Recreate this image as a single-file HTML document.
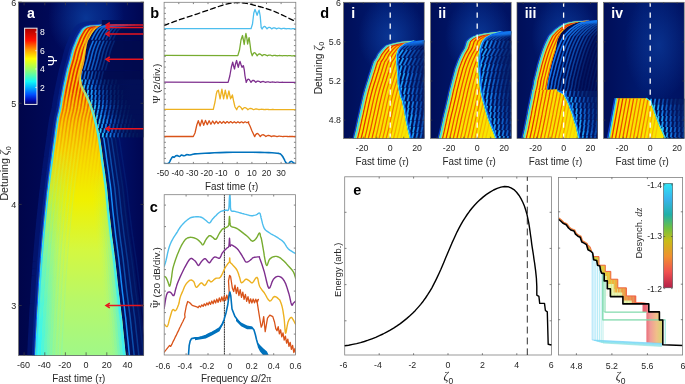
<!DOCTYPE html>
<html><head><meta charset="utf-8"><style>
html,body{margin:0;padding:0;background:#fff;}
svg{display:block;will-change:transform;}
text{font-family:"Liberation Sans", sans-serif;}
</style></head><body>
<svg xmlns="http://www.w3.org/2000/svg" width="685" height="384" viewBox="0 0 685 384">
<defs>
<clipPath id="clipA"><rect x="18.5" y="2.1" width="125.2" height="353.4"/></clipPath>
<linearGradient id="aBg" x1="0" y1="0" x2="1" y2="0">
<stop offset="0" stop-color="#00054a"/><stop offset="0.35" stop-color="#000a5c"/>
<stop offset="0.7" stop-color="#001470"/><stop offset="1" stop-color="#000652"/></linearGradient>
<radialGradient id="aGlow" cx="0.5" cy="0.5" r="0.5">
<stop offset="0" stop-color="#0a3a9a" stop-opacity="0.9"/><stop offset="1" stop-color="#0a3a9a" stop-opacity="0"/></radialGradient>
<clipPath id="aUp0"><path d="M101.9,20 L101.9,24.7 L100.2,25.7 L98.5,26.7 L97.2,27.7 L96,28.7 L94.8,29.7 L94.1,30.7 L93.3,31.7 L92.6,32.7 L91.9,33.7 L91.3,34.7 L90.8,35.7 L90.2,36.7 L89.7,37.7 L89.1,38.7 L88.5,39.7 L88.2,40.3 L140,40.3 L140,20Z"/></clipPath>
<clipPath id="aUp1"><path d="M88.2,40.3 L88,40.7 L87.6,41.7 L87.4,42.7 L87.2,43.7 L86.9,44.7 L86.8,45 L86.2,48.5 L85.6,52 L85.2,55.5 L84.7,59 L84.1,62.5 L83.3,66 L82.2,69.5 L81.9,70.8 L140,70.8 L140,40.3Z"/></clipPath>
<clipPath id="aUp2"><path d="M81.9,70.8 L81.5,73 L81,76.5 L81,80 L81,80 L140,80 L140,70.8Z"/></clipPath>
<linearGradient id="ckBgA" gradientUnits="userSpaceOnUse" x1="80" y1="0" x2="130" y2="0"><stop offset="0" stop-color="#000a4c"/><stop offset="1" stop-color="#020f56"/></linearGradient>
<clipPath id="aBody"><path d="M101.9,24.7 L89.4,25.7 L85.9,26.7 L84.1,27.7 L82.8,28.7 L81.9,29.7 L81.2,30.7 L80.6,31.7 L80,32.7 L79.4,33.7 L78.8,34.7 L78.3,35.7 L77.8,36.7 L77.3,37.7 L76.8,38.7 L76.4,39.7 L76,40.7 L75.6,41.7 L75.2,42.7 L74.8,43.7 L74.4,44.7 L74.2,45 L72.9,48.5 L71.8,52 L70.9,55.5 L70.1,59 L69.1,62.5 L68.1,66 L67.1,69.5 L66.3,73 L65.5,76.5 L64.8,80 L64,83.5 L63.3,87 L62.6,90.5 L62,94 L61.3,97.5 L60.7,101 L60.2,104.5 L59.6,108 L58.9,111.5 L58,115 L57.2,118.5 L56.6,122 L56.1,125.5 L55.6,129 L55.1,132.5 L54.7,136 L54.2,139.5 L53.7,143 L53.2,146.5 L52.7,150 L52.2,153.5 L51.8,157 L51.3,160.5 L50.8,164 L50.4,167.5 L49.9,171 L49.5,174.5 L49,178 L48.6,181.5 L48.2,185 L47.8,188.5 L47.3,192 L46.9,195.5 L46.6,199 L46.2,202.5 L45.8,206 L45.5,209.5 L45.1,213 L44.7,216.5 L44.4,220 L44,223.5 L43.7,227 L43.4,230.5 L43,234 L42.7,237.5 L42.4,241 L42.1,244.5 L41.8,248 L41.5,251.5 L41.2,255 L40.9,258.5 L40.7,262 L40.4,265.5 L40.2,269 L39.9,272.5 L39.7,276 L39.4,279.5 L39.1,283 L38.9,286.5 L38.7,290 L38.5,293.5 L38.3,297 L38.1,300.5 L37.9,304 L37.6,307.5 L37.4,311 L37.2,314.5 L37,318 L36.8,321.5 L36.7,325 L36.5,328.5 L36.3,332 L36.1,335.5 L35.9,339 L35.7,342.5 L35.6,346 L35.4,349.5 L35.3,353 L35.2,356.5 L35.2,357 L126,357 L126,356.5 L125.6,353 L125.2,349.5 L124.9,346 L124.5,342.5 L124.2,339 L123.8,335.5 L123.5,332 L123.1,328.5 L122.8,325 L122.5,321.5 L122.1,318 L121.6,314.5 L121.2,311 L120.8,307.5 L120.3,304 L119.9,300.5 L119.5,297 L119,293.5 L118.6,290 L118.2,286.5 L117.8,283 L117.4,279.5 L117.1,276 L116.7,272.5 L116.3,269 L115.9,265.5 L115.5,262 L115.1,258.5 L114.6,255 L114.2,251.5 L113.7,248 L113.3,244.5 L112.8,241 L112.3,237.5 L111.9,234 L111.5,230.5 L111.1,227 L110.7,223.5 L110.3,220 L109.9,216.5 L109.5,213 L109.1,209.5 L108.8,206 L108.5,202.5 L108.1,199 L107.8,195.5 L107.5,192 L107.1,188.5 L106.7,185 L106.2,181.5 L105.7,178 L105.3,174.5 L104.8,171 L104.3,167.5 L103.8,164 L103.3,160.5 L102.8,157 L102.4,153.5 L101.9,150 L101.4,146.5 L100.9,143 L100.4,139.5 L99.7,136 L99,132.5 L98.3,129 L97.5,125.5 L96.6,122 L95.7,118.5 L94.8,115 L93.8,111.5 L92.6,108 L91.4,104.5 L90,101 L88.4,97.5 L86.7,94 L84.8,90.5 L82.9,87 L81.7,83.5 L81,80 L81,76.5 L81.5,73 L82.2,69.5 L83.3,66 L84.1,62.5 L84.7,59 L85.2,55.5 L85.6,52 L86.2,48.5 L86.8,45 L86.9,44.7 L87.2,43.7 L87.4,42.7 L87.6,41.7 L88,40.7 L88.5,39.7 L89.1,38.7 L89.7,37.7 L90.2,36.7 L90.8,35.7 L91.3,34.7 L91.9,33.7 L92.6,32.7 L93.3,31.7 L94.1,30.7 L94.8,29.7 L96,28.7 L97.2,27.7 L98.5,26.7 L100.2,25.7 L101.9,24.7Z"/></clipPath>
<linearGradient id="aBodyG" gradientUnits="userSpaceOnUse" x1="0" y1="24" x2="0" y2="356">
<stop offset="0" stop-color="#f8c400"/><stop offset="0.2" stop-color="#f8c000"/><stop offset="0.38" stop-color="#f8d800"/>
<stop offset="0.53" stop-color="#f0f000"/><stop offset="0.68" stop-color="#d4f840"/><stop offset="0.83" stop-color="#b8f868"/><stop offset="1" stop-color="#a0f888"/></linearGradient>
<linearGradient id="aStripe" gradientUnits="userSpaceOnUse" x1="0" y1="24" x2="0" y2="356">
<stop offset="0" stop-color="#e42800" stop-opacity="1"/><stop offset="0.2" stop-color="#e83400" stop-opacity="1"/>
<stop offset="0.3" stop-color="#f07000" stop-opacity="0.6"/><stop offset="0.4" stop-color="#f0a000" stop-opacity="0.25"/><stop offset="0.5" stop-color="#f0c000" stop-opacity="0.0"/><stop offset="1" stop-color="#f0c000" stop-opacity="0"/></linearGradient>
<linearGradient id="aStripeL" gradientUnits="userSpaceOnUse" x1="0" y1="24" x2="0" y2="356">
<stop offset="0" stop-color="#f8f020" stop-opacity="0.0"/><stop offset="0.3" stop-color="#d0f860" stop-opacity="0.0"/>
<stop offset="0.5" stop-color="#b0f070" stop-opacity="0.3"/><stop offset="1" stop-color="#60f8e0" stop-opacity="0.25"/></linearGradient>
<linearGradient id="aLW0" gradientUnits="userSpaceOnUse" x1="0" y1="150" x2="0" y2="356"><stop offset="0" stop-color="#30f4fc" stop-opacity="0.0"/><stop offset="1" stop-color="#30f4fc" stop-opacity="1.0"/></linearGradient>
<linearGradient id="aLW1" gradientUnits="userSpaceOnUse" x1="0" y1="150" x2="0" y2="356"><stop offset="0" stop-color="#34f6f4" stop-opacity="0.0"/><stop offset="1" stop-color="#34f6f4" stop-opacity="1.0"/></linearGradient>
<linearGradient id="aLW2" gradientUnits="userSpaceOnUse" x1="0" y1="150" x2="0" y2="356"><stop offset="0" stop-color="#44f6e4" stop-opacity="0.0"/><stop offset="1" stop-color="#44f6e4" stop-opacity="0.92"/></linearGradient>
<linearGradient id="aLW3" gradientUnits="userSpaceOnUse" x1="0" y1="150" x2="0" y2="356"><stop offset="0" stop-color="#54f6d4" stop-opacity="0.0"/><stop offset="1" stop-color="#54f6d4" stop-opacity="0.82"/></linearGradient>
<linearGradient id="aLW4" gradientUnits="userSpaceOnUse" x1="0" y1="150" x2="0" y2="356"><stop offset="0" stop-color="#64f6c4" stop-opacity="0.0"/><stop offset="1" stop-color="#64f6c4" stop-opacity="0.7"/></linearGradient>
<linearGradient id="aLW5" gradientUnits="userSpaceOnUse" x1="0" y1="150" x2="0" y2="356"><stop offset="0" stop-color="#74f6b4" stop-opacity="0.0"/><stop offset="1" stop-color="#74f6b4" stop-opacity="0.56"/></linearGradient>
<linearGradient id="aLW6" gradientUnits="userSpaceOnUse" x1="0" y1="150" x2="0" y2="356"><stop offset="0" stop-color="#84f6a4" stop-opacity="0.0"/><stop offset="1" stop-color="#84f6a4" stop-opacity="0.42"/></linearGradient>
<linearGradient id="aLW7" gradientUnits="userSpaceOnUse" x1="0" y1="150" x2="0" y2="356"><stop offset="0" stop-color="#94f694" stop-opacity="0.0"/><stop offset="1" stop-color="#94f694" stop-opacity="0.28"/></linearGradient>
<linearGradient id="aLW8" gradientUnits="userSpaceOnUse" x1="0" y1="150" x2="0" y2="356"><stop offset="0" stop-color="#a0f688" stop-opacity="0.0"/><stop offset="1" stop-color="#a0f688" stop-opacity="0.14"/></linearGradient>
<linearGradient id="aRW0" gradientUnits="userSpaceOnUse" x1="0" y1="170" x2="0" y2="356"><stop offset="0" stop-color="#40f0f4" stop-opacity="0.0"/><stop offset="1" stop-color="#40f0f4" stop-opacity="0.9"/></linearGradient>
<linearGradient id="aRW1" gradientUnits="userSpaceOnUse" x1="0" y1="170" x2="0" y2="356"><stop offset="0" stop-color="#50f2e0" stop-opacity="0.0"/><stop offset="1" stop-color="#50f2e0" stop-opacity="0.8"/></linearGradient>
<linearGradient id="aRW2" gradientUnits="userSpaceOnUse" x1="0" y1="170" x2="0" y2="356"><stop offset="0" stop-color="#60f4cc" stop-opacity="0.0"/><stop offset="1" stop-color="#60f4cc" stop-opacity="0.62"/></linearGradient>
<linearGradient id="aRW3" gradientUnits="userSpaceOnUse" x1="0" y1="170" x2="0" y2="356"><stop offset="0" stop-color="#74f6b8" stop-opacity="0.0"/><stop offset="1" stop-color="#74f6b8" stop-opacity="0.45"/></linearGradient>
<linearGradient id="aRW4" gradientUnits="userSpaceOnUse" x1="0" y1="170" x2="0" y2="356"><stop offset="0" stop-color="#88f6a4" stop-opacity="0.0"/><stop offset="1" stop-color="#88f6a4" stop-opacity="0.28"/></linearGradient>
<linearGradient id="aRW5" gradientUnits="userSpaceOnUse" x1="0" y1="170" x2="0" y2="356"><stop offset="0" stop-color="#98f694" stop-opacity="0.0"/><stop offset="1" stop-color="#98f694" stop-opacity="0.12"/></linearGradient>
<linearGradient id="aRightG" gradientUnits="userSpaceOnUse" x1="0" y1="24" x2="0" y2="356">
<stop offset="0" stop-color="#f8d820" stop-opacity="0.5"/><stop offset="0.15" stop-color="#e8f040" stop-opacity="0.6"/><stop offset="0.22" stop-color="#80f0b0" stop-opacity="0.9"/><stop offset="0.3" stop-color="#40e8f0" stop-opacity="1"/>
<stop offset="1" stop-color="#40f0f0" stop-opacity="1"/></linearGradient>
<linearGradient id="jetCB" x1="0" y1="1" x2="0" y2="0">
<stop offset="0" stop-color="#00005a"/><stop offset="0.06" stop-color="#0010c0"/><stop offset="0.13" stop-color="#0050ff"/>
<stop offset="0.22" stop-color="#00b0ff"/><stop offset="0.3" stop-color="#10f8f8"/><stop offset="0.45" stop-color="#90ff70"/>
<stop offset="0.6" stop-color="#ffff00"/><stop offset="0.72" stop-color="#ff9800"/><stop offset="0.84" stop-color="#ff1000"/><stop offset="1" stop-color="#a80000"/></linearGradient>
<clipPath id="clipB"><rect x="164.1" y="1.2999999999999998" width="131.7" height="162.4"/></clipPath>
<clipPath id="clipC"><rect x="164.2" y="194.7" width="131.4" height="160.3"/></clipPath>
<linearGradient id="dBg" x1="0" y1="0" x2="1" y2="0">
<stop offset="0" stop-color="#000e58"/><stop offset="0.5" stop-color="#001a70"/><stop offset="1" stop-color="#001262"/></linearGradient>
<radialGradient id="dGlow" cx="0.5" cy="0.5" r="0.5">
<stop offset="0" stop-color="#0c3c9c" stop-opacity="0.85"/><stop offset="1" stop-color="#0c3c9c" stop-opacity="0"/></radialGradient>
<linearGradient id="dBodyG" gradientUnits="userSpaceOnUse" x1="0" y1="20" x2="0" y2="139">
<stop offset="0" stop-color="#f8d400"/><stop offset="0.5" stop-color="#f8e000"/><stop offset="1" stop-color="#f8e800"/></linearGradient>
<linearGradient id="ckBg" x1="0" y1="0" x2="1" y2="0"><stop offset="0" stop-color="#000a4c"/><stop offset="1" stop-color="#041c6a"/></linearGradient>
<clipPath id="clipD0"><rect x="343.6" y="2.3" width="80.6" height="136.2"/></clipPath>
<clipPath id="dR0"><path d="M414,41 L413.5,41.1 L403.9,44.1 L399.7,47.1 L397.5,50.1 L396.7,53.1 L396,56.1 L396.1,59.1 L396.2,62.1 L396.5,65.1 L396.7,68.1 L396.9,71.1 L397.2,74.1 L397.3,77.1 L397.5,80.1 L397.6,83.1 L398,86.1 L398.5,89.1 L399.1,92.1 L399.8,95.1 L400.7,98.1 L401.9,101.1 L402.5,104.1 L403.2,107.1 L403.9,110.1 L404.4,113.1 L404.9,116.1 L405.4,119.1 L406,122.1 L406.7,125.1 L407.3,128.1 L408,131.1 L408.7,134.1 L409.5,137.1 L409.9,140.1 L410,141 L426.2,141 L426.2,40.3Z"/></clipPath>
<clipPath id="dB0"><path d="M414,40.8 L401.6,41.8 L396.4,42.8 L392.1,43.8 L388.7,44.8 L386,45.8 L385,46.8 L383.9,47.8 L382.9,48.8 L381.9,49.8 L381.1,50.8 L380.3,51.8 L379.5,52.8 L378.7,53.8 L378.1,54.8 L377.6,55.8 L377.1,56.8 L376.6,57.8 L376,58.8 L375.3,59.8 L374.6,60.8 L373.9,61.8 L373.6,62.8 L372.6,65.8 L371.7,68.8 L370.8,71.8 L369.8,74.8 L368.9,77.8 L368,80.8 L367,83.8 L366.1,86.8 L365.2,89.8 L364.4,92.8 L363.6,95.8 L362.9,98.8 L362.2,101.8 L361.5,104.8 L360.9,107.8 L360.2,110.8 L359.6,113.8 L358.9,116.8 L358.2,119.8 L357.6,122.8 L356.9,125.8 L356.3,128.8 L355.6,131.8 L354.8,134.8 L354.1,137.8 L353.6,140.8 L353.6,141 L410,141 L409.9,140.1 L409.5,137.1 L408.7,134.1 L408,131.1 L407.3,128.1 L406.7,125.1 L406,122.1 L405.4,119.1 L404.9,116.1 L404.4,113.1 L403.9,110.1 L403.2,107.1 L402.5,104.1 L401.9,101.1 L400.7,98.1 L399.8,95.1 L399.1,92.1 L398.5,89.1 L398,86.1 L397.6,83.1 L397.5,80.1 L397.3,77.1 L397.2,74.1 L396.9,71.1 L396.7,68.1 L396.5,65.1 L396.2,62.1 L396.1,59.1 L396,56.1 L396.7,53.1 L397.5,50.1 L399.7,47.1 L403.9,44.1 L413.5,41.1 L414,41Z"/></clipPath>
<clipPath id="clipD1"><rect x="430.6" y="2.3" width="80.6" height="136.2"/></clipPath>
<clipPath id="dR1"><path d="M501,31.7 L500.4,31.8 L490,34.8 L485.1,37.8 L482.4,40.8 L480.9,43.8 L479.9,46.8 L479.3,49.8 L479,52.8 L478.6,55.8 L478.5,58.8 L478.3,61.8 L478.2,64.8 L478.4,67.8 L478.5,70.8 L478.7,73.8 L478.9,76.8 L479.1,79.8 L479.3,82.8 L479.6,85.8 L480,88.8 L480.5,91.8 L481.1,94.8 L481.8,97.8 L482.5,100.8 L483.4,103.8 L484.2,106.8 L485,109.8 L486,112.8 L486.9,115.8 L487.9,118.8 L489,121.8 L490.1,124.8 L491.3,127.8 L492.5,130.8 L493.7,133.8 L494.8,136.8 L495.4,139.8 L495.5,141 L513.2,141 L513.2,31.1Z"/></clipPath>
<clipPath id="dB1"><path d="M501,31.6 L491.8,32.6 L484.5,33.6 L479.6,34.6 L476.1,35.6 L473.3,36.6 L471.7,37.6 L470,38.6 L469,39.6 L467.9,40.6 L467,41.6 L466.7,42.6 L466.4,43.6 L466.1,44.6 L465.8,45.6 L465.5,46.6 L465.2,47.6 L464.8,48.6 L464.2,49.6 L463.6,50.6 L463,51.6 L462.4,52.6 L461.8,53.6 L460.4,56.6 L459,59.6 L457.8,62.6 L456.7,65.6 L455.6,68.6 L454.8,71.6 L454,74.6 L453.2,77.6 L452.4,80.6 L451.6,83.6 L450.9,86.6 L450.1,89.6 L449.4,92.6 L448.8,95.6 L448.1,98.6 L447.4,101.6 L446.7,104.6 L446,107.6 L445.3,110.6 L444.5,113.6 L443.8,116.6 L443.1,119.6 L442.5,122.6 L441.8,125.6 L441.2,128.6 L440.5,131.6 L439.8,134.6 L439.1,137.6 L438.8,140.6 L438.8,141 L495.5,141 L495.4,139.8 L494.8,136.8 L493.7,133.8 L492.5,130.8 L491.3,127.8 L490.1,124.8 L489,121.8 L487.9,118.8 L486.9,115.8 L486,112.8 L485,109.8 L484.2,106.8 L483.4,103.8 L482.5,100.8 L481.8,97.8 L481.1,94.8 L480.5,91.8 L480,88.8 L479.6,85.8 L479.3,82.8 L479.1,79.8 L478.9,76.8 L478.7,73.8 L478.5,70.8 L478.4,67.8 L478.2,64.8 L478.3,61.8 L478.5,58.8 L478.6,55.8 L479,52.8 L479.3,49.8 L479.9,46.8 L480.9,43.8 L482.4,40.8 L485.1,37.8 L490,34.8 L500.4,31.8 L501,31.7Z"/></clipPath>
<clipPath id="clipD2"><rect x="517" y="2.3" width="80.6" height="136.2"/></clipPath>
<clipPath id="dR2"><path d="M590,20.6 L578.9,22.1 L574.1,23.6 L570.8,25.1 L567.9,26.6 L565.9,28.1 L564.4,29.6 L563.3,30.6 L560.7,33.6 L559.2,36.6 L557.7,39.6 L557,42.6 L556.4,45.6 L555.9,48.6 L555.1,51.6 L554.2,54.6 L553.2,57.6 L552.4,60.6 L551.6,63.6 L550.9,66.6 L550.1,69.6 L549.5,72.6 L548.9,75.6 L548.3,78.6 L547.8,81.6 L547.3,84.6 L546.9,87.6 L546.5,90.5 L546.5,92.5 L557,90.8 L557.3,90.9 L563.2,93.9 L564.8,96.9 L566.2,99.9 L567.8,102.9 L568.9,105.9 L569.9,108.9 L571,111.9 L572.1,114.9 L573,117.9 L573.9,120.9 L574.9,123.9 L575.8,126.9 L576.5,129.9 L577.1,132.9 L577.8,135.9 L578.3,138.9 L578.5,141 L599.6,141 L599.6,19.9Z"/></clipPath>
<clipPath id="dB2u"><path d="M590,20.4 L574.3,21.4 L568.6,22.4 L565,23.4 L563.2,24.4 L561.4,25.4 L559.7,26.4 L558.4,27.4 L557,28.4 L555.6,29.4 L554.6,30.4 L553.6,31.4 L552.6,32.4 L551.7,33.4 L550.7,34.4 L549.7,35.4 L549,36.4 L548.5,37.4 L548,38.4 L547.5,39.4 L547,40.4 L546.5,41.4 L546,42.4 L544.7,45.4 L543.5,48.4 L542.4,51.4 L541.4,54.4 L540.5,57.4 L539.6,60.4 L538.7,63.4 L537.9,66.4 L537.2,69.4 L536.4,72.4 L535.7,75.4 L534.9,78.4 L534.2,81.4 L533.8,84.4 L533.2,87.4 L532.4,90.4 L532.3,91.5 L546.5,91.5 L546.5,90.5 L546.9,87.6 L547.3,84.6 L547.8,81.6 L548.3,78.6 L548.9,75.6 L549.5,72.6 L550.1,69.6 L550.9,66.6 L551.6,63.6 L552.4,60.6 L553.2,57.6 L554.2,54.6 L555.1,51.6 L555.9,48.6 L556.4,45.6 L557,42.6 L557.7,39.6 L559.2,36.6 L560.7,33.6 L563.3,30.6 L564.4,29.6 L565.9,28.1 L567.9,26.6 L570.8,25.1 L574.1,23.6 L578.9,22.1 L590,20.6Z"/></clipPath>
<clipPath id="dB2l"><path d="M532.3,90.5 L531.7,93.4 L531.2,96.4 L530.6,99.4 L530,102.4 L529.4,105.4 L528.8,108.4 L528.2,111.4 L527.7,114.4 L527.1,117.4 L526.5,120.4 L525.9,123.4 L525.3,126.4 L524.7,129.4 L524,132.4 L523.3,135.4 L522.7,138.4 L522.5,141 L578.5,141 L578.3,138.9 L577.8,135.9 L577.1,132.9 L576.5,129.9 L575.8,126.9 L574.9,123.9 L573.9,120.9 L573,117.9 L572.1,114.9 L571,111.9 L569.9,108.9 L568.9,105.9 L567.8,102.9 L566.2,99.9 L564.8,96.9 L563.2,93.9 L557.3,90.9 L557,90.8 L557,89.3Z"/></clipPath>
<clipPath id="clipD3"><rect x="603.6" y="2.3" width="80.6" height="136.2"/></clipPath>
<clipPath id="dR3"><path d="M645.5,98.2 L645.7,98.3 L650.3,101.3 L651.3,104.3 L652.4,107.3 L653.5,110.3 L654.6,113.3 L655.6,116.3 L656.7,119.3 L657.9,122.3 L659.2,125.3 L660.5,128.3 L661.8,131.3 L663.1,134.3 L664.5,137.3 L665,140.3 L665,141 L686.2,141 L686.2,98.6Z"/></clipPath>
<clipPath id="dB3"><path d="M615.4,98.2 L645.5,98.2 L645.7,98.3 L650.3,101.3 L651.3,104.3 L652.4,107.3 L653.5,110.3 L654.6,113.3 L655.6,116.3 L656.7,119.3 L657.9,122.3 L659.2,125.3 L660.5,128.3 L661.8,131.3 L663.1,134.3 L664.5,137.3 L665,140.3 L665,141 L607.8,141Z"/></clipPath>
<clipPath id="clipF"><rect x="558.4" y="177.4" width="124.2" height="177.6"/></clipPath>
<linearGradient id="fBand" gradientUnits="userSpaceOnUse" x1="590" y1="0" x2="640" y2="0">
<stop offset="0" stop-color="#c8d040"/><stop offset="0.35" stop-color="#f0c030"/><stop offset="0.7" stop-color="#f49040"/><stop offset="1" stop-color="#f06050"/></linearGradient>
<clipPath id="fBandClip"><path d="M586,244 L590,246.5 L593.6,256.6 L599,256.6 L599,265.2 L605.3,265.2 L605.3,271.4 L610.8,271.4 L610.8,279.2 L617.8,279.2 L617.8,287.8 L626.4,287.8 L626.4,295.9 L635.8,295.9 L635.8,302.7 L642.5,302.7 L648.8,303.9 L648.8,311.9 L648.8,303.9 L622.9,303.9 L622.9,296.6 L610.4,296.6 L610.4,288.8 L607.3,288.8 L607.3,280.9 L604.2,280.9 L604.2,273.6 L601.6,273.1 L600.6,270.6 L599.8,265.9 L597.5,265.2 L596.7,260.5 L593.6,259.7 L592.7,253 L590.4,251 L588,249.8 L586.5,244.7Z"/></clipPath>
<linearGradient id="fBlock" gradientUnits="userSpaceOnUse" x1="645" y1="0" x2="663" y2="0">
<stop offset="0" stop-color="#e86070"/><stop offset="0.3" stop-color="#f09c98"/><stop offset="0.65" stop-color="#f0c088"/><stop offset="1" stop-color="#d0d870"/></linearGradient>
<linearGradient id="fCB" x1="0" y1="0" x2="0" y2="1">
<stop offset="0" stop-color="#30e4f4"/><stop offset="0.15" stop-color="#38b4ec"/><stop offset="0.3" stop-color="#20b0a8"/>
<stop offset="0.43" stop-color="#70c040"/><stop offset="0.55" stop-color="#c8bc18"/><stop offset="0.7" stop-color="#f09030"/>
<stop offset="0.85" stop-color="#f05050"/><stop offset="1" stop-color="#b42048"/></linearGradient>
</defs>
<rect width="685" height="384" fill="#fff"/>
<g clip-path="url(#clipA)">
<rect x="18.5" y="2.1" width="125.2" height="353.4" fill="url(#aBg)"/>
<ellipse cx="86" cy="18" rx="38" ry="42" fill="url(#aGlow)"/>
<path d="M101.9,24.7 L89.4,25.7 L85.9,26.7 L84.1,27.7 L82.8,28.7 L81.9,29.7 L81.2,30.7 L80.6,31.7 L80,32.7 L79.4,33.7 L78.8,34.7 L78.3,35.7 L77.8,36.7 L77.3,37.7 L76.8,38.7 L76.4,39.7 L76,40.7 L75.6,41.7 L75.2,42.7 L74.8,43.7 L74.4,44.7 L74.2,45 L72.9,48.5 L71.8,52 L70.9,55.5 L70.1,59 L69.1,62.5 L68.1,66 L67.1,69.5 L66.3,73 L65.5,76.5 L64.8,80 L64,83.5 L63.3,87 L62.6,90.5 L62,94 L61.3,97.5 L60.7,101 L60.2,104.5 L59.6,108 L58.9,111.5 L58,115 L57.2,118.5 L56.6,122 L56.1,125.5 L55.6,129 L55.1,132.5 L54.7,136 L54.2,139.5 L53.7,143 L53.2,146.5 L52.7,150 L52.2,153.5 L51.8,157 L51.3,160.5 L50.8,164 L50.4,167.5 L49.9,171 L49.5,174.5 L49,178 L48.6,181.5 L48.2,185 L47.8,188.5 L47.3,192 L46.9,195.5 L46.6,199 L46.2,202.5 L45.8,206 L45.5,209.5 L45.1,213 L44.7,216.5 L44.4,220 L44,223.5 L43.7,227 L43.4,230.5 L43,234 L42.7,237.5 L42.4,241 L42.1,244.5 L41.8,248 L41.5,251.5 L41.2,255 L40.9,258.5 L40.7,262 L40.4,265.5 L40.2,269 L39.9,272.5 L39.7,276 L39.4,279.5 L39.1,283 L38.9,286.5 L38.7,290 L38.5,293.5 L38.3,297 L38.1,300.5 L37.9,304 L37.6,307.5 L37.4,311 L37.2,314.5 L37,318 L36.8,321.5 L36.7,325 L36.5,328.5 L36.3,332 L36.1,335.5 L35.9,339 L35.7,342.5 L35.6,346 L35.4,349.5 L35.3,353 L35.2,356.5 L35.2,357" fill="none" stroke="#041e84" stroke-width="8" opacity="0.55" transform="translate(-4,0)"/>
<path d="M101.9,24.7 L89.4,25.7 L85.9,26.7 L84.1,27.7 L82.8,28.7 L81.9,29.7 L81.2,30.7 L80.6,31.7 L80,32.7 L79.4,33.7 L78.8,34.7 L78.3,35.7 L77.8,36.7 L77.3,37.7 L76.8,38.7 L76.4,39.7 L76,40.7 L75.6,41.7 L75.2,42.7 L74.8,43.7 L74.4,44.7 L74.2,45 L72.9,48.5 L71.8,52 L70.9,55.5 L70.1,59 L69.1,62.5 L68.1,66 L67.1,69.5 L66.3,73 L65.5,76.5 L64.8,80 L64,83.5 L63.3,87 L62.6,90.5 L62,94 L61.3,97.5 L60.7,101 L60.2,104.5 L59.6,108 L58.9,111.5 L58,115 L57.2,118.5 L56.6,122 L56.1,125.5 L55.6,129 L55.1,132.5 L54.7,136 L54.2,139.5 L53.7,143 L53.2,146.5 L52.7,150 L52.2,153.5 L51.8,157 L51.3,160.5 L50.8,164 L50.4,167.5 L49.9,171 L49.5,174.5 L49,178 L48.6,181.5 L48.2,185 L47.8,188.5 L47.3,192 L46.9,195.5 L46.6,199 L46.2,202.5 L45.8,206 L45.5,209.5 L45.1,213 L44.7,216.5 L44.4,220 L44,223.5 L43.7,227 L43.4,230.5 L43,234 L42.7,237.5 L42.4,241 L42.1,244.5 L41.8,248 L41.5,251.5 L41.2,255 L40.9,258.5 L40.7,262 L40.4,265.5 L40.2,269 L39.9,272.5 L39.7,276 L39.4,279.5 L39.1,283 L38.9,286.5 L38.7,290 L38.5,293.5 L38.3,297 L38.1,300.5 L37.9,304 L37.6,307.5 L37.4,311 L37.2,314.5 L37,318 L36.8,321.5 L36.7,325 L36.5,328.5 L36.3,332 L36.1,335.5 L35.9,339 L35.7,342.5 L35.6,346 L35.4,349.5 L35.3,353 L35.2,356.5 L35.2,357" fill="none" stroke="#062a98" stroke-width="3.0" opacity="0.6" transform="translate(-1.8,0)"/>
<path d="M101.9,24.7 L89.4,25.7 L85.9,26.7 L84.1,27.7 L82.8,28.7 L81.9,29.7 L81.2,30.7 L80.6,31.7 L80,32.7 L79.4,33.7 L78.8,34.7 L78.3,35.7 L77.8,36.7 L77.3,37.7 L76.8,38.7 L76.4,39.7 L76,40.7 L75.6,41.7 L75.2,42.7 L74.8,43.7 L74.4,44.7 L74.2,45 L72.9,48.5 L71.8,52 L70.9,55.5 L70.1,59 L69.1,62.5 L68.1,66 L67.1,69.5 L66.3,73 L65.5,76.5 L64.8,80 L64,83.5 L63.3,87 L62.6,90.5 L62,94 L61.3,97.5 L60.7,101 L60.2,104.5 L59.6,108 L58.9,111.5 L58,115 L57.2,118.5 L56.6,122 L56.1,125.5 L55.6,129 L55.1,132.5 L54.7,136 L54.2,139.5 L53.7,143 L53.2,146.5 L52.7,150 L52.2,153.5 L51.8,157 L51.3,160.5 L50.8,164 L50.4,167.5 L49.9,171 L49.5,174.5 L49,178 L48.6,181.5 L48.2,185 L47.8,188.5 L47.3,192 L46.9,195.5 L46.6,199 L46.2,202.5 L45.8,206 L45.5,209.5 L45.1,213 L44.7,216.5 L44.4,220 L44,223.5 L43.7,227 L43.4,230.5 L43,234 L42.7,237.5 L42.4,241 L42.1,244.5 L41.8,248 L41.5,251.5 L41.2,255 L40.9,258.5 L40.7,262 L40.4,265.5 L40.2,269 L39.9,272.5 L39.7,276 L39.4,279.5 L39.1,283 L38.9,286.5 L38.7,290 L38.5,293.5 L38.3,297 L38.1,300.5 L37.9,304 L37.6,307.5 L37.4,311 L37.2,314.5 L37,318 L36.8,321.5 L36.7,325 L36.5,328.5 L36.3,332 L36.1,335.5 L35.9,339 L35.7,342.5 L35.6,346 L35.4,349.5 L35.3,353 L35.2,356.5 L35.2,357" fill="none" stroke="#0c58e8" stroke-width="1.2" transform="translate(-0.5,0)"/>
<path d="M99,132.5 L99.7,136 L100.4,139.5 L100.9,143 L101.4,146.5 L101.9,150 L102.4,153.5 L102.8,157 L103.3,160.5 L103.8,164 L104.3,167.5 L104.8,171 L105.3,174.5 L105.7,178 L106.2,181.5 L106.7,185 L107.1,188.5 L107.5,192 L107.8,195.5 L108.1,199 L108.5,202.5 L108.8,206 L109.1,209.5 L109.5,213 L109.9,216.5 L110.3,220 L110.7,223.5 L111.1,227 L111.5,230.5 L111.9,234 L112.3,237.5 L112.8,241 L113.3,244.5 L113.7,248 L114.2,251.5 L114.6,255 L115.1,258.5 L115.5,262 L115.9,265.5 L116.3,269 L116.7,272.5 L117.1,276 L117.4,279.5 L117.8,283 L118.2,286.5 L118.6,290 L119,293.5 L119.5,297 L119.9,300.5 L120.3,304 L120.8,307.5 L121.2,311 L121.6,314.5 L122.1,318 L122.5,321.5 L122.8,325 L123.1,328.5 L123.5,332 L123.8,335.5 L124.2,339 L124.5,342.5 L124.9,346 L125.2,349.5 L125.6,353 L126,356.5 L126,357 L146.5,357 L146.5,356.5 L146.1,353 L145.6,349.5 L145.2,346 L144.8,342.5 L144.4,339 L144,335.5 L143.5,332 L143.1,328.5 L142.7,325 L142.3,321.5 L141.8,318 L141.3,314.5 L140.8,311 L140.3,307.5 L139.8,304 L139.3,300.5 L138.8,297 L138.3,293.5 L137.8,290 L137.3,286.5 L136.9,283 L136.4,279.5 L136,276 L135.5,272.5 L135.1,269 L134.6,265.5 L134.2,262 L133.7,258.5 L133.1,255 L132.6,251.5 L132.1,248 L131.5,244.5 L131,241 L130.5,237.5 L130,234 L129.5,230.5 L129,227 L128.6,223.5 L128.1,220 L127.6,216.5 L127.1,213 L126.7,209.5 L126.3,206 L125.9,202.5 L125.5,199 L125.1,195.5 L124.7,192 L124.3,188.5 L123.8,185 L123.3,181.5 L122.7,178 L122.2,174.5 L121.6,171 L121,167.5 L120.5,164 L119.9,160.5 L119.4,157 L118.8,153.5 L118.3,150 L117.7,146.5 L117.2,143 L116.6,139.5 L115.9,136 L115.1,132.5Z" fill="#021460" opacity="0.9"/>
<path d="M102.6,132.5 L103.3,136 L104,139.5 L104.5,143 L105,146.5 L105.5,150 L106,153.5 L106.4,157 L106.9,160.5 L107.4,164 L107.9,167.5 L108.4,171 L108.9,174.5 L109.3,178 L109.8,181.5 L110.3,185 L110.7,188.5 L111.1,192 L111.4,195.5 L111.7,199 L112.1,202.5 L112.4,206 L112.7,209.5 L113.1,213 L113.5,216.5 L113.9,220 L114.3,223.5 L114.7,227 L115.1,230.5 L115.5,234 L115.9,237.5 L116.4,241 L116.9,244.5 L117.3,248 L117.8,251.5 L118.2,255 L118.7,258.5 L119.1,262 L119.5,265.5 L119.9,269 L120.3,272.5 L120.7,276 L121,279.5 L121.4,283 L121.8,286.5 L122.2,290 L122.6,293.5 L123.1,297 L123.5,300.5 L123.9,304 L124.4,307.5 L124.8,311 L125.2,314.5 L125.7,318 L126,321.5 L126.4,325 L126.7,328.5 L127.1,332 L127.4,335.5 L127.8,339 L128.2,342.5 L128.5,346 L128.8,349.5 L129.2,353 L129.6,356.5 L129.6,357" fill="none" stroke="#168cf8" stroke-width="1.5" opacity="1"/>
<path d="M106.4,132.5 L107.2,136 L107.9,139.5 L108.4,143 L108.9,146.5 L109.4,150 L109.9,153.5 L110.4,157 L110.9,160.5 L111.3,164 L111.8,167.5 L112.3,171 L112.8,174.5 L113.3,178 L113.8,181.5 L114.3,185 L114.8,188.5 L115.1,192 L115.5,195.5 L115.8,199 L116.2,202.5 L116.5,206 L116.9,209.5 L117.2,213 L117.6,216.5 L118,220 L118.5,223.5 L118.9,227 L119.3,230.5 L119.7,234 L120.2,237.5 L120.6,241 L121.1,244.5 L121.6,248 L122.1,251.5 L122.5,255 L123,258.5 L123.4,262 L123.8,265.5 L124.2,269 L124.6,272.5 L125,276 L125.4,279.5 L125.8,283 L126.2,286.5 L126.6,290 L127.1,293.5 L127.5,297 L128,300.5 L128.4,304 L128.9,307.5 L129.3,311 L129.8,314.5 L130.2,318 L130.6,321.5 L131,325 L131.3,328.5 L131.7,332 L132.1,335.5 L132.4,339 L132.8,342.5 L133.2,346 L133.5,349.5 L133.9,353 L134.3,356.5 L134.3,357" fill="none" stroke="#168cf8" stroke-width="1.5" opacity="0.5"/>
<path d="M110.2,132.5 L111,136 L111.7,139.5 L112.2,143 L112.7,146.5 L113.2,150 L113.8,153.5 L114.3,157 L114.8,160.5 L115.3,164 L115.8,167.5 L116.3,171 L116.8,174.5 L117.3,178 L117.8,181.5 L118.4,185 L118.8,188.5 L119.2,192 L119.5,195.5 L119.9,199 L120.3,202.5 L120.6,206 L121,209.5 L121.3,213 L121.8,216.5 L122.2,220 L122.6,223.5 L123.1,227 L123.5,230.5 L123.9,234 L124.4,237.5 L124.9,241 L125.4,244.5 L125.9,248 L126.3,251.5 L126.8,255 L127.3,258.5 L127.8,262 L128.2,265.5 L128.6,269 L129,272.5 L129.4,276 L129.8,279.5 L130.3,283 L130.7,286.5 L131.1,290 L131.5,293.5 L132,297 L132.5,300.5 L132.9,304 L133.4,307.5 L133.8,311 L134.3,314.5 L134.8,318 L135.2,321.5 L135.6,325 L135.9,328.5 L136.3,332 L136.7,335.5 L137.1,339 L137.4,342.5 L137.8,346 L138.2,349.5 L138.6,353 L139,356.5 L139,357" fill="none" stroke="#168cf8" stroke-width="1.5" opacity="0.3"/>
<path d="M114.1,132.5 L114.8,136 L115.6,139.5 L116.1,143 L116.6,146.5 L117.1,150 L117.6,153.5 L118.2,157 L118.7,160.5 L119.2,164 L119.7,167.5 L120.3,171 L120.8,174.5 L121.3,178 L121.8,181.5 L122.4,185 L122.8,188.5 L123.2,192 L123.6,195.5 L124,199 L124.3,202.5 L124.7,206 L125.1,209.5 L125.5,213 L125.9,216.5 L126.4,220 L126.8,223.5 L127.2,227 L127.7,230.5 L128.1,234 L128.6,237.5 L129.1,241 L129.6,244.5 L130.1,248 L130.6,251.5 L131.1,255 L131.6,258.5 L132.1,262 L132.5,265.5 L133,269 L133.4,272.5 L133.8,276 L134.2,279.5 L134.7,283 L135.1,286.5 L135.5,290 L136,293.5 L136.5,297 L136.9,300.5 L137.4,304 L137.9,307.5 L138.4,311 L138.8,314.5 L139.3,318 L139.7,321.5 L140.1,325 L140.5,328.5 L140.9,332 L141.3,335.5 L141.7,339 L142.1,342.5 L142.5,346 L142.9,349.5 L143.3,353 L143.7,356.5 L143.7,357" fill="none" stroke="#168cf8" stroke-width="1.5" opacity="0.1"/>
<path d="M117.9,132.5 L118.6,136 L119.4,139.5 L119.9,143 L120.5,146.5 L121,150 L121.5,153.5 L122.1,157 L122.6,160.5 L123.2,164 L123.7,167.5 L124.2,171 L124.8,174.5 L125.3,178 L125.9,181.5 L126.4,185 L126.9,188.5 L127.3,192 L127.7,195.5 L128,199 L128.4,202.5 L128.8,206 L129.2,209.5 L129.6,213 L130.1,216.5 L130.5,220 L131,223.5 L131.4,227 L131.9,230.5 L132.3,234 L132.8,237.5 L133.4,241 L133.9,244.5 L134.4,248 L134.9,251.5 L135.4,255 L136,258.5 L136.4,262 L136.9,265.5 L137.3,269 L137.8,272.5 L138.2,276 L138.6,279.5 L139.1,283 L139.5,286.5 L140,290 L140.4,293.5 L140.9,297 L141.4,300.5 L141.9,304 L142.4,307.5 L142.9,311 L143.4,314.5 L143.9,318 L144.3,321.5 L144.7,325 L145.1,328.5 L145.5,332 L145.9,335.5 L146.3,339 L146.8,342.5 L147.2,346 L147.6,349.5 L148,353 L148.4,356.5 L148.4,357" fill="none" stroke="#168cf8" stroke-width="1.5" opacity="0.1"/>
<g clip-path="url(#aUp0)">
<rect x="60" y="20" width="85" height="20.3" fill="#010a4c" opacity="0.85"/>
<path d="M117.4,24.7 L104.9,25.7 L101.4,26.7 L99.6,27.7 L98.3,28.7 L97.4,29.7 L96.7,30.7 L96.1,31.7 L95.5,32.7 L94.9,33.7 L94.3,34.7 L93.8,35.7 L93.3,36.7 L92.8,37.7 L92.3,38.7 L91.9,39.7 L91.5,40.7 L91.1,41.7 L90.7,42.7 L90.3,43.7 L89.9,44.7 L89.7,45 L88.4,48.5 L87.3,52 L86.4,55.5 L85.6,59 L84.6,62.5 L83.6,66 L82.6,69.5 L81.8,73 L81,76.5 L80.3,80 L79.5,83.5 L78.8,87 L78.1,90.5 L77.5,94 L76.8,97.5 L76.2,101 L75.7,104.5 L75.1,108 L74.4,111.5" fill="none" stroke="#1480f4" stroke-width="1.6" opacity="0.9"/>
<path d="M120.9,24.7 L108.4,25.7 L104.9,26.7 L103.1,27.7 L101.8,28.7 L100.9,29.7 L100.2,30.7 L99.6,31.7 L99,32.7 L98.4,33.7 L97.8,34.7 L97.3,35.7 L96.8,36.7 L96.3,37.7 L95.8,38.7 L95.4,39.7 L95,40.7 L94.6,41.7 L94.2,42.7 L93.8,43.7 L93.4,44.7 L93.2,45 L91.9,48.5 L90.8,52 L89.9,55.5 L89.1,59 L88.1,62.5 L87.1,66 L86.1,69.5 L85.3,73 L84.5,76.5 L83.8,80 L83,83.5 L82.3,87 L81.6,90.5 L81,94 L80.3,97.5 L79.7,101 L79.2,104.5 L78.6,108 L77.9,111.5" fill="none" stroke="#1480f4" stroke-width="1.6" opacity="0.8"/>
<path d="M124.4,24.7 L111.9,25.7 L108.4,26.7 L106.6,27.7 L105.3,28.7 L104.4,29.7 L103.7,30.7 L103.1,31.7 L102.5,32.7 L101.9,33.7 L101.3,34.7 L100.8,35.7 L100.3,36.7 L99.8,37.7 L99.3,38.7 L98.9,39.7 L98.5,40.7 L98.1,41.7 L97.7,42.7 L97.3,43.7 L96.9,44.7 L96.7,45 L95.4,48.5 L94.3,52 L93.4,55.5 L92.6,59 L91.6,62.5 L90.6,66 L89.6,69.5 L88.8,73 L88,76.5 L87.3,80 L86.5,83.5 L85.8,87 L85.1,90.5 L84.5,94 L83.8,97.5 L83.2,101 L82.7,104.5 L82.1,108 L81.4,111.5" fill="none" stroke="#1480f4" stroke-width="1.6" opacity="0.7"/>
<path d="M127.9,24.7 L115.4,25.7 L111.9,26.7 L110.1,27.7 L108.8,28.7 L107.9,29.7 L107.2,30.7 L106.6,31.7 L106,32.7 L105.4,33.7 L104.8,34.7 L104.3,35.7 L103.8,36.7 L103.3,37.7 L102.8,38.7 L102.4,39.7 L102,40.7 L101.6,41.7 L101.2,42.7 L100.8,43.7 L100.4,44.7 L100.2,45 L98.9,48.5 L97.8,52 L96.9,55.5 L96.1,59 L95.1,62.5 L94.1,66 L93.1,69.5 L92.3,73 L91.5,76.5 L90.8,80 L90,83.5 L89.3,87 L88.6,90.5 L88,94 L87.3,97.5 L86.7,101 L86.2,104.5 L85.6,108 L84.9,111.5" fill="none" stroke="#1480f4" stroke-width="1.6" opacity="0.6"/>
<path d="M131.4,24.7 L118.9,25.7 L115.4,26.7 L113.6,27.7 L112.3,28.7 L111.4,29.7 L110.7,30.7 L110.1,31.7 L109.5,32.7 L108.9,33.7 L108.3,34.7 L107.8,35.7 L107.3,36.7 L106.8,37.7 L106.3,38.7 L105.9,39.7 L105.5,40.7 L105.1,41.7 L104.7,42.7 L104.3,43.7 L103.9,44.7 L103.7,45 L102.4,48.5 L101.3,52 L100.4,55.5 L99.6,59 L98.6,62.5 L97.6,66 L96.6,69.5 L95.8,73 L95,76.5 L94.3,80 L93.5,83.5 L92.8,87 L92.1,90.5 L91.5,94 L90.8,97.5 L90.2,101 L89.7,104.5 L89.1,108 L88.4,111.5" fill="none" stroke="#1480f4" stroke-width="1.6" opacity="0.4"/>
<path d="M134.9,24.7 L122.4,25.7 L118.9,26.7 L117.1,27.7 L115.8,28.7 L114.9,29.7 L114.2,30.7 L113.6,31.7 L113,32.7 L112.4,33.7 L111.8,34.7 L111.3,35.7 L110.8,36.7 L110.3,37.7 L109.8,38.7 L109.4,39.7 L109,40.7 L108.6,41.7 L108.2,42.7 L107.8,43.7 L107.4,44.7 L107.2,45 L105.9,48.5 L104.8,52 L103.9,55.5 L103.1,59 L102.1,62.5 L101.1,66 L100.1,69.5 L99.3,73 L98.5,76.5 L97.8,80 L97,83.5 L96.3,87 L95.6,90.5 L95,94 L94.3,97.5 L93.7,101 L93.2,104.5 L92.6,108 L91.9,111.5" fill="none" stroke="#1480f4" stroke-width="1.6" opacity="0.3"/>
<path d="M138.4,24.7 L125.9,25.7 L122.4,26.7 L120.6,27.7 L119.3,28.7 L118.4,29.7 L117.7,30.7 L117.1,31.7 L116.5,32.7 L115.9,33.7 L115.3,34.7 L114.8,35.7 L114.3,36.7 L113.8,37.7 L113.3,38.7 L112.9,39.7 L112.5,40.7 L112.1,41.7 L111.7,42.7 L111.3,43.7 L110.9,44.7 L110.7,45 L109.4,48.5 L108.3,52 L107.4,55.5 L106.6,59 L105.6,62.5 L104.6,66 L103.6,69.5 L102.8,73 L102,76.5 L101.3,80 L100.5,83.5 L99.8,87 L99.1,90.5 L98.5,94 L97.8,97.5 L97.2,101 L96.7,104.5 L96.1,108 L95.4,111.5" fill="none" stroke="#1480f4" stroke-width="1.6" opacity="0.2"/>
<path d="M141.9,24.7 L129.4,25.7 L125.9,26.7 L124.1,27.7 L122.8,28.7 L121.9,29.7 L121.2,30.7 L120.6,31.7 L120,32.7 L119.4,33.7 L118.8,34.7 L118.3,35.7 L117.8,36.7 L117.3,37.7 L116.8,38.7 L116.4,39.7 L116,40.7 L115.6,41.7 L115.2,42.7 L114.8,43.7 L114.4,44.7 L114.2,45 L112.9,48.5 L111.8,52 L110.9,55.5 L110.1,59 L109.1,62.5 L108.1,66 L107.1,69.5 L106.3,73 L105.5,76.5 L104.8,80 L104,83.5 L103.3,87 L102.6,90.5 L102,94 L101.3,97.5 L100.7,101 L100.2,104.5 L99.6,108 L98.9,111.5" fill="none" stroke="#1480f4" stroke-width="1.6" opacity="0"/>
<path d="M145.4,24.7 L132.9,25.7 L129.4,26.7 L127.6,27.7 L126.3,28.7 L125.4,29.7 L124.7,30.7 L124.1,31.7 L123.5,32.7 L122.9,33.7 L122.3,34.7 L121.8,35.7 L121.3,36.7 L120.8,37.7 L120.3,38.7 L119.9,39.7 L119.5,40.7 L119.1,41.7 L118.7,42.7 L118.3,43.7 L117.9,44.7 L117.7,45 L116.4,48.5 L115.3,52 L114.4,55.5 L113.6,59 L112.6,62.5 L111.6,66 L110.6,69.5 L109.8,73 L109,76.5 L108.3,80 L107.5,83.5 L106.8,87 L106.1,90.5 L105.5,94 L104.8,97.5 L104.2,101 L103.7,104.5 L103.1,108 L102.4,111.5" fill="none" stroke="#1480f4" stroke-width="1.6" opacity="0"/>
</g>
<g clip-path="url(#aUp1)">
<rect x="60" y="40.3" width="85" height="30.5" fill="#010a4c" opacity="0.85"/>
<path d="M119.2,24.7 L106.7,25.7 L103.2,26.7 L101.4,27.7 L100.1,28.7 L99.2,29.7 L98.5,30.7 L97.9,31.7 L97.3,32.7 L96.7,33.7 L96.1,34.7 L95.6,35.7 L95.1,36.7 L94.6,37.7 L94.1,38.7 L93.7,39.7 L93.3,40.7 L92.9,41.7 L92.5,42.7 L92.1,43.7 L91.7,44.7 L91.5,45 L90.2,48.5 L89.1,52 L88.2,55.5 L87.4,59 L86.4,62.5 L85.4,66 L84.4,69.5 L83.6,73 L82.8,76.5 L82.1,80 L81.3,83.5 L80.6,87 L79.9,90.5 L79.3,94 L78.6,97.5 L78,101 L77.5,104.5 L76.9,108 L76.2,111.5" fill="none" stroke="#1480f4" stroke-width="1.6" opacity="0.9"/>
<path d="M122.7,24.7 L110.2,25.7 L106.7,26.7 L104.9,27.7 L103.6,28.7 L102.7,29.7 L102,30.7 L101.4,31.7 L100.8,32.7 L100.2,33.7 L99.6,34.7 L99.1,35.7 L98.6,36.7 L98.1,37.7 L97.6,38.7 L97.2,39.7 L96.8,40.7 L96.4,41.7 L96,42.7 L95.6,43.7 L95.2,44.7 L95,45 L93.7,48.5 L92.6,52 L91.7,55.5 L90.9,59 L89.9,62.5 L88.9,66 L87.9,69.5 L87.1,73 L86.3,76.5 L85.6,80 L84.8,83.5 L84.1,87 L83.4,90.5 L82.8,94 L82.1,97.5 L81.5,101 L81,104.5 L80.4,108 L79.7,111.5" fill="none" stroke="#1480f4" stroke-width="1.6" opacity="0.8"/>
<path d="M126.2,24.7 L113.7,25.7 L110.2,26.7 L108.4,27.7 L107.1,28.7 L106.2,29.7 L105.5,30.7 L104.9,31.7 L104.3,32.7 L103.7,33.7 L103.1,34.7 L102.6,35.7 L102.1,36.7 L101.6,37.7 L101.1,38.7 L100.7,39.7 L100.3,40.7 L99.9,41.7 L99.5,42.7 L99.1,43.7 L98.7,44.7 L98.5,45 L97.2,48.5 L96.1,52 L95.2,55.5 L94.4,59 L93.4,62.5 L92.4,66 L91.4,69.5 L90.6,73 L89.8,76.5 L89.1,80 L88.3,83.5 L87.6,87 L86.9,90.5 L86.3,94 L85.6,97.5 L85,101 L84.5,104.5 L83.9,108 L83.2,111.5" fill="none" stroke="#1480f4" stroke-width="1.6" opacity="0.7"/>
<path d="M129.7,24.7 L117.2,25.7 L113.7,26.7 L111.9,27.7 L110.6,28.7 L109.7,29.7 L109,30.7 L108.4,31.7 L107.8,32.7 L107.2,33.7 L106.6,34.7 L106.1,35.7 L105.6,36.7 L105.1,37.7 L104.6,38.7 L104.2,39.7 L103.8,40.7 L103.4,41.7 L103,42.7 L102.6,43.7 L102.2,44.7 L102,45 L100.7,48.5 L99.6,52 L98.7,55.5 L97.9,59 L96.9,62.5 L95.9,66 L94.9,69.5 L94.1,73 L93.3,76.5 L92.6,80 L91.8,83.5 L91.1,87 L90.4,90.5 L89.8,94 L89.1,97.5 L88.5,101 L88,104.5 L87.4,108 L86.7,111.5" fill="none" stroke="#1480f4" stroke-width="1.6" opacity="0.6"/>
<path d="M133.2,24.7 L120.7,25.7 L117.2,26.7 L115.4,27.7 L114.1,28.7 L113.2,29.7 L112.5,30.7 L111.9,31.7 L111.3,32.7 L110.7,33.7 L110.1,34.7 L109.6,35.7 L109.1,36.7 L108.6,37.7 L108.1,38.7 L107.7,39.7 L107.3,40.7 L106.9,41.7 L106.5,42.7 L106.1,43.7 L105.7,44.7 L105.5,45 L104.2,48.5 L103.1,52 L102.2,55.5 L101.4,59 L100.4,62.5 L99.4,66 L98.4,69.5 L97.6,73 L96.8,76.5 L96.1,80 L95.3,83.5 L94.6,87 L93.9,90.5 L93.3,94 L92.6,97.5 L92,101 L91.5,104.5 L90.9,108 L90.2,111.5" fill="none" stroke="#1480f4" stroke-width="1.6" opacity="0.4"/>
<path d="M136.7,24.7 L124.2,25.7 L120.7,26.7 L118.9,27.7 L117.6,28.7 L116.7,29.7 L116,30.7 L115.4,31.7 L114.8,32.7 L114.2,33.7 L113.6,34.7 L113.1,35.7 L112.6,36.7 L112.1,37.7 L111.6,38.7 L111.2,39.7 L110.8,40.7 L110.4,41.7 L110,42.7 L109.6,43.7 L109.2,44.7 L109,45 L107.7,48.5 L106.6,52 L105.7,55.5 L104.9,59 L103.9,62.5 L102.9,66 L101.9,69.5 L101.1,73 L100.3,76.5 L99.6,80 L98.8,83.5 L98.1,87 L97.4,90.5 L96.8,94 L96.1,97.5 L95.5,101 L95,104.5 L94.4,108 L93.7,111.5" fill="none" stroke="#1480f4" stroke-width="1.6" opacity="0.3"/>
<path d="M140.2,24.7 L127.7,25.7 L124.2,26.7 L122.4,27.7 L121.1,28.7 L120.2,29.7 L119.5,30.7 L118.9,31.7 L118.3,32.7 L117.7,33.7 L117.1,34.7 L116.6,35.7 L116.1,36.7 L115.6,37.7 L115.1,38.7 L114.7,39.7 L114.3,40.7 L113.9,41.7 L113.5,42.7 L113.1,43.7 L112.7,44.7 L112.5,45 L111.2,48.5 L110.1,52 L109.2,55.5 L108.4,59 L107.4,62.5 L106.4,66 L105.4,69.5 L104.6,73 L103.8,76.5 L103.1,80 L102.3,83.5 L101.6,87 L100.9,90.5 L100.3,94 L99.6,97.5 L99,101 L98.5,104.5 L97.9,108 L97.2,111.5" fill="none" stroke="#1480f4" stroke-width="1.6" opacity="0.2"/>
<path d="M143.7,24.7 L131.2,25.7 L127.7,26.7 L125.9,27.7 L124.6,28.7 L123.7,29.7 L123,30.7 L122.4,31.7 L121.8,32.7 L121.2,33.7 L120.6,34.7 L120.1,35.7 L119.6,36.7 L119.1,37.7 L118.6,38.7 L118.2,39.7 L117.8,40.7 L117.4,41.7 L117,42.7 L116.6,43.7 L116.2,44.7 L116,45 L114.7,48.5 L113.6,52 L112.7,55.5 L111.9,59 L110.9,62.5 L109.9,66 L108.9,69.5 L108.1,73 L107.3,76.5 L106.6,80 L105.8,83.5 L105.1,87 L104.4,90.5 L103.8,94 L103.1,97.5 L102.5,101 L102,104.5 L101.4,108 L100.7,111.5" fill="none" stroke="#1480f4" stroke-width="1.6" opacity="0"/>
<path d="M147.2,24.7 L134.7,25.7 L131.2,26.7 L129.4,27.7 L128.1,28.7 L127.2,29.7 L126.5,30.7 L125.9,31.7 L125.3,32.7 L124.7,33.7 L124.1,34.7 L123.6,35.7 L123.1,36.7 L122.6,37.7 L122.1,38.7 L121.7,39.7 L121.3,40.7 L120.9,41.7 L120.5,42.7 L120.1,43.7 L119.7,44.7 L119.5,45 L118.2,48.5 L117.1,52 L116.2,55.5 L115.4,59 L114.4,62.5 L113.4,66 L112.4,69.5 L111.6,73 L110.8,76.5 L110.1,80 L109.3,83.5 L108.6,87 L107.9,90.5 L107.3,94 L106.6,97.5 L106,101 L105.5,104.5 L104.9,108 L104.2,111.5" fill="none" stroke="#1480f4" stroke-width="1.6" opacity="0"/>
</g>
<line x1="88.2" y1="40.3" x2="125" y2="40.3" stroke="#000a50" stroke-width="0.8" opacity="0.8"/>
<g clip-path="url(#aUp2)">
<rect x="60" y="70.8" width="85" height="9.2" fill="#010a4c" opacity="0.85"/>
<path d="M117.4,24.7 L104.9,25.7 L101.4,26.7 L99.6,27.7 L98.3,28.7 L97.4,29.7 L96.7,30.7 L96.1,31.7 L95.5,32.7 L94.9,33.7 L94.3,34.7 L93.8,35.7 L93.3,36.7 L92.8,37.7 L92.3,38.7 L91.9,39.7 L91.5,40.7 L91.1,41.7 L90.7,42.7 L90.3,43.7 L89.9,44.7 L89.7,45 L88.4,48.5 L87.3,52 L86.4,55.5 L85.6,59 L84.6,62.5 L83.6,66 L82.6,69.5 L81.8,73 L81,76.5 L80.3,80 L79.5,83.5 L78.8,87 L78.1,90.5 L77.5,94 L76.8,97.5 L76.2,101 L75.7,104.5 L75.1,108 L74.4,111.5" fill="none" stroke="#1480f4" stroke-width="1.6" opacity="0.9"/>
<path d="M120.9,24.7 L108.4,25.7 L104.9,26.7 L103.1,27.7 L101.8,28.7 L100.9,29.7 L100.2,30.7 L99.6,31.7 L99,32.7 L98.4,33.7 L97.8,34.7 L97.3,35.7 L96.8,36.7 L96.3,37.7 L95.8,38.7 L95.4,39.7 L95,40.7 L94.6,41.7 L94.2,42.7 L93.8,43.7 L93.4,44.7 L93.2,45 L91.9,48.5 L90.8,52 L89.9,55.5 L89.1,59 L88.1,62.5 L87.1,66 L86.1,69.5 L85.3,73 L84.5,76.5 L83.8,80 L83,83.5 L82.3,87 L81.6,90.5 L81,94 L80.3,97.5 L79.7,101 L79.2,104.5 L78.6,108 L77.9,111.5" fill="none" stroke="#1480f4" stroke-width="1.6" opacity="0.8"/>
<path d="M124.4,24.7 L111.9,25.7 L108.4,26.7 L106.6,27.7 L105.3,28.7 L104.4,29.7 L103.7,30.7 L103.1,31.7 L102.5,32.7 L101.9,33.7 L101.3,34.7 L100.8,35.7 L100.3,36.7 L99.8,37.7 L99.3,38.7 L98.9,39.7 L98.5,40.7 L98.1,41.7 L97.7,42.7 L97.3,43.7 L96.9,44.7 L96.7,45 L95.4,48.5 L94.3,52 L93.4,55.5 L92.6,59 L91.6,62.5 L90.6,66 L89.6,69.5 L88.8,73 L88,76.5 L87.3,80 L86.5,83.5 L85.8,87 L85.1,90.5 L84.5,94 L83.8,97.5 L83.2,101 L82.7,104.5 L82.1,108 L81.4,111.5" fill="none" stroke="#1480f4" stroke-width="1.6" opacity="0.7"/>
<path d="M127.9,24.7 L115.4,25.7 L111.9,26.7 L110.1,27.7 L108.8,28.7 L107.9,29.7 L107.2,30.7 L106.6,31.7 L106,32.7 L105.4,33.7 L104.8,34.7 L104.3,35.7 L103.8,36.7 L103.3,37.7 L102.8,38.7 L102.4,39.7 L102,40.7 L101.6,41.7 L101.2,42.7 L100.8,43.7 L100.4,44.7 L100.2,45 L98.9,48.5 L97.8,52 L96.9,55.5 L96.1,59 L95.1,62.5 L94.1,66 L93.1,69.5 L92.3,73 L91.5,76.5 L90.8,80 L90,83.5 L89.3,87 L88.6,90.5 L88,94 L87.3,97.5 L86.7,101 L86.2,104.5 L85.6,108 L84.9,111.5" fill="none" stroke="#1480f4" stroke-width="1.6" opacity="0.6"/>
<path d="M131.4,24.7 L118.9,25.7 L115.4,26.7 L113.6,27.7 L112.3,28.7 L111.4,29.7 L110.7,30.7 L110.1,31.7 L109.5,32.7 L108.9,33.7 L108.3,34.7 L107.8,35.7 L107.3,36.7 L106.8,37.7 L106.3,38.7 L105.9,39.7 L105.5,40.7 L105.1,41.7 L104.7,42.7 L104.3,43.7 L103.9,44.7 L103.7,45 L102.4,48.5 L101.3,52 L100.4,55.5 L99.6,59 L98.6,62.5 L97.6,66 L96.6,69.5 L95.8,73 L95,76.5 L94.3,80 L93.5,83.5 L92.8,87 L92.1,90.5 L91.5,94 L90.8,97.5 L90.2,101 L89.7,104.5 L89.1,108 L88.4,111.5" fill="none" stroke="#1480f4" stroke-width="1.6" opacity="0.4"/>
<path d="M134.9,24.7 L122.4,25.7 L118.9,26.7 L117.1,27.7 L115.8,28.7 L114.9,29.7 L114.2,30.7 L113.6,31.7 L113,32.7 L112.4,33.7 L111.8,34.7 L111.3,35.7 L110.8,36.7 L110.3,37.7 L109.8,38.7 L109.4,39.7 L109,40.7 L108.6,41.7 L108.2,42.7 L107.8,43.7 L107.4,44.7 L107.2,45 L105.9,48.5 L104.8,52 L103.9,55.5 L103.1,59 L102.1,62.5 L101.1,66 L100.1,69.5 L99.3,73 L98.5,76.5 L97.8,80 L97,83.5 L96.3,87 L95.6,90.5 L95,94 L94.3,97.5 L93.7,101 L93.2,104.5 L92.6,108 L91.9,111.5" fill="none" stroke="#1480f4" stroke-width="1.6" opacity="0.3"/>
<path d="M138.4,24.7 L125.9,25.7 L122.4,26.7 L120.6,27.7 L119.3,28.7 L118.4,29.7 L117.7,30.7 L117.1,31.7 L116.5,32.7 L115.9,33.7 L115.3,34.7 L114.8,35.7 L114.3,36.7 L113.8,37.7 L113.3,38.7 L112.9,39.7 L112.5,40.7 L112.1,41.7 L111.7,42.7 L111.3,43.7 L110.9,44.7 L110.7,45 L109.4,48.5 L108.3,52 L107.4,55.5 L106.6,59 L105.6,62.5 L104.6,66 L103.6,69.5 L102.8,73 L102,76.5 L101.3,80 L100.5,83.5 L99.8,87 L99.1,90.5 L98.5,94 L97.8,97.5 L97.2,101 L96.7,104.5 L96.1,108 L95.4,111.5" fill="none" stroke="#1480f4" stroke-width="1.6" opacity="0.2"/>
<path d="M141.9,24.7 L129.4,25.7 L125.9,26.7 L124.1,27.7 L122.8,28.7 L121.9,29.7 L121.2,30.7 L120.6,31.7 L120,32.7 L119.4,33.7 L118.8,34.7 L118.3,35.7 L117.8,36.7 L117.3,37.7 L116.8,38.7 L116.4,39.7 L116,40.7 L115.6,41.7 L115.2,42.7 L114.8,43.7 L114.4,44.7 L114.2,45 L112.9,48.5 L111.8,52 L110.9,55.5 L110.1,59 L109.1,62.5 L108.1,66 L107.1,69.5 L106.3,73 L105.5,76.5 L104.8,80 L104,83.5 L103.3,87 L102.6,90.5 L102,94 L101.3,97.5 L100.7,101 L100.2,104.5 L99.6,108 L98.9,111.5" fill="none" stroke="#1480f4" stroke-width="1.6" opacity="0"/>
<path d="M145.4,24.7 L132.9,25.7 L129.4,26.7 L127.6,27.7 L126.3,28.7 L125.4,29.7 L124.7,30.7 L124.1,31.7 L123.5,32.7 L122.9,33.7 L122.3,34.7 L121.8,35.7 L121.3,36.7 L120.8,37.7 L120.3,38.7 L119.9,39.7 L119.5,40.7 L119.1,41.7 L118.7,42.7 L118.3,43.7 L117.9,44.7 L117.7,45 L116.4,48.5 L115.3,52 L114.4,55.5 L113.6,59 L112.6,62.5 L111.6,66 L110.6,69.5 L109.8,73 L109,76.5 L108.3,80 L107.5,83.5 L106.8,87 L106.1,90.5 L105.5,94 L104.8,97.5 L104.2,101 L103.7,104.5 L103.1,108 L102.4,111.5" fill="none" stroke="#1480f4" stroke-width="1.6" opacity="0"/>
</g>
<line x1="81.9" y1="70.8" x2="125" y2="70.8" stroke="#000a50" stroke-width="0.8" opacity="0.8"/>
<rect x="80" y="79.5" width="65.8" height="5.2" fill="url(#ckBgA)"/>
<line x1="78.4" y1="79.5" x2="77.3" y2="84.7" stroke="#28c0ff" stroke-width="1.8"/>
<line x1="82.2" y1="79.5" x2="81.1" y2="84.7" stroke="#28c0ff" stroke-width="1.8"/>
<line x1="86" y1="79.5" x2="84.9" y2="84.7" stroke="#1a98f8" stroke-width="1.8"/>
<line x1="89.8" y1="79.5" x2="88.7" y2="84.7" stroke="#127ae6" stroke-width="1.8"/>
<line x1="93.6" y1="79.5" x2="92.5" y2="84.7" stroke="#0c5ac4" stroke-width="1.8"/>
<line x1="97.4" y1="79.5" x2="96.3" y2="84.7" stroke="#0944a4" stroke-width="1.8"/>
<line x1="101.2" y1="79.5" x2="100.1" y2="84.7" stroke="#073488" stroke-width="1.8"/>
<line x1="105" y1="79.5" x2="103.9" y2="84.7" stroke="#052874" stroke-width="1.8"/>
<line x1="108.8" y1="79.5" x2="107.7" y2="84.7" stroke="#042068" stroke-width="1.8"/>
<line x1="112.6" y1="79.5" x2="111.5" y2="84.7" stroke="#031a60" stroke-width="1.8"/>
<line x1="116.4" y1="79.5" x2="115.3" y2="84.7" stroke="#03165a" stroke-width="1.8"/>
<rect x="81.1" y="84.7" width="64.7" height="5.2" fill="url(#ckBgA)"/>
<line x1="80.8" y1="84.7" x2="79.7" y2="89.8" stroke="#28c0ff" stroke-width="1.8"/>
<line x1="84.6" y1="84.7" x2="83.5" y2="89.8" stroke="#28c0ff" stroke-width="1.8"/>
<line x1="88.4" y1="84.7" x2="87.3" y2="89.8" stroke="#1a98f8" stroke-width="1.8"/>
<line x1="92.2" y1="84.7" x2="91.1" y2="89.8" stroke="#127ae6" stroke-width="1.8"/>
<line x1="96" y1="84.7" x2="94.9" y2="89.8" stroke="#0c5ac4" stroke-width="1.8"/>
<line x1="99.8" y1="84.7" x2="98.7" y2="89.8" stroke="#0944a4" stroke-width="1.8"/>
<line x1="103.6" y1="84.7" x2="102.5" y2="89.8" stroke="#073488" stroke-width="1.8"/>
<line x1="107.4" y1="84.7" x2="106.3" y2="89.8" stroke="#052874" stroke-width="1.8"/>
<line x1="111.2" y1="84.7" x2="110.1" y2="89.8" stroke="#042068" stroke-width="1.8"/>
<line x1="115" y1="84.7" x2="113.9" y2="89.8" stroke="#031a60" stroke-width="1.8"/>
<line x1="118.8" y1="84.7" x2="117.7" y2="89.8" stroke="#03165a" stroke-width="1.8"/>
<rect x="83.5" y="89.8" width="62.3" height="5.1" fill="url(#ckBgA)"/>
<line x1="84.5" y1="89.8" x2="83.6" y2="94.9" stroke="#28c0ff" stroke-width="1.8"/>
<line x1="88.3" y1="89.8" x2="87.4" y2="94.9" stroke="#28c0ff" stroke-width="1.8"/>
<line x1="92.1" y1="89.8" x2="91.2" y2="94.9" stroke="#1a98f8" stroke-width="1.8"/>
<line x1="95.9" y1="89.8" x2="95" y2="94.9" stroke="#127ae6" stroke-width="1.8"/>
<line x1="99.7" y1="89.8" x2="98.8" y2="94.9" stroke="#0c5ac4" stroke-width="1.8"/>
<line x1="103.5" y1="89.8" x2="102.6" y2="94.9" stroke="#0944a4" stroke-width="1.8"/>
<line x1="107.3" y1="89.8" x2="106.4" y2="94.9" stroke="#073488" stroke-width="1.8"/>
<line x1="111.1" y1="89.8" x2="110.2" y2="94.9" stroke="#052874" stroke-width="1.8"/>
<line x1="114.9" y1="89.8" x2="114" y2="94.9" stroke="#042068" stroke-width="1.8"/>
<line x1="118.7" y1="89.8" x2="117.8" y2="94.9" stroke="#031a60" stroke-width="1.8"/>
<line x1="122.5" y1="89.8" x2="121.6" y2="94.9" stroke="#03165a" stroke-width="1.8"/>
<rect x="86.1" y="94.9" width="59.6" height="5" fill="url(#ckBgA)"/>
<line x1="84.6" y1="94.9" x2="83.7" y2="99.9" stroke="#28c0ff" stroke-width="1.8"/>
<line x1="88.4" y1="94.9" x2="87.5" y2="99.9" stroke="#28c0ff" stroke-width="1.8"/>
<line x1="92.2" y1="94.9" x2="91.3" y2="99.9" stroke="#1a98f8" stroke-width="1.8"/>
<line x1="96" y1="94.9" x2="95.1" y2="99.9" stroke="#127ae6" stroke-width="1.8"/>
<line x1="99.8" y1="94.9" x2="98.9" y2="99.9" stroke="#0c5ac4" stroke-width="1.8"/>
<line x1="103.6" y1="94.9" x2="102.7" y2="99.9" stroke="#0944a4" stroke-width="1.8"/>
<line x1="107.4" y1="94.9" x2="106.5" y2="99.9" stroke="#073488" stroke-width="1.8"/>
<line x1="111.2" y1="94.9" x2="110.3" y2="99.9" stroke="#052874" stroke-width="1.8"/>
<line x1="115" y1="94.9" x2="114.1" y2="99.9" stroke="#042068" stroke-width="1.8"/>
<line x1="118.8" y1="94.9" x2="117.9" y2="99.9" stroke="#031a60" stroke-width="1.8"/>
<line x1="122.6" y1="94.9" x2="121.7" y2="99.9" stroke="#03165a" stroke-width="1.8"/>
<rect x="88.4" y="99.9" width="57.3" height="5" fill="url(#ckBgA)"/>
<line x1="88.2" y1="99.9" x2="87.4" y2="104.8" stroke="#28c0ff" stroke-width="1.8"/>
<line x1="92" y1="99.9" x2="91.2" y2="104.8" stroke="#28c0ff" stroke-width="1.8"/>
<line x1="95.8" y1="99.9" x2="95" y2="104.8" stroke="#1a98f8" stroke-width="1.8"/>
<line x1="99.6" y1="99.9" x2="98.8" y2="104.8" stroke="#127ae6" stroke-width="1.8"/>
<line x1="103.4" y1="99.9" x2="102.6" y2="104.8" stroke="#0c5ac4" stroke-width="1.8"/>
<line x1="107.2" y1="99.9" x2="106.4" y2="104.8" stroke="#0944a4" stroke-width="1.8"/>
<line x1="111" y1="99.9" x2="110.2" y2="104.8" stroke="#073488" stroke-width="1.8"/>
<line x1="114.8" y1="99.9" x2="114" y2="104.8" stroke="#052874" stroke-width="1.8"/>
<line x1="118.6" y1="99.9" x2="117.8" y2="104.8" stroke="#042068" stroke-width="1.8"/>
<line x1="122.4" y1="99.9" x2="121.6" y2="104.8" stroke="#031a60" stroke-width="1.8"/>
<line x1="126.2" y1="99.9" x2="125.4" y2="104.8" stroke="#03165a" stroke-width="1.8"/>
<rect x="90.5" y="104.8" width="55.3" height="4.9" fill="url(#ckBgA)"/>
<line x1="91.6" y1="104.8" x2="90.7" y2="109.6" stroke="#28c0ff" stroke-width="1.8"/>
<line x1="95.4" y1="104.8" x2="94.5" y2="109.6" stroke="#28c0ff" stroke-width="1.8"/>
<line x1="99.2" y1="104.8" x2="98.3" y2="109.6" stroke="#1a98f8" stroke-width="1.8"/>
<line x1="103" y1="104.8" x2="102.1" y2="109.6" stroke="#127ae6" stroke-width="1.8"/>
<line x1="106.8" y1="104.8" x2="105.9" y2="109.6" stroke="#0c5ac4" stroke-width="1.8"/>
<line x1="110.6" y1="104.8" x2="109.7" y2="109.6" stroke="#0944a4" stroke-width="1.8"/>
<line x1="114.4" y1="104.8" x2="113.5" y2="109.6" stroke="#073488" stroke-width="1.8"/>
<line x1="118.2" y1="104.8" x2="117.3" y2="109.6" stroke="#052874" stroke-width="1.8"/>
<line x1="122" y1="104.8" x2="121.1" y2="109.6" stroke="#042068" stroke-width="1.8"/>
<line x1="125.8" y1="104.8" x2="124.9" y2="109.6" stroke="#031a60" stroke-width="1.8"/>
<line x1="129.6" y1="104.8" x2="128.7" y2="109.6" stroke="#03165a" stroke-width="1.8"/>
<rect x="92.1" y="109.6" width="53.6" height="4.8" fill="url(#ckBgA)"/>
<line x1="90.7" y1="109.6" x2="89.6" y2="114.4" stroke="#28c0ff" stroke-width="1.8"/>
<line x1="94.5" y1="109.6" x2="93.4" y2="114.4" stroke="#28c0ff" stroke-width="1.8"/>
<line x1="98.3" y1="109.6" x2="97.2" y2="114.4" stroke="#1a98f8" stroke-width="1.8"/>
<line x1="102.1" y1="109.6" x2="101" y2="114.4" stroke="#127ae6" stroke-width="1.8"/>
<line x1="105.9" y1="109.6" x2="104.8" y2="114.4" stroke="#0c5ac4" stroke-width="1.8"/>
<line x1="109.7" y1="109.6" x2="108.6" y2="114.4" stroke="#0944a4" stroke-width="1.8"/>
<line x1="113.5" y1="109.6" x2="112.4" y2="114.4" stroke="#073488" stroke-width="1.8"/>
<line x1="117.3" y1="109.6" x2="116.2" y2="114.4" stroke="#052874" stroke-width="1.8"/>
<line x1="121.1" y1="109.6" x2="120" y2="114.4" stroke="#042068" stroke-width="1.8"/>
<line x1="124.9" y1="109.6" x2="123.8" y2="114.4" stroke="#031a60" stroke-width="1.8"/>
<line x1="128.7" y1="109.6" x2="127.6" y2="114.4" stroke="#03165a" stroke-width="1.8"/>
<rect x="93.7" y="114.4" width="52.1" height="4.8" fill="url(#ckBgA)"/>
<line x1="93.6" y1="114.4" x2="92.5" y2="119.1" stroke="#28c0ff" stroke-width="1.8"/>
<line x1="97.4" y1="114.4" x2="96.3" y2="119.1" stroke="#28c0ff" stroke-width="1.8"/>
<line x1="101.2" y1="114.4" x2="100.1" y2="119.1" stroke="#1a98f8" stroke-width="1.8"/>
<line x1="105" y1="114.4" x2="103.9" y2="119.1" stroke="#127ae6" stroke-width="1.8"/>
<line x1="108.8" y1="114.4" x2="107.7" y2="119.1" stroke="#0c5ac4" stroke-width="1.8"/>
<line x1="112.6" y1="114.4" x2="111.5" y2="119.1" stroke="#0944a4" stroke-width="1.8"/>
<line x1="116.4" y1="114.4" x2="115.3" y2="119.1" stroke="#073488" stroke-width="1.8"/>
<line x1="120.2" y1="114.4" x2="119.1" y2="119.1" stroke="#052874" stroke-width="1.8"/>
<line x1="124" y1="114.4" x2="122.9" y2="119.1" stroke="#042068" stroke-width="1.8"/>
<line x1="127.8" y1="114.4" x2="126.7" y2="119.1" stroke="#031a60" stroke-width="1.8"/>
<line x1="131.6" y1="114.4" x2="130.5" y2="119.1" stroke="#03165a" stroke-width="1.8"/>
<rect x="94.9" y="119.1" width="50.9" height="4.7" fill="url(#ckBgA)"/>
<line x1="96.1" y1="119.1" x2="95.4" y2="123.8" stroke="#28c0ff" stroke-width="1.8"/>
<line x1="99.9" y1="119.1" x2="99.2" y2="123.8" stroke="#28c0ff" stroke-width="1.8"/>
<line x1="103.7" y1="119.1" x2="103" y2="123.8" stroke="#1a98f8" stroke-width="1.8"/>
<line x1="107.5" y1="119.1" x2="106.8" y2="123.8" stroke="#127ae6" stroke-width="1.8"/>
<line x1="111.3" y1="119.1" x2="110.6" y2="123.8" stroke="#0c5ac4" stroke-width="1.8"/>
<line x1="115.1" y1="119.1" x2="114.4" y2="123.8" stroke="#0944a4" stroke-width="1.8"/>
<line x1="118.9" y1="119.1" x2="118.2" y2="123.8" stroke="#073488" stroke-width="1.8"/>
<line x1="122.7" y1="119.1" x2="122" y2="123.8" stroke="#052874" stroke-width="1.8"/>
<line x1="126.5" y1="119.1" x2="125.8" y2="123.8" stroke="#042068" stroke-width="1.8"/>
<line x1="130.3" y1="119.1" x2="129.6" y2="123.8" stroke="#031a60" stroke-width="1.8"/>
<line x1="134.1" y1="119.1" x2="133.4" y2="123.8" stroke="#03165a" stroke-width="1.8"/>
<rect x="96.1" y="123.8" width="49.7" height="4.6" fill="url(#ckBgA)"/>
<line x1="94.8" y1="123.8" x2="94.2" y2="128.3" stroke="#28c0ff" stroke-width="1.8"/>
<line x1="98.6" y1="123.8" x2="98" y2="128.3" stroke="#28c0ff" stroke-width="1.8"/>
<line x1="102.4" y1="123.8" x2="101.8" y2="128.3" stroke="#1a98f8" stroke-width="1.8"/>
<line x1="106.2" y1="123.8" x2="105.6" y2="128.3" stroke="#127ae6" stroke-width="1.8"/>
<line x1="110" y1="123.8" x2="109.4" y2="128.3" stroke="#0c5ac4" stroke-width="1.8"/>
<line x1="113.8" y1="123.8" x2="113.2" y2="128.3" stroke="#0944a4" stroke-width="1.8"/>
<line x1="117.6" y1="123.8" x2="117" y2="128.3" stroke="#073488" stroke-width="1.8"/>
<line x1="121.4" y1="123.8" x2="120.8" y2="128.3" stroke="#052874" stroke-width="1.8"/>
<line x1="125.2" y1="123.8" x2="124.6" y2="128.3" stroke="#042068" stroke-width="1.8"/>
<line x1="129" y1="123.8" x2="128.4" y2="128.3" stroke="#031a60" stroke-width="1.8"/>
<line x1="132.8" y1="123.8" x2="132.2" y2="128.3" stroke="#03165a" stroke-width="1.8"/>
<rect x="97.2" y="128.3" width="48.6" height="4.6" fill="url(#ckBgA)"/>
<line x1="97.2" y1="128.3" x2="96.5" y2="132.9" stroke="#28c0ff" stroke-width="1.8"/>
<line x1="101" y1="128.3" x2="100.3" y2="132.9" stroke="#28c0ff" stroke-width="1.8"/>
<line x1="104.8" y1="128.3" x2="104.1" y2="132.9" stroke="#1a98f8" stroke-width="1.8"/>
<line x1="108.6" y1="128.3" x2="107.9" y2="132.9" stroke="#127ae6" stroke-width="1.8"/>
<line x1="112.4" y1="128.3" x2="111.7" y2="132.9" stroke="#0c5ac4" stroke-width="1.8"/>
<line x1="116.2" y1="128.3" x2="115.5" y2="132.9" stroke="#0944a4" stroke-width="1.8"/>
<line x1="120" y1="128.3" x2="119.3" y2="132.9" stroke="#073488" stroke-width="1.8"/>
<line x1="123.8" y1="128.3" x2="123.1" y2="132.9" stroke="#052874" stroke-width="1.8"/>
<line x1="127.6" y1="128.3" x2="126.9" y2="132.9" stroke="#042068" stroke-width="1.8"/>
<line x1="131.4" y1="128.3" x2="130.7" y2="132.9" stroke="#031a60" stroke-width="1.8"/>
<line x1="135.2" y1="128.3" x2="134.5" y2="132.9" stroke="#03165a" stroke-width="1.8"/>
<rect x="98.1" y="132.9" width="47.6" height="4.5" fill="url(#ckBgA)"/>
<line x1="99.4" y1="132.9" x2="98.8" y2="137.3" stroke="#28c0ff" stroke-width="1.8"/>
<line x1="103.2" y1="132.9" x2="102.6" y2="137.3" stroke="#28c0ff" stroke-width="1.8"/>
<line x1="107" y1="132.9" x2="106.4" y2="137.3" stroke="#1a98f8" stroke-width="1.8"/>
<line x1="110.8" y1="132.9" x2="110.2" y2="137.3" stroke="#127ae6" stroke-width="1.8"/>
<line x1="114.6" y1="132.9" x2="114" y2="137.3" stroke="#0c5ac4" stroke-width="1.8"/>
<line x1="118.4" y1="132.9" x2="117.8" y2="137.3" stroke="#0944a4" stroke-width="1.8"/>
<line x1="122.2" y1="132.9" x2="121.6" y2="137.3" stroke="#073488" stroke-width="1.8"/>
<line x1="126" y1="132.9" x2="125.4" y2="137.3" stroke="#052874" stroke-width="1.8"/>
<line x1="129.8" y1="132.9" x2="129.2" y2="137.3" stroke="#042068" stroke-width="1.8"/>
<line x1="133.6" y1="132.9" x2="133" y2="137.3" stroke="#031a60" stroke-width="1.8"/>
<line x1="137.4" y1="132.9" x2="136.8" y2="137.3" stroke="#03165a" stroke-width="1.8"/>
<path d="M101.9,24.7 L89.4,25.7 L85.9,26.7 L84.1,27.7 L82.8,28.7 L81.9,29.7 L81.2,30.7 L80.6,31.7 L80,32.7 L79.4,33.7 L78.8,34.7 L78.3,35.7 L77.8,36.7 L77.3,37.7 L76.8,38.7 L76.4,39.7 L76,40.7 L75.6,41.7 L75.2,42.7 L74.8,43.7 L74.4,44.7 L74.2,45 L72.9,48.5 L71.8,52 L70.9,55.5 L70.1,59 L69.1,62.5 L68.1,66 L67.1,69.5 L66.3,73 L65.5,76.5 L64.8,80 L64,83.5 L63.3,87 L62.6,90.5 L62,94 L61.3,97.5 L60.7,101 L60.2,104.5 L59.6,108 L58.9,111.5 L58,115 L57.2,118.5 L56.6,122 L56.1,125.5 L55.6,129 L55.1,132.5 L54.7,136 L54.2,139.5 L53.7,143 L53.2,146.5 L52.7,150 L52.2,153.5 L51.8,157 L51.3,160.5 L50.8,164 L50.4,167.5 L49.9,171 L49.5,174.5 L49,178 L48.6,181.5 L48.2,185 L47.8,188.5 L47.3,192 L46.9,195.5 L46.6,199 L46.2,202.5 L45.8,206 L45.5,209.5 L45.1,213 L44.7,216.5 L44.4,220 L44,223.5 L43.7,227 L43.4,230.5 L43,234 L42.7,237.5 L42.4,241 L42.1,244.5 L41.8,248 L41.5,251.5 L41.2,255 L40.9,258.5 L40.7,262 L40.4,265.5 L40.2,269 L39.9,272.5 L39.7,276 L39.4,279.5 L39.1,283 L38.9,286.5 L38.7,290 L38.5,293.5 L38.3,297 L38.1,300.5 L37.9,304 L37.6,307.5 L37.4,311 L37.2,314.5 L37,318 L36.8,321.5 L36.7,325 L36.5,328.5 L36.3,332 L36.1,335.5 L35.9,339 L35.7,342.5 L35.6,346 L35.4,349.5 L35.3,353 L35.2,356.5 L35.2,357 L126,357 L126,356.5 L125.6,353 L125.2,349.5 L124.9,346 L124.5,342.5 L124.2,339 L123.8,335.5 L123.5,332 L123.1,328.5 L122.8,325 L122.5,321.5 L122.1,318 L121.6,314.5 L121.2,311 L120.8,307.5 L120.3,304 L119.9,300.5 L119.5,297 L119,293.5 L118.6,290 L118.2,286.5 L117.8,283 L117.4,279.5 L117.1,276 L116.7,272.5 L116.3,269 L115.9,265.5 L115.5,262 L115.1,258.5 L114.6,255 L114.2,251.5 L113.7,248 L113.3,244.5 L112.8,241 L112.3,237.5 L111.9,234 L111.5,230.5 L111.1,227 L110.7,223.5 L110.3,220 L109.9,216.5 L109.5,213 L109.1,209.5 L108.8,206 L108.5,202.5 L108.1,199 L107.8,195.5 L107.5,192 L107.1,188.5 L106.7,185 L106.2,181.5 L105.7,178 L105.3,174.5 L104.8,171 L104.3,167.5 L103.8,164 L103.3,160.5 L102.8,157 L102.4,153.5 L101.9,150 L101.4,146.5 L100.9,143 L100.4,139.5 L99.7,136 L99,132.5 L98.3,129 L97.5,125.5 L96.6,122 L95.7,118.5 L94.8,115 L93.8,111.5 L92.6,108 L91.4,104.5 L90,101 L88.4,97.5 L86.7,94 L84.8,90.5 L82.9,87 L81.7,83.5 L81,80 L81,76.5 L81.5,73 L82.2,69.5 L83.3,66 L84.1,62.5 L84.7,59 L85.2,55.5 L85.6,52 L86.2,48.5 L86.8,45 L86.9,44.7 L87.2,43.7 L87.4,42.7 L87.6,41.7 L88,40.7 L88.5,39.7 L89.1,38.7 L89.7,37.7 L90.2,36.7 L90.8,35.7 L91.3,34.7 L91.9,33.7 L92.6,32.7 L93.3,31.7 L94.1,30.7 L94.8,29.7 L96,28.7 L97.2,27.7 L98.5,26.7 L100.2,25.7 L101.9,24.7Z" fill="url(#aBodyG)"/>
<g clip-path="url(#aBody)">
<path d="M105.5,24.7 L93,25.7 L89.5,26.7 L87.7,27.7 L86.4,28.7 L85.5,29.7 L84.8,30.7 L84.2,31.7 L83.6,32.7 L83,33.7 L82.4,34.7 L81.9,35.7 L81.4,36.7 L80.9,37.7 L80.4,38.7 L80,39.7 L79.6,40.7 L79.2,41.7 L78.8,42.7 L78.4,43.7 L78,44.7 L77.8,45 L76.5,48.5 L75.4,52 L74.5,55.5 L73.7,59 L72.7,62.5 L71.7,66 L70.7,69.5 L69.9,73 L69.1,76.5 L68.4,80 L67.6,83.5 L66.9,87 L66.2,90.5 L65.6,94 L64.9,97.5 L64.3,101 L63.8,104.5 L63.2,108 L62.5,111.5 L61.6,115 L60.8,118.5 L60.2,122 L59.7,125.5 L59.2,129 L58.7,132.5 L58.3,136 L57.8,139.5 L57.3,143 L56.8,146.5 L56.3,150 L55.8,153.5 L55.4,157 L54.9,160.5 L54.4,164 L54,167.5 L53.5,171 L53.1,174.5 L52.6,178 L52.2,181.5 L51.8,185 L51.4,188.5 L50.9,192 L50.5,195.5 L50.2,199 L49.8,202.5 L49.4,206 L49.1,209.5 L48.7,213 L48.3,216.5 L48,220 L47.6,223.5 L47.3,227 L47,230.5 L46.6,234 L46.3,237.5 L46,241 L45.7,244.5 L45.4,248 L45.1,251.5 L44.8,255 L44.5,258.5 L44.3,262 L44,265.5 L43.8,269 L43.5,272.5 L43.3,276 L43,279.5 L42.7,283 L42.5,286.5 L42.3,290 L42.1,293.5 L41.9,297 L41.7,300.5 L41.5,304 L41.2,307.5 L41,311 L40.8,314.5 L40.6,318 L40.4,321.5 L40.3,325 L40.1,328.5 L39.9,332 L39.7,335.5 L39.5,339 L39.3,342.5 L39.2,346 L39,349.5 L38.9,353 L38.8,356.5 L38.8,357" fill="none" stroke="url(#aStripe)" stroke-width="1.6"/>
<path d="M109,24.7 L96.5,25.7 L93,26.7 L91.2,27.7 L89.9,28.7 L89,29.7 L88.3,30.7 L87.7,31.7 L87.1,32.7 L86.5,33.7 L85.9,34.7 L85.4,35.7 L84.9,36.7 L84.4,37.7 L83.9,38.7 L83.5,39.7 L83.1,40.7 L82.7,41.7 L82.3,42.7 L81.9,43.7 L81.5,44.7 L81.3,45 L80,48.5 L78.9,52 L78,55.5 L77.2,59 L76.2,62.5 L75.2,66 L74.2,69.5 L73.4,73 L72.6,76.5 L71.9,80 L71.1,83.5 L70.4,87 L69.7,90.5 L69.1,94 L68.4,97.5 L67.8,101 L67.3,104.5 L66.7,108 L66,111.5 L65.1,115 L64.3,118.5 L63.7,122 L63.2,125.5 L62.7,129 L62.2,132.5 L61.8,136 L61.3,139.5 L60.8,143 L60.3,146.5 L59.8,150 L59.3,153.5 L58.9,157 L58.4,160.5 L57.9,164 L57.5,167.5 L57,171 L56.6,174.5 L56.1,178 L55.7,181.5 L55.3,185 L54.9,188.5 L54.4,192 L54,195.5 L53.7,199 L53.3,202.5 L52.9,206 L52.6,209.5 L52.2,213 L51.8,216.5 L51.5,220 L51.1,223.5 L50.8,227 L50.5,230.5 L50.1,234 L49.8,237.5 L49.5,241 L49.2,244.5 L48.9,248 L48.6,251.5 L48.3,255 L48,258.5 L47.8,262 L47.5,265.5 L47.3,269 L47,272.5 L46.8,276 L46.5,279.5 L46.2,283 L46,286.5 L45.8,290 L45.6,293.5 L45.4,297 L45.2,300.5 L45,304 L44.7,307.5 L44.5,311 L44.3,314.5 L44.1,318 L43.9,321.5 L43.8,325 L43.6,328.5 L43.4,332 L43.2,335.5 L43,339 L42.8,342.5 L42.7,346 L42.5,349.5 L42.4,353 L42.3,356.5 L42.3,357" fill="none" stroke="url(#aStripe)" stroke-width="1.6"/>
<path d="M112.5,24.7 L100,25.7 L96.5,26.7 L94.7,27.7 L93.4,28.7 L92.5,29.7 L91.8,30.7 L91.2,31.7 L90.6,32.7 L90,33.7 L89.4,34.7 L88.9,35.7 L88.4,36.7 L87.9,37.7 L87.4,38.7 L87,39.7 L86.6,40.7 L86.2,41.7 L85.8,42.7 L85.4,43.7 L85,44.7 L84.8,45 L83.5,48.5 L82.4,52 L81.5,55.5 L80.7,59 L79.7,62.5 L78.7,66 L77.7,69.5 L76.9,73 L76.1,76.5 L75.4,80 L74.6,83.5 L73.9,87 L73.2,90.5 L72.6,94 L71.9,97.5 L71.3,101 L70.8,104.5 L70.2,108 L69.5,111.5 L68.6,115 L67.8,118.5 L67.2,122 L66.7,125.5 L66.2,129 L65.7,132.5 L65.3,136 L64.8,139.5 L64.3,143 L63.8,146.5 L63.3,150 L62.8,153.5 L62.4,157 L61.9,160.5 L61.4,164 L61,167.5 L60.5,171 L60.1,174.5 L59.6,178 L59.2,181.5 L58.8,185 L58.4,188.5 L57.9,192 L57.5,195.5 L57.2,199 L56.8,202.5 L56.4,206 L56.1,209.5 L55.7,213 L55.3,216.5 L55,220 L54.6,223.5 L54.3,227 L54,230.5 L53.6,234 L53.3,237.5 L53,241 L52.7,244.5 L52.4,248 L52.1,251.5 L51.8,255 L51.5,258.5 L51.3,262 L51,265.5 L50.8,269 L50.5,272.5 L50.3,276 L50,279.5 L49.7,283 L49.5,286.5 L49.3,290 L49.1,293.5 L48.9,297 L48.7,300.5 L48.5,304 L48.2,307.5 L48,311 L47.8,314.5 L47.6,318 L47.4,321.5 L47.3,325 L47.1,328.5 L46.9,332 L46.7,335.5 L46.5,339 L46.3,342.5 L46.2,346 L46,349.5 L45.9,353 L45.8,356.5 L45.8,357" fill="none" stroke="url(#aStripe)" stroke-width="1.6"/>
<path d="M116,24.7 L103.5,25.7 L100,26.7 L98.2,27.7 L96.9,28.7 L96,29.7 L95.3,30.7 L94.7,31.7 L94.1,32.7 L93.5,33.7 L92.9,34.7 L92.4,35.7 L91.9,36.7 L91.4,37.7 L90.9,38.7 L90.5,39.7 L90.1,40.7 L89.7,41.7 L89.3,42.7 L88.9,43.7 L88.5,44.7 L88.3,45 L87,48.5 L85.9,52 L85,55.5 L84.2,59 L83.2,62.5 L82.2,66 L81.2,69.5 L80.4,73 L79.6,76.5 L78.9,80 L78.1,83.5 L77.4,87 L76.7,90.5 L76.1,94 L75.4,97.5 L74.8,101 L74.3,104.5 L73.7,108 L73,111.5 L72.1,115 L71.3,118.5 L70.7,122 L70.2,125.5 L69.7,129 L69.2,132.5 L68.8,136 L68.3,139.5 L67.8,143 L67.3,146.5 L66.8,150 L66.3,153.5 L65.9,157 L65.4,160.5 L64.9,164 L64.5,167.5 L64,171 L63.6,174.5 L63.1,178 L62.7,181.5 L62.3,185 L61.9,188.5 L61.4,192 L61,195.5 L60.7,199 L60.3,202.5 L59.9,206 L59.6,209.5 L59.2,213 L58.8,216.5 L58.5,220 L58.1,223.5 L57.8,227 L57.5,230.5 L57.1,234 L56.8,237.5 L56.5,241 L56.2,244.5 L55.9,248 L55.6,251.5 L55.3,255 L55,258.5 L54.8,262 L54.5,265.5 L54.3,269 L54,272.5 L53.8,276 L53.5,279.5 L53.2,283 L53,286.5 L52.8,290 L52.6,293.5 L52.4,297 L52.2,300.5 L52,304 L51.7,307.5 L51.5,311 L51.3,314.5 L51.1,318 L50.9,321.5 L50.8,325 L50.6,328.5 L50.4,332 L50.2,335.5 L50,339 L49.8,342.5 L49.7,346 L49.5,349.5 L49.4,353 L49.3,356.5 L49.3,357" fill="none" stroke="url(#aStripe)" stroke-width="1.6"/>
<path d="M119.5,24.7 L107,25.7 L103.5,26.7 L101.7,27.7 L100.4,28.7 L99.5,29.7 L98.8,30.7 L98.2,31.7 L97.6,32.7 L97,33.7 L96.4,34.7 L95.9,35.7 L95.4,36.7 L94.9,37.7 L94.4,38.7 L94,39.7 L93.6,40.7 L93.2,41.7 L92.8,42.7 L92.4,43.7 L92,44.7 L91.8,45 L90.5,48.5 L89.4,52 L88.5,55.5 L87.7,59 L86.7,62.5 L85.7,66 L84.7,69.5 L83.9,73 L83.1,76.5 L82.4,80 L81.6,83.5 L80.9,87 L80.2,90.5 L79.6,94 L78.9,97.5 L78.3,101 L77.8,104.5 L77.2,108 L76.5,111.5 L75.6,115 L74.8,118.5 L74.2,122 L73.7,125.5 L73.2,129 L72.7,132.5 L72.3,136 L71.8,139.5 L71.3,143 L70.8,146.5 L70.3,150 L69.8,153.5 L69.4,157 L68.9,160.5 L68.4,164 L68,167.5 L67.5,171 L67.1,174.5 L66.6,178 L66.2,181.5 L65.8,185 L65.4,188.5 L64.9,192 L64.5,195.5 L64.2,199 L63.8,202.5 L63.4,206 L63.1,209.5 L62.7,213 L62.3,216.5 L62,220 L61.6,223.5 L61.3,227 L61,230.5 L60.6,234 L60.3,237.5 L60,241 L59.7,244.5 L59.4,248 L59.1,251.5 L58.8,255 L58.5,258.5 L58.3,262 L58,265.5 L57.8,269 L57.5,272.5 L57.3,276 L57,279.5 L56.7,283 L56.5,286.5 L56.3,290 L56.1,293.5 L55.9,297 L55.7,300.5 L55.5,304 L55.2,307.5 L55,311 L54.8,314.5 L54.6,318 L54.4,321.5 L54.3,325 L54.1,328.5 L53.9,332 L53.7,335.5 L53.5,339 L53.3,342.5 L53.2,346 L53,349.5 L52.9,353 L52.8,356.5 L52.8,357" fill="none" stroke="url(#aStripe)" stroke-width="1.6"/>
<path d="M123,24.7 L110.5,25.7 L107,26.7 L105.2,27.7 L103.9,28.7 L103,29.7 L102.3,30.7 L101.7,31.7 L101.1,32.7 L100.5,33.7 L99.9,34.7 L99.4,35.7 L98.9,36.7 L98.4,37.7 L97.9,38.7 L97.5,39.7 L97.1,40.7 L96.7,41.7 L96.3,42.7 L95.9,43.7 L95.5,44.7 L95.3,45 L94,48.5 L92.9,52 L92,55.5 L91.2,59 L90.2,62.5 L89.2,66 L88.2,69.5 L87.4,73 L86.6,76.5 L85.9,80 L85.1,83.5 L84.4,87 L83.7,90.5 L83.1,94 L82.4,97.5 L81.8,101 L81.3,104.5 L80.7,108 L80,111.5 L79.1,115 L78.3,118.5 L77.7,122 L77.2,125.5 L76.7,129 L76.2,132.5 L75.8,136 L75.3,139.5 L74.8,143 L74.3,146.5 L73.8,150 L73.3,153.5 L72.9,157 L72.4,160.5 L71.9,164 L71.5,167.5 L71,171 L70.6,174.5 L70.1,178 L69.7,181.5 L69.3,185 L68.9,188.5 L68.4,192 L68,195.5 L67.7,199 L67.3,202.5 L66.9,206 L66.6,209.5 L66.2,213 L65.8,216.5 L65.5,220 L65.1,223.5 L64.8,227 L64.5,230.5 L64.1,234 L63.8,237.5 L63.5,241 L63.2,244.5 L62.9,248 L62.6,251.5 L62.3,255 L62,258.5 L61.8,262 L61.5,265.5 L61.3,269 L61,272.5 L60.8,276 L60.5,279.5 L60.2,283 L60,286.5 L59.8,290 L59.6,293.5 L59.4,297 L59.2,300.5 L59,304 L58.7,307.5 L58.5,311 L58.3,314.5 L58.1,318 L57.9,321.5 L57.8,325 L57.6,328.5 L57.4,332 L57.2,335.5 L57,339 L56.8,342.5 L56.7,346 L56.5,349.5 L56.4,353 L56.3,356.5 L56.3,357" fill="none" stroke="url(#aStripe)" stroke-width="1.6"/>
<path d="M126.5,24.7 L114,25.7 L110.5,26.7 L108.7,27.7 L107.4,28.7 L106.5,29.7 L105.8,30.7 L105.2,31.7 L104.6,32.7 L104,33.7 L103.4,34.7 L102.9,35.7 L102.4,36.7 L101.9,37.7 L101.4,38.7 L101,39.7 L100.6,40.7 L100.2,41.7 L99.8,42.7 L99.4,43.7 L99,44.7 L98.8,45 L97.5,48.5 L96.4,52 L95.5,55.5 L94.7,59 L93.7,62.5 L92.7,66 L91.7,69.5 L90.9,73 L90.1,76.5 L89.4,80 L88.6,83.5 L87.9,87 L87.2,90.5 L86.6,94 L85.9,97.5 L85.3,101 L84.8,104.5 L84.2,108 L83.5,111.5 L82.6,115 L81.8,118.5 L81.2,122 L80.7,125.5 L80.2,129 L79.7,132.5 L79.3,136 L78.8,139.5 L78.3,143 L77.8,146.5 L77.3,150 L76.8,153.5 L76.4,157 L75.9,160.5 L75.4,164 L75,167.5 L74.5,171 L74.1,174.5 L73.6,178 L73.2,181.5 L72.8,185 L72.4,188.5 L71.9,192 L71.5,195.5 L71.2,199 L70.8,202.5 L70.4,206 L70.1,209.5 L69.7,213 L69.3,216.5 L69,220 L68.6,223.5 L68.3,227 L68,230.5 L67.6,234 L67.3,237.5 L67,241 L66.7,244.5 L66.4,248 L66.1,251.5 L65.8,255 L65.5,258.5 L65.3,262 L65,265.5 L64.8,269 L64.5,272.5 L64.3,276 L64,279.5 L63.7,283 L63.5,286.5 L63.3,290 L63.1,293.5 L62.9,297 L62.7,300.5 L62.5,304 L62.2,307.5 L62,311 L61.8,314.5 L61.6,318 L61.4,321.5 L61.3,325 L61.1,328.5 L60.9,332 L60.7,335.5 L60.5,339 L60.3,342.5 L60.2,346 L60,349.5 L59.9,353 L59.8,356.5 L59.8,357" fill="none" stroke="url(#aStripe)" stroke-width="1.6"/>
<path d="M130,24.7 L117.5,25.7 L114,26.7 L112.2,27.7 L110.9,28.7 L110,29.7 L109.3,30.7 L108.7,31.7 L108.1,32.7 L107.5,33.7 L106.9,34.7 L106.4,35.7 L105.9,36.7 L105.4,37.7 L104.9,38.7 L104.5,39.7 L104.1,40.7 L103.7,41.7 L103.3,42.7 L102.9,43.7 L102.5,44.7 L102.3,45 L101,48.5 L99.9,52 L99,55.5 L98.2,59 L97.2,62.5 L96.2,66 L95.2,69.5 L94.4,73 L93.6,76.5 L92.9,80 L92.1,83.5 L91.4,87 L90.7,90.5 L90.1,94 L89.4,97.5 L88.8,101 L88.3,104.5 L87.7,108 L87,111.5 L86.1,115 L85.3,118.5 L84.7,122 L84.2,125.5 L83.7,129 L83.2,132.5 L82.8,136 L82.3,139.5 L81.8,143 L81.3,146.5 L80.8,150 L80.3,153.5 L79.9,157 L79.4,160.5 L78.9,164 L78.5,167.5 L78,171 L77.6,174.5 L77.1,178 L76.7,181.5 L76.3,185 L75.9,188.5 L75.4,192 L75,195.5 L74.7,199 L74.3,202.5 L73.9,206 L73.6,209.5 L73.2,213 L72.8,216.5 L72.5,220 L72.1,223.5 L71.8,227 L71.5,230.5 L71.1,234 L70.8,237.5 L70.5,241 L70.2,244.5 L69.9,248 L69.6,251.5 L69.3,255 L69,258.5 L68.8,262 L68.5,265.5 L68.3,269 L68,272.5 L67.8,276 L67.5,279.5 L67.2,283 L67,286.5 L66.8,290 L66.6,293.5 L66.4,297 L66.2,300.5 L66,304 L65.7,307.5 L65.5,311 L65.3,314.5 L65.1,318 L64.9,321.5 L64.8,325 L64.6,328.5 L64.4,332 L64.2,335.5 L64,339 L63.8,342.5 L63.7,346 L63.5,349.5 L63.4,353 L63.3,356.5 L63.3,357" fill="none" stroke="url(#aStripe)" stroke-width="1.6"/>
<path d="M133.5,24.7 L121,25.7 L117.5,26.7 L115.7,27.7 L114.4,28.7 L113.5,29.7 L112.8,30.7 L112.2,31.7 L111.6,32.7 L111,33.7 L110.4,34.7 L109.9,35.7 L109.4,36.7 L108.9,37.7 L108.4,38.7 L108,39.7 L107.6,40.7 L107.2,41.7 L106.8,42.7 L106.4,43.7 L106,44.7 L105.8,45 L104.5,48.5 L103.4,52 L102.5,55.5 L101.7,59 L100.7,62.5 L99.7,66 L98.7,69.5 L97.9,73 L97.1,76.5 L96.4,80 L95.6,83.5 L94.9,87 L94.2,90.5 L93.6,94 L92.9,97.5 L92.3,101 L91.8,104.5 L91.2,108 L90.5,111.5 L89.6,115 L88.8,118.5 L88.2,122 L87.7,125.5 L87.2,129 L86.7,132.5 L86.3,136 L85.8,139.5 L85.3,143 L84.8,146.5 L84.3,150 L83.8,153.5 L83.4,157 L82.9,160.5 L82.4,164 L82,167.5 L81.5,171 L81.1,174.5 L80.6,178 L80.2,181.5 L79.8,185 L79.4,188.5 L78.9,192 L78.5,195.5 L78.2,199 L77.8,202.5 L77.4,206 L77.1,209.5 L76.7,213 L76.3,216.5 L76,220 L75.6,223.5 L75.3,227 L75,230.5 L74.6,234 L74.3,237.5 L74,241 L73.7,244.5 L73.4,248 L73.1,251.5 L72.8,255 L72.5,258.5 L72.3,262 L72,265.5 L71.8,269 L71.5,272.5 L71.3,276 L71,279.5 L70.7,283 L70.5,286.5 L70.3,290 L70.1,293.5 L69.9,297 L69.7,300.5 L69.5,304 L69.2,307.5 L69,311 L68.8,314.5 L68.6,318 L68.4,321.5 L68.3,325 L68.1,328.5 L67.9,332 L67.7,335.5 L67.5,339 L67.3,342.5 L67.2,346 L67,349.5 L66.9,353 L66.8,356.5 L66.8,357" fill="none" stroke="url(#aStripe)" stroke-width="1.6"/>
<path d="M137,24.7 L124.5,25.7 L121,26.7 L119.2,27.7 L117.9,28.7 L117,29.7 L116.3,30.7 L115.7,31.7 L115.1,32.7 L114.5,33.7 L113.9,34.7 L113.4,35.7 L112.9,36.7 L112.4,37.7 L111.9,38.7 L111.5,39.7 L111.1,40.7 L110.7,41.7 L110.3,42.7 L109.9,43.7 L109.5,44.7 L109.3,45 L108,48.5 L106.9,52 L106,55.5 L105.2,59 L104.2,62.5 L103.2,66 L102.2,69.5 L101.4,73 L100.6,76.5 L99.9,80 L99.1,83.5 L98.4,87 L97.7,90.5 L97.1,94 L96.4,97.5 L95.8,101 L95.3,104.5 L94.7,108 L94,111.5 L93.1,115 L92.3,118.5 L91.7,122 L91.2,125.5 L90.7,129 L90.2,132.5 L89.8,136 L89.3,139.5 L88.8,143 L88.3,146.5 L87.8,150 L87.3,153.5 L86.9,157 L86.4,160.5 L85.9,164 L85.5,167.5 L85,171 L84.6,174.5 L84.1,178 L83.7,181.5 L83.3,185 L82.9,188.5 L82.4,192 L82,195.5 L81.7,199 L81.3,202.5 L80.9,206 L80.6,209.5 L80.2,213 L79.8,216.5 L79.5,220 L79.1,223.5 L78.8,227 L78.5,230.5 L78.1,234 L77.8,237.5 L77.5,241 L77.2,244.5 L76.9,248 L76.6,251.5 L76.3,255 L76,258.5 L75.8,262 L75.5,265.5 L75.3,269 L75,272.5 L74.8,276 L74.5,279.5 L74.2,283 L74,286.5 L73.8,290 L73.6,293.5 L73.4,297 L73.2,300.5 L73,304 L72.7,307.5 L72.5,311 L72.3,314.5 L72.1,318 L71.9,321.5 L71.8,325 L71.6,328.5 L71.4,332 L71.2,335.5 L71,339 L70.8,342.5 L70.7,346 L70.5,349.5 L70.4,353 L70.3,356.5 L70.3,357" fill="none" stroke="url(#aStripe)" stroke-width="1.6"/>
<path d="M140.5,24.7 L128,25.7 L124.5,26.7 L122.7,27.7 L121.4,28.7 L120.5,29.7 L119.8,30.7 L119.2,31.7 L118.6,32.7 L118,33.7 L117.4,34.7 L116.9,35.7 L116.4,36.7 L115.9,37.7 L115.4,38.7 L115,39.7 L114.6,40.7 L114.2,41.7 L113.8,42.7 L113.4,43.7 L113,44.7 L112.8,45 L111.5,48.5 L110.4,52 L109.5,55.5 L108.7,59 L107.7,62.5 L106.7,66 L105.7,69.5 L104.9,73 L104.1,76.5 L103.4,80 L102.6,83.5 L101.9,87 L101.2,90.5 L100.6,94 L99.9,97.5 L99.3,101 L98.8,104.5 L98.2,108 L97.5,111.5 L96.6,115 L95.8,118.5 L95.2,122 L94.7,125.5 L94.2,129 L93.7,132.5 L93.3,136 L92.8,139.5 L92.3,143 L91.8,146.5 L91.3,150 L90.8,153.5 L90.4,157 L89.9,160.5 L89.4,164 L89,167.5 L88.5,171 L88.1,174.5 L87.6,178 L87.2,181.5 L86.8,185 L86.4,188.5 L85.9,192 L85.5,195.5 L85.2,199 L84.8,202.5 L84.4,206 L84.1,209.5 L83.7,213 L83.3,216.5 L83,220 L82.6,223.5 L82.3,227 L82,230.5 L81.6,234 L81.3,237.5 L81,241 L80.7,244.5 L80.4,248 L80.1,251.5 L79.8,255 L79.5,258.5 L79.3,262 L79,265.5 L78.8,269 L78.5,272.5 L78.3,276 L78,279.5 L77.7,283 L77.5,286.5 L77.3,290 L77.1,293.5 L76.9,297 L76.7,300.5 L76.5,304 L76.2,307.5 L76,311 L75.8,314.5 L75.6,318 L75.4,321.5 L75.3,325 L75.1,328.5 L74.9,332 L74.7,335.5 L74.5,339 L74.3,342.5 L74.2,346 L74,349.5 L73.9,353 L73.8,356.5 L73.8,357" fill="none" stroke="url(#aStripe)" stroke-width="1.6"/>
<path d="M144,24.7 L131.5,25.7 L128,26.7 L126.2,27.7 L124.9,28.7 L124,29.7 L123.3,30.7 L122.7,31.7 L122.1,32.7 L121.5,33.7 L120.9,34.7 L120.4,35.7 L119.9,36.7 L119.4,37.7 L118.9,38.7 L118.5,39.7 L118.1,40.7 L117.7,41.7 L117.3,42.7 L116.9,43.7 L116.5,44.7 L116.3,45 L115,48.5 L113.9,52 L113,55.5 L112.2,59 L111.2,62.5 L110.2,66 L109.2,69.5 L108.4,73 L107.6,76.5 L106.9,80 L106.1,83.5 L105.4,87 L104.7,90.5 L104.1,94 L103.4,97.5 L102.8,101 L102.3,104.5 L101.7,108 L101,111.5 L100.1,115 L99.3,118.5 L98.7,122 L98.2,125.5 L97.7,129 L97.2,132.5 L96.8,136 L96.3,139.5 L95.8,143 L95.3,146.5 L94.8,150 L94.3,153.5 L93.9,157 L93.4,160.5 L92.9,164 L92.5,167.5 L92,171 L91.6,174.5 L91.1,178 L90.7,181.5 L90.3,185 L89.9,188.5 L89.4,192 L89,195.5 L88.7,199 L88.3,202.5 L87.9,206 L87.6,209.5 L87.2,213 L86.8,216.5 L86.5,220 L86.1,223.5 L85.8,227 L85.5,230.5 L85.1,234 L84.8,237.5 L84.5,241 L84.2,244.5 L83.9,248 L83.6,251.5 L83.3,255 L83,258.5 L82.8,262 L82.5,265.5 L82.3,269 L82,272.5 L81.8,276 L81.5,279.5 L81.2,283 L81,286.5 L80.8,290 L80.6,293.5 L80.4,297 L80.2,300.5 L80,304 L79.7,307.5 L79.5,311 L79.3,314.5 L79.1,318 L78.9,321.5 L78.8,325 L78.6,328.5 L78.4,332 L78.2,335.5 L78,339 L77.8,342.5 L77.7,346 L77.5,349.5 L77.4,353 L77.3,356.5 L77.3,357" fill="none" stroke="url(#aStripe)" stroke-width="1.6"/>
<path d="M147.5,24.7 L135,25.7 L131.5,26.7 L129.7,27.7 L128.4,28.7 L127.5,29.7 L126.8,30.7 L126.2,31.7 L125.6,32.7 L125,33.7 L124.4,34.7 L123.9,35.7 L123.4,36.7 L122.9,37.7 L122.4,38.7 L122,39.7 L121.6,40.7 L121.2,41.7 L120.8,42.7 L120.4,43.7 L120,44.7 L119.8,45 L118.5,48.5 L117.4,52 L116.5,55.5 L115.7,59 L114.7,62.5 L113.7,66 L112.7,69.5 L111.9,73 L111.1,76.5 L110.4,80 L109.6,83.5 L108.9,87 L108.2,90.5 L107.6,94 L106.9,97.5 L106.3,101 L105.8,104.5 L105.2,108 L104.5,111.5 L103.6,115 L102.8,118.5 L102.2,122 L101.7,125.5 L101.2,129 L100.7,132.5 L100.3,136 L99.8,139.5 L99.3,143 L98.8,146.5 L98.3,150 L97.8,153.5 L97.4,157 L96.9,160.5 L96.4,164 L96,167.5 L95.5,171 L95.1,174.5 L94.6,178 L94.2,181.5 L93.8,185 L93.4,188.5 L92.9,192 L92.5,195.5 L92.2,199 L91.8,202.5 L91.4,206 L91.1,209.5 L90.7,213 L90.3,216.5 L90,220 L89.6,223.5 L89.3,227 L89,230.5 L88.6,234 L88.3,237.5 L88,241 L87.7,244.5 L87.4,248 L87.1,251.5 L86.8,255 L86.5,258.5 L86.3,262 L86,265.5 L85.8,269 L85.5,272.5 L85.3,276 L85,279.5 L84.7,283 L84.5,286.5 L84.3,290 L84.1,293.5 L83.9,297 L83.7,300.5 L83.5,304 L83.2,307.5 L83,311 L82.8,314.5 L82.6,318 L82.4,321.5 L82.3,325 L82.1,328.5 L81.9,332 L81.7,335.5 L81.5,339 L81.3,342.5 L81.2,346 L81,349.5 L80.9,353 L80.8,356.5 L80.8,357" fill="none" stroke="url(#aStripe)" stroke-width="1.6"/>
<path d="M151,24.7 L138.5,25.7 L135,26.7 L133.2,27.7 L131.9,28.7 L131,29.7 L130.3,30.7 L129.7,31.7 L129.1,32.7 L128.5,33.7 L127.9,34.7 L127.4,35.7 L126.9,36.7 L126.4,37.7 L125.9,38.7 L125.5,39.7 L125.1,40.7 L124.7,41.7 L124.3,42.7 L123.9,43.7 L123.5,44.7 L123.3,45 L122,48.5 L120.9,52 L120,55.5 L119.2,59 L118.2,62.5 L117.2,66 L116.2,69.5 L115.4,73 L114.6,76.5 L113.9,80 L113.1,83.5 L112.4,87 L111.7,90.5 L111.1,94 L110.4,97.5 L109.8,101 L109.3,104.5 L108.7,108 L108,111.5 L107.1,115 L106.3,118.5 L105.7,122 L105.2,125.5 L104.7,129 L104.2,132.5 L103.8,136 L103.3,139.5 L102.8,143 L102.3,146.5 L101.8,150 L101.3,153.5 L100.9,157 L100.4,160.5 L99.9,164 L99.5,167.5 L99,171 L98.6,174.5 L98.1,178 L97.7,181.5 L97.3,185 L96.9,188.5 L96.4,192 L96,195.5 L95.7,199 L95.3,202.5 L94.9,206 L94.6,209.5 L94.2,213 L93.8,216.5 L93.5,220 L93.1,223.5 L92.8,227 L92.5,230.5 L92.1,234 L91.8,237.5 L91.5,241 L91.2,244.5 L90.9,248 L90.6,251.5 L90.3,255 L90,258.5 L89.8,262 L89.5,265.5 L89.3,269 L89,272.5 L88.8,276 L88.5,279.5 L88.2,283 L88,286.5 L87.8,290 L87.6,293.5 L87.4,297 L87.2,300.5 L87,304 L86.7,307.5 L86.5,311 L86.3,314.5 L86.1,318 L85.9,321.5 L85.8,325 L85.6,328.5 L85.4,332 L85.2,335.5 L85,339 L84.8,342.5 L84.7,346 L84.5,349.5 L84.4,353 L84.3,356.5 L84.3,357" fill="none" stroke="url(#aStripe)" stroke-width="1.6"/>
<path d="M154.5,24.7 L142,25.7 L138.5,26.7 L136.7,27.7 L135.4,28.7 L134.5,29.7 L133.8,30.7 L133.2,31.7 L132.6,32.7 L132,33.7 L131.4,34.7 L130.9,35.7 L130.4,36.7 L129.9,37.7 L129.4,38.7 L129,39.7 L128.6,40.7 L128.2,41.7 L127.8,42.7 L127.4,43.7 L127,44.7 L126.8,45 L125.5,48.5 L124.4,52 L123.5,55.5 L122.7,59 L121.7,62.5 L120.7,66 L119.7,69.5 L118.9,73 L118.1,76.5 L117.4,80 L116.6,83.5 L115.9,87 L115.2,90.5 L114.6,94 L113.9,97.5 L113.3,101 L112.8,104.5 L112.2,108 L111.5,111.5 L110.6,115 L109.8,118.5 L109.2,122 L108.7,125.5 L108.2,129 L107.7,132.5 L107.3,136 L106.8,139.5 L106.3,143 L105.8,146.5 L105.3,150 L104.8,153.5 L104.4,157 L103.9,160.5 L103.4,164 L103,167.5 L102.5,171 L102.1,174.5 L101.6,178 L101.2,181.5 L100.8,185 L100.4,188.5 L99.9,192 L99.5,195.5 L99.2,199 L98.8,202.5 L98.4,206 L98.1,209.5 L97.7,213 L97.3,216.5 L97,220 L96.6,223.5 L96.3,227 L96,230.5 L95.6,234 L95.3,237.5 L95,241 L94.7,244.5 L94.4,248 L94.1,251.5 L93.8,255 L93.5,258.5 L93.3,262 L93,265.5 L92.8,269 L92.5,272.5 L92.3,276 L92,279.5 L91.7,283 L91.5,286.5 L91.3,290 L91.1,293.5 L90.9,297 L90.7,300.5 L90.5,304 L90.2,307.5 L90,311 L89.8,314.5 L89.6,318 L89.4,321.5 L89.3,325 L89.1,328.5 L88.9,332 L88.7,335.5 L88.5,339 L88.3,342.5 L88.2,346 L88,349.5 L87.9,353 L87.8,356.5 L87.8,357" fill="none" stroke="url(#aStripe)" stroke-width="1.6"/>
<path d="M158,24.7 L145.5,25.7 L142,26.7 L140.2,27.7 L138.9,28.7 L138,29.7 L137.3,30.7 L136.7,31.7 L136.1,32.7 L135.5,33.7 L134.9,34.7 L134.4,35.7 L133.9,36.7 L133.4,37.7 L132.9,38.7 L132.5,39.7 L132.1,40.7 L131.7,41.7 L131.3,42.7 L130.9,43.7 L130.5,44.7 L130.3,45 L129,48.5 L127.9,52 L127,55.5 L126.2,59 L125.2,62.5 L124.2,66 L123.2,69.5 L122.4,73 L121.6,76.5 L120.9,80 L120.1,83.5 L119.4,87 L118.7,90.5 L118.1,94 L117.4,97.5 L116.8,101 L116.3,104.5 L115.7,108 L115,111.5 L114.1,115 L113.3,118.5 L112.7,122 L112.2,125.5 L111.7,129 L111.2,132.5 L110.8,136 L110.3,139.5 L109.8,143 L109.3,146.5 L108.8,150 L108.3,153.5 L107.9,157 L107.4,160.5 L106.9,164 L106.5,167.5 L106,171 L105.6,174.5 L105.1,178 L104.7,181.5 L104.3,185 L103.9,188.5 L103.4,192 L103,195.5 L102.7,199 L102.3,202.5 L101.9,206 L101.6,209.5 L101.2,213 L100.8,216.5 L100.5,220 L100.1,223.5 L99.8,227 L99.5,230.5 L99.1,234 L98.8,237.5 L98.5,241 L98.2,244.5 L97.9,248 L97.6,251.5 L97.3,255 L97,258.5 L96.8,262 L96.5,265.5 L96.3,269 L96,272.5 L95.8,276 L95.5,279.5 L95.2,283 L95,286.5 L94.8,290 L94.6,293.5 L94.4,297 L94.2,300.5 L94,304 L93.7,307.5 L93.5,311 L93.3,314.5 L93.1,318 L92.9,321.5 L92.8,325 L92.6,328.5 L92.4,332 L92.2,335.5 L92,339 L91.8,342.5 L91.7,346 L91.5,349.5 L91.4,353 L91.3,356.5 L91.3,357" fill="none" stroke="url(#aStripe)" stroke-width="1.6"/>
<path d="M107.3,24.7 L94.8,25.7 L91.3,26.7 L89.5,27.7 L88.2,28.7 L87.3,29.7 L86.6,30.7 L86,31.7 L85.4,32.7 L84.8,33.7 L84.2,34.7 L83.7,35.7 L83.2,36.7 L82.7,37.7 L82.2,38.7 L81.8,39.7 L81.4,40.7 L81,41.7 L80.6,42.7 L80.2,43.7 L79.8,44.7 L79.6,45 L78.3,48.5 L77.2,52 L76.3,55.5 L75.5,59 L74.5,62.5 L73.5,66 L72.5,69.5 L71.7,73 L70.9,76.5 L70.2,80 L69.4,83.5 L68.7,87 L68,90.5 L67.4,94 L66.7,97.5 L66.1,101 L65.6,104.5 L65,108 L64.3,111.5 L63.4,115 L62.6,118.5 L62,122 L61.5,125.5 L61,129 L60.5,132.5 L60.1,136 L59.6,139.5 L59.1,143 L58.6,146.5 L58.1,150 L57.6,153.5 L57.2,157 L56.7,160.5 L56.2,164 L55.8,167.5 L55.3,171 L54.9,174.5 L54.4,178 L54,181.5 L53.6,185 L53.2,188.5 L52.7,192 L52.3,195.5 L52,199 L51.6,202.5 L51.2,206 L50.9,209.5 L50.5,213 L50.1,216.5 L49.8,220 L49.4,223.5 L49.1,227 L48.8,230.5 L48.4,234 L48.1,237.5 L47.8,241 L47.5,244.5 L47.2,248 L46.9,251.5 L46.6,255 L46.3,258.5 L46.1,262 L45.8,265.5 L45.6,269 L45.3,272.5 L45.1,276 L44.8,279.5 L44.5,283 L44.3,286.5 L44.1,290 L43.9,293.5 L43.7,297 L43.5,300.5 L43.3,304 L43,307.5 L42.8,311 L42.6,314.5 L42.4,318 L42.2,321.5 L42.1,325 L41.9,328.5 L41.7,332 L41.5,335.5 L41.3,339 L41.1,342.5 L41,346 L40.8,349.5 L40.7,353 L40.6,356.5 L40.6,357" fill="none" stroke="url(#aStripeL)" stroke-width="1.3"/>
<path d="M110.8,24.7 L98.3,25.7 L94.8,26.7 L93,27.7 L91.7,28.7 L90.8,29.7 L90.1,30.7 L89.5,31.7 L88.9,32.7 L88.3,33.7 L87.7,34.7 L87.2,35.7 L86.7,36.7 L86.2,37.7 L85.7,38.7 L85.3,39.7 L84.9,40.7 L84.5,41.7 L84.1,42.7 L83.7,43.7 L83.3,44.7 L83.1,45 L81.8,48.5 L80.7,52 L79.8,55.5 L79,59 L78,62.5 L77,66 L76,69.5 L75.2,73 L74.4,76.5 L73.7,80 L72.9,83.5 L72.2,87 L71.5,90.5 L70.9,94 L70.2,97.5 L69.6,101 L69.1,104.5 L68.5,108 L67.8,111.5 L66.9,115 L66.1,118.5 L65.5,122 L65,125.5 L64.5,129 L64,132.5 L63.6,136 L63.1,139.5 L62.6,143 L62.1,146.5 L61.6,150 L61.1,153.5 L60.7,157 L60.2,160.5 L59.7,164 L59.3,167.5 L58.8,171 L58.4,174.5 L57.9,178 L57.5,181.5 L57.1,185 L56.7,188.5 L56.2,192 L55.8,195.5 L55.5,199 L55.1,202.5 L54.7,206 L54.4,209.5 L54,213 L53.6,216.5 L53.3,220 L52.9,223.5 L52.6,227 L52.3,230.5 L51.9,234 L51.6,237.5 L51.3,241 L51,244.5 L50.7,248 L50.4,251.5 L50.1,255 L49.8,258.5 L49.6,262 L49.3,265.5 L49.1,269 L48.8,272.5 L48.6,276 L48.3,279.5 L48,283 L47.8,286.5 L47.6,290 L47.4,293.5 L47.2,297 L47,300.5 L46.8,304 L46.5,307.5 L46.3,311 L46.1,314.5 L45.9,318 L45.7,321.5 L45.6,325 L45.4,328.5 L45.2,332 L45,335.5 L44.8,339 L44.6,342.5 L44.5,346 L44.3,349.5 L44.2,353 L44.1,356.5 L44.1,357" fill="none" stroke="url(#aStripeL)" stroke-width="1.3"/>
<path d="M114.3,24.7 L101.8,25.7 L98.3,26.7 L96.5,27.7 L95.2,28.7 L94.3,29.7 L93.6,30.7 L93,31.7 L92.4,32.7 L91.8,33.7 L91.2,34.7 L90.7,35.7 L90.2,36.7 L89.7,37.7 L89.2,38.7 L88.8,39.7 L88.4,40.7 L88,41.7 L87.6,42.7 L87.2,43.7 L86.8,44.7 L86.6,45 L85.3,48.5 L84.2,52 L83.3,55.5 L82.5,59 L81.5,62.5 L80.5,66 L79.5,69.5 L78.7,73 L77.9,76.5 L77.2,80 L76.4,83.5 L75.7,87 L75,90.5 L74.4,94 L73.7,97.5 L73.1,101 L72.6,104.5 L72,108 L71.3,111.5 L70.4,115 L69.6,118.5 L69,122 L68.5,125.5 L68,129 L67.5,132.5 L67.1,136 L66.6,139.5 L66.1,143 L65.6,146.5 L65.1,150 L64.6,153.5 L64.2,157 L63.7,160.5 L63.2,164 L62.8,167.5 L62.3,171 L61.9,174.5 L61.4,178 L61,181.5 L60.6,185 L60.2,188.5 L59.7,192 L59.3,195.5 L59,199 L58.6,202.5 L58.2,206 L57.9,209.5 L57.5,213 L57.1,216.5 L56.8,220 L56.4,223.5 L56.1,227 L55.8,230.5 L55.4,234 L55.1,237.5 L54.8,241 L54.5,244.5 L54.2,248 L53.9,251.5 L53.6,255 L53.3,258.5 L53.1,262 L52.8,265.5 L52.6,269 L52.3,272.5 L52.1,276 L51.8,279.5 L51.5,283 L51.3,286.5 L51.1,290 L50.9,293.5 L50.7,297 L50.5,300.5 L50.3,304 L50,307.5 L49.8,311 L49.6,314.5 L49.4,318 L49.2,321.5 L49.1,325 L48.9,328.5 L48.7,332 L48.5,335.5 L48.3,339 L48.1,342.5 L48,346 L47.8,349.5 L47.7,353 L47.6,356.5 L47.6,357" fill="none" stroke="url(#aStripeL)" stroke-width="1.3"/>
<path d="M117.8,24.7 L105.3,25.7 L101.8,26.7 L100,27.7 L98.7,28.7 L97.8,29.7 L97.1,30.7 L96.5,31.7 L95.9,32.7 L95.3,33.7 L94.7,34.7 L94.2,35.7 L93.7,36.7 L93.2,37.7 L92.7,38.7 L92.3,39.7 L91.9,40.7 L91.5,41.7 L91.1,42.7 L90.7,43.7 L90.3,44.7 L90.1,45 L88.8,48.5 L87.7,52 L86.8,55.5 L86,59 L85,62.5 L84,66 L83,69.5 L82.2,73 L81.4,76.5 L80.7,80 L79.9,83.5 L79.2,87 L78.5,90.5 L77.9,94 L77.2,97.5 L76.6,101 L76.1,104.5 L75.5,108 L74.8,111.5 L73.9,115 L73.1,118.5 L72.5,122 L72,125.5 L71.5,129 L71,132.5 L70.6,136 L70.1,139.5 L69.6,143 L69.1,146.5 L68.6,150 L68.1,153.5 L67.7,157 L67.2,160.5 L66.7,164 L66.3,167.5 L65.8,171 L65.4,174.5 L64.9,178 L64.5,181.5 L64.1,185 L63.7,188.5 L63.2,192 L62.8,195.5 L62.5,199 L62.1,202.5 L61.7,206 L61.4,209.5 L61,213 L60.6,216.5 L60.3,220 L59.9,223.5 L59.6,227 L59.3,230.5 L58.9,234 L58.6,237.5 L58.3,241 L58,244.5 L57.7,248 L57.4,251.5 L57.1,255 L56.8,258.5 L56.6,262 L56.3,265.5 L56.1,269 L55.8,272.5 L55.6,276 L55.3,279.5 L55,283 L54.8,286.5 L54.6,290 L54.4,293.5 L54.2,297 L54,300.5 L53.8,304 L53.5,307.5 L53.3,311 L53.1,314.5 L52.9,318 L52.7,321.5 L52.6,325 L52.4,328.5 L52.2,332 L52,335.5 L51.8,339 L51.6,342.5 L51.5,346 L51.3,349.5 L51.2,353 L51.1,356.5 L51.1,357" fill="none" stroke="url(#aStripeL)" stroke-width="1.3"/>
<path d="M121.3,24.7 L108.8,25.7 L105.3,26.7 L103.5,27.7 L102.2,28.7 L101.3,29.7 L100.6,30.7 L100,31.7 L99.4,32.7 L98.8,33.7 L98.2,34.7 L97.7,35.7 L97.2,36.7 L96.7,37.7 L96.2,38.7 L95.8,39.7 L95.4,40.7 L95,41.7 L94.6,42.7 L94.2,43.7 L93.8,44.7 L93.6,45 L92.3,48.5 L91.2,52 L90.3,55.5 L89.5,59 L88.5,62.5 L87.5,66 L86.5,69.5 L85.7,73 L84.9,76.5 L84.2,80 L83.4,83.5 L82.7,87 L82,90.5 L81.4,94 L80.7,97.5 L80.1,101 L79.6,104.5 L79,108 L78.3,111.5 L77.4,115 L76.6,118.5 L76,122 L75.5,125.5 L75,129 L74.5,132.5 L74.1,136 L73.6,139.5 L73.1,143 L72.6,146.5 L72.1,150 L71.6,153.5 L71.2,157 L70.7,160.5 L70.2,164 L69.8,167.5 L69.3,171 L68.9,174.5 L68.4,178 L68,181.5 L67.6,185 L67.2,188.5 L66.7,192 L66.3,195.5 L66,199 L65.6,202.5 L65.2,206 L64.9,209.5 L64.5,213 L64.1,216.5 L63.8,220 L63.4,223.5 L63.1,227 L62.8,230.5 L62.4,234 L62.1,237.5 L61.8,241 L61.5,244.5 L61.2,248 L60.9,251.5 L60.6,255 L60.3,258.5 L60.1,262 L59.8,265.5 L59.6,269 L59.3,272.5 L59.1,276 L58.8,279.5 L58.5,283 L58.3,286.5 L58.1,290 L57.9,293.5 L57.7,297 L57.5,300.5 L57.3,304 L57,307.5 L56.8,311 L56.6,314.5 L56.4,318 L56.2,321.5 L56.1,325 L55.9,328.5 L55.7,332 L55.5,335.5 L55.3,339 L55.1,342.5 L55,346 L54.8,349.5 L54.7,353 L54.6,356.5 L54.6,357" fill="none" stroke="url(#aStripeL)" stroke-width="1.3"/>
<path d="M124.8,24.7 L112.3,25.7 L108.8,26.7 L107,27.7 L105.7,28.7 L104.8,29.7 L104.1,30.7 L103.5,31.7 L102.9,32.7 L102.3,33.7 L101.7,34.7 L101.2,35.7 L100.7,36.7 L100.2,37.7 L99.7,38.7 L99.3,39.7 L98.9,40.7 L98.5,41.7 L98.1,42.7 L97.7,43.7 L97.3,44.7 L97.1,45 L95.8,48.5 L94.7,52 L93.8,55.5 L93,59 L92,62.5 L91,66 L90,69.5 L89.2,73 L88.4,76.5 L87.7,80 L86.9,83.5 L86.2,87 L85.5,90.5 L84.9,94 L84.2,97.5 L83.6,101 L83.1,104.5 L82.5,108 L81.8,111.5 L80.9,115 L80.1,118.5 L79.5,122 L79,125.5 L78.5,129 L78,132.5 L77.6,136 L77.1,139.5 L76.6,143 L76.1,146.5 L75.6,150 L75.1,153.5 L74.7,157 L74.2,160.5 L73.7,164 L73.3,167.5 L72.8,171 L72.4,174.5 L71.9,178 L71.5,181.5 L71.1,185 L70.7,188.5 L70.2,192 L69.8,195.5 L69.5,199 L69.1,202.5 L68.7,206 L68.4,209.5 L68,213 L67.6,216.5 L67.3,220 L66.9,223.5 L66.6,227 L66.3,230.5 L65.9,234 L65.6,237.5 L65.3,241 L65,244.5 L64.7,248 L64.4,251.5 L64.1,255 L63.8,258.5 L63.6,262 L63.3,265.5 L63.1,269 L62.8,272.5 L62.6,276 L62.3,279.5 L62,283 L61.8,286.5 L61.6,290 L61.4,293.5 L61.2,297 L61,300.5 L60.8,304 L60.5,307.5 L60.3,311 L60.1,314.5 L59.9,318 L59.7,321.5 L59.6,325 L59.4,328.5 L59.2,332 L59,335.5 L58.8,339 L58.6,342.5 L58.5,346 L58.3,349.5 L58.2,353 L58.1,356.5 L58.1,357" fill="none" stroke="url(#aStripeL)" stroke-width="1.3"/>
<path d="M128.3,24.7 L115.8,25.7 L112.3,26.7 L110.5,27.7 L109.2,28.7 L108.3,29.7 L107.6,30.7 L107,31.7 L106.4,32.7 L105.8,33.7 L105.2,34.7 L104.7,35.7 L104.2,36.7 L103.7,37.7 L103.2,38.7 L102.8,39.7 L102.4,40.7 L102,41.7 L101.6,42.7 L101.2,43.7 L100.8,44.7 L100.6,45 L99.3,48.5 L98.2,52 L97.3,55.5 L96.5,59 L95.5,62.5 L94.5,66 L93.5,69.5 L92.7,73 L91.9,76.5 L91.2,80 L90.4,83.5 L89.7,87 L89,90.5 L88.4,94 L87.7,97.5 L87.1,101 L86.6,104.5 L86,108 L85.3,111.5 L84.4,115 L83.6,118.5 L83,122 L82.5,125.5 L82,129 L81.5,132.5 L81.1,136 L80.6,139.5 L80.1,143 L79.6,146.5 L79.1,150 L78.6,153.5 L78.2,157 L77.7,160.5 L77.2,164 L76.8,167.5 L76.3,171 L75.9,174.5 L75.4,178 L75,181.5 L74.6,185 L74.2,188.5 L73.7,192 L73.3,195.5 L73,199 L72.6,202.5 L72.2,206 L71.9,209.5 L71.5,213 L71.1,216.5 L70.8,220 L70.4,223.5 L70.1,227 L69.8,230.5 L69.4,234 L69.1,237.5 L68.8,241 L68.5,244.5 L68.2,248 L67.9,251.5 L67.6,255 L67.3,258.5 L67.1,262 L66.8,265.5 L66.6,269 L66.3,272.5 L66.1,276 L65.8,279.5 L65.5,283 L65.3,286.5 L65.1,290 L64.9,293.5 L64.7,297 L64.5,300.5 L64.3,304 L64,307.5 L63.8,311 L63.6,314.5 L63.4,318 L63.2,321.5 L63.1,325 L62.9,328.5 L62.7,332 L62.5,335.5 L62.3,339 L62.1,342.5 L62,346 L61.8,349.5 L61.7,353 L61.6,356.5 L61.6,357" fill="none" stroke="url(#aStripeL)" stroke-width="1.3"/>
<path d="M55.5,143 L55,146.5 L54.5,150 L54,153.5 L53.6,157 L53.1,160.5 L52.6,164 L52.2,167.5 L51.7,171 L51.3,174.5 L50.8,178 L50.4,181.5 L50,185 L49.6,188.5 L49.1,192 L48.7,195.5 L48.4,199 L48,202.5 L47.6,206 L47.3,209.5 L46.9,213 L46.5,216.5 L46.2,220 L45.8,223.5 L45.5,227 L45.2,230.5 L44.8,234 L44.5,237.5 L44.2,241 L43.9,244.5 L43.6,248 L43.3,251.5 L43,255 L42.7,258.5 L42.5,262 L42.2,265.5 L42,269 L41.7,272.5 L41.5,276 L41.2,279.5 L40.9,283 L40.7,286.5 L40.5,290 L40.3,293.5 L40.1,297 L39.9,300.5 L39.7,304 L39.4,307.5 L39.2,311 L39,314.5 L38.8,318 L38.6,321.5 L38.5,325 L38.3,328.5 L38.1,332 L37.9,335.5 L37.7,339 L37.5,342.5 L37.4,346 L37.2,349.5 L37.1,353 L37,356.5 L37,357" fill="none" stroke="url(#aLW0)" stroke-width="3.0"/>
<path d="M58.3,143 L57.8,146.5 L57.3,150 L56.8,153.5 L56.4,157 L55.9,160.5 L55.4,164 L55,167.5 L54.5,171 L54.1,174.5 L53.6,178 L53.2,181.5 L52.8,185 L52.4,188.5 L51.9,192 L51.5,195.5 L51.2,199 L50.8,202.5 L50.4,206 L50.1,209.5 L49.7,213 L49.3,216.5 L49,220 L48.6,223.5 L48.3,227 L48,230.5 L47.6,234 L47.3,237.5 L47,241 L46.7,244.5 L46.4,248 L46.1,251.5 L45.8,255 L45.5,258.5 L45.3,262 L45,265.5 L44.8,269 L44.5,272.5 L44.3,276 L44,279.5 L43.7,283 L43.5,286.5 L43.3,290 L43.1,293.5 L42.9,297 L42.7,300.5 L42.5,304 L42.2,307.5 L42,311 L41.8,314.5 L41.6,318 L41.4,321.5 L41.3,325 L41.1,328.5 L40.9,332 L40.7,335.5 L40.5,339 L40.3,342.5 L40.2,346 L40,349.5 L39.9,353 L39.8,356.5 L39.8,357" fill="none" stroke="url(#aLW1)" stroke-width="3.0"/>
<path d="M61.1,143 L60.6,146.5 L60.1,150 L59.6,153.5 L59.2,157 L58.7,160.5 L58.2,164 L57.8,167.5 L57.3,171 L56.9,174.5 L56.4,178 L56,181.5 L55.6,185 L55.2,188.5 L54.7,192 L54.3,195.5 L54,199 L53.6,202.5 L53.2,206 L52.9,209.5 L52.5,213 L52.1,216.5 L51.8,220 L51.4,223.5 L51.1,227 L50.8,230.5 L50.4,234 L50.1,237.5 L49.8,241 L49.5,244.5 L49.2,248 L48.9,251.5 L48.6,255 L48.3,258.5 L48.1,262 L47.8,265.5 L47.6,269 L47.3,272.5 L47.1,276 L46.8,279.5 L46.5,283 L46.3,286.5 L46.1,290 L45.9,293.5 L45.7,297 L45.5,300.5 L45.3,304 L45,307.5 L44.8,311 L44.6,314.5 L44.4,318 L44.2,321.5 L44.1,325 L43.9,328.5 L43.7,332 L43.5,335.5 L43.3,339 L43.1,342.5 L43,346 L42.8,349.5 L42.7,353 L42.6,356.5 L42.6,357" fill="none" stroke="url(#aLW2)" stroke-width="3.0"/>
<path d="M63.9,143 L63.4,146.5 L62.9,150 L62.4,153.5 L62,157 L61.5,160.5 L61,164 L60.6,167.5 L60.1,171 L59.7,174.5 L59.2,178 L58.8,181.5 L58.4,185 L58,188.5 L57.5,192 L57.1,195.5 L56.8,199 L56.4,202.5 L56,206 L55.7,209.5 L55.3,213 L54.9,216.5 L54.6,220 L54.2,223.5 L53.9,227 L53.6,230.5 L53.2,234 L52.9,237.5 L52.6,241 L52.3,244.5 L52,248 L51.7,251.5 L51.4,255 L51.1,258.5 L50.9,262 L50.6,265.5 L50.4,269 L50.1,272.5 L49.9,276 L49.6,279.5 L49.3,283 L49.1,286.5 L48.9,290 L48.7,293.5 L48.5,297 L48.3,300.5 L48.1,304 L47.8,307.5 L47.6,311 L47.4,314.5 L47.2,318 L47,321.5 L46.9,325 L46.7,328.5 L46.5,332 L46.3,335.5 L46.1,339 L45.9,342.5 L45.8,346 L45.6,349.5 L45.5,353 L45.4,356.5 L45.4,357" fill="none" stroke="url(#aLW3)" stroke-width="3.0"/>
<path d="M66.7,143 L66.2,146.5 L65.7,150 L65.2,153.5 L64.8,157 L64.3,160.5 L63.8,164 L63.4,167.5 L62.9,171 L62.5,174.5 L62,178 L61.6,181.5 L61.2,185 L60.8,188.5 L60.3,192 L59.9,195.5 L59.6,199 L59.2,202.5 L58.8,206 L58.5,209.5 L58.1,213 L57.7,216.5 L57.4,220 L57,223.5 L56.7,227 L56.4,230.5 L56,234 L55.7,237.5 L55.4,241 L55.1,244.5 L54.8,248 L54.5,251.5 L54.2,255 L53.9,258.5 L53.7,262 L53.4,265.5 L53.2,269 L52.9,272.5 L52.7,276 L52.4,279.5 L52.1,283 L51.9,286.5 L51.7,290 L51.5,293.5 L51.3,297 L51.1,300.5 L50.9,304 L50.6,307.5 L50.4,311 L50.2,314.5 L50,318 L49.8,321.5 L49.7,325 L49.5,328.5 L49.3,332 L49.1,335.5 L48.9,339 L48.7,342.5 L48.6,346 L48.4,349.5 L48.3,353 L48.2,356.5 L48.2,357" fill="none" stroke="url(#aLW4)" stroke-width="3.0"/>
<path d="M69.5,143 L69,146.5 L68.5,150 L68,153.5 L67.6,157 L67.1,160.5 L66.6,164 L66.2,167.5 L65.7,171 L65.3,174.5 L64.8,178 L64.4,181.5 L64,185 L63.6,188.5 L63.1,192 L62.7,195.5 L62.4,199 L62,202.5 L61.6,206 L61.3,209.5 L60.9,213 L60.5,216.5 L60.2,220 L59.8,223.5 L59.5,227 L59.2,230.5 L58.8,234 L58.5,237.5 L58.2,241 L57.9,244.5 L57.6,248 L57.3,251.5 L57,255 L56.7,258.5 L56.5,262 L56.2,265.5 L56,269 L55.7,272.5 L55.5,276 L55.2,279.5 L54.9,283 L54.7,286.5 L54.5,290 L54.3,293.5 L54.1,297 L53.9,300.5 L53.7,304 L53.4,307.5 L53.2,311 L53,314.5 L52.8,318 L52.6,321.5 L52.5,325 L52.3,328.5 L52.1,332 L51.9,335.5 L51.7,339 L51.5,342.5 L51.4,346 L51.2,349.5 L51.1,353 L51,356.5 L51,357" fill="none" stroke="url(#aLW5)" stroke-width="3.0"/>
<path d="M72.3,143 L71.8,146.5 L71.3,150 L70.8,153.5 L70.4,157 L69.9,160.5 L69.4,164 L69,167.5 L68.5,171 L68.1,174.5 L67.6,178 L67.2,181.5 L66.8,185 L66.4,188.5 L65.9,192 L65.5,195.5 L65.2,199 L64.8,202.5 L64.4,206 L64.1,209.5 L63.7,213 L63.3,216.5 L63,220 L62.6,223.5 L62.3,227 L62,230.5 L61.6,234 L61.3,237.5 L61,241 L60.7,244.5 L60.4,248 L60.1,251.5 L59.8,255 L59.5,258.5 L59.3,262 L59,265.5 L58.8,269 L58.5,272.5 L58.3,276 L58,279.5 L57.7,283 L57.5,286.5 L57.3,290 L57.1,293.5 L56.9,297 L56.7,300.5 L56.5,304 L56.2,307.5 L56,311 L55.8,314.5 L55.6,318 L55.4,321.5 L55.3,325 L55.1,328.5 L54.9,332 L54.7,335.5 L54.5,339 L54.3,342.5 L54.2,346 L54,349.5 L53.9,353 L53.8,356.5 L53.8,357" fill="none" stroke="url(#aLW6)" stroke-width="3.0"/>
<path d="M75.1,143 L74.6,146.5 L74.1,150 L73.6,153.5 L73.2,157 L72.7,160.5 L72.2,164 L71.8,167.5 L71.3,171 L70.9,174.5 L70.4,178 L70,181.5 L69.6,185 L69.2,188.5 L68.7,192 L68.3,195.5 L68,199 L67.6,202.5 L67.2,206 L66.9,209.5 L66.5,213 L66.1,216.5 L65.8,220 L65.4,223.5 L65.1,227 L64.8,230.5 L64.4,234 L64.1,237.5 L63.8,241 L63.5,244.5 L63.2,248 L62.9,251.5 L62.6,255 L62.3,258.5 L62.1,262 L61.8,265.5 L61.6,269 L61.3,272.5 L61.1,276 L60.8,279.5 L60.5,283 L60.3,286.5 L60.1,290 L59.9,293.5 L59.7,297 L59.5,300.5 L59.3,304 L59,307.5 L58.8,311 L58.6,314.5 L58.4,318 L58.2,321.5 L58.1,325 L57.9,328.5 L57.7,332 L57.5,335.5 L57.3,339 L57.1,342.5 L57,346 L56.8,349.5 L56.7,353 L56.6,356.5 L56.6,357" fill="none" stroke="url(#aLW7)" stroke-width="3.0"/>
<path d="M77.9,143 L77.4,146.5 L76.9,150 L76.4,153.5 L76,157 L75.5,160.5 L75,164 L74.6,167.5 L74.1,171 L73.7,174.5 L73.2,178 L72.8,181.5 L72.4,185 L72,188.5 L71.5,192 L71.1,195.5 L70.8,199 L70.4,202.5 L70,206 L69.7,209.5 L69.3,213 L68.9,216.5 L68.6,220 L68.2,223.5 L67.9,227 L67.6,230.5 L67.2,234 L66.9,237.5 L66.6,241 L66.3,244.5 L66,248 L65.7,251.5 L65.4,255 L65.1,258.5 L64.9,262 L64.6,265.5 L64.4,269 L64.1,272.5 L63.9,276 L63.6,279.5 L63.3,283 L63.1,286.5 L62.9,290 L62.7,293.5 L62.5,297 L62.3,300.5 L62.1,304 L61.8,307.5 L61.6,311 L61.4,314.5 L61.2,318 L61,321.5 L60.9,325 L60.7,328.5 L60.5,332 L60.3,335.5 L60.1,339 L59.9,342.5 L59.8,346 L59.6,349.5 L59.5,353 L59.4,356.5 L59.4,357" fill="none" stroke="url(#aLW8)" stroke-width="3.0"/>
<path d="M101.3,160.5 L101.8,164 L102.3,167.5 L102.8,171 L103.3,174.5 L103.7,178 L104.2,181.5 L104.7,185 L105.1,188.5 L105.5,192 L105.8,195.5 L106.1,199 L106.5,202.5 L106.8,206 L107.1,209.5 L107.5,213 L107.9,216.5 L108.3,220 L108.7,223.5 L109.1,227 L109.5,230.5 L109.9,234 L110.3,237.5 L110.8,241 L111.3,244.5 L111.7,248 L112.2,251.5 L112.6,255 L113.1,258.5 L113.5,262 L113.9,265.5 L114.3,269 L114.7,272.5 L115.1,276 L115.4,279.5 L115.8,283 L116.2,286.5 L116.6,290 L117,293.5 L117.5,297 L117.9,300.5 L118.3,304 L118.8,307.5 L119.2,311 L119.6,314.5 L120.1,318 L120.5,321.5 L120.8,325 L121.1,328.5 L121.5,332 L121.8,335.5 L122.2,339 L122.5,342.5 L122.9,346 L123.2,349.5 L123.6,353 L124,356.5 L124,357" fill="none" stroke="url(#aRW0)" stroke-width="2.6"/>
<path d="M98.9,160.5 L99.4,164 L99.9,167.5 L100.4,171 L100.9,174.5 L101.3,178 L101.8,181.5 L102.3,185 L102.7,188.5 L103.1,192 L103.4,195.5 L103.7,199 L104.1,202.5 L104.4,206 L104.7,209.5 L105.1,213 L105.5,216.5 L105.9,220 L106.3,223.5 L106.7,227 L107.1,230.5 L107.5,234 L107.9,237.5 L108.4,241 L108.9,244.5 L109.3,248 L109.8,251.5 L110.2,255 L110.7,258.5 L111.1,262 L111.5,265.5 L111.9,269 L112.3,272.5 L112.7,276 L113,279.5 L113.4,283 L113.8,286.5 L114.2,290 L114.6,293.5 L115.1,297 L115.5,300.5 L115.9,304 L116.4,307.5 L116.8,311 L117.2,314.5 L117.7,318 L118,321.5 L118.4,325 L118.7,328.5 L119.1,332 L119.4,335.5 L119.8,339 L120.1,342.5 L120.5,346 L120.8,349.5 L121.2,353 L121.5,356.5 L121.6,357" fill="none" stroke="url(#aRW1)" stroke-width="2.6"/>
<path d="M96.5,160.5 L97,164 L97.5,167.5 L98,171 L98.5,174.5 L98.9,178 L99.4,181.5 L99.9,185 L100.3,188.5 L100.7,192 L101,195.5 L101.3,199 L101.7,202.5 L102,206 L102.3,209.5 L102.7,213 L103.1,216.5 L103.5,220 L103.9,223.5 L104.3,227 L104.7,230.5 L105.1,234 L105.5,237.5 L106,241 L106.5,244.5 L106.9,248 L107.4,251.5 L107.8,255 L108.3,258.5 L108.7,262 L109.1,265.5 L109.5,269 L109.9,272.5 L110.3,276 L110.6,279.5 L111,283 L111.4,286.5 L111.8,290 L112.2,293.5 L112.7,297 L113.1,300.5 L113.5,304 L114,307.5 L114.4,311 L114.8,314.5 L115.3,318 L115.7,321.5 L116,325 L116.3,328.5 L116.7,332 L117,335.5 L117.4,339 L117.8,342.5 L118.1,346 L118.5,349.5 L118.8,353 L119.2,356.5 L119.2,357" fill="none" stroke="url(#aRW2)" stroke-width="2.6"/>
<path d="M94.1,160.5 L94.6,164 L95.1,167.5 L95.6,171 L96.1,174.5 L96.5,178 L97,181.5 L97.5,185 L97.9,188.5 L98.3,192 L98.6,195.5 L98.9,199 L99.3,202.5 L99.6,206 L99.9,209.5 L100.3,213 L100.7,216.5 L101.1,220 L101.5,223.5 L101.9,227 L102.3,230.5 L102.7,234 L103.1,237.5 L103.6,241 L104.1,244.5 L104.5,248 L105,251.5 L105.4,255 L105.9,258.5 L106.3,262 L106.7,265.5 L107.1,269 L107.5,272.5 L107.9,276 L108.2,279.5 L108.6,283 L109,286.5 L109.4,290 L109.8,293.5 L110.3,297 L110.7,300.5 L111.1,304 L111.6,307.5 L112,311 L112.4,314.5 L112.9,318 L113.2,321.5 L113.6,325 L113.9,328.5 L114.3,332 L114.6,335.5 L115,339 L115.3,342.5 L115.7,346 L116,349.5 L116.4,353 L116.8,356.5 L116.8,357" fill="none" stroke="url(#aRW3)" stroke-width="2.6"/>
<path d="M91.7,160.5 L92.2,164 L92.7,167.5 L93.2,171 L93.7,174.5 L94.1,178 L94.6,181.5 L95.1,185 L95.5,188.5 L95.9,192 L96.2,195.5 L96.5,199 L96.9,202.5 L97.2,206 L97.5,209.5 L97.9,213 L98.3,216.5 L98.7,220 L99.1,223.5 L99.5,227 L99.9,230.5 L100.3,234 L100.7,237.5 L101.2,241 L101.7,244.5 L102.1,248 L102.6,251.5 L103,255 L103.5,258.5 L103.9,262 L104.3,265.5 L104.7,269 L105.1,272.5 L105.5,276 L105.8,279.5 L106.2,283 L106.6,286.5 L107,290 L107.4,293.5 L107.9,297 L108.3,300.5 L108.7,304 L109.2,307.5 L109.6,311 L110,314.5 L110.5,318 L110.9,321.5 L111.2,325 L111.5,328.5 L111.9,332 L112.2,335.5 L112.6,339 L113,342.5 L113.3,346 L113.7,349.5 L114,353 L114.4,356.5 L114.4,357" fill="none" stroke="url(#aRW4)" stroke-width="2.6"/>
<path d="M89.3,160.5 L89.8,164 L90.3,167.5 L90.8,171 L91.3,174.5 L91.7,178 L92.2,181.5 L92.7,185 L93.1,188.5 L93.5,192 L93.8,195.5 L94.1,199 L94.5,202.5 L94.8,206 L95.1,209.5 L95.5,213 L95.9,216.5 L96.3,220 L96.7,223.5 L97.1,227 L97.5,230.5 L97.9,234 L98.3,237.5 L98.8,241 L99.3,244.5 L99.7,248 L100.2,251.5 L100.6,255 L101.1,258.5 L101.5,262 L101.9,265.5 L102.3,269 L102.7,272.5 L103.1,276 L103.4,279.5 L103.8,283 L104.2,286.5 L104.6,290 L105,293.5 L105.5,297 L105.9,300.5 L106.3,304 L106.8,307.5 L107.2,311 L107.6,314.5 L108.1,318 L108.5,321.5 L108.8,325 L109.1,328.5 L109.5,332 L109.8,335.5 L110.2,339 L110.5,342.5 L110.9,346 L111.2,349.5 L111.6,353 L112,356.5 L112,357" fill="none" stroke="url(#aRW5)" stroke-width="2.6"/>
<path d="M100.7,24.7 L99,25.7 L97.3,26.7 L96,27.7 L94.8,28.7 L93.6,29.7 L92.9,30.7 L92.1,31.7 L91.4,32.7 L90.7,33.7 L90.1,34.7 L89.6,35.7 L89,36.7 L88.5,37.7 L87.9,38.7 L87.3,39.7 L86.8,40.7 L86.4,41.7 L86.2,42.7 L86,43.7 L85.7,44.7 L85.6,45 L85,48.5 L84.4,52 L84,55.5 L83.5,59 L82.9,62.5 L82.1,66 L81,69.5 L80.3,73 L79.8,76.5 L79.8,80 L80.5,83.5 L81.7,87 L83.6,90.5 L85.5,94 L87.2,97.5 L88.8,101 L90.2,104.5 L91.4,108 L92.6,111.5 L93.6,115 L94.5,118.5 L95.4,122 L96.3,125.5 L97.1,129 L97.8,132.5 L98.5,136 L99.2,139.5 L99.7,143 L100.2,146.5 L100.7,150 L101.2,153.5 L101.6,157 L102.1,160.5 L102.6,164 L103.1,167.5 L103.6,171 L104.1,174.5 L104.5,178 L105,181.5 L105.5,185 L105.9,188.5 L106.3,192 L106.6,195.5 L106.9,199 L107.3,202.5 L107.6,206 L107.9,209.5 L108.3,213 L108.7,216.5 L109.1,220 L109.5,223.5 L109.9,227 L110.3,230.5 L110.7,234 L111.1,237.5 L111.6,241 L112.1,244.5 L112.5,248 L113,251.5 L113.4,255 L113.9,258.5 L114.3,262 L114.7,265.5 L115.1,269 L115.5,272.5 L115.9,276 L116.2,279.5 L116.6,283 L117,286.5 L117.4,290 L117.8,293.5 L118.3,297 L118.7,300.5 L119.1,304 L119.6,307.5 L120,311 L120.4,314.5 L120.9,318 L121.2,321.5 L121.6,325 L121.9,328.5 L122.3,332 L122.6,335.5 L123,339 L123.3,342.5 L123.7,346 L124,349.5 L124.4,353 L124.8,356.5 L124.8,357" fill="none" stroke="url(#aRightG)" stroke-width="2.4"/>
<path d="M102.8,24.7 L90.3,25.7 L86.8,26.7 L85,27.7 L83.7,28.7 L82.8,29.7 L82.1,30.7 L81.5,31.7 L80.9,32.7 L80.3,33.7 L79.7,34.7 L79.2,35.7 L78.7,36.7 L78.2,37.7 L77.7,38.7 L77.3,39.7 L76.9,40.7 L76.5,41.7 L76.1,42.7 L75.7,43.7 L75.3,44.7 L75.1,45 L73.8,48.5 L72.7,52 L71.8,55.5 L71,59 L70,62.5 L69,66 L68,69.5 L67.2,73 L66.4,76.5 L65.7,80 L64.9,83.5 L64.2,87 L63.5,90.5 L62.9,94 L62.2,97.5 L61.6,101 L61.1,104.5 L60.5,108 L59.8,111.5 L58.9,115 L58.1,118.5 L57.5,122 L57,125.5 L56.5,129 L56,132.5 L55.6,136 L55.1,139.5 L54.6,143 L54.1,146.5 L53.6,150 L53.1,153.5 L52.7,157 L52.2,160.5 L51.7,164 L51.3,167.5 L50.8,171 L50.4,174.5 L49.9,178 L49.5,181.5 L49.1,185 L48.7,188.5 L48.2,192 L47.8,195.5 L47.5,199 L47.1,202.5 L46.7,206 L46.4,209.5 L46,213 L45.6,216.5 L45.3,220 L44.9,223.5 L44.6,227 L44.3,230.5 L43.9,234 L43.6,237.5 L43.3,241 L43,244.5 L42.7,248 L42.4,251.5 L42.1,255 L41.8,258.5 L41.6,262 L41.3,265.5 L41.1,269 L40.8,272.5 L40.6,276 L40.3,279.5 L40,283 L39.8,286.5 L39.6,290 L39.4,293.5 L39.2,297 L39,300.5 L38.8,304 L38.5,307.5 L38.3,311 L38.1,314.5 L37.9,318 L37.7,321.5 L37.6,325 L37.4,328.5 L37.2,332 L37,335.5 L36.8,339 L36.6,342.5 L36.5,346 L36.3,349.5 L36.2,353 L36.1,356.5 L36.1,357" fill="none" stroke="#30dcf8" stroke-width="1.8"/>
</g>
<line x1="107.5" y1="25.0" x2="143.75" y2="25.0" stroke="#e8141e" stroke-width="1.5"/>
<path d="M109.8,22.6 L106,25 L109.8,27.4" fill="none" stroke="#e8141e" stroke-width="1.5"/>
<line x1="107.5" y1="27.6" x2="143.75" y2="27.6" stroke="#e8141e" stroke-width="1.5"/>
<path d="M109.8,25.2 L106,27.6 L109.8,30" fill="none" stroke="#e8141e" stroke-width="1.5"/>
<line x1="107.5" y1="33.9" x2="143.75" y2="33.9" stroke="#e8141e" stroke-width="1.5"/>
<path d="M109.8,31.5 L106,33.9 L109.8,36.3" fill="none" stroke="#e8141e" stroke-width="1.5"/>
<line x1="107.5" y1="59.3" x2="143.75" y2="59.3" stroke="#e8141e" stroke-width="1.5"/>
<path d="M109.8,56.9 L106,59.3 L109.8,61.7" fill="none" stroke="#e8141e" stroke-width="1.5"/>
<line x1="107.5" y1="128.7" x2="143.75" y2="128.7" stroke="#e8141e" stroke-width="1.5"/>
<path d="M109.8,126.3 L106,128.7 L109.8,131.1" fill="none" stroke="#e8141e" stroke-width="1.5"/>
<line x1="107.5" y1="305.5" x2="143.75" y2="305.5" stroke="#e8141e" stroke-width="1.5"/>
<path d="M109.8,303.1 L106,305.5 L109.8,307.9" fill="none" stroke="#e8141e" stroke-width="1.5"/>
</g>
<rect x="24.6" y="28.2" width="12.4" height="76.2" fill="url(#jetCB)" stroke="#f0f0f0" stroke-width="1"/>
<line x1="35.3" y1="32.1" x2="37" y2="32.1" stroke="#f0f0f0" stroke-width="0.8"/>
<text x="42.4" y="35.2" font-size="8.6" text-anchor="middle" fill="#ffffff" font-weight="normal" >8</text>
<line x1="35.3" y1="50.7" x2="37" y2="50.7" stroke="#f0f0f0" stroke-width="0.8"/>
<text x="42.4" y="53.8" font-size="8.6" text-anchor="middle" fill="#ffffff" font-weight="normal" >6</text>
<line x1="35.3" y1="69.0" x2="37" y2="69.0" stroke="#f0f0f0" stroke-width="0.8"/>
<text x="42.4" y="72.1" font-size="8.6" text-anchor="middle" fill="#ffffff" font-weight="normal" >4</text>
<line x1="35.3" y1="87.4" x2="37" y2="87.4" stroke="#f0f0f0" stroke-width="0.8"/>
<text x="42.4" y="90.5" font-size="8.6" text-anchor="middle" fill="#ffffff" font-weight="normal" >2</text>
<text transform="translate(56.6,60.6) rotate(-90)" font-size="13.5" text-anchor="middle" fill="#ffffff" font-family="Liberation Serif">&#936;</text>
<text x="31" y="17.9" font-size="14.2" text-anchor="middle" fill="#ffffff" font-weight="bold" >a</text>
<rect x="18.5" y="2.1" width="125.2" height="353.4" fill="none" stroke="#5a5a5a" stroke-width="0.7"/>
<line x1="24.1" y1="355.5" x2="24.1" y2="352.3" stroke="#404040" stroke-width="0.7"/>
<line x1="24.1" y1="2.1" x2="24.1" y2="5.3" stroke="#404040" stroke-width="0.7"/>
<text x="23.5" y="368.2" font-size="9" text-anchor="middle" fill="#262626" font-weight="normal" >-60</text>
<line x1="44.8" y1="355.5" x2="44.8" y2="352.3" stroke="#404040" stroke-width="0.7"/>
<line x1="44.8" y1="2.1" x2="44.8" y2="5.3" stroke="#404040" stroke-width="0.7"/>
<text x="44.2" y="368.2" font-size="9" text-anchor="middle" fill="#262626" font-weight="normal" >-40</text>
<line x1="65.4" y1="355.5" x2="65.4" y2="352.3" stroke="#404040" stroke-width="0.7"/>
<line x1="65.4" y1="2.1" x2="65.4" y2="5.3" stroke="#404040" stroke-width="0.7"/>
<text x="64.8" y="368.2" font-size="9" text-anchor="middle" fill="#262626" font-weight="normal" >-20</text>
<line x1="86.1" y1="355.5" x2="86.1" y2="352.3" stroke="#404040" stroke-width="0.7"/>
<line x1="86.1" y1="2.1" x2="86.1" y2="5.3" stroke="#404040" stroke-width="0.7"/>
<text x="86.1" y="368.2" font-size="9" text-anchor="middle" fill="#262626" font-weight="normal" >0</text>
<line x1="106.8" y1="355.5" x2="106.8" y2="352.3" stroke="#404040" stroke-width="0.7"/>
<line x1="106.8" y1="2.1" x2="106.8" y2="5.3" stroke="#404040" stroke-width="0.7"/>
<text x="106.8" y="368.2" font-size="9" text-anchor="middle" fill="#262626" font-weight="normal" >20</text>
<line x1="127.4" y1="355.5" x2="127.4" y2="352.3" stroke="#404040" stroke-width="0.7"/>
<line x1="127.4" y1="2.1" x2="127.4" y2="5.3" stroke="#404040" stroke-width="0.7"/>
<text x="127.4" y="368.2" font-size="9" text-anchor="middle" fill="#262626" font-weight="normal" >40</text>
<line x1="18.5" y1="2.2" x2="21.7" y2="2.2" stroke="#404040" stroke-width="0.7"/>
<line x1="143.75" y1="2.2" x2="140.6" y2="2.2" stroke="#404040" stroke-width="0.7"/>
<text x="16.3" y="5.5" font-size="9" text-anchor="end" fill="#262626" font-weight="normal" >6</text>
<line x1="18.5" y1="103.3" x2="21.7" y2="103.3" stroke="#404040" stroke-width="0.7"/>
<line x1="143.75" y1="103.3" x2="140.6" y2="103.3" stroke="#404040" stroke-width="0.7"/>
<text x="16.3" y="106.6" font-size="9" text-anchor="end" fill="#262626" font-weight="normal" >5</text>
<line x1="18.5" y1="204.4" x2="21.7" y2="204.4" stroke="#404040" stroke-width="0.7"/>
<line x1="143.75" y1="204.4" x2="140.6" y2="204.4" stroke="#404040" stroke-width="0.7"/>
<text x="16.3" y="207.7" font-size="9" text-anchor="end" fill="#262626" font-weight="normal" >4</text>
<line x1="18.5" y1="305.5" x2="21.7" y2="305.5" stroke="#404040" stroke-width="0.7"/>
<line x1="143.75" y1="305.5" x2="140.6" y2="305.5" stroke="#404040" stroke-width="0.7"/>
<text x="16.3" y="308.8" font-size="9" text-anchor="end" fill="#262626" font-weight="normal" >3</text>
<text x="78.8" y="381.8" font-size="10" text-anchor="middle" fill="#262626" font-weight="normal" textLength="53.2" lengthAdjust="spacingAndGlyphs">Fast time (<tspan font-family="Liberation Serif" font-style="italic">&#964;</tspan>)</text>
<text transform="translate(8.3,173.3) rotate(-90)" font-size="10.2" text-anchor="middle" fill="#262626" textLength="54.5" lengthAdjust="spacingAndGlyphs">Detuning  <tspan font-family="Liberation Serif" font-style="italic" font-size="12">&#950;</tspan><tspan font-size="7" dy="2.2">0</tspan></text>
<rect x="164.1" y="2.3" width="131.7" height="161.4" fill="#fff"/>
<text x="162.9" y="175.6" font-size="8.6" text-anchor="middle" fill="#262626" font-weight="normal" >-50</text>
<line x1="178.8" y1="163.75" x2="178.8" y2="161.9" stroke="#4d4d4d" stroke-width="0.7"/>
<line x1="178.8" y1="2.3" x2="178.8" y2="4.1" stroke="#4d4d4d" stroke-width="0.7"/>
<text x="177.6" y="175.6" font-size="8.6" text-anchor="middle" fill="#262626" font-weight="normal" >-40</text>
<line x1="193.4" y1="163.75" x2="193.4" y2="161.9" stroke="#4d4d4d" stroke-width="0.7"/>
<line x1="193.4" y1="2.3" x2="193.4" y2="4.1" stroke="#4d4d4d" stroke-width="0.7"/>
<text x="192.2" y="175.6" font-size="8.6" text-anchor="middle" fill="#262626" font-weight="normal" >-30</text>
<line x1="208" y1="163.75" x2="208" y2="161.9" stroke="#4d4d4d" stroke-width="0.7"/>
<line x1="208" y1="2.3" x2="208" y2="4.1" stroke="#4d4d4d" stroke-width="0.7"/>
<text x="206.8" y="175.6" font-size="8.6" text-anchor="middle" fill="#262626" font-weight="normal" >-20</text>
<line x1="222.6" y1="163.75" x2="222.6" y2="161.9" stroke="#4d4d4d" stroke-width="0.7"/>
<line x1="222.6" y1="2.3" x2="222.6" y2="4.1" stroke="#4d4d4d" stroke-width="0.7"/>
<text x="221.4" y="175.6" font-size="8.6" text-anchor="middle" fill="#262626" font-weight="normal" >-10</text>
<line x1="237.2" y1="163.75" x2="237.2" y2="161.9" stroke="#4d4d4d" stroke-width="0.7"/>
<line x1="237.2" y1="2.3" x2="237.2" y2="4.1" stroke="#4d4d4d" stroke-width="0.7"/>
<text x="237.2" y="175.6" font-size="8.6" text-anchor="middle" fill="#262626" font-weight="normal" >0</text>
<line x1="251.9" y1="163.75" x2="251.9" y2="161.9" stroke="#4d4d4d" stroke-width="0.7"/>
<line x1="251.9" y1="2.3" x2="251.9" y2="4.1" stroke="#4d4d4d" stroke-width="0.7"/>
<text x="251.9" y="175.6" font-size="8.6" text-anchor="middle" fill="#262626" font-weight="normal" >10</text>
<line x1="266.5" y1="163.75" x2="266.5" y2="161.9" stroke="#4d4d4d" stroke-width="0.7"/>
<line x1="266.5" y1="2.3" x2="266.5" y2="4.1" stroke="#4d4d4d" stroke-width="0.7"/>
<text x="266.5" y="175.6" font-size="8.6" text-anchor="middle" fill="#262626" font-weight="normal" >20</text>
<line x1="281.1" y1="163.75" x2="281.1" y2="161.9" stroke="#4d4d4d" stroke-width="0.7"/>
<line x1="281.1" y1="2.3" x2="281.1" y2="4.1" stroke="#4d4d4d" stroke-width="0.7"/>
<text x="281.1" y="175.6" font-size="8.6" text-anchor="middle" fill="#262626" font-weight="normal" >30</text>
<line x1="164.1" y1="158.4" x2="165.9" y2="158.4" stroke="#4d4d4d" stroke-width="0.7"/>
<line x1="295.75" y1="158.4" x2="293.9" y2="158.4" stroke="#4d4d4d" stroke-width="0.7"/>
<line x1="164.1" y1="153" x2="165.9" y2="153" stroke="#4d4d4d" stroke-width="0.7"/>
<line x1="295.75" y1="153" x2="293.9" y2="153" stroke="#4d4d4d" stroke-width="0.7"/>
<line x1="164.1" y1="147.6" x2="165.9" y2="147.6" stroke="#4d4d4d" stroke-width="0.7"/>
<line x1="295.75" y1="147.6" x2="293.9" y2="147.6" stroke="#4d4d4d" stroke-width="0.7"/>
<line x1="164.1" y1="142.3" x2="165.9" y2="142.3" stroke="#4d4d4d" stroke-width="0.7"/>
<line x1="295.75" y1="142.3" x2="293.9" y2="142.3" stroke="#4d4d4d" stroke-width="0.7"/>
<line x1="164.1" y1="136.9" x2="165.9" y2="136.9" stroke="#4d4d4d" stroke-width="0.7"/>
<line x1="295.75" y1="136.9" x2="293.9" y2="136.9" stroke="#4d4d4d" stroke-width="0.7"/>
<line x1="164.1" y1="131.5" x2="165.9" y2="131.5" stroke="#4d4d4d" stroke-width="0.7"/>
<line x1="295.75" y1="131.5" x2="293.9" y2="131.5" stroke="#4d4d4d" stroke-width="0.7"/>
<line x1="164.1" y1="126.2" x2="165.9" y2="126.2" stroke="#4d4d4d" stroke-width="0.7"/>
<line x1="295.75" y1="126.2" x2="293.9" y2="126.2" stroke="#4d4d4d" stroke-width="0.7"/>
<line x1="164.1" y1="120.8" x2="165.9" y2="120.8" stroke="#4d4d4d" stroke-width="0.7"/>
<line x1="295.75" y1="120.8" x2="293.9" y2="120.8" stroke="#4d4d4d" stroke-width="0.7"/>
<line x1="164.1" y1="115.4" x2="165.9" y2="115.4" stroke="#4d4d4d" stroke-width="0.7"/>
<line x1="295.75" y1="115.4" x2="293.9" y2="115.4" stroke="#4d4d4d" stroke-width="0.7"/>
<line x1="164.1" y1="110" x2="165.9" y2="110" stroke="#4d4d4d" stroke-width="0.7"/>
<line x1="295.75" y1="110" x2="293.9" y2="110" stroke="#4d4d4d" stroke-width="0.7"/>
<line x1="164.1" y1="104.7" x2="165.9" y2="104.7" stroke="#4d4d4d" stroke-width="0.7"/>
<line x1="295.75" y1="104.7" x2="293.9" y2="104.7" stroke="#4d4d4d" stroke-width="0.7"/>
<line x1="164.1" y1="99.3" x2="165.9" y2="99.3" stroke="#4d4d4d" stroke-width="0.7"/>
<line x1="295.75" y1="99.3" x2="293.9" y2="99.3" stroke="#4d4d4d" stroke-width="0.7"/>
<line x1="164.1" y1="93.9" x2="165.9" y2="93.9" stroke="#4d4d4d" stroke-width="0.7"/>
<line x1="295.75" y1="93.9" x2="293.9" y2="93.9" stroke="#4d4d4d" stroke-width="0.7"/>
<line x1="164.1" y1="88.6" x2="165.9" y2="88.6" stroke="#4d4d4d" stroke-width="0.7"/>
<line x1="295.75" y1="88.6" x2="293.9" y2="88.6" stroke="#4d4d4d" stroke-width="0.7"/>
<line x1="164.1" y1="83.2" x2="165.9" y2="83.2" stroke="#4d4d4d" stroke-width="0.7"/>
<line x1="295.75" y1="83.2" x2="293.9" y2="83.2" stroke="#4d4d4d" stroke-width="0.7"/>
<line x1="164.1" y1="77.8" x2="165.9" y2="77.8" stroke="#4d4d4d" stroke-width="0.7"/>
<line x1="295.75" y1="77.8" x2="293.9" y2="77.8" stroke="#4d4d4d" stroke-width="0.7"/>
<line x1="164.1" y1="72.5" x2="165.9" y2="72.5" stroke="#4d4d4d" stroke-width="0.7"/>
<line x1="295.75" y1="72.5" x2="293.9" y2="72.5" stroke="#4d4d4d" stroke-width="0.7"/>
<line x1="164.1" y1="67.1" x2="165.9" y2="67.1" stroke="#4d4d4d" stroke-width="0.7"/>
<line x1="295.75" y1="67.1" x2="293.9" y2="67.1" stroke="#4d4d4d" stroke-width="0.7"/>
<line x1="164.1" y1="61.7" x2="165.9" y2="61.7" stroke="#4d4d4d" stroke-width="0.7"/>
<line x1="295.75" y1="61.7" x2="293.9" y2="61.7" stroke="#4d4d4d" stroke-width="0.7"/>
<line x1="164.1" y1="56.3" x2="165.9" y2="56.3" stroke="#4d4d4d" stroke-width="0.7"/>
<line x1="295.75" y1="56.3" x2="293.9" y2="56.3" stroke="#4d4d4d" stroke-width="0.7"/>
<line x1="164.1" y1="51" x2="165.9" y2="51" stroke="#4d4d4d" stroke-width="0.7"/>
<line x1="295.75" y1="51" x2="293.9" y2="51" stroke="#4d4d4d" stroke-width="0.7"/>
<line x1="164.1" y1="45.6" x2="165.9" y2="45.6" stroke="#4d4d4d" stroke-width="0.7"/>
<line x1="295.75" y1="45.6" x2="293.9" y2="45.6" stroke="#4d4d4d" stroke-width="0.7"/>
<line x1="164.1" y1="40.2" x2="165.9" y2="40.2" stroke="#4d4d4d" stroke-width="0.7"/>
<line x1="295.75" y1="40.2" x2="293.9" y2="40.2" stroke="#4d4d4d" stroke-width="0.7"/>
<line x1="164.1" y1="34.9" x2="165.9" y2="34.9" stroke="#4d4d4d" stroke-width="0.7"/>
<line x1="295.75" y1="34.9" x2="293.9" y2="34.9" stroke="#4d4d4d" stroke-width="0.7"/>
<line x1="164.1" y1="29.5" x2="165.9" y2="29.5" stroke="#4d4d4d" stroke-width="0.7"/>
<line x1="295.75" y1="29.5" x2="293.9" y2="29.5" stroke="#4d4d4d" stroke-width="0.7"/>
<line x1="164.1" y1="24.1" x2="165.9" y2="24.1" stroke="#4d4d4d" stroke-width="0.7"/>
<line x1="295.75" y1="24.1" x2="293.9" y2="24.1" stroke="#4d4d4d" stroke-width="0.7"/>
<line x1="164.1" y1="18.8" x2="165.9" y2="18.8" stroke="#4d4d4d" stroke-width="0.7"/>
<line x1="295.75" y1="18.8" x2="293.9" y2="18.8" stroke="#4d4d4d" stroke-width="0.7"/>
<line x1="164.1" y1="13.4" x2="165.9" y2="13.4" stroke="#4d4d4d" stroke-width="0.7"/>
<line x1="295.75" y1="13.4" x2="293.9" y2="13.4" stroke="#4d4d4d" stroke-width="0.7"/>
<line x1="164.1" y1="8" x2="165.9" y2="8" stroke="#4d4d4d" stroke-width="0.7"/>
<line x1="295.75" y1="8" x2="293.9" y2="8" stroke="#4d4d4d" stroke-width="0.7"/>
<g clip-path="url(#clipB)" fill="none" stroke-linejoin="round" stroke-linecap="round">
<path d="M164.1,25.5 L165.8,24.8 L168.2,23.9 L171,22.9 L174.1,21.7 L177.3,20.5 L180.4,19.4 L183.6,18.3 L186.9,17.2 L190.4,16.1 L193.9,14.9 L197.4,13.8 L200.9,12.6 L204.4,11.4 L208.1,10.1 L211.8,8.8 L215.4,7.6 L218.6,6.5 L221.3,5.6 L223.4,4.9 L225.1,4.4 L226.4,4.1 L227.6,3.8 L228.7,3.5 L230,3.3 L231.3,3.1 L232.7,2.9 L233.9,2.8 L235.2,2.7 L236.5,2.6 L237.7,2.6 L238.9,2.6 L240.2,2.7 L241.4,2.8 L242.6,2.9 L243.8,3 L245,3.2 L246,3.3 L246.9,3.4 L247.7,3.6 L248.7,3.8 L250.1,4.1 L252,4.6 L254.6,5.3 L257.7,6.1 L261.2,7 L264.9,8.1 L268.7,9.3 L272.4,10.6 L276.4,12.3 L280.8,14.3 L285.4,16.5 L289.6,18.6 L293.2,20.3 L295.8,21.6" stroke="#000" stroke-width="1.3" stroke-dasharray="5,3.2"/>
<path d="M164.1,28.7 L251,28.7 L252.5,24 L253.8,13 L255,9.4 L256,12 L257.1,15.3 L258.2,12 L259.1,10.2 L260.2,16 L261.2,27.6 L262.2,29 L262.2,28.9 L263,27.5 L263.8,26.6 L264.6,26.4 L265.4,26.9 L266.2,27.8 L267,28.9 L267.8,28 L268.6,27.4 L269.4,27.3 L270.2,27.6 L271,28.2 L271.8,28.9 L272.6,28.3 L273.4,27.9 L274.2,27.8 L275,28 L275.8,28.4 L276.6,28.9 L277.4,28.5 L278.2,28.2 L279,28.2 L279.8,28.3 L280.6,28.6 L281.4,28.9 L282.2,28.6 L283,28.4 L283.8,28.4 L284.6,28.5 L285.4,28.7 L286.2,28.9 L287,28.7 L287.8,28.6 L288.6,28.6 L289.4,28.6 L290.2,28.8 L291,28.9 L291.8,28.8 L292.6,28.7 L293.4,28.7 L294.2,28.7 L295,28.8 L295.8,28.9" stroke="#4dbeee" stroke-width="1.3"/>
<path d="M164.1,55.4 L237.8,55.6 L239.5,50 L241,40 L242.5,35.5 L243.4,40 L244.2,44.5 L245.1,38 L245.9,33.5 L246.8,38 L247.6,44 L248.4,40 L249.1,37.7 L250,44 L251,52 L252.2,55.6 L252.2,55.8 L253,54 L253.9,52.9 L254.7,52.7 L255.5,53.3 L256.4,54.5 L257.2,55.8 L258,54.7 L258.9,54 L259.7,53.9 L260.5,54.3 L261.4,55 L262.2,55.8 L263,55.1 L263.9,54.7 L264.7,54.7 L265.5,54.9 L266.4,55.3 L267.2,55.8 L268,55.4 L268.9,55.1 L269.7,55.1 L270.5,55.2 L271.4,55.5 L272.2,55.8 L273,55.6 L273.9,55.4 L274.7,55.4 L275.5,55.5 L276.4,55.6 L277.2,55.8 L278,55.6 L278.9,55.6 L279.7,55.5 L280.5,55.6 L281.4,55.7 L282.2,55.8 L283,55.7 L283.9,55.7 L284.7,55.6 L285.5,55.7 L286.4,55.7 L287.2,55.8 L288,55.7 L288.9,55.7 L289.7,55.7 L290.5,55.7 L291.4,55.8 L292.2,55.8 L293,55.8 L293.9,55.7 L294.7,55.7 L295.5,55.8" stroke="#77ac30" stroke-width="1.3"/>
<path d="M164.1,82.2 L228.1,82.3 L229.8,76 L231.4,67 L232.7,62.2 L233.6,66 L234.5,69 L235.5,64 L236.6,60.5 L237.4,64 L238.3,67.3 L239.2,63.5 L240,61.4 L241,64.5 L242,67.3 L242.8,66.2 L243.4,65.6 L244.3,70 L245,76 L246.2,82.2 L246.2,82.4 L247,80.5 L247.8,79.4 L248.6,79.2 L249.4,79.8 L250.2,81 L251,82.4 L251.8,81.2 L252.6,80.5 L253.4,80.3 L254.2,80.7 L255,81.5 L255.8,82.4 L256.6,81.6 L257.4,81.1 L258.2,81.1 L259,81.3 L259.8,81.8 L260.6,82.4 L261.4,81.9 L262.2,81.6 L263,81.5 L263.8,81.7 L264.6,82 L265.4,82.4 L266.2,82.1 L267,81.9 L267.8,81.8 L268.6,81.9 L269.4,82.2 L270.2,82.4 L271,82.2 L271.8,82.1 L272.6,82 L273.4,82.1 L274.2,82.2 L275,82.4 L275.8,82.3 L276.6,82.2 L277.4,82.2 L278.2,82.2 L279,82.3 L279.8,82.4 L280.6,82.3 L281.4,82.3 L282.2,82.2 L283,82.3 L283.8,82.3 L284.6,82.4 L285.4,82.3 L286.2,82.3 L287,82.3 L287.8,82.3 L288.6,82.4 L289.4,82.4 L290.2,82.4 L291,82.3 L291.8,82.3 L292.6,82.3 L293.4,82.4 L294.2,82.4 L295,82.4 L295.8,82.4" stroke="#7e2f8e" stroke-width="1.3"/>
<path d="M164.1,109.3 L213.3,109.3 L215,102 L216.3,94 L217.2,91 L218.4,90.2 L220.1,98.8 L221.9,89.1 L223.6,98.8 L225.3,90.2 L227.1,98.8 L228.9,91 L230.6,98.8 L232.4,94.9 L233.6,101 L235,107 L236.7,109.7 L236.7,109.7 L237.6,107.6 L238.6,106.4 L239.5,106.2 L240.4,106.9 L241.4,108.2 L242.3,109.7 L243.2,108.5 L244.2,107.7 L245.1,107.6 L246,108 L247,108.8 L247.9,109.7 L248.8,109 L249.8,108.5 L250.7,108.4 L251.6,108.7 L252.6,109.2 L253.5,109.7 L254.4,109.3 L255.4,109 L256.3,108.9 L257.2,109.1 L258.2,109.4 L259.1,109.7 L260,109.4 L261,109.3 L261.9,109.2 L262.8,109.3 L263.8,109.5 L264.7,109.7 L265.6,109.5 L266.6,109.4 L267.5,109.4 L268.4,109.5 L269.4,109.6 L270.3,109.7 L271.2,109.6 L272.2,109.5 L273.1,109.5 L274,109.6 L275,109.6 L275.9,109.7 L276.8,109.6 L277.8,109.6 L278.7,109.6 L279.6,109.6 L280.6,109.7 L281.5,109.7 L282.4,109.7 L283.4,109.6 L284.3,109.6 L285.2,109.7 L286.2,109.7 L287.1,109.7 L288,109.7 L289,109.7 L289.9,109.7 L290.8,109.7 L291.8,109.7 L292.7,109.7 L293.6,109.7 L294.6,109.7 L295.5,109.7" stroke="#edb120" stroke-width="1.3"/>
<path d="M164.1,136.5 L193.3,136.5 L195,133 L196.8,125 L198.3,120.7 L200.1,126 L201.9,119.9 L203.7,125.3 L205.5,120.4 L207.3,124.7 L209.1,120.7 L210.9,124.2 L212.7,121 L214.5,123.9 L216.3,121.2 L218.1,123.6 L219.9,121.4 L221.7,123.4 L223.5,121.5 L225.3,123.2 L227.1,121.6 L228.9,123.1 L230.7,121.6 L232.5,123 L234.3,121.7 L236.1,123 L237.9,121.7 L239.7,122.9 L241.5,121.8 L243.3,122.9 L245.1,121.8 L246.9,122.8 L248.7,121.8 L248.5,123 L250,126 L252,131 L254.7,136.6 L254.7,136.6 L255.6,134.8 L256.6,133.7 L257.5,133.5 L258.4,134.1 L259.4,135.3 L260.3,136.6 L261.2,135.5 L262.2,134.8 L263.1,134.7 L264,135.1 L265,135.8 L265.9,136.6 L266.8,135.9 L267.8,135.5 L268.7,135.5 L269.6,135.7 L270.6,136.1 L271.5,136.6 L272.4,136.2 L273.4,136 L274.3,135.9 L275.2,136.1 L276.2,136.3 L277.1,136.6 L278,136.4 L279,136.2 L279.9,136.2 L280.8,136.3 L281.8,136.4 L282.7,136.6 L283.6,136.5 L284.6,136.4 L285.5,136.4 L286.4,136.4 L287.4,136.5 L288.3,136.6 L289.2,136.5 L290.2,136.5 L291.1,136.5 L292,136.5 L293,136.5 L293.9,136.6 L294.8,136.5 L295.8,136.5" stroke="#d95319" stroke-width="1.3"/>
<path d="M164.1,163.4 L165.3,163.5 L167,163.7 L168.5,163.4 L169.3,162.5 L169.9,161.3 L170.5,160 L171.3,158.7 L172,157.5 L172.7,156.7 L173.2,156.7 L173.6,157.2 L174,157.4 L174.5,157.1 L175,156.5 L175.5,156 L176.1,155.7 L176.7,155.6 L177.4,155.6 L178.1,155.9 L178.8,156.3 L179.5,156.5 L180.2,156.1 L180.8,155.4 L181.5,155 L182.3,155.2 L183.1,155.6 L184,155.8 L185,155.5 L186,155 L187,154.6 L187.9,154.7 L188.9,154.9 L190,155 L191.3,154.7 L192.9,154.3 L195,153.9 L197.8,153.7 L201.1,153.5 L205,153.3 L209.4,153.1 L214.4,152.8 L220,152.6 L226.3,152.4 L233.1,152.3 L240,152.2 L247,152.2 L253.9,152.3 L260,152.4 L264.8,152.5 L268.7,152.6 L272,152.8 L274.8,153 L277.1,153.2 L278.8,153.4 L279.9,153.7 L280.5,154 L281,154.5 L281.7,155.2 L282.3,156 L283,157 L283.7,158.3 L284.4,159.7 L285,161 L285.5,162 L286,162.8 L286.5,163.3 L287.1,163.6 L287.9,163.6 L288.5,163.4 L289,163 L289.5,162.5 L290,162 L290.4,161.7 L290.9,161.5 L291.3,161.4 L291.8,161.6 L292.3,161.9 L292.8,162.2 L293.2,162.6 L293.6,163 L294,163.3 L294.7,163.4 L295.5,163.4 L296,163.4" stroke="#0072bd" stroke-width="1.6"/>
</g>
<rect x="164.1" y="2.3" width="131.7" height="161.4" fill="none" stroke="#808080" stroke-width="0.8"/>
<text x="154.8" y="18" font-size="14.5" text-anchor="middle" fill="#000" font-weight="bold" >b</text>
<text x="231.6" y="189.9" font-size="10" text-anchor="middle" fill="#262626" font-weight="normal" textLength="53.4" lengthAdjust="spacingAndGlyphs">Fast time (<tspan font-family="Liberation Serif" font-style="italic">&#964;</tspan>)</text>
<text transform="translate(160.4,83.6) rotate(-90)" font-size="9.8" text-anchor="middle" fill="#262626" textLength="40" lengthAdjust="spacingAndGlyphs"><tspan font-family="Liberation Serif" font-size="10.5">&#936;</tspan> (2/div.)</text>
<rect x="164.2" y="194.7" width="131.4" height="160.3" fill="#fff"/>
<text x="163" y="368.6" font-size="8.6" text-anchor="middle" fill="#262626" font-weight="normal" >-0.6</text>
<line x1="186.1" y1="355.0" x2="186.1" y2="353.2" stroke="#4d4d4d" stroke-width="0.7"/>
<line x1="186.1" y1="194.7" x2="186.1" y2="196.5" stroke="#4d4d4d" stroke-width="0.7"/>
<text x="184.9" y="368.6" font-size="8.6" text-anchor="middle" fill="#262626" font-weight="normal" >-0.4</text>
<line x1="208" y1="355.0" x2="208" y2="353.2" stroke="#4d4d4d" stroke-width="0.7"/>
<line x1="208" y1="194.7" x2="208" y2="196.5" stroke="#4d4d4d" stroke-width="0.7"/>
<text x="206.8" y="368.6" font-size="8.6" text-anchor="middle" fill="#262626" font-weight="normal" >-0.2</text>
<line x1="229.9" y1="355.0" x2="229.9" y2="353.2" stroke="#4d4d4d" stroke-width="0.7"/>
<line x1="229.9" y1="194.7" x2="229.9" y2="196.5" stroke="#4d4d4d" stroke-width="0.7"/>
<text x="229.9" y="368.6" font-size="8.6" text-anchor="middle" fill="#262626" font-weight="normal" >0</text>
<line x1="251.8" y1="355.0" x2="251.8" y2="353.2" stroke="#4d4d4d" stroke-width="0.7"/>
<line x1="251.8" y1="194.7" x2="251.8" y2="196.5" stroke="#4d4d4d" stroke-width="0.7"/>
<text x="251.8" y="368.6" font-size="8.6" text-anchor="middle" fill="#262626" font-weight="normal" >0.2</text>
<line x1="273.7" y1="355.0" x2="273.7" y2="353.2" stroke="#4d4d4d" stroke-width="0.7"/>
<line x1="273.7" y1="194.7" x2="273.7" y2="196.5" stroke="#4d4d4d" stroke-width="0.7"/>
<text x="273.7" y="368.6" font-size="8.6" text-anchor="middle" fill="#262626" font-weight="normal" >0.4</text>
<text x="295.6" y="368.6" font-size="8.6" text-anchor="middle" fill="#262626" font-weight="normal" >0.6</text>
<line x1="164.2" y1="205.1" x2="166" y2="205.1" stroke="#4d4d4d" stroke-width="0.7"/>
<line x1="295.6" y1="205.1" x2="293.8" y2="205.1" stroke="#4d4d4d" stroke-width="0.7"/>
<line x1="164.2" y1="226.6" x2="166" y2="226.6" stroke="#4d4d4d" stroke-width="0.7"/>
<line x1="295.6" y1="226.6" x2="293.8" y2="226.6" stroke="#4d4d4d" stroke-width="0.7"/>
<line x1="164.2" y1="248.1" x2="166" y2="248.1" stroke="#4d4d4d" stroke-width="0.7"/>
<line x1="295.6" y1="248.1" x2="293.8" y2="248.1" stroke="#4d4d4d" stroke-width="0.7"/>
<line x1="164.2" y1="269.6" x2="166" y2="269.6" stroke="#4d4d4d" stroke-width="0.7"/>
<line x1="295.6" y1="269.6" x2="293.8" y2="269.6" stroke="#4d4d4d" stroke-width="0.7"/>
<line x1="164.2" y1="291.1" x2="166" y2="291.1" stroke="#4d4d4d" stroke-width="0.7"/>
<line x1="295.6" y1="291.1" x2="293.8" y2="291.1" stroke="#4d4d4d" stroke-width="0.7"/>
<line x1="164.2" y1="312.6" x2="166" y2="312.6" stroke="#4d4d4d" stroke-width="0.7"/>
<line x1="295.6" y1="312.6" x2="293.8" y2="312.6" stroke="#4d4d4d" stroke-width="0.7"/>
<line x1="164.2" y1="334.1" x2="166" y2="334.1" stroke="#4d4d4d" stroke-width="0.7"/>
<line x1="295.6" y1="334.1" x2="293.8" y2="334.1" stroke="#4d4d4d" stroke-width="0.7"/>
<g clip-path="url(#clipC)" fill="none" stroke-linejoin="round" stroke-linecap="round">
<line x1="224.4" y1="194.7" x2="224.4" y2="355.0" stroke="#000" stroke-width="0.8" stroke-dasharray="1.2,1.2"/>
<path d="M164.2,266.4 L164.5,265.5 L164.9,264.3 L165.4,262.7 L166,260.5 L166.7,257.5 L167.5,253.7 L168.4,249.9 L169.3,246.7 L170.2,244.3 L171,242.4 L171.9,240.7 L172.8,239 L173.7,237.4 L174.7,235.9 L175.7,234.4 L176.6,233 L177.5,231.6 L178.3,230.2 L179.1,228.8 L180,227.5 L180.9,226.3 L181.9,225.1 L182.9,224 L183.9,223 L184.8,222.1 L185.7,221.3 L186.6,220.5 L187.5,219.8 L188.4,219.1 L189.3,218.5 L190.2,217.9 L191.2,217.5 L192.3,217.2 L193.6,217 L194.8,216.9 L196,216.8 L197.1,216.8 L198.3,216.8 L199.3,216.9 L200.3,217 L201.1,217.2 L201.8,217.5 L202.4,217.8 L203,218.2 L203.7,218.6 L204.3,219.2 L205,219.7 L205.7,220.3 L206.6,221.1 L207.6,222 L208.5,222.7 L209.4,223 L210.1,222.6 L210.8,221.8 L211.4,220.7 L212,219.8 L212.6,219 L213.3,218.3 L214,217.5 L214.9,216.6 L216.1,215.4 L217.4,214 L218.9,212.7 L220.3,211.7 L221.7,211.1 L223.2,210.7 L224.6,210.4 L225.8,210.2 L226.7,210.2 L227.5,210.5 L228.1,210.4 L228.6,209.7 L228.9,207.8 L229.1,205.2 L229.2,202.3 L229.3,200 L229.4,198.1 L229.6,196.3 L229.7,195 L229.8,194.5 L229.9,195 L230,196.3 L230.2,198 L230.3,200 L230.4,202.4 L230.4,205.4 L230.5,208.2 L230.9,210.2 L231.6,211.1 L232.6,211.3 L233.8,211.3 L235,211.4 L236.3,211.8 L237.7,212.2 L239.2,212.6 L240.6,213 L242,213.4 L243.3,213.7 L244.6,214.1 L246,214.4 L247.4,214.8 L248.8,215.2 L250.2,215.5 L251.5,215.7 L252.7,215.7 L253.9,215.4 L255.1,215.1 L256.1,214.8 L257.1,214.3 L258,213.7 L258.8,213.2 L259.4,213 L259.9,213.3 L260.2,213.9 L260.4,214.7 L260.6,215.5 L260.8,216.2 L260.9,217 L261.1,217.9 L261.5,219.3 L262,221.3 L262.6,223.9 L263.4,226.4 L264.3,228.5 L265.5,230 L266.9,231.2 L268.4,232.1 L269.7,233 L270.8,233.8 L271.9,234.3 L272.9,234.9 L274,235.5 L275.2,236.2 L276.4,236.9 L277.7,237.7 L278.9,238.5 L280.1,239.3 L281.2,240 L282.4,240.9 L283.5,242 L284.7,243.5 L285.8,245.3 L286.9,247.1 L288,248.5 L288.9,249.4 L289.8,250.1 L290.6,250.6 L291.5,251.2 L292.6,251.9 L293.8,252.6 L294.8,253.2 L295.6,253.6" stroke="#4dbeee" stroke-width="1.4"/>
<path d="M164.2,276.5 L164.5,276.6 L165,276.7 L165.5,277 L166,277.5 L166.5,278.4 L167,279.6 L167.5,280.8 L168,282 L168.4,283.3 L168.9,284.8 L169.3,286 L169.7,286.2 L170.1,285.3 L170.5,283.5 L170.9,281.3 L171.3,279 L171.7,276.6 L172,273.8 L172.4,271 L172.9,268.2 L173.7,265.4 L174.6,262.5 L175.5,259.7 L176.5,257 L177.4,254.5 L178.4,252.2 L179.3,250 L180.2,248 L181.1,246.2 L181.9,244.7 L182.7,243.3 L183.5,242 L184.3,240.9 L185,239.9 L185.8,239.1 L186.6,238.5 L187.4,238 L188.3,237.7 L189.2,237.5 L190,237.4 L190.8,237.3 L191.5,237.4 L192.3,237.5 L193,237.6 L193.8,237.8 L194.5,238 L195.3,238.3 L196,238.6 L196.7,239 L197.3,239.4 L197.9,239.8 L198.5,240.3 L199.1,240.9 L199.8,241.5 L200.4,242.2 L201,242.8 L201.5,243.5 L202,244.3 L202.4,244.9 L203,244.9 L203.7,244 L204.4,242.6 L205.2,240.9 L206,239.5 L206.8,238.3 L207.7,237.2 L208.6,236.2 L209.4,235.7 L210.2,235.7 L211,236 L211.7,236.6 L212.5,237.1 L213.3,237.8 L214.1,238.7 L215,239.3 L215.8,239.4 L216.6,238.6 L217.4,237.1 L218.2,235.5 L219,234 L219.8,232.7 L220.6,231.5 L221.4,230.3 L222.2,229.4 L222.9,228.8 L223.6,228.5 L224.3,228.3 L225,228 L225.7,227.7 L226.4,227.4 L227,227 L227.6,226.6 L228,226.2 L228.4,225.7 L228.7,225 L228.9,224 L229.1,222.1 L229.2,219.6 L229.4,217.3 L229.5,216.4 L229.6,217.3 L229.8,219.6 L229.9,222.1 L230.1,224 L230.3,225 L230.5,225.7 L230.8,226.1 L231.5,226.6 L232.5,227 L233.9,227.4 L235.4,227.8 L237,228.5 L238.7,229.6 L240.7,231.1 L242.6,232.6 L244.2,233.9 L245.5,234.9 L246.6,235.8 L247.5,236.6 L248.5,237.5 L249.5,238.6 L250.5,239.7 L251.4,240.7 L252.4,241.2 L253.3,241 L254.3,240.4 L255.2,239.5 L256.1,238.5 L257,237.1 L257.9,235.4 L258.7,233.8 L259.4,233 L259.8,233.1 L260.1,233.9 L260.3,235 L260.5,236 L260.7,236.7 L260.9,237.2 L261.2,238 L261.5,239.4 L261.9,241.5 L262.4,244.2 L262.9,247.2 L263.4,250 L263.9,252.9 L264.3,255.9 L264.8,258.7 L265.2,261 L265.6,262.8 L266,264.3 L266.5,265.3 L267,265.5 L267.5,264.6 L268.1,262.8 L268.8,260.7 L269.7,259.1 L270.9,258.1 L272.3,257.2 L273.8,256.7 L275.2,256.4 L276.5,256.4 L277.8,256.7 L279.2,257.3 L280.7,258.2 L282.4,259.7 L284.4,261.6 L286.3,263.6 L288,265.5 L289.6,267.2 L291,268.8 L292.3,270.3 L293.4,271.9 L294.2,273.6 L294.8,275.5 L295.3,277.1 L295.6,278.3" stroke="#77ac30" stroke-width="1.4"/>
<path d="M164.2,308.3 L164.6,305.6 L165.2,301.7 L165.9,297.7 L166.6,294.7 L167.2,293.2 L167.8,292.5 L168.4,292.2 L169,292 L169.5,291.9 L170,292.1 L170.5,292.4 L171.1,292.8 L171.7,293.6 L172.4,294.7 L173.1,295.6 L173.8,295.6 L174.4,294.4 L174.9,292.4 L175.4,290.1 L176,288 L176.5,286.4 L176.9,284.9 L177.5,283.2 L178.4,281 L179.7,277.9 L181.4,274.2 L183.2,270.5 L184.8,267.3 L186.3,264.6 L187.7,262.1 L189.1,260 L190.3,258.7 L191.4,258.3 L192.3,258.7 L193.1,259.4 L193.9,260 L194.6,260.5 L195.2,261.1 L195.7,261.8 L196.3,262.5 L196.8,263.4 L197.4,264.4 L197.9,265.2 L198.5,265.5 L199.2,265 L199.9,263.9 L200.7,262.6 L201.5,261.5 L202.3,260.6 L203.2,259.7 L204,259 L204.8,258.7 L205.4,258.8 L206,259.3 L206.5,259.9 L207,260.5 L207.6,261.2 L208.2,262 L208.8,262.6 L209.4,262.8 L210,262.4 L210.7,261.5 L211.3,260.4 L212,259.5 L212.7,258.7 L213.3,257.9 L214.1,257.3 L214.9,256.9 L216,257.1 L217.2,257.7 L218.4,258.2 L219.4,258.2 L220.2,257.4 L220.9,256.1 L221.4,254.7 L222,253.5 L222.5,252.7 L223,252.1 L223.4,251.6 L224,251 L224.7,250.3 L225.5,249.5 L226.3,248.7 L227,248 L227.6,247.6 L228.1,247.3 L228.5,246.9 L228.9,246 L229.1,244.1 L229.3,241.5 L229.4,239.2 L229.5,238.2 L229.6,239.3 L229.8,241.7 L229.9,244.3 L230.1,246 L230.3,246.2 L230.5,245.7 L230.8,245.1 L231.5,244.9 L232.6,245.4 L234.1,246.3 L235.6,247.4 L237,248.5 L238.1,249.7 L239.1,251.1 L240.1,252.6 L241,254 L241.9,255.4 L242.7,256.9 L243.5,258.2 L244.2,259.4 L244.7,260.3 L245.1,261.1 L245.5,261.6 L246,262 L246.6,262.1 L247.3,262 L248.1,261.7 L248.8,261.3 L249.5,260.8 L250.2,260.3 L250.9,259.6 L251.5,259.1 L251.9,258.7 L252.2,258.3 L252.6,257.9 L253.3,257.6 L254.5,257.3 L256.1,257.1 L257.7,256.9 L258.8,256.9 L259.3,256.8 L259.3,256.6 L259.3,257 L259.7,258.2 L260.6,260.7 L261.8,264.1 L263.1,268 L264.3,271.9 L265.4,276.4 L266.6,281.5 L267.7,285.9 L268.8,288.3 L269.9,287.7 L271,284.9 L272.2,281.6 L273.4,279.2 L274.7,277.9 L276.1,276.9 L277.5,276.4 L278.9,276.4 L280.3,276.8 L281.7,277.7 L283,279.1 L284.3,281 L285.6,283.6 L286.8,286.9 L287.9,290.5 L288.9,293.7 L289.7,296.9 L290.4,300.1 L291,302.9 L291.6,304.7 L292.1,305.2 L292.6,304.7 L293,303.7 L293.5,303 L294.1,302.5 L294.7,301.9 L295.2,301.4 L295.6,301" stroke="#7e2f8e" stroke-width="1.4"/>
<path d="M164.2,324.2 L164.8,324.8 L165.6,325.8 L166.5,326.6 L167.3,326.5 L167.9,325.3 L168.5,323.4 L169,321.1 L169.6,318.9 L170.3,316.5 L171.1,313.8 L171.8,311.4 L172.6,309.8 L173.3,309.5 L174.1,310 L174.8,310.7 L175.6,310.6 L176.4,309.6 L177.2,308 L177.9,306.3 L178.6,304.5 L179.1,302.8 L179.4,301 L179.7,299.2 L180.2,297.4 L180.8,295.6 L181.5,293.9 L182.3,292.1 L183,290.5 L183.6,288.9 L184.2,287.4 L184.9,286 L185.7,284.6 L186.7,283.2 L187.9,281.9 L189.2,280.7 L190.3,280.1 L191.3,280 L192.2,280.4 L193.1,281 L193.9,281.9 L194.5,283.3 L195,285 L195.6,286.6 L196.3,287.4 L197.4,286.8 L198.7,285.3 L200,283.7 L201.2,282.8 L202.2,283.2 L203.1,284.2 L203.9,285.2 L204.8,285.5 L205.7,284.6 L206.7,282.9 L207.6,281.1 L208.5,280.1 L209.2,280.2 L209.8,280.9 L210.4,281.7 L211.2,281.9 L212.2,281.3 L213.4,280.3 L214.6,279.1 L215.8,278.3 L216.9,278.1 L218.1,278.1 L219.2,278.1 L220.3,277.3 L221.5,275.5 L222.7,273 L223.9,270.4 L224.9,268.2 L225.8,266.6 L226.7,265.4 L227.4,264.3 L228,263.5 L228.5,263 L228.8,262.7 L229.1,262.5 L229.3,262 L229.5,261 L229.6,259.7 L229.6,258.5 L229.7,258 L229.8,258.5 L229.8,259.6 L230,260.9 L230.2,262 L230.6,262.7 L231,263.2 L231.6,263.8 L232.4,264.6 L233.4,265.7 L234.6,267 L235.9,268.5 L236.9,270 L237.7,271.7 L238.4,273.5 L238.9,275.3 L239.5,277 L240,278.8 L240.4,280.6 L240.8,282 L241.5,282.8 L242.5,282.4 L243.7,281.3 L244.9,279.9 L246,279.2 L247,279.3 L247.8,279.8 L248.7,280.4 L249.5,281 L250.2,281.6 L250.9,282.4 L251.6,282.9 L252.4,282.8 L253.5,281.6 L254.7,279.6 L255.9,277.8 L257,277.3 L257.8,278.6 L258.3,281.2 L258.9,284.1 L259.7,286.5 L260.7,288.2 L261.8,289.7 L263,291.2 L264.3,292.8 L265.6,295 L267,297.6 L268.4,299.8 L269.7,301 L270.9,300.6 L272.1,299.1 L273.2,297.4 L274.3,296.5 L275.5,296.7 L276.8,297.4 L278,298.4 L278.9,299.2 L279.5,299.8 L279.9,300.3 L280.1,300.9 L280.5,301.8 L281,303 L281.5,304.5 L282,306.2 L282.5,308.3 L283,310.8 L283.4,313.7 L283.9,316.8 L284.3,320 L284.6,323.8 L284.9,328 L285.2,331.5 L285.6,333.2 L286.1,332.1 L286.6,329.1 L287.3,325.4 L287.9,322.6 L288.6,320.7 L289.4,319.2 L290.2,318.1 L290.9,317.4 L291.5,317.4 L292,317.8 L292.5,318.6 L293,319.5 L293.7,320.6 L294.4,322 L295.1,323.3 L295.6,324.2" stroke="#edb120" stroke-width="1.4"/>
<path d="M164.2,352.2 L169.6,345.4 L170.7,346.4 L171.8,344.4 L172.9,341.9 L174,339.9 L175.1,337.4 L176.2,335.4 L177.3,332.9 L178.4,330.9 L179.5,328.3 L180.6,326.3 L181.7,323.8 L182.8,321.8 L183.9,319.3 L185,317.3 L184.7,314.4 L186.3,306 L187.7,301.5 L189.5,302.5 L192.2,305.3 L196.8,306.8 L198.1,307.7 L199.3,305.9 L200.6,307 L201.8,304.9 L203.1,306.4 L204.3,303.9 L205.6,305.7 L206.8,302.9 L208.1,305 L209.3,302 L210.6,304.4 L211.8,301 L213.1,303.7 L214.3,300 L215.6,303 L216.8,299 L218.1,302.4 L219.3,298 L220.6,301.7 L221.8,297 L223.1,301 L224.3,296 L225.6,300.4 L226.8,295.1 L228.1,299.7 L229.3,294.1 L228.5,281 L229.6,275.5 L230.6,276.5 L232.4,288.3 L233.7,291.5 L235,285.1 L236.3,293.5 L237.6,287.4 L238.9,295.5 L240.2,289.7 L241.5,297.4 L242.8,292.1 L244.1,299.4 L245.4,294.4 L246.7,301.4 L248,296.7 L249.3,303.2 L250.6,298.8 L251.9,303 L253.2,299 L254.5,302.8 L255.8,299.2 L257.1,302.7 L258.4,299.3 L257,301 L258.5,310.6 L260,320 L261.2,327.2 L262.2,325 L263.7,316.6 L265.2,331.7 L267.5,318.1 L269.8,315.1 L272.8,316.6 L274.5,322 L275.8,328.7 L277,330.7 L278.2,326.7 L279.4,333.8 L280.6,329.8 L281.8,336.9 L283,332.9 L284.2,340.1 L285.4,336.1 L286.6,343.2 L287.8,339.2 L289,346.3 L290.2,342.3 L291.4,349.4 L292.6,345.4 L293.8,352.5 L295,348.5 L296.2,355.7 L297.4,351.7" stroke="#d95319" stroke-width="1.3"/>
<path d="M188.4,356 L189.2,345.4 L190.2,341 L191.5,338.6 L195,337.9 L198.3,337.8 L202,336.8 L205.8,335.5 L209,333.8 L211.9,332.5 L215.5,330.5 L219.5,328 L222,324.5 L224,319.7 L226,313 L227.8,304.5 L229,296 L229.9,292 L230.8,296 L232,309 L235,316.6 L238,320.5 L241.1,324.2 L244,326 L247.1,327.2 L250,327.6 L252.4,327.9 L254,330 L255.4,334.7 L256.5,339.5 L257.7,343.8 L259,346.3 L260.7,348.3 L263.5,351 L266,353.4 L268.3,356" stroke="#0072bd" stroke-width="1.6"/>
<path d="M195,337.9 L205.8,335.5 L211.9,332.5 L219.5,328 L224,319.7 L224,322.5 L219.5,331.2 L211.9,335.5 L205.8,338.6 L195,340.2Z" fill="#0072bd" stroke="none"/>
<path d="M236,318 L241.1,322.5 L247.1,325.6 L252.4,326.5 L252.4,329.2 L247.1,329.2 L241.1,326.2 L236,321Z" fill="#0072bd" stroke="none"/>
<path d="M257.7,342.5 L260.7,345.8 L263.5,348.5 L267,351.5 L268.5,355 L263,355 L260,351.5 L257.7,347Z" fill="#0072bd" stroke="none"/>
</g>
<rect x="164.2" y="194.7" width="131.4" height="160.3" fill="none" stroke="#808080" stroke-width="0.8"/>
<text x="153.8" y="212.2" font-size="14.5" text-anchor="middle" fill="#000" font-weight="bold" >c</text>
<text x="236.2" y="381.9" font-size="10" text-anchor="middle" fill="#262626" font-weight="normal" textLength="70.4" lengthAdjust="spacingAndGlyphs">Frequency <tspan font-family="Liberation Serif" font-style="italic">&#937;</tspan>/2<tspan font-family="Liberation Serif">&#960;</tspan></text>
<text transform="translate(160.2,277.6) rotate(-90)" font-size="9.8" text-anchor="middle" fill="#262626" textLength="61" lengthAdjust="spacingAndGlyphs"><tspan font-family="Liberation Serif" font-size="10.5">&#936;</tspan> (20 dB/div.)</text>
<text transform="translate(154.2,305.2) rotate(-90)" font-size="9" text-anchor="middle" fill="#262626">~</text>
<g clip-path="url(#clipD0)">
<rect x="343.6" y="2.3" width="80.6" height="136.2" fill="url(#dBg)"/>
<ellipse cx="392" cy="36.3" rx="34" ry="40" fill="url(#dGlow)"/>
<g clip-path="url(#dR0)">
<path d="M414,41 L413.5,41.1 L403.9,44.1 L399.7,47.1 L397.5,50.1 L396.7,53.1 L396,56.1 L396.1,59.1 L396.2,62.1 L396.5,65.1 L396.7,68.1 L396.9,71.1 L397.2,74.1 L397.3,77.1 L397.5,80.1 L397.6,83.1 L398,86.1 L398.5,89.1 L399.1,92.1 L399.8,95.1 L400.7,98.1 L401.9,101.1 L402.5,104.1 L403.2,107.1 L403.9,110.1 L404.4,113.1 L404.9,116.1 L405.4,119.1 L406,122.1 L406.7,125.1 L407.3,128.1 L408,131.1 L408.7,134.1 L409.5,137.1 L409.9,140.1 L410,141 L426.2,141 L426.2,40.3Z" fill="#010c52"/>
<path d="M464.2,41.1 L421,40.8 L408.6,41.8 L403.4,42.8 L399.1,43.8 L395.7,44.8 L393,45.8 L392,46.8 L390.9,47.8 L389.9,48.8 L388.9,49.8 L388.1,50.8 L387.3,51.8 L386.5,52.8 L385.7,53.8 L385.1,54.8 L384.6,55.8 L384.1,56.8 L383.6,57.8 L383,58.8 L382.3,59.8 L381.6,60.8 L380.9,61.8 L380.6,62.8 L379.6,65.8 L378.7,68.8 L377.8,71.8 L376.8,74.8 L375.9,77.8 L375,80.8 L374,83.8 L373.1,86.8 L372.2,89.8 L371.4,92.8 L370.6,95.8 L369.9,98.8 L369.2,101.8 L368.5,104.8 L367.9,107.8 L367.2,110.8 L366.6,113.8 L365.9,116.8 L365.2,119.8 L364.6,122.8 L363.9,125.8 L363.3,128.8 L362.6,131.8 L361.8,134.8 L361.1,137.8 L360.6,140.8 L360.6,141" fill="none" stroke="#1478f0" stroke-width="1.6" opacity="1"/>
<path d="M464.2,41.1 L424.4,40.8 L412,41.8 L406.8,42.8 L402.5,43.8 L399.1,44.8 L396.4,45.8 L395.4,46.8 L394.3,47.8 L393.3,48.8 L392.3,49.8 L391.5,50.8 L390.7,51.8 L389.9,52.8 L389.1,53.8 L388.5,54.8 L388,55.8 L387.5,56.8 L387,57.8 L386.4,58.8 L385.7,59.8 L385,60.8 L384.3,61.8 L384,62.8 L383,65.8 L382.1,68.8 L381.2,71.8 L380.2,74.8 L379.3,77.8 L378.4,80.8 L377.4,83.8 L376.5,86.8 L375.6,89.8 L374.8,92.8 L374,95.8 L373.3,98.8 L372.6,101.8 L371.9,104.8 L371.3,107.8 L370.6,110.8 L370,113.8 L369.3,116.8 L368.6,119.8 L368,122.8 L367.3,125.8 L366.7,128.8 L365.9,131.8 L365.2,134.8 L364.4,137.8 L364,140.8 L364,141" fill="none" stroke="#1478f0" stroke-width="1.6" opacity="0.9"/>
<path d="M464.2,41.1 L427.8,40.8 L415.4,41.8 L410.2,42.8 L405.9,43.8 L402.5,44.8 L399.8,45.8 L398.8,46.8 L397.7,47.8 L396.7,48.8 L395.7,49.8 L394.9,50.8 L394.1,51.8 L393.3,52.8 L392.5,53.8 L391.9,54.8 L391.4,55.8 L390.9,56.8 L390.4,57.8 L389.8,58.8 L389.1,59.8 L388.4,60.8 L387.7,61.8 L387.4,62.8 L386.4,65.8 L385.5,68.8 L384.6,71.8 L383.6,74.8 L382.7,77.8 L381.8,80.8 L380.8,83.8 L379.9,86.8 L379,89.8 L378.2,92.8 L377.4,95.8 L376.7,98.8 L376,101.8 L375.3,104.8 L374.7,107.8 L374,110.8 L373.4,113.8 L372.7,116.8 L372,119.8 L371.4,122.8 L370.7,125.8 L370.1,128.8 L369.4,131.8 L368.6,134.8 L367.9,137.8 L367.4,140.8 L367.4,141" fill="none" stroke="#1478f0" stroke-width="1.6" opacity="0.8"/>
<path d="M464.2,41.1 L431.2,40.8 L418.8,41.8 L413.6,42.8 L409.3,43.8 L405.9,44.8 L403.2,45.8 L402.2,46.8 L401.1,47.8 L400.1,48.8 L399.1,49.8 L398.3,50.8 L397.5,51.8 L396.7,52.8 L395.9,53.8 L395.3,54.8 L394.8,55.8 L394.3,56.8 L393.8,57.8 L393.2,58.8 L392.5,59.8 L391.8,60.8 L391.1,61.8 L390.8,62.8 L389.8,65.8 L388.9,68.8 L388,71.8 L387,74.8 L386.1,77.8 L385.2,80.8 L384.2,83.8 L383.3,86.8 L382.4,89.8 L381.6,92.8 L380.8,95.8 L380.1,98.8 L379.4,101.8 L378.7,104.8 L378.1,107.8 L377.4,110.8 L376.8,113.8 L376.1,116.8 L375.4,119.8 L374.8,122.8 L374.1,125.8 L373.5,128.8 L372.8,131.8 L372,134.8 L371.2,137.8 L370.8,140.8 L370.8,141" fill="none" stroke="#1478f0" stroke-width="1.6" opacity="0.7"/>
<path d="M464.2,41.1 L434.6,40.8 L422.2,41.8 L417,42.8 L412.7,43.8 L409.3,44.8 L406.6,45.8 L405.6,46.8 L404.5,47.8 L403.5,48.8 L402.5,49.8 L401.7,50.8 L400.9,51.8 L400.1,52.8 L399.3,53.8 L398.7,54.8 L398.2,55.8 L397.7,56.8 L397.2,57.8 L396.6,58.8 L395.9,59.8 L395.2,60.8 L394.5,61.8 L394.2,62.8 L393.2,65.8 L392.3,68.8 L391.4,71.8 L390.4,74.8 L389.5,77.8 L388.6,80.8 L387.6,83.8 L386.7,86.8 L385.8,89.8 L385,92.8 L384.2,95.8 L383.5,98.8 L382.8,101.8 L382.1,104.8 L381.5,107.8 L380.8,110.8 L380.2,113.8 L379.5,116.8 L378.8,119.8 L378.2,122.8 L377.5,125.8 L376.9,128.8 L376.2,131.8 L375.4,134.8 L374.7,137.8 L374.2,140.8 L374.2,141" fill="none" stroke="#1478f0" stroke-width="1.6" opacity="0.6"/>
<path d="M464.2,41.1 L438,40.8 L425.6,41.8 L420.4,42.8 L416.1,43.8 L412.7,44.8 L410,45.8 L409,46.8 L407.9,47.8 L406.9,48.8 L405.9,49.8 L405.1,50.8 L404.3,51.8 L403.5,52.8 L402.7,53.8 L402.1,54.8 L401.6,55.8 L401.1,56.8 L400.6,57.8 L400,58.8 L399.3,59.8 L398.6,60.8 L397.9,61.8 L397.6,62.8 L396.6,65.8 L395.7,68.8 L394.8,71.8 L393.8,74.8 L392.9,77.8 L392,80.8 L391,83.8 L390.1,86.8 L389.2,89.8 L388.4,92.8 L387.6,95.8 L386.9,98.8 L386.2,101.8 L385.5,104.8 L384.9,107.8 L384.2,110.8 L383.6,113.8 L382.9,116.8 L382.2,119.8 L381.6,122.8 L380.9,125.8 L380.3,128.8 L379.6,131.8 L378.8,134.8 L378.1,137.8 L377.6,140.8 L377.6,141" fill="none" stroke="#1478f0" stroke-width="1.6" opacity="0.6"/>
<path d="M464.2,41.1 L441.4,40.8 L429,41.8 L423.8,42.8 L419.5,43.8 L416.1,44.8 L413.4,45.8 L412.4,46.8 L411.3,47.8 L410.3,48.8 L409.3,49.8 L408.5,50.8 L407.7,51.8 L406.9,52.8 L406.1,53.8 L405.5,54.8 L405,55.8 L404.5,56.8 L404,57.8 L403.4,58.8 L402.7,59.8 L402,60.8 L401.3,61.8 L401,62.8 L400,65.8 L399.1,68.8 L398.2,71.8 L397.2,74.8 L396.3,77.8 L395.4,80.8 L394.4,83.8 L393.5,86.8 L392.6,89.8 L391.8,92.8 L391,95.8 L390.3,98.8 L389.6,101.8 L388.9,104.8 L388.3,107.8 L387.6,110.8 L387,113.8 L386.3,116.8 L385.6,119.8 L385,122.8 L384.3,125.8 L383.7,128.8 L382.9,131.8 L382.2,134.8 L381.4,137.8 L381,140.8 L381,141" fill="none" stroke="#1478f0" stroke-width="1.6" opacity="0.5"/>
<path d="M464.2,41.1 L444.8,40.8 L432.4,41.8 L427.2,42.8 L422.9,43.8 L419.5,44.8 L416.8,45.8 L415.8,46.8 L414.7,47.8 L413.7,48.8 L412.7,49.8 L411.9,50.8 L411.1,51.8 L410.3,52.8 L409.5,53.8 L408.9,54.8 L408.4,55.8 L407.9,56.8 L407.4,57.8 L406.8,58.8 L406.1,59.8 L405.4,60.8 L404.7,61.8 L404.4,62.8 L403.4,65.8 L402.5,68.8 L401.6,71.8 L400.6,74.8 L399.7,77.8 L398.8,80.8 L397.8,83.8 L396.9,86.8 L396,89.8 L395.2,92.8 L394.4,95.8 L393.7,98.8 L393,101.8 L392.3,104.8 L391.7,107.8 L391,110.8 L390.4,113.8 L389.7,116.8 L389,119.8 L388.4,122.8 L387.7,125.8 L387.1,128.8 L386.4,131.8 L385.6,134.8 L384.9,137.8 L384.4,140.8 L384.4,141" fill="none" stroke="#1478f0" stroke-width="1.6" opacity="0.4"/>
<path d="M464.2,41.1 L448.2,40.8 L435.8,41.8 L430.6,42.8 L426.3,43.8 L422.9,44.8 L420.2,45.8 L419.2,46.8 L418.1,47.8 L417.1,48.8 L416.1,49.8 L415.3,50.8 L414.5,51.8 L413.7,52.8 L412.9,53.8 L412.3,54.8 L411.8,55.8 L411.3,56.8 L410.8,57.8 L410.2,58.8 L409.5,59.8 L408.8,60.8 L408.1,61.8 L407.8,62.8 L406.8,65.8 L405.9,68.8 L405,71.8 L404,74.8 L403.1,77.8 L402.2,80.8 L401.2,83.8 L400.3,86.8 L399.4,89.8 L398.6,92.8 L397.8,95.8 L397.1,98.8 L396.4,101.8 L395.7,104.8 L395.1,107.8 L394.4,110.8 L393.8,113.8 L393.1,116.8 L392.4,119.8 L391.8,122.8 L391.1,125.8 L390.5,128.8 L389.8,131.8 L389,134.8 L388.2,137.8 L387.8,140.8 L387.8,141" fill="none" stroke="#1478f0" stroke-width="1.6" opacity="0.3"/>
<path d="M464.2,41.1 L451.6,40.8 L439.2,41.8 L434,42.8 L429.7,43.8 L426.3,44.8 L423.6,45.8 L422.6,46.8 L421.5,47.8 L420.5,48.8 L419.5,49.8 L418.7,50.8 L417.9,51.8 L417.1,52.8 L416.3,53.8 L415.7,54.8 L415.2,55.8 L414.7,56.8 L414.2,57.8 L413.6,58.8 L412.9,59.8 L412.2,60.8 L411.5,61.8 L411.2,62.8 L410.2,65.8 L409.3,68.8 L408.4,71.8 L407.4,74.8 L406.5,77.8 L405.6,80.8 L404.6,83.8 L403.7,86.8 L402.8,89.8 L402,92.8 L401.2,95.8 L400.5,98.8 L399.8,101.8 L399.1,104.8 L398.5,107.8 L397.8,110.8 L397.2,113.8 L396.5,116.8 L395.8,119.8 L395.2,122.8 L394.5,125.8 L393.9,128.8 L393.1,131.8 L392.4,134.8 L391.6,137.8 L391.2,140.8 L391.2,141" fill="none" stroke="#1478f0" stroke-width="1.6" opacity="0.2"/>
<path d="M464.2,41.1 L455,40.8 L442.6,41.8 L437.4,42.8 L433.1,43.8 L429.7,44.8 L427,45.8 L426,46.8 L424.9,47.8 L423.9,48.8 L422.9,49.8 L422.1,50.8 L421.3,51.8 L420.5,52.8 L419.7,53.8 L419.1,54.8 L418.6,55.8 L418.1,56.8 L417.6,57.8 L417,58.8 L416.3,59.8 L415.6,60.8 L414.9,61.8 L414.6,62.8 L413.6,65.8 L412.7,68.8 L411.8,71.8 L410.8,74.8 L409.9,77.8 L409,80.8 L408,83.8 L407.1,86.8 L406.2,89.8 L405.4,92.8 L404.6,95.8 L403.9,98.8 L403.2,101.8 L402.5,104.8 L401.9,107.8 L401.2,110.8 L400.6,113.8 L399.9,116.8 L399.2,119.8 L398.6,122.8 L397.9,125.8 L397.3,128.8 L396.6,131.8 L395.8,134.8 L395.1,137.8 L394.6,140.8 L394.6,141" fill="none" stroke="#1478f0" stroke-width="1.6" opacity="0.1"/>
<path d="M464.2,41.1 L458.4,40.8 L446,41.8 L440.8,42.8 L436.5,43.8 L433.1,44.8 L430.4,45.8 L429.4,46.8 L428.3,47.8 L427.3,48.8 L426.3,49.8 L425.5,50.8 L424.7,51.8 L423.9,52.8 L423.1,53.8 L422.5,54.8 L422,55.8 L421.5,56.8 L421,57.8 L420.4,58.8 L419.7,59.8 L419,60.8 L418.3,61.8 L418,62.8 L417,65.8 L416.1,68.8 L415.2,71.8 L414.2,74.8 L413.3,77.8 L412.4,80.8 L411.4,83.8 L410.5,86.8 L409.6,89.8 L408.8,92.8 L408,95.8 L407.3,98.8 L406.6,101.8 L405.9,104.8 L405.3,107.8 L404.6,110.8 L404,113.8 L403.3,116.8 L402.6,119.8 L402,122.8 L401.3,125.8 L400.7,128.8 L399.9,131.8 L399.2,134.8 L398.4,137.8 L398,140.8 L398,141" fill="none" stroke="#1478f0" stroke-width="1.6" opacity="0.1"/>
<path d="M464.2,41.1 L461.8,40.8 L449.4,41.8 L444.2,42.8 L439.9,43.8 L436.5,44.8 L433.8,45.8 L432.8,46.8 L431.7,47.8 L430.7,48.8 L429.7,49.8 L428.9,50.8 L428.1,51.8 L427.3,52.8 L426.5,53.8 L425.9,54.8 L425.4,55.8 L424.9,56.8 L424.4,57.8 L423.8,58.8 L423.1,59.8 L422.4,60.8 L421.7,61.8 L421.4,62.8 L420.4,65.8 L419.5,68.8 L418.6,71.8 L417.6,74.8 L416.7,77.8 L415.8,80.8 L414.8,83.8 L413.9,86.8 L413,89.8 L412.2,92.8 L411.4,95.8 L410.7,98.8 L410,101.8 L409.3,104.8 L408.7,107.8 L408,110.8 L407.4,113.8 L406.7,116.8 L406,119.8 L405.4,122.8 L404.7,125.8 L404.1,128.8 L403.4,131.8 L402.6,134.8 L401.9,137.8 L401.4,140.8 L401.4,141" fill="none" stroke="#1478f0" stroke-width="1.6" opacity="0.1"/>
<path d="M464.2,41.1 L465.2,40.8 L452.8,41.8 L447.6,42.8 L443.3,43.8 L439.9,44.8 L437.2,45.8 L436.2,46.8 L435.1,47.8 L434.1,48.8 L433.1,49.8 L432.3,50.8 L431.5,51.8 L430.7,52.8 L429.9,53.8 L429.3,54.8 L428.8,55.8 L428.3,56.8 L427.8,57.8 L427.2,58.8 L426.5,59.8 L425.8,60.8 L425.1,61.8 L424.8,62.8 L423.8,65.8 L422.9,68.8 L422,71.8 L421,74.8 L420.1,77.8 L419.2,80.8 L418.2,83.8 L417.3,86.8 L416.4,89.8 L415.6,92.8 L414.8,95.8 L414.1,98.8 L413.4,101.8 L412.7,104.8 L412.1,107.8 L411.4,110.8 L410.8,113.8 L410.1,116.8 L409.4,119.8 L408.8,122.8 L408.1,125.8 L407.5,128.8 L406.8,131.8 L406,134.8 L405.2,137.8 L404.8,140.8 L404.8,141" fill="none" stroke="#1478f0" stroke-width="1.6" opacity="0.1"/>
<path d="M464.2,41.1 L468.6,40.8 L456.2,41.8 L451,42.8 L446.7,43.8 L443.3,44.8 L440.6,45.8 L439.6,46.8 L438.5,47.8 L437.5,48.8 L436.5,49.8 L435.7,50.8 L434.9,51.8 L434.1,52.8 L433.3,53.8 L432.7,54.8 L432.2,55.8 L431.7,56.8 L431.2,57.8 L430.6,58.8 L429.9,59.8 L429.2,60.8 L428.5,61.8 L428.2,62.8 L427.2,65.8 L426.3,68.8 L425.4,71.8 L424.4,74.8 L423.5,77.8 L422.6,80.8 L421.6,83.8 L420.7,86.8 L419.8,89.8 L419,92.8 L418.2,95.8 L417.5,98.8 L416.8,101.8 L416.1,104.8 L415.5,107.8 L414.8,110.8 L414.2,113.8 L413.5,116.8 L412.8,119.8 L412.2,122.8 L411.5,125.8 L410.9,128.8 L410.2,131.8 L409.4,134.8 L408.7,137.8 L408.2,140.8 L408.2,141" fill="none" stroke="#1478f0" stroke-width="1.6" opacity="0.1"/>
<path d="M464.2,41.1 L472,40.8 L459.6,41.8 L454.4,42.8 L450.1,43.8 L446.7,44.8 L444,45.8 L443,46.8 L441.9,47.8 L440.9,48.8 L439.9,49.8 L439.1,50.8 L438.3,51.8 L437.5,52.8 L436.7,53.8 L436.1,54.8 L435.6,55.8 L435.1,56.8 L434.6,57.8 L434,58.8 L433.3,59.8 L432.6,60.8 L431.9,61.8 L431.6,62.8 L430.6,65.8 L429.7,68.8 L428.8,71.8 L427.8,74.8 L426.9,77.8 L426,80.8 L425,83.8 L424.1,86.8 L423.2,89.8 L422.4,92.8 L421.6,95.8 L420.9,98.8 L420.2,101.8 L419.5,104.8 L418.9,107.8 L418.2,110.8 L417.6,113.8 L416.9,116.8 L416.2,119.8 L415.6,122.8 L414.9,125.8 L414.3,128.8 L413.6,131.8 L412.8,134.8 L412.1,137.8 L411.6,140.8 L411.6,141" fill="none" stroke="#1478f0" stroke-width="1.6" opacity="0.1"/>
<path d="M464.2,41.1 L475.4,40.8 L463,41.8 L457.8,42.8 L453.5,43.8 L450.1,44.8 L447.4,45.8 L446.4,46.8 L445.3,47.8 L444.3,48.8 L443.3,49.8 L442.5,50.8 L441.7,51.8 L440.9,52.8 L440.1,53.8 L439.5,54.8 L439,55.8 L438.5,56.8 L438,57.8 L437.4,58.8 L436.7,59.8 L436,60.8 L435.3,61.8 L435,62.8 L434,65.8 L433.1,68.8 L432.2,71.8 L431.2,74.8 L430.3,77.8 L429.4,80.8 L428.4,83.8 L427.5,86.8 L426.6,89.8 L425.8,92.8 L425,95.8 L424.3,98.8 L423.6,101.8 L422.9,104.8 L422.3,107.8 L421.6,110.8 L421,113.8 L420.3,116.8 L419.6,119.8 L419,122.8 L418.3,125.8 L417.7,128.8 L416.9,131.8 L416.2,134.8 L415.4,137.8 L415,140.8 L415,141" fill="none" stroke="#1478f0" stroke-width="1.6" opacity="0.1"/>
<path d="M464.2,41.1 L478.8,40.8 L466.4,41.8 L461.2,42.8 L456.9,43.8 L453.5,44.8 L450.8,45.8 L449.8,46.8 L448.7,47.8 L447.7,48.8 L446.7,49.8 L445.9,50.8 L445.1,51.8 L444.3,52.8 L443.5,53.8 L442.9,54.8 L442.4,55.8 L441.9,56.8 L441.4,57.8 L440.8,58.8 L440.1,59.8 L439.4,60.8 L438.7,61.8 L438.4,62.8 L437.4,65.8 L436.5,68.8 L435.6,71.8 L434.6,74.8 L433.7,77.8 L432.8,80.8 L431.8,83.8 L430.9,86.8 L430,89.8 L429.2,92.8 L428.4,95.8 L427.7,98.8 L427,101.8 L426.3,104.8 L425.7,107.8 L425,110.8 L424.4,113.8 L423.7,116.8 L423,119.8 L422.4,122.8 L421.7,125.8 L421.1,128.8 L420.4,131.8 L419.6,134.8 L418.9,137.8 L418.4,140.8 L418.4,141" fill="none" stroke="#1478f0" stroke-width="1.6" opacity="0.1"/>
<path d="M464.2,41.1 L482.2,40.8 L469.8,41.8 L464.6,42.8 L460.3,43.8 L456.9,44.8 L454.2,45.8 L453.2,46.8 L452.1,47.8 L451.1,48.8 L450.1,49.8 L449.3,50.8 L448.5,51.8 L447.7,52.8 L446.9,53.8 L446.3,54.8 L445.8,55.8 L445.3,56.8 L444.8,57.8 L444.2,58.8 L443.5,59.8 L442.8,60.8 L442.1,61.8 L441.8,62.8 L440.8,65.8 L439.9,68.8 L439,71.8 L438,74.8 L437.1,77.8 L436.2,80.8 L435.2,83.8 L434.3,86.8 L433.4,89.8 L432.6,92.8 L431.8,95.8 L431.1,98.8 L430.4,101.8 L429.7,104.8 L429.1,107.8 L428.4,110.8 L427.8,113.8 L427.1,116.8 L426.4,119.8 L425.8,122.8 L425.1,125.8 L424.5,128.8 L423.8,131.8 L423,134.8 L422.2,137.8 L421.8,140.8 L421.8,141" fill="none" stroke="#1478f0" stroke-width="1.6" opacity="0.1"/>
<path d="M464.2,41.1 L485.6,40.8 L473.2,41.8 L468,42.8 L463.7,43.8 L460.3,44.8 L457.6,45.8 L456.6,46.8 L455.5,47.8 L454.5,48.8 L453.5,49.8 L452.7,50.8 L451.9,51.8 L451.1,52.8 L450.3,53.8 L449.7,54.8 L449.2,55.8 L448.7,56.8 L448.2,57.8 L447.6,58.8 L446.9,59.8 L446.2,60.8 L445.5,61.8 L445.2,62.8 L444.2,65.8 L443.3,68.8 L442.4,71.8 L441.4,74.8 L440.5,77.8 L439.6,80.8 L438.6,83.8 L437.7,86.8 L436.8,89.8 L436,92.8 L435.2,95.8 L434.5,98.8 L433.8,101.8 L433.1,104.8 L432.5,107.8 L431.8,110.8 L431.2,113.8 L430.5,116.8 L429.8,119.8 L429.2,122.8 L428.5,125.8 L427.9,128.8 L427.1,131.8 L426.4,134.8 L425.6,137.8 L425.2,140.8 L425.2,141" fill="none" stroke="#1478f0" stroke-width="1.6" opacity="0.1"/>
<path d="M464.2,41.1 L489,40.8 L476.6,41.8 L471.4,42.8 L467.1,43.8 L463.7,44.8 L461,45.8 L460,46.8 L458.9,47.8 L457.9,48.8 L456.9,49.8 L456.1,50.8 L455.3,51.8 L454.5,52.8 L453.7,53.8 L453.1,54.8 L452.6,55.8 L452.1,56.8 L451.6,57.8 L451,58.8 L450.3,59.8 L449.6,60.8 L448.9,61.8 L448.6,62.8 L447.6,65.8 L446.7,68.8 L445.8,71.8 L444.8,74.8 L443.9,77.8 L443,80.8 L442,83.8 L441.1,86.8 L440.2,89.8 L439.4,92.8 L438.6,95.8 L437.9,98.8 L437.2,101.8 L436.5,104.8 L435.9,107.8 L435.2,110.8 L434.6,113.8 L433.9,116.8 L433.2,119.8 L432.6,122.8 L431.9,125.8 L431.3,128.8 L430.6,131.8 L429.8,134.8 L429.1,137.8 L428.6,140.8 L428.6,141" fill="none" stroke="#1478f0" stroke-width="1.6" opacity="0.1"/>
<path d="M464.2,41.1 L492.4,40.8 L480,41.8 L474.8,42.8 L470.5,43.8 L467.1,44.8 L464.4,45.8 L463.4,46.8 L462.3,47.8 L461.3,48.8 L460.3,49.8 L459.5,50.8 L458.7,51.8 L457.9,52.8 L457.1,53.8 L456.5,54.8 L456,55.8 L455.5,56.8 L455,57.8 L454.4,58.8 L453.7,59.8 L453,60.8 L452.3,61.8 L452,62.8 L451,65.8 L450.1,68.8 L449.2,71.8 L448.2,74.8 L447.3,77.8 L446.4,80.8 L445.4,83.8 L444.5,86.8 L443.6,89.8 L442.8,92.8 L442,95.8 L441.3,98.8 L440.6,101.8 L439.9,104.8 L439.3,107.8 L438.6,110.8 L438,113.8 L437.3,116.8 L436.6,119.8 L436,122.8 L435.3,125.8 L434.7,128.8 L433.9,131.8 L433.2,134.8 L432.4,137.8 L432,140.8 L432,141" fill="none" stroke="#1478f0" stroke-width="1.6" opacity="0.1"/>
<path d="M464.2,41.1 L495.8,40.8 L483.4,41.8 L478.2,42.8 L473.9,43.8 L470.5,44.8 L467.8,45.8 L466.8,46.8 L465.7,47.8 L464.7,48.8 L463.7,49.8 L462.9,50.8 L462.1,51.8 L461.3,52.8 L460.5,53.8 L459.9,54.8 L459.4,55.8 L458.9,56.8 L458.4,57.8 L457.8,58.8 L457.1,59.8 L456.4,60.8 L455.7,61.8 L455.4,62.8 L454.4,65.8 L453.5,68.8 L452.6,71.8 L451.6,74.8 L450.7,77.8 L449.8,80.8 L448.8,83.8 L447.9,86.8 L447,89.8 L446.2,92.8 L445.4,95.8 L444.7,98.8 L444,101.8 L443.3,104.8 L442.7,107.8 L442,110.8 L441.4,113.8 L440.7,116.8 L440,119.8 L439.4,122.8 L438.7,125.8 L438.1,128.8 L437.4,131.8 L436.6,134.8 L435.9,137.8 L435.4,140.8 L435.4,141" fill="none" stroke="#1478f0" stroke-width="1.6" opacity="0.1"/>
<path d="M464.2,41.1 L499.2,40.8 L486.8,41.8 L481.6,42.8 L477.3,43.8 L473.9,44.8 L471.2,45.8 L470.2,46.8 L469.1,47.8 L468.1,48.8 L467.1,49.8 L466.3,50.8 L465.5,51.8 L464.7,52.8 L463.9,53.8 L463.3,54.8 L462.8,55.8 L462.3,56.8 L461.8,57.8 L461.2,58.8 L460.5,59.8 L459.8,60.8 L459.1,61.8 L458.8,62.8 L457.8,65.8 L456.9,68.8 L456,71.8 L455,74.8 L454.1,77.8 L453.2,80.8 L452.2,83.8 L451.3,86.8 L450.4,89.8 L449.6,92.8 L448.8,95.8 L448.1,98.8 L447.4,101.8 L446.7,104.8 L446.1,107.8 L445.4,110.8 L444.8,113.8 L444.1,116.8 L443.4,119.8 L442.8,122.8 L442.1,125.8 L441.5,128.8 L440.8,131.8 L440,134.8 L439.2,137.8 L438.8,140.8 L438.8,141" fill="none" stroke="#1478f0" stroke-width="1.6" opacity="0.1"/>
<path d="M464.2,41.1 L502.6,40.8 L490.2,41.8 L485,42.8 L480.7,43.8 L477.3,44.8 L474.6,45.8 L473.6,46.8 L472.5,47.8 L471.5,48.8 L470.5,49.8 L469.7,50.8 L468.9,51.8 L468.1,52.8 L467.3,53.8 L466.7,54.8 L466.2,55.8 L465.7,56.8 L465.2,57.8 L464.6,58.8 L463.9,59.8 L463.2,60.8 L462.5,61.8 L462.2,62.8 L461.2,65.8 L460.3,68.8 L459.4,71.8 L458.4,74.8 L457.5,77.8 L456.6,80.8 L455.6,83.8 L454.7,86.8 L453.8,89.8 L453,92.8 L452.2,95.8 L451.5,98.8 L450.8,101.8 L450.1,104.8 L449.5,107.8 L448.8,110.8 L448.2,113.8 L447.5,116.8 L446.8,119.8 L446.2,122.8 L445.5,125.8 L444.9,128.8 L444.1,131.8 L443.4,134.8 L442.6,137.8 L442.2,140.8 L442.2,141" fill="none" stroke="#1478f0" stroke-width="1.6" opacity="0.1"/>
<path d="M464.2,41.1 L506,40.8 L493.6,41.8 L488.4,42.8 L484.1,43.8 L480.7,44.8 L478,45.8 L477,46.8 L475.9,47.8 L474.9,48.8 L473.9,49.8 L473.1,50.8 L472.3,51.8 L471.5,52.8 L470.7,53.8 L470.1,54.8 L469.6,55.8 L469.1,56.8 L468.6,57.8 L468,58.8 L467.3,59.8 L466.6,60.8 L465.9,61.8 L465.6,62.8 L464.6,65.8 L463.7,68.8 L462.8,71.8 L461.8,74.8 L460.9,77.8 L460,80.8 L459,83.8 L458.1,86.8 L457.2,89.8 L456.4,92.8 L455.6,95.8 L454.9,98.8 L454.2,101.8 L453.5,104.8 L452.9,107.8 L452.2,110.8 L451.6,113.8 L450.9,116.8 L450.2,119.8 L449.6,122.8 L448.9,125.8 L448.3,128.8 L447.6,131.8 L446.8,134.8 L446.1,137.8 L445.6,140.8 L445.6,141" fill="none" stroke="#1478f0" stroke-width="1.6" opacity="0.1"/>
<path d="M464.2,41.1 L509.4,40.8 L497,41.8 L491.8,42.8 L487.5,43.8 L484.1,44.8 L481.4,45.8 L480.4,46.8 L479.3,47.8 L478.3,48.8 L477.3,49.8 L476.5,50.8 L475.7,51.8 L474.9,52.8 L474.1,53.8 L473.5,54.8 L473,55.8 L472.5,56.8 L472,57.8 L471.4,58.8 L470.7,59.8 L470,60.8 L469.3,61.8 L469,62.8 L468,65.8 L467.1,68.8 L466.2,71.8 L465.2,74.8 L464.3,77.8 L463.4,80.8 L462.4,83.8 L461.5,86.8 L460.6,89.8 L459.8,92.8 L459,95.8 L458.3,98.8 L457.6,101.8 L456.9,104.8 L456.3,107.8 L455.6,110.8 L455,113.8 L454.3,116.8 L453.6,119.8 L453,122.8 L452.3,125.8 L451.7,128.8 L450.9,131.8 L450.2,134.8 L449.4,137.8 L449,140.8 L449,141" fill="none" stroke="#1478f0" stroke-width="1.6" opacity="0.1"/>
<path d="M464.2,41.1 L512.8,40.8 L500.4,41.8 L495.2,42.8 L490.9,43.8 L487.5,44.8 L484.8,45.8 L483.8,46.8 L482.7,47.8 L481.7,48.8 L480.7,49.8 L479.9,50.8 L479.1,51.8 L478.3,52.8 L477.5,53.8 L476.9,54.8 L476.4,55.8 L475.9,56.8 L475.4,57.8 L474.8,58.8 L474.1,59.8 L473.4,60.8 L472.7,61.8 L472.4,62.8 L471.4,65.8 L470.5,68.8 L469.6,71.8 L468.6,74.8 L467.7,77.8 L466.8,80.8 L465.8,83.8 L464.9,86.8 L464,89.8 L463.2,92.8 L462.4,95.8 L461.7,98.8 L461,101.8 L460.3,104.8 L459.7,107.8 L459,110.8 L458.4,113.8 L457.7,116.8 L457,119.8 L456.4,122.8 L455.7,125.8 L455.1,128.8 L454.4,131.8 L453.6,134.8 L452.9,137.8 L452.4,140.8 L452.4,141" fill="none" stroke="#1478f0" stroke-width="1.6" opacity="0.1"/>
<path d="M464.2,41.1 L516.2,40.8 L503.8,41.8 L498.6,42.8 L494.3,43.8 L490.9,44.8 L488.2,45.8 L487.2,46.8 L486.1,47.8 L485.1,48.8 L484.1,49.8 L483.3,50.8 L482.5,51.8 L481.7,52.8 L480.9,53.8 L480.3,54.8 L479.8,55.8 L479.3,56.8 L478.8,57.8 L478.2,58.8 L477.5,59.8 L476.8,60.8 L476.1,61.8 L475.8,62.8 L474.8,65.8 L473.9,68.8 L473,71.8 L472,74.8 L471.1,77.8 L470.2,80.8 L469.2,83.8 L468.3,86.8 L467.4,89.8 L466.6,92.8 L465.8,95.8 L465.1,98.8 L464.4,101.8 L463.7,104.8 L463.1,107.8 L462.4,110.8 L461.8,113.8 L461.1,116.8 L460.4,119.8 L459.8,122.8 L459.1,125.8 L458.5,128.8 L457.8,131.8 L457,134.8 L456.2,137.8 L455.8,140.8 L455.8,141" fill="none" stroke="#1478f0" stroke-width="1.6" opacity="0.1"/>
<path d="M464.2,41.1 L519.6,40.8 L507.2,41.8 L502,42.8 L497.7,43.8 L494.3,44.8 L491.6,45.8 L490.6,46.8 L489.5,47.8 L488.5,48.8 L487.5,49.8 L486.7,50.8 L485.9,51.8 L485.1,52.8 L484.3,53.8 L483.7,54.8 L483.2,55.8 L482.7,56.8 L482.2,57.8 L481.6,58.8 L480.9,59.8 L480.2,60.8 L479.5,61.8 L479.2,62.8 L478.2,65.8 L477.3,68.8 L476.4,71.8 L475.4,74.8 L474.5,77.8 L473.6,80.8 L472.6,83.8 L471.7,86.8 L470.8,89.8 L470,92.8 L469.2,95.8 L468.5,98.8 L467.8,101.8 L467.1,104.8 L466.5,107.8 L465.8,110.8 L465.2,113.8 L464.5,116.8 L463.8,119.8 L463.2,122.8 L462.5,125.8 L461.9,128.8 L461.1,131.8 L460.4,134.8 L459.6,137.8 L459.2,140.8 L459.2,141" fill="none" stroke="#1478f0" stroke-width="1.6" opacity="0.1"/>
<rect x="396.7" y="49.8" width="29.5" height="8.1" fill="url(#ckBg)"/>
<line x1="394.8" y1="49.8" x2="389.4" y2="57.8" stroke="#28c0ff" stroke-width="1.8"/>
<line x1="398.9" y1="49.8" x2="393.5" y2="57.8" stroke="#28c0ff" stroke-width="1.8"/>
<line x1="403" y1="49.8" x2="397.6" y2="57.8" stroke="#1a9af6" stroke-width="1.8"/>
<line x1="407.1" y1="49.8" x2="401.7" y2="57.8" stroke="#1478e2" stroke-width="1.8"/>
<line x1="411.2" y1="49.8" x2="405.8" y2="57.8" stroke="#0e5cc4" stroke-width="1.8"/>
<line x1="415.3" y1="49.8" x2="409.9" y2="57.8" stroke="#0a48aa" stroke-width="1.8"/>
<line x1="419.4" y1="49.8" x2="414" y2="57.8" stroke="#083a94" stroke-width="1.8"/>
<line x1="423.5" y1="49.8" x2="418.1" y2="57.8" stroke="#072e80" stroke-width="1.8"/>
<line x1="427.6" y1="49.8" x2="422.2" y2="57.8" stroke="#062672" stroke-width="1.8"/>
<rect x="395.1" y="57.8" width="31.1" height="7.8" fill="url(#ckBg)"/>
<line x1="395.2" y1="57.8" x2="391.3" y2="65.6" stroke="#28c0ff" stroke-width="1.8"/>
<line x1="399.3" y1="57.8" x2="395.4" y2="65.6" stroke="#28c0ff" stroke-width="1.8"/>
<line x1="403.4" y1="57.8" x2="399.5" y2="65.6" stroke="#1a9af6" stroke-width="1.8"/>
<line x1="407.5" y1="57.8" x2="403.6" y2="65.6" stroke="#1478e2" stroke-width="1.8"/>
<line x1="411.6" y1="57.8" x2="407.7" y2="65.6" stroke="#0e5cc4" stroke-width="1.8"/>
<line x1="415.7" y1="57.8" x2="411.8" y2="65.6" stroke="#0a48aa" stroke-width="1.8"/>
<line x1="419.8" y1="57.8" x2="415.9" y2="65.6" stroke="#083a94" stroke-width="1.8"/>
<line x1="423.9" y1="57.8" x2="420" y2="65.6" stroke="#072e80" stroke-width="1.8"/>
<line x1="428" y1="57.8" x2="424.1" y2="65.6" stroke="#062672" stroke-width="1.8"/>
<rect x="395.5" y="65.6" width="30.7" height="7.6" fill="url(#ckBg)"/>
<line x1="393.6" y1="65.6" x2="391.3" y2="73.1" stroke="#28c0ff" stroke-width="1.8"/>
<line x1="397.7" y1="65.6" x2="395.4" y2="73.1" stroke="#28c0ff" stroke-width="1.8"/>
<line x1="401.8" y1="65.6" x2="399.5" y2="73.1" stroke="#1a9af6" stroke-width="1.8"/>
<line x1="405.9" y1="65.6" x2="403.6" y2="73.1" stroke="#1478e2" stroke-width="1.8"/>
<line x1="410" y1="65.6" x2="407.7" y2="73.1" stroke="#0e5cc4" stroke-width="1.8"/>
<line x1="414.1" y1="65.6" x2="411.8" y2="73.1" stroke="#0a48aa" stroke-width="1.8"/>
<line x1="418.2" y1="65.6" x2="415.9" y2="73.1" stroke="#083a94" stroke-width="1.8"/>
<line x1="422.3" y1="65.6" x2="420" y2="73.1" stroke="#072e80" stroke-width="1.8"/>
<line x1="426.4" y1="65.6" x2="424.1" y2="73.1" stroke="#062672" stroke-width="1.8"/>
<rect x="396.1" y="73.1" width="30.1" height="7.4" fill="url(#ckBg)"/>
<line x1="396.2" y1="73.1" x2="394" y2="80.5" stroke="#28c0ff" stroke-width="1.8"/>
<line x1="400.3" y1="73.1" x2="398.1" y2="80.5" stroke="#28c0ff" stroke-width="1.8"/>
<line x1="404.4" y1="73.1" x2="402.2" y2="80.5" stroke="#1a9af6" stroke-width="1.8"/>
<line x1="408.5" y1="73.1" x2="406.3" y2="80.5" stroke="#1478e2" stroke-width="1.8"/>
<line x1="412.6" y1="73.1" x2="410.4" y2="80.5" stroke="#0e5cc4" stroke-width="1.8"/>
<line x1="416.7" y1="73.1" x2="414.5" y2="80.5" stroke="#0a48aa" stroke-width="1.8"/>
<line x1="420.8" y1="73.1" x2="418.6" y2="80.5" stroke="#083a94" stroke-width="1.8"/>
<line x1="424.9" y1="73.1" x2="422.7" y2="80.5" stroke="#072e80" stroke-width="1.8"/>
<line x1="429" y1="73.1" x2="426.8" y2="80.5" stroke="#062672" stroke-width="1.8"/>
<rect x="396.5" y="80.5" width="29.7" height="7.2" fill="url(#ckBg)"/>
<line x1="394.6" y1="80.5" x2="392.4" y2="87.6" stroke="#28c0ff" stroke-width="1.8"/>
<line x1="398.7" y1="80.5" x2="396.5" y2="87.6" stroke="#28c0ff" stroke-width="1.8"/>
<line x1="402.8" y1="80.5" x2="400.6" y2="87.6" stroke="#1a9af6" stroke-width="1.8"/>
<line x1="406.9" y1="80.5" x2="404.7" y2="87.6" stroke="#1478e2" stroke-width="1.8"/>
<line x1="411" y1="80.5" x2="408.8" y2="87.6" stroke="#0e5cc4" stroke-width="1.8"/>
<line x1="415.1" y1="80.5" x2="412.9" y2="87.6" stroke="#0a48aa" stroke-width="1.8"/>
<line x1="419.2" y1="80.5" x2="417" y2="87.6" stroke="#083a94" stroke-width="1.8"/>
<line x1="423.3" y1="80.5" x2="421.1" y2="87.6" stroke="#072e80" stroke-width="1.8"/>
<line x1="427.4" y1="80.5" x2="425.2" y2="87.6" stroke="#062672" stroke-width="1.8"/>
<rect x="397.3" y="87.6" width="28.9" height="7" fill="url(#ckBg)"/>
<line x1="397.4" y1="87.6" x2="395.5" y2="94.6" stroke="#28c0ff" stroke-width="1.8"/>
<line x1="401.5" y1="87.6" x2="399.6" y2="94.6" stroke="#28c0ff" stroke-width="1.8"/>
<line x1="405.6" y1="87.6" x2="403.7" y2="94.6" stroke="#1a9af6" stroke-width="1.8"/>
<line x1="409.7" y1="87.6" x2="407.8" y2="94.6" stroke="#1478e2" stroke-width="1.8"/>
<line x1="413.8" y1="87.6" x2="411.9" y2="94.6" stroke="#0e5cc4" stroke-width="1.8"/>
<line x1="417.9" y1="87.6" x2="416" y2="94.6" stroke="#0a48aa" stroke-width="1.8"/>
<line x1="422" y1="87.6" x2="420.1" y2="94.6" stroke="#083a94" stroke-width="1.8"/>
<line x1="426.1" y1="87.6" x2="424.2" y2="94.6" stroke="#072e80" stroke-width="1.8"/>
<rect x="398.7" y="94.6" width="27.5" height="6.8" fill="url(#ckBg)"/>
<line x1="396.8" y1="94.6" x2="395.1" y2="101.4" stroke="#28c0ff" stroke-width="1.8"/>
<line x1="400.9" y1="94.6" x2="399.2" y2="101.4" stroke="#28c0ff" stroke-width="1.8"/>
<line x1="405" y1="94.6" x2="403.3" y2="101.4" stroke="#1a9af6" stroke-width="1.8"/>
<line x1="409.1" y1="94.6" x2="407.4" y2="101.4" stroke="#1478e2" stroke-width="1.8"/>
<line x1="413.2" y1="94.6" x2="411.5" y2="101.4" stroke="#0e5cc4" stroke-width="1.8"/>
<line x1="417.3" y1="94.6" x2="415.6" y2="101.4" stroke="#0a48aa" stroke-width="1.8"/>
<line x1="421.4" y1="94.6" x2="419.7" y2="101.4" stroke="#083a94" stroke-width="1.8"/>
<line x1="425.5" y1="94.6" x2="423.8" y2="101.4" stroke="#072e80" stroke-width="1.8"/>
<line x1="429.6" y1="94.6" x2="427.9" y2="101.4" stroke="#062672" stroke-width="1.8"/>
<rect x="400.9" y="101.4" width="25.3" height="6.6" fill="url(#ckBg)"/>
<line x1="401.1" y1="101.4" x2="399.6" y2="107.9" stroke="#28c0ff" stroke-width="1.8"/>
<line x1="405.2" y1="101.4" x2="403.7" y2="107.9" stroke="#28c0ff" stroke-width="1.8"/>
<line x1="409.3" y1="101.4" x2="407.8" y2="107.9" stroke="#1a9af6" stroke-width="1.8"/>
<line x1="413.4" y1="101.4" x2="411.9" y2="107.9" stroke="#1478e2" stroke-width="1.8"/>
<line x1="417.5" y1="101.4" x2="416" y2="107.9" stroke="#0e5cc4" stroke-width="1.8"/>
<line x1="421.6" y1="101.4" x2="420.1" y2="107.9" stroke="#0a48aa" stroke-width="1.8"/>
<line x1="425.7" y1="101.4" x2="424.2" y2="107.9" stroke="#083a94" stroke-width="1.8"/>
<line x1="429.8" y1="101.4" x2="428.3" y2="107.9" stroke="#072e80" stroke-width="1.8"/>
<rect x="402.4" y="107.9" width="23.8" height="6.4" fill="url(#ckBg)"/>
<line x1="400.5" y1="107.9" x2="399.1" y2="114.3" stroke="#28c0ff" stroke-width="1.8"/>
<line x1="404.6" y1="107.9" x2="403.2" y2="114.3" stroke="#28c0ff" stroke-width="1.8"/>
<line x1="408.7" y1="107.9" x2="407.3" y2="114.3" stroke="#1a9af6" stroke-width="1.8"/>
<line x1="412.8" y1="107.9" x2="411.4" y2="114.3" stroke="#1478e2" stroke-width="1.8"/>
<line x1="416.9" y1="107.9" x2="415.5" y2="114.3" stroke="#0e5cc4" stroke-width="1.8"/>
<line x1="421" y1="107.9" x2="419.6" y2="114.3" stroke="#0a48aa" stroke-width="1.8"/>
<line x1="425.1" y1="107.9" x2="423.7" y2="114.3" stroke="#083a94" stroke-width="1.8"/>
<line x1="429.2" y1="107.9" x2="427.8" y2="114.3" stroke="#072e80" stroke-width="1.8"/>
<rect x="403.6" y="114.3" width="22.6" height="6.3" fill="url(#ckBg)"/>
<line x1="403.8" y1="114.3" x2="402.4" y2="120.5" stroke="#28c0ff" stroke-width="1.8"/>
<line x1="407.9" y1="114.3" x2="406.5" y2="120.5" stroke="#28c0ff" stroke-width="1.8"/>
<line x1="412" y1="114.3" x2="410.6" y2="120.5" stroke="#1a9af6" stroke-width="1.8"/>
<line x1="416.1" y1="114.3" x2="414.7" y2="120.5" stroke="#1478e2" stroke-width="1.8"/>
<line x1="420.2" y1="114.3" x2="418.8" y2="120.5" stroke="#0e5cc4" stroke-width="1.8"/>
<line x1="424.3" y1="114.3" x2="422.9" y2="120.5" stroke="#0a48aa" stroke-width="1.8"/>
<line x1="428.4" y1="114.3" x2="427" y2="120.5" stroke="#083a94" stroke-width="1.8"/>
<rect x="404.7" y="120.5" width="21.5" height="6.1" fill="url(#ckBg)"/>
<line x1="402.8" y1="120.5" x2="401.5" y2="126.6" stroke="#28c0ff" stroke-width="1.8"/>
<line x1="406.9" y1="120.5" x2="405.6" y2="126.6" stroke="#28c0ff" stroke-width="1.8"/>
<line x1="411" y1="120.5" x2="409.7" y2="126.6" stroke="#1a9af6" stroke-width="1.8"/>
<line x1="415.1" y1="120.5" x2="413.8" y2="126.6" stroke="#1478e2" stroke-width="1.8"/>
<line x1="419.2" y1="120.5" x2="417.9" y2="126.6" stroke="#0e5cc4" stroke-width="1.8"/>
<line x1="423.3" y1="120.5" x2="422" y2="126.6" stroke="#0a48aa" stroke-width="1.8"/>
<line x1="427.4" y1="120.5" x2="426.1" y2="126.6" stroke="#083a94" stroke-width="1.8"/>
<rect x="406" y="126.6" width="20.2" height="5.9" fill="url(#ckBg)"/>
<line x1="406.1" y1="126.6" x2="404.8" y2="132.4" stroke="#28c0ff" stroke-width="1.8"/>
<line x1="410.2" y1="126.6" x2="408.9" y2="132.4" stroke="#28c0ff" stroke-width="1.8"/>
<line x1="414.3" y1="126.6" x2="413" y2="132.4" stroke="#1a9af6" stroke-width="1.8"/>
<line x1="418.4" y1="126.6" x2="417.1" y2="132.4" stroke="#1478e2" stroke-width="1.8"/>
<line x1="422.5" y1="126.6" x2="421.2" y2="132.4" stroke="#0e5cc4" stroke-width="1.8"/>
<line x1="426.6" y1="126.6" x2="425.3" y2="132.4" stroke="#0a48aa" stroke-width="1.8"/>
<rect x="407.3" y="132.4" width="18.9" height="5.8" fill="url(#ckBg)"/>
<line x1="405.4" y1="132.4" x2="404" y2="138.1" stroke="#28c0ff" stroke-width="1.8"/>
<line x1="409.5" y1="132.4" x2="408.1" y2="138.1" stroke="#28c0ff" stroke-width="1.8"/>
<line x1="413.6" y1="132.4" x2="412.2" y2="138.1" stroke="#1a9af6" stroke-width="1.8"/>
<line x1="417.7" y1="132.4" x2="416.3" y2="138.1" stroke="#1478e2" stroke-width="1.8"/>
<line x1="421.8" y1="132.4" x2="420.4" y2="138.1" stroke="#0e5cc4" stroke-width="1.8"/>
<line x1="425.9" y1="132.4" x2="424.5" y2="138.1" stroke="#0a48aa" stroke-width="1.8"/>
<line x1="430" y1="132.4" x2="428.6" y2="138.1" stroke="#083a94" stroke-width="1.8"/>
<rect x="408.7" y="138.1" width="17.5" height="2.4" fill="url(#ckBg)"/>
<line x1="408.9" y1="138.1" x2="408.6" y2="140.5" stroke="#28c0ff" stroke-width="1.8"/>
<line x1="413" y1="138.1" x2="412.7" y2="140.5" stroke="#28c0ff" stroke-width="1.8"/>
<line x1="417.1" y1="138.1" x2="416.8" y2="140.5" stroke="#1a9af6" stroke-width="1.8"/>
<line x1="421.2" y1="138.1" x2="420.9" y2="140.5" stroke="#1478e2" stroke-width="1.8"/>
<line x1="425.3" y1="138.1" x2="425" y2="140.5" stroke="#0e5cc4" stroke-width="1.8"/>
<line x1="429.4" y1="138.1" x2="429.1" y2="140.5" stroke="#0a48aa" stroke-width="1.8"/>
</g>
<path d="M414,40.8 L401.6,41.8 L396.4,42.8 L392.1,43.8 L388.7,44.8 L386,45.8 L385,46.8 L383.9,47.8 L382.9,48.8 L381.9,49.8 L381.1,50.8 L380.3,51.8 L379.5,52.8 L378.7,53.8 L378.1,54.8 L377.6,55.8 L377.1,56.8 L376.6,57.8 L376,58.8 L375.3,59.8 L374.6,60.8 L373.9,61.8 L373.6,62.8 L372.6,65.8 L371.7,68.8 L370.8,71.8 L369.8,74.8 L368.9,77.8 L368,80.8 L367,83.8 L366.1,86.8 L365.2,89.8 L364.4,92.8 L363.6,95.8 L362.9,98.8 L362.2,101.8 L361.5,104.8 L360.9,107.8 L360.2,110.8 L359.6,113.8 L358.9,116.8 L358.2,119.8 L357.6,122.8 L356.9,125.8 L356.3,128.8 L355.6,131.8 L354.8,134.8 L354.1,137.8 L353.6,140.8 L353.6,141" fill="none" stroke="#0a48d8" stroke-width="1.5" opacity="0.85" transform="translate(-0.7,0)"/>
<path d="M414,40.8 L401.6,41.8 L396.4,42.8 L392.1,43.8 L388.7,44.8 L386,45.8 L385,46.8 L383.9,47.8 L382.9,48.8 L381.9,49.8 L381.1,50.8 L380.3,51.8 L379.5,52.8 L378.7,53.8 L378.1,54.8 L377.6,55.8 L377.1,56.8 L376.6,57.8 L376,58.8 L375.3,59.8 L374.6,60.8 L373.9,61.8 L373.6,62.8 L372.6,65.8 L371.7,68.8 L370.8,71.8 L369.8,74.8 L368.9,77.8 L368,80.8 L367,83.8 L366.1,86.8 L365.2,89.8 L364.4,92.8 L363.6,95.8 L362.9,98.8 L362.2,101.8 L361.5,104.8 L360.9,107.8 L360.2,110.8 L359.6,113.8 L358.9,116.8 L358.2,119.8 L357.6,122.8 L356.9,125.8 L356.3,128.8 L355.6,131.8 L354.8,134.8 L354.1,137.8 L353.6,140.8 L353.6,141 L410,141 L409.9,140.1 L409.5,137.1 L408.7,134.1 L408,131.1 L407.3,128.1 L406.7,125.1 L406,122.1 L405.4,119.1 L404.9,116.1 L404.4,113.1 L403.9,110.1 L403.2,107.1 L402.5,104.1 L401.9,101.1 L400.7,98.1 L399.8,95.1 L399.1,92.1 L398.5,89.1 L398,86.1 L397.6,83.1 L397.5,80.1 L397.3,77.1 L397.2,74.1 L396.9,71.1 L396.7,68.1 L396.5,65.1 L396.2,62.1 L396.1,59.1 L396,56.1 L396.7,53.1 L397.5,50.1 L399.7,47.1 L403.9,44.1 L413.5,41.1 L414,41Z" fill="url(#dBodyG)"/>
<g clip-path="url(#dB0)">
<path d="M464.2,41.4 L417.6,40.8 L405.2,41.8 L400,42.8 L395.7,43.8 L392.3,44.8 L389.6,45.8 L388.6,46.8 L387.5,47.8 L386.5,48.8 L385.5,49.8 L384.7,50.8 L383.9,51.8 L383.1,52.8 L382.3,53.8 L381.7,54.8 L381.2,55.8 L380.7,56.8 L380.2,57.8 L379.6,58.8 L378.9,59.8 L378.2,60.8 L377.5,61.8 L377.2,62.8 L376.2,65.8 L375.3,68.8 L374.4,71.8 L373.4,74.8 L372.5,77.8 L371.6,80.8 L370.6,83.8 L369.7,86.8 L368.8,89.8 L368,92.8 L367.2,95.8 L366.5,98.8 L365.8,101.8 L365.1,104.8 L364.5,107.8 L363.8,110.8 L363.2,113.8 L362.5,116.8 L361.8,119.8 L361.2,122.8 L360.5,125.8 L359.9,128.8 L359.2,131.8 L358.4,134.8 L357.7,137.8 L357.2,140.8 L357.2,141" fill="none" stroke="#e83000" stroke-width="1.3" opacity="1"/>
<path d="M464.2,42 L421.2,40.8 L408.8,41.8 L403.6,42.8 L399.3,43.8 L395.9,44.8 L393.2,45.8 L392.2,46.8 L391.1,47.8 L390.1,48.8 L389.1,49.8 L388.3,50.8 L387.5,51.8 L386.7,52.8 L385.9,53.8 L385.3,54.8 L384.8,55.8 L384.3,56.8 L383.8,57.8 L383.2,58.8 L382.5,59.8 L381.8,60.8 L381.1,61.8 L380.8,62.8 L379.8,65.8 L378.9,68.8 L378,71.8 L377,74.8 L376.1,77.8 L375.2,80.8 L374.2,83.8 L373.3,86.8 L372.4,89.8 L371.6,92.8 L370.8,95.8 L370.1,98.8 L369.4,101.8 L368.7,104.8 L368.1,107.8 L367.4,110.8 L366.8,113.8 L366.1,116.8 L365.4,119.8 L364.8,122.8 L364.1,125.8 L363.5,128.8 L362.8,131.8 L362,134.8 L361.2,137.8 L360.8,140.8 L360.8,141" fill="none" stroke="#e83000" stroke-width="1.3" opacity="1"/>
<path d="M464.2,42.6 L424.8,40.8 L412.4,41.8 L407.2,42.8 L402.9,43.8 L399.5,44.8 L396.8,45.8 L395.8,46.8 L394.7,47.8 L393.7,48.8 L392.7,49.8 L391.9,50.8 L391.1,51.8 L390.3,52.8 L389.5,53.8 L388.9,54.8 L388.4,55.8 L387.9,56.8 L387.4,57.8 L386.8,58.8 L386.1,59.8 L385.4,60.8 L384.7,61.8 L384.4,62.8 L383.4,65.8 L382.5,68.8 L381.6,71.8 L380.6,74.8 L379.7,77.8 L378.8,80.8 L377.8,83.8 L376.9,86.8 L376,89.8 L375.2,92.8 L374.4,95.8 L373.7,98.8 L373,101.8 L372.3,104.8 L371.7,107.8 L371,110.8 L370.4,113.8 L369.7,116.8 L369,119.8 L368.4,122.8 L367.7,125.8 L367.1,128.8 L366.4,131.8 L365.6,134.8 L364.9,137.8 L364.4,140.8 L364.4,141" fill="none" stroke="#f04c00" stroke-width="1.3" opacity="1"/>
<path d="M464.2,43.2 L428.4,40.8 L416,41.8 L410.8,42.8 L406.5,43.8 L403.1,44.8 L400.4,45.8 L399.4,46.8 L398.3,47.8 L397.3,48.8 L396.3,49.8 L395.5,50.8 L394.7,51.8 L393.9,52.8 L393.1,53.8 L392.5,54.8 L392,55.8 L391.5,56.8 L391,57.8 L390.4,58.8 L389.7,59.8 L389,60.8 L388.3,61.8 L388,62.8 L387,65.8 L386.1,68.8 L385.2,71.8 L384.2,74.8 L383.3,77.8 L382.4,80.8 L381.4,83.8 L380.5,86.8 L379.6,89.8 L378.8,92.8 L378,95.8 L377.3,98.8 L376.6,101.8 L375.9,104.8 L375.3,107.8 L374.6,110.8 L374,113.8 L373.3,116.8 L372.6,119.8 L372,122.8 L371.3,125.8 L370.7,128.8 L369.9,131.8 L369.2,134.8 L368.4,137.8 L368,140.8 L368,141" fill="none" stroke="#f04c00" stroke-width="1.3" opacity="1"/>
<path d="M464.2,43.8 L432,40.8 L419.6,41.8 L414.4,42.8 L410.1,43.8 L406.7,44.8 L404,45.8 L403,46.8 L401.9,47.8 L400.9,48.8 L399.9,49.8 L399.1,50.8 L398.3,51.8 L397.5,52.8 L396.7,53.8 L396.1,54.8 L395.6,55.8 L395.1,56.8 L394.6,57.8 L394,58.8 L393.3,59.8 L392.6,60.8 L391.9,61.8 L391.6,62.8 L390.6,65.8 L389.7,68.8 L388.8,71.8 L387.8,74.8 L386.9,77.8 L386,80.8 L385,83.8 L384.1,86.8 L383.2,89.8 L382.4,92.8 L381.6,95.8 L380.9,98.8 L380.2,101.8 L379.5,104.8 L378.9,107.8 L378.2,110.8 L377.6,113.8 L376.9,116.8 L376.2,119.8 L375.6,122.8 L374.9,125.8 L374.3,128.8 L373.6,131.8 L372.8,134.8 L372.1,137.8 L371.6,140.8 L371.6,141" fill="none" stroke="#f04c00" stroke-width="1.3" opacity="1"/>
<path d="M464.2,44.4 L435.6,40.8 L423.2,41.8 L418,42.8 L413.7,43.8 L410.3,44.8 L407.6,45.8 L406.6,46.8 L405.5,47.8 L404.5,48.8 L403.5,49.8 L402.7,50.8 L401.9,51.8 L401.1,52.8 L400.3,53.8 L399.7,54.8 L399.2,55.8 L398.7,56.8 L398.2,57.8 L397.6,58.8 L396.9,59.8 L396.2,60.8 L395.5,61.8 L395.2,62.8 L394.2,65.8 L393.3,68.8 L392.4,71.8 L391.4,74.8 L390.5,77.8 L389.6,80.8 L388.6,83.8 L387.7,86.8 L386.8,89.8 L386,92.8 L385.2,95.8 L384.5,98.8 L383.8,101.8 L383.1,104.8 L382.5,107.8 L381.8,110.8 L381.2,113.8 L380.5,116.8 L379.8,119.8 L379.2,122.8 L378.5,125.8 L377.9,128.8 L377.2,131.8 L376.4,134.8 L375.7,137.8 L375.2,140.8 L375.2,141" fill="none" stroke="#f47400" stroke-width="1.3" opacity="1"/>
<path d="M464.2,45 L439.2,40.8 L426.8,41.8 L421.6,42.8 L417.3,43.8 L413.9,44.8 L411.2,45.8 L410.2,46.8 L409.1,47.8 L408.1,48.8 L407.1,49.8 L406.3,50.8 L405.5,51.8 L404.7,52.8 L403.9,53.8 L403.3,54.8 L402.8,55.8 L402.3,56.8 L401.8,57.8 L401.2,58.8 L400.5,59.8 L399.8,60.8 L399.1,61.8 L398.8,62.8 L397.8,65.8 L396.9,68.8 L396,71.8 L395,74.8 L394.1,77.8 L393.2,80.8 L392.2,83.8 L391.3,86.8 L390.4,89.8 L389.6,92.8 L388.8,95.8 L388.1,98.8 L387.4,101.8 L386.7,104.8 L386.1,107.8 L385.4,110.8 L384.8,113.8 L384.1,116.8 L383.4,119.8 L382.8,122.8 L382.1,125.8 L381.5,128.8 L380.8,131.8 L380,134.8 L379.2,137.8 L378.8,140.8 L378.8,141" fill="none" stroke="#f47400" stroke-width="1.3" opacity="1"/>
<path d="M464.2,45.6 L442.8,40.8 L430.4,41.8 L425.2,42.8 L420.9,43.8 L417.5,44.8 L414.8,45.8 L413.8,46.8 L412.7,47.8 L411.7,48.8 L410.7,49.8 L409.9,50.8 L409.1,51.8 L408.3,52.8 L407.5,53.8 L406.9,54.8 L406.4,55.8 L405.9,56.8 L405.4,57.8 L404.8,58.8 L404.1,59.8 L403.4,60.8 L402.7,61.8 L402.4,62.8 L401.4,65.8 L400.5,68.8 L399.6,71.8 L398.6,74.8 L397.7,77.8 L396.8,80.8 L395.8,83.8 L394.9,86.8 L394,89.8 L393.2,92.8 L392.4,95.8 L391.7,98.8 L391,101.8 L390.3,104.8 L389.7,107.8 L389,110.8 L388.4,113.8 L387.7,116.8 L387,119.8 L386.4,122.8 L385.7,125.8 L385.1,128.8 L384.4,131.8 L383.6,134.8 L382.9,137.8 L382.4,140.8 L382.4,141" fill="none" stroke="#f47400" stroke-width="1.3" opacity="1"/>
<path d="M464.2,46.2 L446.4,40.8 L434,41.8 L428.8,42.8 L424.5,43.8 L421.1,44.8 L418.4,45.8 L417.4,46.8 L416.3,47.8 L415.3,48.8 L414.3,49.8 L413.5,50.8 L412.7,51.8 L411.9,52.8 L411.1,53.8 L410.5,54.8 L410,55.8 L409.5,56.8 L409,57.8 L408.4,58.8 L407.7,59.8 L407,60.8 L406.3,61.8 L406,62.8 L405,65.8 L404.1,68.8 L403.2,71.8 L402.2,74.8 L401.3,77.8 L400.4,80.8 L399.4,83.8 L398.5,86.8 L397.6,89.8 L396.8,92.8 L396,95.8 L395.3,98.8 L394.6,101.8 L393.9,104.8 L393.3,107.8 L392.6,110.8 L392,113.8 L391.3,116.8 L390.6,119.8 L390,122.8 L389.3,125.8 L388.7,128.8 L387.9,131.8 L387.2,134.8 L386.4,137.8 L386,140.8 L386,141" fill="none" stroke="#f47400" stroke-width="1.3" opacity="1"/>
<path d="M464.2,46.8 L450,40.8 L437.6,41.8 L432.4,42.8 L428.1,43.8 L424.7,44.8 L422,45.8 L421,46.8 L419.9,47.8 L418.9,48.8 L417.9,49.8 L417.1,50.8 L416.3,51.8 L415.5,52.8 L414.7,53.8 L414.1,54.8 L413.6,55.8 L413.1,56.8 L412.6,57.8 L412,58.8 L411.3,59.8 L410.6,60.8 L409.9,61.8 L409.6,62.8 L408.6,65.8 L407.7,68.8 L406.8,71.8 L405.8,74.8 L404.9,77.8 L404,80.8 L403,83.8 L402.1,86.8 L401.2,89.8 L400.4,92.8 L399.6,95.8 L398.9,98.8 L398.2,101.8 L397.5,104.8 L396.9,107.8 L396.2,110.8 L395.6,113.8 L394.9,116.8 L394.2,119.8 L393.6,122.8 L392.9,125.8 L392.3,128.8 L391.6,131.8 L390.8,134.8 L390.1,137.8 L389.6,140.8 L389.6,141" fill="none" stroke="#f89400" stroke-width="1.3" opacity="1"/>
<path d="M464.2,47.4 L453.6,40.8 L441.2,41.8 L436,42.8 L431.7,43.8 L428.3,44.8 L425.6,45.8 L424.6,46.8 L423.5,47.8 L422.5,48.8 L421.5,49.8 L420.7,50.8 L419.9,51.8 L419.1,52.8 L418.3,53.8 L417.7,54.8 L417.2,55.8 L416.7,56.8 L416.2,57.8 L415.6,58.8 L414.9,59.8 L414.2,60.8 L413.5,61.8 L413.2,62.8 L412.2,65.8 L411.3,68.8 L410.4,71.8 L409.4,74.8 L408.5,77.8 L407.6,80.8 L406.6,83.8 L405.7,86.8 L404.8,89.8 L404,92.8 L403.2,95.8 L402.5,98.8 L401.8,101.8 L401.1,104.8 L400.5,107.8 L399.8,110.8 L399.2,113.8 L398.5,116.8 L397.8,119.8 L397.2,122.8 L396.5,125.8 L395.9,128.8 L395.2,131.8 L394.4,134.8 L393.7,137.8 L393.2,140.8 L393.2,141" fill="none" stroke="#f89400" stroke-width="1.3" opacity="0.8"/>
<path d="M464.2,48 L457.2,40.8 L444.8,41.8 L439.6,42.8 L435.3,43.8 L431.9,44.8 L429.2,45.8 L428.2,46.8 L427.1,47.8 L426.1,48.8 L425.1,49.8 L424.3,50.8 L423.5,51.8 L422.7,52.8 L421.9,53.8 L421.3,54.8 L420.8,55.8 L420.3,56.8 L419.8,57.8 L419.2,58.8 L418.5,59.8 L417.8,60.8 L417.1,61.8 L416.8,62.8 L415.8,65.8 L414.9,68.8 L414,71.8 L413,74.8 L412.1,77.8 L411.2,80.8 L410.2,83.8 L409.3,86.8 L408.4,89.8 L407.6,92.8 L406.8,95.8 L406.1,98.8 L405.4,101.8 L404.7,104.8 L404.1,107.8 L403.4,110.8 L402.8,113.8 L402.1,116.8 L401.4,119.8 L400.8,122.8 L400.1,125.8 L399.5,128.8 L398.8,131.8 L398,134.8 L397.2,137.8 L396.8,140.8 L396.8,141" fill="none" stroke="#f89400" stroke-width="1.3" opacity="0.6"/>
<path d="M464.2,48.6 L460.8,40.8 L448.4,41.8 L443.2,42.8 L438.9,43.8 L435.5,44.8 L432.8,45.8 L431.8,46.8 L430.7,47.8 L429.7,48.8 L428.7,49.8 L427.9,50.8 L427.1,51.8 L426.3,52.8 L425.5,53.8 L424.9,54.8 L424.4,55.8 L423.9,56.8 L423.4,57.8 L422.8,58.8 L422.1,59.8 L421.4,60.8 L420.7,61.8 L420.4,62.8 L419.4,65.8 L418.5,68.8 L417.6,71.8 L416.6,74.8 L415.7,77.8 L414.8,80.8 L413.8,83.8 L412.9,86.8 L412,89.8 L411.2,92.8 L410.4,95.8 L409.7,98.8 L409,101.8 L408.3,104.8 L407.7,107.8 L407,110.8 L406.4,113.8 L405.7,116.8 L405,119.8 L404.4,122.8 L403.7,125.8 L403.1,128.8 L402.4,131.8 L401.6,134.8 L400.9,137.8 L400.4,140.8 L400.4,141" fill="none" stroke="#f89400" stroke-width="1.3" opacity="0.4"/>
<path d="M464.2,49.2 L464.4,40.8 L452,41.8 L446.8,42.8 L442.5,43.8 L439.1,44.8 L436.4,45.8 L435.4,46.8 L434.3,47.8 L433.3,48.8 L432.3,49.8 L431.5,50.8 L430.7,51.8 L429.9,52.8 L429.1,53.8 L428.5,54.8 L428,55.8 L427.5,56.8 L427,57.8 L426.4,58.8 L425.7,59.8 L425,60.8 L424.3,61.8 L424,62.8 L423,65.8 L422.1,68.8 L421.2,71.8 L420.2,74.8 L419.3,77.8 L418.4,80.8 L417.4,83.8 L416.5,86.8 L415.6,89.8 L414.8,92.8 L414,95.8 L413.3,98.8 L412.6,101.8 L411.9,104.8 L411.3,107.8 L410.6,110.8 L410,113.8 L409.3,116.8 L408.6,119.8 L408,122.8 L407.3,125.8 L406.7,128.8 L406,131.8 L405.2,134.8 L404.5,137.8 L404,140.8 L404,141" fill="none" stroke="#f89400" stroke-width="1.3" opacity="0.2"/>
<path d="M415,40.8 L402.6,41.8 L397.4,42.8 L393.1,43.8 L389.7,44.8 L387,45.8 L386,46.8 L384.9,47.8 L383.9,48.8 L382.9,49.8 L382.1,50.8 L381.3,51.8 L380.5,52.8 L379.7,53.8 L379.1,54.8 L378.6,55.8 L378.1,56.8 L377.6,57.8 L377,58.8 L376.3,59.8 L375.6,60.8 L374.9,61.8 L374.6,62.8 L373.6,65.8 L372.7,68.8 L371.8,71.8 L370.8,74.8 L369.9,77.8 L369,80.8 L368,83.8 L367.1,86.8 L366.2,89.8 L365.4,92.8 L364.6,95.8 L363.9,98.8 L363.2,101.8 L362.5,104.8 L361.9,107.8 L361.2,110.8 L360.6,113.8 L359.9,116.8 L359.2,119.8 L358.6,122.8 L357.9,125.8 L357.3,128.8 L356.6,131.8 L355.8,134.8 L355.1,137.8 L354.6,140.8 L354.6,141" fill="none" stroke="#34d8f4" stroke-width="1.8"/>
<path d="M416.3,40.8 L403.9,41.8 L398.7,42.8 L394.4,43.8 L391,44.8 L388.3,45.8 L387.3,46.8 L386.2,47.8 L385.2,48.8 L384.2,49.8 L383.4,50.8 L382.6,51.8 L381.8,52.8 L381,53.8 L380.4,54.8 L379.9,55.8 L379.4,56.8 L378.9,57.8 L378.3,58.8 L377.6,59.8 L376.9,60.8 L376.2,61.8 L375.9,62.8 L374.9,65.8 L374,68.8 L373.1,71.8 L372.1,74.8 L371.2,77.8 L370.3,80.8 L369.3,83.8 L368.4,86.8 L367.5,89.8 L366.7,92.8 L365.9,95.8 L365.2,98.8 L364.5,101.8 L363.8,104.8 L363.2,107.8 L362.5,110.8 L361.9,113.8 L361.2,116.8 L360.5,119.8 L359.9,122.8 L359.2,125.8 L358.6,128.8 L357.9,131.8 L357.1,134.8 L356.4,137.8 L355.9,140.8 L355.9,141" fill="none" stroke="#90f090" stroke-width="1.0" opacity="0.8"/>
</g>
<path d="M414.5,41 L414,41.1 L404.4,44.1 L400.2,47.1 L398,50.1 L397.2,53.1 L396.5,56.1 L396.6,59.1 L396.7,62.1 L397,65.1 L397.2,68.1 L397.4,71.1 L397.7,74.1 L397.8,77.1 L398,80.1 L398.1,83.1 L398.5,86.1 L399,89.1 L399.6,92.1 L400.3,95.1 L401.2,98.1 L402.4,101.1 L403,104.1 L403.7,107.1 L404.4,110.1 L404.9,113.1 L405.4,116.1 L405.9,119.1 L406.5,122.1 L407.2,125.1 L407.8,128.1 L408.5,131.1 L409.2,134.1 L410,137.1 L410.4,140.1 L410.5,141" fill="none" stroke="#40e0f0" stroke-width="1.2"/>
<path d="M415.7,41 L415.2,41.1 L405.6,44.1 L401.4,47.1 L399.2,50.1 L398.4,53.1 L397.7,56.1 L397.8,59.1 L397.9,62.1 L398.2,65.1 L398.4,68.1 L398.6,71.1 L398.9,74.1 L399,77.1 L399.2,80.1 L399.3,83.1 L399.7,86.1 L400.2,89.1 L400.8,92.1 L401.5,95.1 L402.4,98.1 L403.6,101.1 L404.2,104.1 L404.9,107.1 L405.6,110.1 L406.1,113.1 L406.6,116.1 L407.1,119.1 L407.7,122.1 L408.4,125.1 L409,128.1 L409.7,131.1 L410.4,134.1 L411.2,137.1 L411.6,140.1 L411.7,141" fill="none" stroke="#0a60f0" stroke-width="1.2"/>
<line x1="390.2" y1="1.4" x2="390.2" y2="138.5" stroke="#ffffff" stroke-width="1.3" stroke-dasharray="5.4,5.6"/>
</g>
<rect x="343.6" y="2.3" width="80.6" height="136.2" fill="none" stroke="#5a5a5a" stroke-width="0.7"/>
<line x1="349.9" y1="138.5" x2="349.9" y2="136.7" stroke="#404040" stroke-width="0.6"/>
<line x1="349.9" y1="2.3" x2="349.9" y2="4.1" stroke="#404040" stroke-width="0.6"/>
<line x1="363.3" y1="138.5" x2="363.3" y2="136.7" stroke="#404040" stroke-width="0.6"/>
<line x1="363.3" y1="2.3" x2="363.3" y2="4.1" stroke="#404040" stroke-width="0.6"/>
<text x="362.1" y="151.2" font-size="8.8" text-anchor="middle" fill="#262626" font-weight="normal" >-20</text>
<line x1="376.8" y1="138.5" x2="376.8" y2="136.7" stroke="#404040" stroke-width="0.6"/>
<line x1="376.8" y1="2.3" x2="376.8" y2="4.1" stroke="#404040" stroke-width="0.6"/>
<line x1="390.2" y1="138.5" x2="390.2" y2="136.7" stroke="#404040" stroke-width="0.6"/>
<line x1="390.2" y1="2.3" x2="390.2" y2="4.1" stroke="#404040" stroke-width="0.6"/>
<text x="390.2" y="151.2" font-size="8.8" text-anchor="middle" fill="#262626" font-weight="normal" >0</text>
<line x1="403.7" y1="138.5" x2="403.7" y2="136.7" stroke="#404040" stroke-width="0.6"/>
<line x1="403.7" y1="2.3" x2="403.7" y2="4.1" stroke="#404040" stroke-width="0.6"/>
<line x1="417.1" y1="138.5" x2="417.1" y2="136.7" stroke="#404040" stroke-width="0.6"/>
<line x1="417.1" y1="2.3" x2="417.1" y2="4.1" stroke="#404040" stroke-width="0.6"/>
<text x="417.1" y="151.2" font-size="8.8" text-anchor="middle" fill="#262626" font-weight="normal" >20</text>
<line x1="343.6" y1="41.9" x2="345.4" y2="41.9" stroke="#404040" stroke-width="0.6"/>
<line x1="424.2" y1="41.9" x2="422.4" y2="41.9" stroke="#404040" stroke-width="0.6"/>
<line x1="343.6" y1="81" x2="345.4" y2="81" stroke="#404040" stroke-width="0.6"/>
<line x1="424.2" y1="81" x2="422.4" y2="81" stroke="#404040" stroke-width="0.6"/>
<line x1="343.6" y1="120.1" x2="345.4" y2="120.1" stroke="#404040" stroke-width="0.6"/>
<line x1="424.2" y1="120.1" x2="422.4" y2="120.1" stroke="#404040" stroke-width="0.6"/>
<text x="382.1" y="164.8" font-size="10" text-anchor="middle" fill="#262626" font-weight="normal" textLength="53.4" lengthAdjust="spacingAndGlyphs">Fast time (<tspan font-family="Liberation Serif" font-style="italic">&#964;</tspan>)</text>
<text x="351.3" y="17.6" font-size="14" text-anchor="start" fill="#ffffff" font-weight="bold" >i</text>
<g clip-path="url(#clipD1)">
<rect x="430.6" y="2.3" width="80.6" height="136.2" fill="url(#dBg)"/>
<ellipse cx="479" cy="36.3" rx="34" ry="40" fill="url(#dGlow)"/>
<g clip-path="url(#dR1)">
<path d="M501,31.7 L500.4,31.8 L490,34.8 L485.1,37.8 L482.4,40.8 L480.9,43.8 L479.9,46.8 L479.3,49.8 L479,52.8 L478.6,55.8 L478.5,58.8 L478.3,61.8 L478.2,64.8 L478.4,67.8 L478.5,70.8 L478.7,73.8 L478.9,76.8 L479.1,79.8 L479.3,82.8 L479.6,85.8 L480,88.8 L480.5,91.8 L481.1,94.8 L481.8,97.8 L482.5,100.8 L483.4,103.8 L484.2,106.8 L485,109.8 L486,112.8 L486.9,115.8 L487.9,118.8 L489,121.8 L490.1,124.8 L491.3,127.8 L492.5,130.8 L493.7,133.8 L494.8,136.8 L495.4,139.8 L495.5,141 L513.2,141 L513.2,31.1Z" fill="#010c52"/>
<path d="M551.2,31.9 L508,31.6 L498.8,32.6 L491.5,33.6 L486.6,34.6 L483.1,35.6 L480.3,36.6 L478.7,37.6 L477,38.6 L476,39.6 L474.9,40.6 L474,41.6 L473.7,42.6 L473.4,43.6 L473.1,44.6 L472.8,45.6 L472.5,46.6 L472.2,47.6 L471.8,48.6 L471.2,49.6 L470.6,50.6 L470,51.6 L469.4,52.6 L468.8,53.6 L467.4,56.6 L466,59.6 L464.8,62.6 L463.7,65.6 L462.6,68.6 L461.8,71.6 L461,74.6 L460.2,77.6 L459.4,80.6 L458.6,83.6 L457.9,86.6 L457.1,89.6 L456.4,92.6 L455.8,95.6 L455.1,98.6 L454.4,101.6 L453.7,104.6 L453,107.6 L452.3,110.6 L451.5,113.6 L450.8,116.6 L450.1,119.6 L449.5,122.6 L448.8,125.6 L448.2,128.6 L447.5,131.6 L446.8,134.6 L446.1,137.6 L445.8,140.6 L445.8,141" fill="none" stroke="#1478f0" stroke-width="1.6" opacity="1"/>
<path d="M551.2,31.9 L511.4,31.6 L502.2,32.6 L494.9,33.6 L490,34.6 L486.5,35.6 L483.7,36.6 L482.1,37.6 L480.4,38.6 L479.4,39.6 L478.3,40.6 L477.4,41.6 L477.1,42.6 L476.8,43.6 L476.5,44.6 L476.2,45.6 L475.9,46.6 L475.6,47.6 L475.1,48.6 L474.6,49.6 L474,50.6 L473.4,51.6 L472.8,52.6 L472.2,53.6 L470.8,56.6 L469.4,59.6 L468.2,62.6 L467.1,65.6 L466,68.6 L465.2,71.6 L464.4,74.6 L463.6,77.6 L462.8,80.6 L462,83.6 L461.2,86.6 L460.5,89.6 L459.8,92.6 L459.2,95.6 L458.5,98.6 L457.8,101.6 L457.1,104.6 L456.4,107.6 L455.7,110.6 L454.9,113.6 L454.2,116.6 L453.5,119.6 L452.9,122.6 L452.2,125.6 L451.6,128.6 L450.9,131.6 L450.2,134.6 L449.5,137.6 L449.2,140.6 L449.2,141" fill="none" stroke="#1478f0" stroke-width="1.6" opacity="0.9"/>
<path d="M551.2,31.9 L514.8,31.6 L505.6,32.6 L498.3,33.6 L493.4,34.6 L489.9,35.6 L487.1,36.6 L485.5,37.6 L483.8,38.6 L482.8,39.6 L481.7,40.6 L480.8,41.6 L480.5,42.6 L480.2,43.6 L479.9,44.6 L479.6,45.6 L479.3,46.6 L479,47.6 L478.6,48.6 L478,49.6 L477.4,50.6 L476.8,51.6 L476.2,52.6 L475.6,53.6 L474.2,56.6 L472.8,59.6 L471.6,62.6 L470.5,65.6 L469.4,68.6 L468.6,71.6 L467.8,74.6 L467,77.6 L466.2,80.6 L465.4,83.6 L464.7,86.6 L463.9,89.6 L463.2,92.6 L462.6,95.6 L461.9,98.6 L461.2,101.6 L460.5,104.6 L459.8,107.6 L459.1,110.6 L458.3,113.6 L457.6,116.6 L456.9,119.6 L456.3,122.6 L455.6,125.6 L455,128.6 L454.3,131.6 L453.6,134.6 L452.9,137.6 L452.6,140.6 L452.6,141" fill="none" stroke="#1478f0" stroke-width="1.6" opacity="0.8"/>
<path d="M551.2,31.9 L518.2,31.6 L509,32.6 L501.7,33.6 L496.8,34.6 L493.3,35.6 L490.5,36.6 L488.9,37.6 L487.2,38.6 L486.2,39.6 L485.1,40.6 L484.2,41.6 L483.9,42.6 L483.6,43.6 L483.3,44.6 L483,45.6 L482.7,46.6 L482.4,47.6 L481.9,48.6 L481.4,49.6 L480.8,50.6 L480.2,51.6 L479.6,52.6 L479,53.6 L477.6,56.6 L476.2,59.6 L475,62.6 L473.9,65.6 L472.8,68.6 L472,71.6 L471.2,74.6 L470.4,77.6 L469.6,80.6 L468.8,83.6 L468.1,86.6 L467.3,89.6 L466.6,92.6 L466,95.6 L465.3,98.6 L464.6,101.6 L463.9,104.6 L463.2,107.6 L462.5,110.6 L461.7,113.6 L461,116.6 L460.3,119.6 L459.7,122.6 L459,125.6 L458.4,128.6 L457.7,131.6 L457,134.6 L456.3,137.6 L456,140.6 L456,141" fill="none" stroke="#1478f0" stroke-width="1.6" opacity="0.7"/>
<path d="M551.2,31.9 L521.6,31.6 L512.4,32.6 L505.1,33.6 L500.2,34.6 L496.7,35.6 L493.9,36.6 L492.3,37.6 L490.6,38.6 L489.6,39.6 L488.5,40.6 L487.6,41.6 L487.3,42.6 L487,43.6 L486.7,44.6 L486.4,45.6 L486.1,46.6 L485.8,47.6 L485.4,48.6 L484.8,49.6 L484.2,50.6 L483.6,51.6 L483,52.6 L482.4,53.6 L481,56.6 L479.6,59.6 L478.4,62.6 L477.3,65.6 L476.2,68.6 L475.4,71.6 L474.6,74.6 L473.8,77.6 L473,80.6 L472.2,83.6 L471.5,86.6 L470.7,89.6 L470,92.6 L469.4,95.6 L468.7,98.6 L468,101.6 L467.3,104.6 L466.6,107.6 L465.9,110.6 L465.1,113.6 L464.4,116.6 L463.7,119.6 L463.1,122.6 L462.4,125.6 L461.8,128.6 L461.1,131.6 L460.4,134.6 L459.7,137.6 L459.4,140.6 L459.4,141" fill="none" stroke="#1478f0" stroke-width="1.6" opacity="0.6"/>
<path d="M551.2,31.9 L525,31.6 L515.8,32.6 L508.5,33.6 L503.6,34.6 L500.1,35.6 L497.3,36.6 L495.7,37.6 L494,38.6 L493,39.6 L491.9,40.6 L491,41.6 L490.7,42.6 L490.4,43.6 L490.1,44.6 L489.8,45.6 L489.5,46.6 L489.2,47.6 L488.8,48.6 L488.2,49.6 L487.6,50.6 L487,51.6 L486.4,52.6 L485.8,53.6 L484.4,56.6 L483,59.6 L481.8,62.6 L480.7,65.6 L479.6,68.6 L478.8,71.6 L478,74.6 L477.2,77.6 L476.4,80.6 L475.6,83.6 L474.9,86.6 L474.1,89.6 L473.4,92.6 L472.8,95.6 L472.1,98.6 L471.4,101.6 L470.7,104.6 L470,107.6 L469.3,110.6 L468.5,113.6 L467.8,116.6 L467.1,119.6 L466.5,122.6 L465.8,125.6 L465.2,128.6 L464.5,131.6 L463.8,134.6 L463.1,137.6 L462.8,140.6 L462.8,141" fill="none" stroke="#1478f0" stroke-width="1.6" opacity="0.6"/>
<path d="M551.2,31.9 L528.4,31.6 L519.2,32.6 L511.9,33.6 L507,34.6 L503.5,35.6 L500.7,36.6 L499.1,37.6 L497.4,38.6 L496.4,39.6 L495.3,40.6 L494.4,41.6 L494.1,42.6 L493.8,43.6 L493.5,44.6 L493.2,45.6 L492.9,46.6 L492.6,47.6 L492.1,48.6 L491.6,49.6 L491,50.6 L490.4,51.6 L489.8,52.6 L489.2,53.6 L487.8,56.6 L486.4,59.6 L485.2,62.6 L484.1,65.6 L483,68.6 L482.2,71.6 L481.4,74.6 L480.6,77.6 L479.8,80.6 L479,83.6 L478.2,86.6 L477.5,89.6 L476.8,92.6 L476.2,95.6 L475.5,98.6 L474.8,101.6 L474.1,104.6 L473.4,107.6 L472.7,110.6 L471.9,113.6 L471.2,116.6 L470.5,119.6 L469.9,122.6 L469.2,125.6 L468.6,128.6 L467.9,131.6 L467.2,134.6 L466.5,137.6 L466.2,140.6 L466.2,141" fill="none" stroke="#1478f0" stroke-width="1.6" opacity="0.5"/>
<path d="M551.2,31.9 L531.8,31.6 L522.6,32.6 L515.3,33.6 L510.4,34.6 L506.9,35.6 L504.1,36.6 L502.5,37.6 L500.8,38.6 L499.8,39.6 L498.7,40.6 L497.8,41.6 L497.5,42.6 L497.2,43.6 L496.9,44.6 L496.6,45.6 L496.3,46.6 L496,47.6 L495.6,48.6 L495,49.6 L494.4,50.6 L493.8,51.6 L493.2,52.6 L492.6,53.6 L491.2,56.6 L489.8,59.6 L488.6,62.6 L487.5,65.6 L486.4,68.6 L485.6,71.6 L484.8,74.6 L484,77.6 L483.2,80.6 L482.4,83.6 L481.7,86.6 L480.9,89.6 L480.2,92.6 L479.6,95.6 L478.9,98.6 L478.2,101.6 L477.5,104.6 L476.8,107.6 L476.1,110.6 L475.3,113.6 L474.6,116.6 L473.9,119.6 L473.3,122.6 L472.6,125.6 L472,128.6 L471.3,131.6 L470.6,134.6 L469.9,137.6 L469.6,140.6 L469.6,141" fill="none" stroke="#1478f0" stroke-width="1.6" opacity="0.4"/>
<path d="M551.2,31.9 L535.2,31.6 L526,32.6 L518.7,33.6 L513.8,34.6 L510.3,35.6 L507.5,36.6 L505.9,37.6 L504.2,38.6 L503.2,39.6 L502.1,40.6 L501.2,41.6 L500.9,42.6 L500.6,43.6 L500.3,44.6 L500,45.6 L499.7,46.6 L499.4,47.6 L498.9,48.6 L498.4,49.6 L497.8,50.6 L497.2,51.6 L496.6,52.6 L496,53.6 L494.6,56.6 L493.2,59.6 L492,62.6 L490.9,65.6 L489.8,68.6 L489,71.6 L488.2,74.6 L487.4,77.6 L486.6,80.6 L485.8,83.6 L485.1,86.6 L484.3,89.6 L483.6,92.6 L483,95.6 L482.3,98.6 L481.6,101.6 L480.9,104.6 L480.2,107.6 L479.5,110.6 L478.7,113.6 L478,116.6 L477.3,119.6 L476.7,122.6 L476,125.6 L475.4,128.6 L474.7,131.6 L474,134.6 L473.3,137.6 L473,140.6 L473,141" fill="none" stroke="#1478f0" stroke-width="1.6" opacity="0.3"/>
<path d="M551.2,31.9 L538.6,31.6 L529.4,32.6 L522.1,33.6 L517.2,34.6 L513.7,35.6 L510.9,36.6 L509.3,37.6 L507.6,38.6 L506.6,39.6 L505.5,40.6 L504.6,41.6 L504.3,42.6 L504,43.6 L503.7,44.6 L503.4,45.6 L503.1,46.6 L502.8,47.6 L502.4,48.6 L501.8,49.6 L501.2,50.6 L500.6,51.6 L500,52.6 L499.4,53.6 L498,56.6 L496.6,59.6 L495.4,62.6 L494.3,65.6 L493.2,68.6 L492.4,71.6 L491.6,74.6 L490.8,77.6 L490,80.6 L489.2,83.6 L488.5,86.6 L487.7,89.6 L487,92.6 L486.4,95.6 L485.7,98.6 L485,101.6 L484.3,104.6 L483.6,107.6 L482.9,110.6 L482.1,113.6 L481.4,116.6 L480.7,119.6 L480.1,122.6 L479.4,125.6 L478.8,128.6 L478.1,131.6 L477.4,134.6 L476.7,137.6 L476.4,140.6 L476.4,141" fill="none" stroke="#1478f0" stroke-width="1.6" opacity="0.2"/>
<path d="M551.2,31.9 L542,31.6 L532.8,32.6 L525.5,33.6 L520.6,34.6 L517.1,35.6 L514.3,36.6 L512.7,37.6 L511,38.6 L510,39.6 L508.9,40.6 L508,41.6 L507.7,42.6 L507.4,43.6 L507.1,44.6 L506.8,45.6 L506.5,46.6 L506.2,47.6 L505.8,48.6 L505.2,49.6 L504.6,50.6 L504,51.6 L503.4,52.6 L502.8,53.6 L501.4,56.6 L500,59.6 L498.8,62.6 L497.7,65.6 L496.6,68.6 L495.8,71.6 L495,74.6 L494.2,77.6 L493.4,80.6 L492.6,83.6 L491.9,86.6 L491.1,89.6 L490.4,92.6 L489.8,95.6 L489.1,98.6 L488.4,101.6 L487.7,104.6 L487,107.6 L486.3,110.6 L485.5,113.6 L484.8,116.6 L484.1,119.6 L483.5,122.6 L482.8,125.6 L482.2,128.6 L481.5,131.6 L480.8,134.6 L480.1,137.6 L479.8,140.6 L479.8,141" fill="none" stroke="#1478f0" stroke-width="1.6" opacity="0.1"/>
<path d="M551.2,31.9 L545.4,31.6 L536.2,32.6 L528.9,33.6 L524,34.6 L520.5,35.6 L517.7,36.6 L516.1,37.6 L514.4,38.6 L513.4,39.6 L512.3,40.6 L511.4,41.6 L511.1,42.6 L510.8,43.6 L510.5,44.6 L510.2,45.6 L509.9,46.6 L509.6,47.6 L509.1,48.6 L508.6,49.6 L508,50.6 L507.4,51.6 L506.8,52.6 L506.2,53.6 L504.8,56.6 L503.4,59.6 L502.2,62.6 L501.1,65.6 L500,68.6 L499.2,71.6 L498.4,74.6 L497.6,77.6 L496.8,80.6 L496,83.6 L495.2,86.6 L494.5,89.6 L493.8,92.6 L493.2,95.6 L492.5,98.6 L491.8,101.6 L491.1,104.6 L490.4,107.6 L489.7,110.6 L488.9,113.6 L488.2,116.6 L487.5,119.6 L486.9,122.6 L486.2,125.6 L485.6,128.6 L484.9,131.6 L484.2,134.6 L483.5,137.6 L483.2,140.6 L483.2,141" fill="none" stroke="#1478f0" stroke-width="1.6" opacity="0.1"/>
<path d="M551.2,31.9 L548.8,31.6 L539.6,32.6 L532.3,33.6 L527.4,34.6 L523.9,35.6 L521.1,36.6 L519.5,37.6 L517.8,38.6 L516.8,39.6 L515.7,40.6 L514.8,41.6 L514.5,42.6 L514.2,43.6 L513.9,44.6 L513.6,45.6 L513.3,46.6 L513,47.6 L512.5,48.6 L512,49.6 L511.4,50.6 L510.8,51.6 L510.2,52.6 L509.6,53.6 L508.2,56.6 L506.8,59.6 L505.6,62.6 L504.5,65.6 L503.4,68.6 L502.6,71.6 L501.8,74.6 L501,77.6 L500.2,80.6 L499.4,83.6 L498.7,86.6 L497.9,89.6 L497.2,92.6 L496.6,95.6 L495.9,98.6 L495.2,101.6 L494.5,104.6 L493.8,107.6 L493.1,110.6 L492.3,113.6 L491.6,116.6 L490.9,119.6 L490.3,122.6 L489.6,125.6 L489,128.6 L488.3,131.6 L487.6,134.6 L486.9,137.6 L486.6,140.6 L486.6,141" fill="none" stroke="#1478f0" stroke-width="1.6" opacity="0.1"/>
<path d="M551.2,31.9 L552.2,31.6 L543,32.6 L535.7,33.6 L530.8,34.6 L527.3,35.6 L524.5,36.6 L522.9,37.6 L521.2,38.6 L520.2,39.6 L519.1,40.6 L518.2,41.6 L517.9,42.6 L517.6,43.6 L517.3,44.6 L517,45.6 L516.7,46.6 L516.4,47.6 L516,48.6 L515.4,49.6 L514.8,50.6 L514.2,51.6 L513.6,52.6 L513,53.6 L511.6,56.6 L510.2,59.6 L509,62.6 L507.9,65.6 L506.8,68.6 L506,71.6 L505.2,74.6 L504.4,77.6 L503.6,80.6 L502.8,83.6 L502.1,86.6 L501.3,89.6 L500.6,92.6 L500,95.6 L499.3,98.6 L498.6,101.6 L497.9,104.6 L497.2,107.6 L496.5,110.6 L495.7,113.6 L495,116.6 L494.3,119.6 L493.7,122.6 L493,125.6 L492.4,128.6 L491.7,131.6 L491,134.6 L490.3,137.6 L490,140.6 L490,141" fill="none" stroke="#1478f0" stroke-width="1.6" opacity="0.1"/>
<path d="M551.2,31.9 L555.6,31.6 L546.4,32.6 L539.1,33.6 L534.2,34.6 L530.7,35.6 L527.9,36.6 L526.3,37.6 L524.6,38.6 L523.6,39.6 L522.5,40.6 L521.6,41.6 L521.3,42.6 L521,43.6 L520.7,44.6 L520.4,45.6 L520.1,46.6 L519.8,47.6 L519.4,48.6 L518.8,49.6 L518.2,50.6 L517.6,51.6 L517,52.6 L516.4,53.6 L515,56.6 L513.6,59.6 L512.4,62.6 L511.3,65.6 L510.2,68.6 L509.4,71.6 L508.6,74.6 L507.8,77.6 L507,80.6 L506.2,83.6 L505.5,86.6 L504.7,89.6 L504,92.6 L503.4,95.6 L502.7,98.6 L502,101.6 L501.3,104.6 L500.6,107.6 L499.9,110.6 L499.1,113.6 L498.4,116.6 L497.7,119.6 L497.1,122.6 L496.4,125.6 L495.8,128.6 L495.1,131.6 L494.4,134.6 L493.7,137.6 L493.4,140.6 L493.4,141" fill="none" stroke="#1478f0" stroke-width="1.6" opacity="0.1"/>
<path d="M551.2,31.9 L559,31.6 L549.8,32.6 L542.5,33.6 L537.6,34.6 L534.1,35.6 L531.3,36.6 L529.7,37.6 L528,38.6 L527,39.6 L525.9,40.6 L525,41.6 L524.7,42.6 L524.4,43.6 L524.1,44.6 L523.8,45.6 L523.5,46.6 L523.2,47.6 L522.8,48.6 L522.2,49.6 L521.6,50.6 L521,51.6 L520.4,52.6 L519.8,53.6 L518.4,56.6 L517,59.6 L515.8,62.6 L514.7,65.6 L513.6,68.6 L512.8,71.6 L512,74.6 L511.2,77.6 L510.4,80.6 L509.6,83.6 L508.9,86.6 L508.1,89.6 L507.4,92.6 L506.8,95.6 L506.1,98.6 L505.4,101.6 L504.7,104.6 L504,107.6 L503.3,110.6 L502.5,113.6 L501.8,116.6 L501.1,119.6 L500.5,122.6 L499.8,125.6 L499.2,128.6 L498.5,131.6 L497.8,134.6 L497.1,137.6 L496.8,140.6 L496.8,141" fill="none" stroke="#1478f0" stroke-width="1.6" opacity="0.1"/>
<path d="M551.2,31.9 L562.4,31.6 L553.2,32.6 L545.9,33.6 L541,34.6 L537.5,35.6 L534.7,36.6 L533.1,37.6 L531.4,38.6 L530.4,39.6 L529.3,40.6 L528.4,41.6 L528.1,42.6 L527.8,43.6 L527.5,44.6 L527.2,45.6 L526.9,46.6 L526.6,47.6 L526.1,48.6 L525.6,49.6 L525,50.6 L524.4,51.6 L523.8,52.6 L523.2,53.6 L521.8,56.6 L520.4,59.6 L519.2,62.6 L518.1,65.6 L517,68.6 L516.2,71.6 L515.4,74.6 L514.6,77.6 L513.8,80.6 L513,83.6 L512.2,86.6 L511.5,89.6 L510.8,92.6 L510.2,95.6 L509.5,98.6 L508.8,101.6 L508.1,104.6 L507.4,107.6 L506.7,110.6 L505.9,113.6 L505.2,116.6 L504.5,119.6 L503.9,122.6 L503.2,125.6 L502.6,128.6 L501.9,131.6 L501.2,134.6 L500.5,137.6 L500.2,140.6 L500.2,141" fill="none" stroke="#1478f0" stroke-width="1.6" opacity="0.1"/>
<path d="M551.2,31.9 L565.8,31.6 L556.6,32.6 L549.3,33.6 L544.4,34.6 L540.9,35.6 L538.1,36.6 L536.5,37.6 L534.8,38.6 L533.8,39.6 L532.7,40.6 L531.8,41.6 L531.5,42.6 L531.2,43.6 L530.9,44.6 L530.6,45.6 L530.3,46.6 L530,47.6 L529.5,48.6 L529,49.6 L528.4,50.6 L527.8,51.6 L527.2,52.6 L526.6,53.6 L525.2,56.6 L523.8,59.6 L522.6,62.6 L521.5,65.6 L520.4,68.6 L519.6,71.6 L518.8,74.6 L518,77.6 L517.1,80.6 L516.4,83.6 L515.6,86.6 L514.9,89.6 L514.2,92.6 L513.6,95.6 L512.9,98.6 L512.2,101.6 L511.5,104.6 L510.8,107.6 L510.1,110.6 L509.3,113.6 L508.6,116.6 L507.9,119.6 L507.3,122.6 L506.6,125.6 L506,128.6 L505.3,131.6 L504.6,134.6 L503.9,137.6 L503.6,140.6 L503.6,141" fill="none" stroke="#1478f0" stroke-width="1.6" opacity="0.1"/>
<path d="M551.2,31.9 L569.2,31.6 L560,32.6 L552.7,33.6 L547.8,34.6 L544.3,35.6 L541.5,36.6 L539.9,37.6 L538.2,38.6 L537.2,39.6 L536.1,40.6 L535.2,41.6 L534.9,42.6 L534.6,43.6 L534.3,44.6 L534,45.6 L533.7,46.6 L533.4,47.6 L533,48.6 L532.4,49.6 L531.8,50.6 L531.2,51.6 L530.6,52.6 L530,53.6 L528.6,56.6 L527.2,59.6 L526,62.6 L524.9,65.6 L523.8,68.6 L523,71.6 L522.2,74.6 L521.4,77.6 L520.5,80.6 L519.8,83.6 L519,86.6 L518.3,89.6 L517.6,92.6 L517,95.6 L516.3,98.6 L515.6,101.6 L514.9,104.6 L514.2,107.6 L513.5,110.6 L512.7,113.6 L512,116.6 L511.3,119.6 L510.7,122.6 L510,125.6 L509.4,128.6 L508.7,131.6 L508,134.6 L507.3,137.6 L507,140.6 L507,141" fill="none" stroke="#1478f0" stroke-width="1.6" opacity="0.1"/>
<path d="M551.2,31.9 L572.6,31.6 L563.4,32.6 L556.1,33.6 L551.2,34.6 L547.7,35.6 L544.9,36.6 L543.3,37.6 L541.6,38.6 L540.6,39.6 L539.5,40.6 L538.6,41.6 L538.3,42.6 L538,43.6 L537.7,44.6 L537.4,45.6 L537.1,46.6 L536.8,47.6 L536.4,48.6 L535.8,49.6 L535.2,50.6 L534.6,51.6 L534,52.6 L533.4,53.6 L532,56.6 L530.6,59.6 L529.4,62.6 L528.3,65.6 L527.2,68.6 L526.4,71.6 L525.6,74.6 L524.8,77.6 L524,80.6 L523.2,83.6 L522.5,86.6 L521.7,89.6 L521,92.6 L520.4,95.6 L519.7,98.6 L519,101.6 L518.3,104.6 L517.6,107.6 L516.9,110.6 L516.1,113.6 L515.4,116.6 L514.7,119.6 L514.1,122.6 L513.4,125.6 L512.8,128.6 L512.1,131.6 L511.4,134.6 L510.7,137.6 L510.4,140.6 L510.4,141" fill="none" stroke="#1478f0" stroke-width="1.6" opacity="0.1"/>
<path d="M551.2,31.9 L576,31.6 L566.8,32.6 L559.5,33.6 L554.6,34.6 L551.1,35.6 L548.3,36.6 L546.7,37.6 L545,38.6 L544,39.6 L542.9,40.6 L542,41.6 L541.7,42.6 L541.4,43.6 L541.1,44.6 L540.8,45.6 L540.5,46.6 L540.2,47.6 L539.8,48.6 L539.2,49.6 L538.6,50.6 L538,51.6 L537.4,52.6 L536.8,53.6 L535.4,56.6 L534,59.6 L532.8,62.6 L531.7,65.6 L530.6,68.6 L529.8,71.6 L529,74.6 L528.2,77.6 L527.4,80.6 L526.6,83.6 L525.9,86.6 L525.1,89.6 L524.4,92.6 L523.8,95.6 L523.1,98.6 L522.4,101.6 L521.7,104.6 L521,107.6 L520.3,110.6 L519.5,113.6 L518.8,116.6 L518.1,119.6 L517.5,122.6 L516.8,125.6 L516.2,128.6 L515.5,131.6 L514.8,134.6 L514.1,137.6 L513.8,140.6 L513.8,141" fill="none" stroke="#1478f0" stroke-width="1.6" opacity="0.1"/>
<path d="M551.2,31.9 L579.4,31.6 L570.2,32.6 L562.9,33.6 L558,34.6 L554.5,35.6 L551.7,36.6 L550.1,37.6 L548.4,38.6 L547.4,39.6 L546.3,40.6 L545.4,41.6 L545.1,42.6 L544.8,43.6 L544.5,44.6 L544.2,45.6 L543.9,46.6 L543.6,47.6 L543.1,48.6 L542.6,49.6 L542,50.6 L541.4,51.6 L540.8,52.6 L540.2,53.6 L538.8,56.6 L537.4,59.6 L536.2,62.6 L535.1,65.6 L534,68.6 L533.2,71.6 L532.4,74.6 L531.6,77.6 L530.8,80.6 L530,83.6 L529.2,86.6 L528.5,89.6 L527.8,92.6 L527.2,95.6 L526.5,98.6 L525.8,101.6 L525.1,104.6 L524.4,107.6 L523.7,110.6 L522.9,113.6 L522.2,116.6 L521.5,119.6 L520.9,122.6 L520.2,125.6 L519.6,128.6 L518.9,131.6 L518.2,134.6 L517.5,137.6 L517.2,140.6 L517.2,141" fill="none" stroke="#1478f0" stroke-width="1.6" opacity="0.1"/>
<path d="M551.2,31.9 L582.8,31.6 L573.6,32.6 L566.3,33.6 L561.4,34.6 L557.9,35.6 L555.1,36.6 L553.5,37.6 L551.8,38.6 L550.8,39.6 L549.7,40.6 L548.8,41.6 L548.5,42.6 L548.2,43.6 L547.9,44.6 L547.6,45.6 L547.3,46.6 L547,47.6 L546.5,48.6 L546,49.6 L545.4,50.6 L544.8,51.6 L544.2,52.6 L543.6,53.6 L542.2,56.6 L540.8,59.6 L539.6,62.6 L538.5,65.6 L537.4,68.6 L536.6,71.6 L535.8,74.6 L535,77.6 L534.1,80.6 L533.4,83.6 L532.6,86.6 L531.9,89.6 L531.2,92.6 L530.6,95.6 L529.9,98.6 L529.2,101.6 L528.5,104.6 L527.8,107.6 L527.1,110.6 L526.3,113.6 L525.6,116.6 L524.9,119.6 L524.3,122.6 L523.6,125.6 L523,128.6 L522.3,131.6 L521.6,134.6 L520.9,137.6 L520.6,140.6 L520.6,141" fill="none" stroke="#1478f0" stroke-width="1.6" opacity="0.1"/>
<path d="M551.2,31.9 L586.2,31.6 L577,32.6 L569.7,33.6 L564.8,34.6 L561.3,35.6 L558.5,36.6 L556.9,37.6 L555.2,38.6 L554.2,39.6 L553.1,40.6 L552.2,41.6 L551.9,42.6 L551.6,43.6 L551.3,44.6 L551,45.6 L550.7,46.6 L550.4,47.6 L550,48.6 L549.4,49.6 L548.8,50.6 L548.2,51.6 L547.6,52.6 L547,53.6 L545.6,56.6 L544.2,59.6 L543,62.6 L541.9,65.6 L540.8,68.6 L540,71.6 L539.2,74.6 L538.4,77.6 L537.6,80.6 L536.8,83.6 L536.1,86.6 L535.3,89.6 L534.6,92.6 L534,95.6 L533.3,98.6 L532.6,101.6 L531.9,104.6 L531.2,107.6 L530.5,110.6 L529.7,113.6 L529,116.6 L528.3,119.6 L527.7,122.6 L527,125.6 L526.4,128.6 L525.7,131.6 L525,134.6 L524.3,137.6 L524,140.6 L524,141" fill="none" stroke="#1478f0" stroke-width="1.6" opacity="0.1"/>
<path d="M551.2,31.9 L589.6,31.6 L580.4,32.6 L573.1,33.6 L568.2,34.6 L564.7,35.6 L561.9,36.6 L560.3,37.6 L558.6,38.6 L557.6,39.6 L556.5,40.6 L555.6,41.6 L555.3,42.6 L555,43.6 L554.7,44.6 L554.4,45.6 L554.1,46.6 L553.8,47.6 L553.4,48.6 L552.8,49.6 L552.2,50.6 L551.6,51.6 L551,52.6 L550.4,53.6 L549,56.6 L547.6,59.6 L546.4,62.6 L545.3,65.6 L544.2,68.6 L543.4,71.6 L542.6,74.6 L541.8,77.6 L541,80.6 L540.2,83.6 L539.5,86.6 L538.7,89.6 L538,92.6 L537.4,95.6 L536.7,98.6 L536,101.6 L535.3,104.6 L534.6,107.6 L533.9,110.6 L533.1,113.6 L532.4,116.6 L531.7,119.6 L531.1,122.6 L530.4,125.6 L529.8,128.6 L529.1,131.6 L528.4,134.6 L527.7,137.6 L527.4,140.6 L527.4,141" fill="none" stroke="#1478f0" stroke-width="1.6" opacity="0.1"/>
<path d="M551.2,31.9 L593,31.6 L583.8,32.6 L576.5,33.6 L571.6,34.6 L568.1,35.6 L565.3,36.6 L563.7,37.6 L562,38.6 L561,39.6 L559.9,40.6 L559,41.6 L558.7,42.6 L558.4,43.6 L558.1,44.6 L557.8,45.6 L557.5,46.6 L557.2,47.6 L556.8,48.6 L556.2,49.6 L555.6,50.6 L555,51.6 L554.4,52.6 L553.8,53.6 L552.4,56.6 L551,59.6 L549.8,62.6 L548.7,65.6 L547.6,68.6 L546.8,71.6 L546,74.6 L545.2,77.6 L544.4,80.6 L543.6,83.6 L542.9,86.6 L542.1,89.6 L541.4,92.6 L540.8,95.6 L540.1,98.6 L539.4,101.6 L538.7,104.6 L538,107.6 L537.3,110.6 L536.5,113.6 L535.8,116.6 L535.1,119.6 L534.5,122.6 L533.8,125.6 L533.2,128.6 L532.5,131.6 L531.8,134.6 L531.1,137.6 L530.8,140.6 L530.8,141" fill="none" stroke="#1478f0" stroke-width="1.6" opacity="0.1"/>
<path d="M551.2,31.9 L596.4,31.6 L587.2,32.6 L579.9,33.6 L575,34.6 L571.5,35.6 L568.7,36.6 L567.1,37.6 L565.4,38.6 L564.4,39.6 L563.3,40.6 L562.4,41.6 L562.1,42.6 L561.8,43.6 L561.5,44.6 L561.2,45.6 L560.9,46.6 L560.6,47.6 L560.1,48.6 L559.6,49.6 L559,50.6 L558.4,51.6 L557.8,52.6 L557.2,53.6 L555.8,56.6 L554.4,59.6 L553.2,62.6 L552.1,65.6 L551,68.6 L550.2,71.6 L549.4,74.6 L548.6,77.6 L547.8,80.6 L547,83.6 L546.2,86.6 L545.5,89.6 L544.8,92.6 L544.2,95.6 L543.5,98.6 L542.8,101.6 L542.1,104.6 L541.4,107.6 L540.7,110.6 L539.9,113.6 L539.2,116.6 L538.5,119.6 L537.9,122.6 L537.2,125.6 L536.6,128.6 L535.9,131.6 L535.2,134.6 L534.5,137.6 L534.2,140.6 L534.2,141" fill="none" stroke="#1478f0" stroke-width="1.6" opacity="0.1"/>
<path d="M551.2,31.9 L599.8,31.6 L590.6,32.6 L583.3,33.6 L578.4,34.6 L574.9,35.6 L572.1,36.6 L570.5,37.6 L568.8,38.6 L567.8,39.6 L566.7,40.6 L565.8,41.6 L565.5,42.6 L565.2,43.6 L564.9,44.6 L564.6,45.6 L564.3,46.6 L564,47.6 L563.5,48.6 L563,49.6 L562.4,50.6 L561.8,51.6 L561.2,52.6 L560.6,53.6 L559.2,56.6 L557.8,59.6 L556.6,62.6 L555.5,65.6 L554.4,68.6 L553.6,71.6 L552.8,74.6 L552,77.6 L551.1,80.6 L550.4,83.6 L549.6,86.6 L548.9,89.6 L548.2,92.6 L547.6,95.6 L546.9,98.6 L546.2,101.6 L545.5,104.6 L544.8,107.6 L544.1,110.6 L543.3,113.6 L542.6,116.6 L541.9,119.6 L541.3,122.6 L540.6,125.6 L540,128.6 L539.3,131.6 L538.6,134.6 L537.9,137.6 L537.6,140.6 L537.6,141" fill="none" stroke="#1478f0" stroke-width="1.6" opacity="0.1"/>
<path d="M551.2,31.9 L603.2,31.6 L594,32.6 L586.7,33.6 L581.8,34.6 L578.3,35.6 L575.5,36.6 L573.9,37.6 L572.2,38.6 L571.2,39.6 L570.1,40.6 L569.2,41.6 L568.9,42.6 L568.6,43.6 L568.3,44.6 L568,45.6 L567.7,46.6 L567.4,47.6 L567,48.6 L566.4,49.6 L565.8,50.6 L565.2,51.6 L564.6,52.6 L564,53.6 L562.6,56.6 L561.2,59.6 L560,62.6 L558.9,65.6 L557.8,68.6 L557,71.6 L556.2,74.6 L555.4,77.6 L554.6,80.6 L553.8,83.6 L553.1,86.6 L552.3,89.6 L551.6,92.6 L551,95.6 L550.3,98.6 L549.6,101.6 L548.9,104.6 L548.2,107.6 L547.5,110.6 L546.7,113.6 L546,116.6 L545.3,119.6 L544.7,122.6 L544,125.6 L543.4,128.6 L542.7,131.6 L542,134.6 L541.3,137.6 L541,140.6 L541,141" fill="none" stroke="#1478f0" stroke-width="1.6" opacity="0.1"/>
<path d="M551.2,31.9 L606.6,31.6 L597.4,32.6 L590.1,33.6 L585.2,34.6 L581.7,35.6 L578.9,36.6 L577.3,37.6 L575.6,38.6 L574.6,39.6 L573.5,40.6 L572.6,41.6 L572.3,42.6 L572,43.6 L571.7,44.6 L571.4,45.6 L571.1,46.6 L570.8,47.6 L570.4,48.6 L569.8,49.6 L569.2,50.6 L568.6,51.6 L568,52.6 L567.4,53.6 L566,56.6 L564.6,59.6 L563.4,62.6 L562.3,65.6 L561.2,68.6 L560.4,71.6 L559.6,74.6 L558.8,77.6 L558,80.6 L557.2,83.6 L556.5,86.6 L555.7,89.6 L555,92.6 L554.4,95.6 L553.7,98.6 L553,101.6 L552.3,104.6 L551.6,107.6 L550.9,110.6 L550.1,113.6 L549.4,116.6 L548.7,119.6 L548.1,122.6 L547.4,125.6 L546.8,128.6 L546.1,131.6 L545.4,134.6 L544.7,137.6 L544.4,140.6 L544.4,141" fill="none" stroke="#1478f0" stroke-width="1.6" opacity="0.1"/>
<rect x="481.6" y="40.6" width="31.6" height="8.1" fill="url(#ckBg)"/>
<line x1="479.7" y1="40.6" x2="476.5" y2="48.6" stroke="#28c0ff" stroke-width="1.8"/>
<line x1="483.8" y1="40.6" x2="480.6" y2="48.6" stroke="#28c0ff" stroke-width="1.8"/>
<line x1="487.9" y1="40.6" x2="484.7" y2="48.6" stroke="#1a9af6" stroke-width="1.8"/>
<line x1="492" y1="40.6" x2="488.8" y2="48.6" stroke="#1478e2" stroke-width="1.8"/>
<line x1="496.1" y1="40.6" x2="492.9" y2="48.6" stroke="#0e5cc4" stroke-width="1.8"/>
<line x1="500.2" y1="40.6" x2="497" y2="48.6" stroke="#0a48aa" stroke-width="1.8"/>
<line x1="504.3" y1="40.6" x2="501.1" y2="48.6" stroke="#083a94" stroke-width="1.8"/>
<line x1="508.4" y1="40.6" x2="505.2" y2="48.6" stroke="#072e80" stroke-width="1.8"/>
<line x1="512.5" y1="40.6" x2="509.3" y2="48.6" stroke="#062672" stroke-width="1.8"/>
<line x1="516.6" y1="40.6" x2="513.4" y2="48.6" stroke="#052068" stroke-width="1.8"/>
<rect x="478.4" y="48.6" width="34.8" height="7.8" fill="url(#ckBg)"/>
<line x1="478.6" y1="48.6" x2="474.3" y2="56.4" stroke="#28c0ff" stroke-width="1.8"/>
<line x1="482.7" y1="48.6" x2="478.4" y2="56.4" stroke="#28c0ff" stroke-width="1.8"/>
<line x1="486.8" y1="48.6" x2="482.5" y2="56.4" stroke="#1a9af6" stroke-width="1.8"/>
<line x1="490.9" y1="48.6" x2="486.6" y2="56.4" stroke="#1478e2" stroke-width="1.8"/>
<line x1="495" y1="48.6" x2="490.7" y2="56.4" stroke="#0e5cc4" stroke-width="1.8"/>
<line x1="499.1" y1="48.6" x2="494.8" y2="56.4" stroke="#0a48aa" stroke-width="1.8"/>
<line x1="503.2" y1="48.6" x2="498.9" y2="56.4" stroke="#083a94" stroke-width="1.8"/>
<line x1="507.3" y1="48.6" x2="503" y2="56.4" stroke="#072e80" stroke-width="1.8"/>
<line x1="511.4" y1="48.6" x2="507.1" y2="56.4" stroke="#062672" stroke-width="1.8"/>
<line x1="515.5" y1="48.6" x2="511.2" y2="56.4" stroke="#052068" stroke-width="1.8"/>
<rect x="477.6" y="56.4" width="35.6" height="7.7" fill="url(#ckBg)"/>
<line x1="475.7" y1="56.4" x2="472.5" y2="64" stroke="#28c0ff" stroke-width="1.8"/>
<line x1="479.8" y1="56.4" x2="476.6" y2="64" stroke="#28c0ff" stroke-width="1.8"/>
<line x1="483.9" y1="56.4" x2="480.7" y2="64" stroke="#1a9af6" stroke-width="1.8"/>
<line x1="488" y1="56.4" x2="484.8" y2="64" stroke="#1478e2" stroke-width="1.8"/>
<line x1="492.1" y1="56.4" x2="488.9" y2="64" stroke="#0e5cc4" stroke-width="1.8"/>
<line x1="496.2" y1="56.4" x2="493" y2="64" stroke="#0a48aa" stroke-width="1.8"/>
<line x1="500.3" y1="56.4" x2="497.1" y2="64" stroke="#083a94" stroke-width="1.8"/>
<line x1="504.4" y1="56.4" x2="501.2" y2="64" stroke="#072e80" stroke-width="1.8"/>
<line x1="508.5" y1="56.4" x2="505.3" y2="64" stroke="#062672" stroke-width="1.8"/>
<line x1="512.6" y1="56.4" x2="509.4" y2="64" stroke="#052068" stroke-width="1.8"/>
<line x1="516.7" y1="56.4" x2="513.5" y2="64" stroke="#041c62" stroke-width="1.8"/>
<rect x="477.2" y="64" width="36" height="7.5" fill="url(#ckBg)"/>
<line x1="477.4" y1="64" x2="474.9" y2="71.4" stroke="#28c0ff" stroke-width="1.8"/>
<line x1="481.5" y1="64" x2="479" y2="71.4" stroke="#28c0ff" stroke-width="1.8"/>
<line x1="485.6" y1="64" x2="483.1" y2="71.4" stroke="#1a9af6" stroke-width="1.8"/>
<line x1="489.7" y1="64" x2="487.2" y2="71.4" stroke="#1478e2" stroke-width="1.8"/>
<line x1="493.8" y1="64" x2="491.3" y2="71.4" stroke="#0e5cc4" stroke-width="1.8"/>
<line x1="497.9" y1="64" x2="495.4" y2="71.4" stroke="#0a48aa" stroke-width="1.8"/>
<line x1="502" y1="64" x2="499.5" y2="71.4" stroke="#083a94" stroke-width="1.8"/>
<line x1="506.1" y1="64" x2="503.6" y2="71.4" stroke="#072e80" stroke-width="1.8"/>
<line x1="510.2" y1="64" x2="507.7" y2="71.4" stroke="#062672" stroke-width="1.8"/>
<line x1="514.3" y1="64" x2="511.8" y2="71.4" stroke="#052068" stroke-width="1.8"/>
<rect x="477.6" y="71.4" width="35.6" height="7.3" fill="url(#ckBg)"/>
<line x1="475.7" y1="71.4" x2="473.7" y2="78.6" stroke="#28c0ff" stroke-width="1.8"/>
<line x1="479.8" y1="71.4" x2="477.8" y2="78.6" stroke="#28c0ff" stroke-width="1.8"/>
<line x1="483.9" y1="71.4" x2="481.9" y2="78.6" stroke="#1a9af6" stroke-width="1.8"/>
<line x1="488" y1="71.4" x2="486" y2="78.6" stroke="#1478e2" stroke-width="1.8"/>
<line x1="492.1" y1="71.4" x2="490.1" y2="78.6" stroke="#0e5cc4" stroke-width="1.8"/>
<line x1="496.2" y1="71.4" x2="494.2" y2="78.6" stroke="#0a48aa" stroke-width="1.8"/>
<line x1="500.3" y1="71.4" x2="498.3" y2="78.6" stroke="#083a94" stroke-width="1.8"/>
<line x1="504.4" y1="71.4" x2="502.4" y2="78.6" stroke="#072e80" stroke-width="1.8"/>
<line x1="508.5" y1="71.4" x2="506.5" y2="78.6" stroke="#062672" stroke-width="1.8"/>
<line x1="512.6" y1="71.4" x2="510.6" y2="78.6" stroke="#052068" stroke-width="1.8"/>
<line x1="516.7" y1="71.4" x2="514.7" y2="78.6" stroke="#041c62" stroke-width="1.8"/>
<rect x="478.1" y="78.6" width="35.1" height="7.1" fill="url(#ckBg)"/>
<line x1="478.2" y1="78.6" x2="476.4" y2="85.7" stroke="#28c0ff" stroke-width="1.8"/>
<line x1="482.3" y1="78.6" x2="480.5" y2="85.7" stroke="#28c0ff" stroke-width="1.8"/>
<line x1="486.4" y1="78.6" x2="484.6" y2="85.7" stroke="#1a9af6" stroke-width="1.8"/>
<line x1="490.5" y1="78.6" x2="488.7" y2="85.7" stroke="#1478e2" stroke-width="1.8"/>
<line x1="494.6" y1="78.6" x2="492.8" y2="85.7" stroke="#0e5cc4" stroke-width="1.8"/>
<line x1="498.7" y1="78.6" x2="496.9" y2="85.7" stroke="#0a48aa" stroke-width="1.8"/>
<line x1="502.8" y1="78.6" x2="501" y2="85.7" stroke="#083a94" stroke-width="1.8"/>
<line x1="506.9" y1="78.6" x2="505.1" y2="85.7" stroke="#072e80" stroke-width="1.8"/>
<line x1="511" y1="78.6" x2="509.2" y2="85.7" stroke="#062672" stroke-width="1.8"/>
<line x1="515.1" y1="78.6" x2="513.3" y2="85.7" stroke="#052068" stroke-width="1.8"/>
<rect x="478.6" y="85.7" width="34.6" height="6.9" fill="url(#ckBg)"/>
<line x1="476.7" y1="85.7" x2="475.1" y2="92.5" stroke="#28c0ff" stroke-width="1.8"/>
<line x1="480.8" y1="85.7" x2="479.2" y2="92.5" stroke="#28c0ff" stroke-width="1.8"/>
<line x1="484.9" y1="85.7" x2="483.3" y2="92.5" stroke="#1a9af6" stroke-width="1.8"/>
<line x1="489" y1="85.7" x2="487.4" y2="92.5" stroke="#1478e2" stroke-width="1.8"/>
<line x1="493.1" y1="85.7" x2="491.5" y2="92.5" stroke="#0e5cc4" stroke-width="1.8"/>
<line x1="497.2" y1="85.7" x2="495.6" y2="92.5" stroke="#0a48aa" stroke-width="1.8"/>
<line x1="501.3" y1="85.7" x2="499.7" y2="92.5" stroke="#083a94" stroke-width="1.8"/>
<line x1="505.4" y1="85.7" x2="503.8" y2="92.5" stroke="#072e80" stroke-width="1.8"/>
<line x1="509.5" y1="85.7" x2="507.9" y2="92.5" stroke="#062672" stroke-width="1.8"/>
<line x1="513.6" y1="85.7" x2="512" y2="92.5" stroke="#052068" stroke-width="1.8"/>
<rect x="479.6" y="92.5" width="33.6" height="6.7" fill="url(#ckBg)"/>
<line x1="479.8" y1="92.5" x2="478.3" y2="99.2" stroke="#28c0ff" stroke-width="1.8"/>
<line x1="483.9" y1="92.5" x2="482.4" y2="99.2" stroke="#28c0ff" stroke-width="1.8"/>
<line x1="488" y1="92.5" x2="486.5" y2="99.2" stroke="#1a9af6" stroke-width="1.8"/>
<line x1="492.1" y1="92.5" x2="490.6" y2="99.2" stroke="#1478e2" stroke-width="1.8"/>
<line x1="496.2" y1="92.5" x2="494.7" y2="99.2" stroke="#0e5cc4" stroke-width="1.8"/>
<line x1="500.3" y1="92.5" x2="498.8" y2="99.2" stroke="#0a48aa" stroke-width="1.8"/>
<line x1="504.4" y1="92.5" x2="502.9" y2="99.2" stroke="#083a94" stroke-width="1.8"/>
<line x1="508.5" y1="92.5" x2="507" y2="99.2" stroke="#072e80" stroke-width="1.8"/>
<line x1="512.6" y1="92.5" x2="511.1" y2="99.2" stroke="#062672" stroke-width="1.8"/>
<line x1="516.7" y1="92.5" x2="515.2" y2="99.2" stroke="#052068" stroke-width="1.8"/>
<rect x="481.1" y="99.2" width="32.1" height="6.6" fill="url(#ckBg)"/>
<line x1="479.2" y1="99.2" x2="477.7" y2="105.8" stroke="#28c0ff" stroke-width="1.8"/>
<line x1="483.3" y1="99.2" x2="481.8" y2="105.8" stroke="#28c0ff" stroke-width="1.8"/>
<line x1="487.4" y1="99.2" x2="485.9" y2="105.8" stroke="#1a9af6" stroke-width="1.8"/>
<line x1="491.5" y1="99.2" x2="490" y2="105.8" stroke="#1478e2" stroke-width="1.8"/>
<line x1="495.6" y1="99.2" x2="494.1" y2="105.8" stroke="#0e5cc4" stroke-width="1.8"/>
<line x1="499.7" y1="99.2" x2="498.2" y2="105.8" stroke="#0a48aa" stroke-width="1.8"/>
<line x1="503.8" y1="99.2" x2="502.3" y2="105.8" stroke="#083a94" stroke-width="1.8"/>
<line x1="507.9" y1="99.2" x2="506.4" y2="105.8" stroke="#072e80" stroke-width="1.8"/>
<line x1="512" y1="99.2" x2="510.5" y2="105.8" stroke="#062672" stroke-width="1.8"/>
<line x1="516.1" y1="99.2" x2="514.6" y2="105.8" stroke="#052068" stroke-width="1.8"/>
<rect x="482.9" y="105.8" width="30.3" height="6.4" fill="url(#ckBg)"/>
<line x1="483.1" y1="105.8" x2="481.5" y2="112.1" stroke="#28c0ff" stroke-width="1.8"/>
<line x1="487.2" y1="105.8" x2="485.6" y2="112.1" stroke="#28c0ff" stroke-width="1.8"/>
<line x1="491.3" y1="105.8" x2="489.7" y2="112.1" stroke="#1a9af6" stroke-width="1.8"/>
<line x1="495.4" y1="105.8" x2="493.8" y2="112.1" stroke="#1478e2" stroke-width="1.8"/>
<line x1="499.5" y1="105.8" x2="497.9" y2="112.1" stroke="#0e5cc4" stroke-width="1.8"/>
<line x1="503.6" y1="105.8" x2="502" y2="112.1" stroke="#0a48aa" stroke-width="1.8"/>
<line x1="507.7" y1="105.8" x2="506.1" y2="112.1" stroke="#083a94" stroke-width="1.8"/>
<line x1="511.8" y1="105.8" x2="510.2" y2="112.1" stroke="#072e80" stroke-width="1.8"/>
<line x1="515.9" y1="105.8" x2="514.3" y2="112.1" stroke="#062672" stroke-width="1.8"/>
<rect x="484.8" y="112.1" width="28.4" height="6.3" fill="url(#ckBg)"/>
<line x1="482.9" y1="112.1" x2="481.4" y2="118.3" stroke="#28c0ff" stroke-width="1.8"/>
<line x1="487" y1="112.1" x2="485.5" y2="118.3" stroke="#28c0ff" stroke-width="1.8"/>
<line x1="491.1" y1="112.1" x2="489.6" y2="118.3" stroke="#1a9af6" stroke-width="1.8"/>
<line x1="495.2" y1="112.1" x2="493.7" y2="118.3" stroke="#1478e2" stroke-width="1.8"/>
<line x1="499.3" y1="112.1" x2="497.8" y2="118.3" stroke="#0e5cc4" stroke-width="1.8"/>
<line x1="503.4" y1="112.1" x2="501.9" y2="118.3" stroke="#0a48aa" stroke-width="1.8"/>
<line x1="507.5" y1="112.1" x2="506" y2="118.3" stroke="#083a94" stroke-width="1.8"/>
<line x1="511.6" y1="112.1" x2="510.1" y2="118.3" stroke="#072e80" stroke-width="1.8"/>
<line x1="515.7" y1="112.1" x2="514.2" y2="118.3" stroke="#062672" stroke-width="1.8"/>
<rect x="486.7" y="118.3" width="26.5" height="6.1" fill="url(#ckBg)"/>
<line x1="486.9" y1="118.3" x2="485.6" y2="124.4" stroke="#28c0ff" stroke-width="1.8"/>
<line x1="491" y1="118.3" x2="489.7" y2="124.4" stroke="#28c0ff" stroke-width="1.8"/>
<line x1="495.1" y1="118.3" x2="493.8" y2="124.4" stroke="#1a9af6" stroke-width="1.8"/>
<line x1="499.2" y1="118.3" x2="497.9" y2="124.4" stroke="#1478e2" stroke-width="1.8"/>
<line x1="503.3" y1="118.3" x2="502" y2="124.4" stroke="#0e5cc4" stroke-width="1.8"/>
<line x1="507.4" y1="118.3" x2="506.1" y2="124.4" stroke="#0a48aa" stroke-width="1.8"/>
<line x1="511.5" y1="118.3" x2="510.2" y2="124.4" stroke="#083a94" stroke-width="1.8"/>
<line x1="515.6" y1="118.3" x2="514.3" y2="124.4" stroke="#072e80" stroke-width="1.8"/>
<rect x="489" y="124.4" width="24.2" height="5.9" fill="url(#ckBg)"/>
<line x1="487.1" y1="124.4" x2="485.8" y2="130.3" stroke="#28c0ff" stroke-width="1.8"/>
<line x1="491.2" y1="124.4" x2="489.9" y2="130.3" stroke="#28c0ff" stroke-width="1.8"/>
<line x1="495.3" y1="124.4" x2="494" y2="130.3" stroke="#1a9af6" stroke-width="1.8"/>
<line x1="499.4" y1="124.4" x2="498.1" y2="130.3" stroke="#1478e2" stroke-width="1.8"/>
<line x1="503.5" y1="124.4" x2="502.2" y2="130.3" stroke="#0e5cc4" stroke-width="1.8"/>
<line x1="507.6" y1="124.4" x2="506.3" y2="130.3" stroke="#0a48aa" stroke-width="1.8"/>
<line x1="511.7" y1="124.4" x2="510.4" y2="130.3" stroke="#083a94" stroke-width="1.8"/>
<line x1="515.8" y1="124.4" x2="514.5" y2="130.3" stroke="#072e80" stroke-width="1.8"/>
<rect x="491.3" y="130.3" width="21.9" height="5.8" fill="url(#ckBg)"/>
<line x1="491.5" y1="130.3" x2="490.1" y2="136" stroke="#28c0ff" stroke-width="1.8"/>
<line x1="495.6" y1="130.3" x2="494.2" y2="136" stroke="#28c0ff" stroke-width="1.8"/>
<line x1="499.7" y1="130.3" x2="498.3" y2="136" stroke="#1a9af6" stroke-width="1.8"/>
<line x1="503.8" y1="130.3" x2="502.4" y2="136" stroke="#1478e2" stroke-width="1.8"/>
<line x1="507.9" y1="130.3" x2="506.5" y2="136" stroke="#0e5cc4" stroke-width="1.8"/>
<line x1="512" y1="130.3" x2="510.6" y2="136" stroke="#0a48aa" stroke-width="1.8"/>
<line x1="516.1" y1="130.3" x2="514.7" y2="136" stroke="#083a94" stroke-width="1.8"/>
<rect x="493.5" y="136" width="19.7" height="4.5" fill="url(#ckBg)"/>
<line x1="495.7" y1="136" x2="495.1" y2="140.5" stroke="#28c0ff" stroke-width="1.8"/>
<line x1="499.8" y1="136" x2="499.2" y2="140.5" stroke="#28c0ff" stroke-width="1.8"/>
<line x1="503.9" y1="136" x2="503.3" y2="140.5" stroke="#1a9af6" stroke-width="1.8"/>
<line x1="508" y1="136" x2="507.4" y2="140.5" stroke="#1478e2" stroke-width="1.8"/>
<line x1="512.1" y1="136" x2="511.5" y2="140.5" stroke="#0e5cc4" stroke-width="1.8"/>
<line x1="516.2" y1="136" x2="515.6" y2="140.5" stroke="#0a48aa" stroke-width="1.8"/>
</g>
<path d="M501,31.6 L491.8,32.6 L484.5,33.6 L479.6,34.6 L476.1,35.6 L473.3,36.6 L471.7,37.6 L470,38.6 L469,39.6 L467.9,40.6 L467,41.6 L466.7,42.6 L466.4,43.6 L466.1,44.6 L465.8,45.6 L465.5,46.6 L465.2,47.6 L464.8,48.6 L464.2,49.6 L463.6,50.6 L463,51.6 L462.4,52.6 L461.8,53.6 L460.4,56.6 L459,59.6 L457.8,62.6 L456.7,65.6 L455.6,68.6 L454.8,71.6 L454,74.6 L453.2,77.6 L452.4,80.6 L451.6,83.6 L450.9,86.6 L450.1,89.6 L449.4,92.6 L448.8,95.6 L448.1,98.6 L447.4,101.6 L446.7,104.6 L446,107.6 L445.3,110.6 L444.5,113.6 L443.8,116.6 L443.1,119.6 L442.5,122.6 L441.8,125.6 L441.2,128.6 L440.5,131.6 L439.8,134.6 L439.1,137.6 L438.8,140.6 L438.8,141" fill="none" stroke="#0a48d8" stroke-width="1.5" opacity="0.85" transform="translate(-0.7,0)"/>
<path d="M501,31.6 L491.8,32.6 L484.5,33.6 L479.6,34.6 L476.1,35.6 L473.3,36.6 L471.7,37.6 L470,38.6 L469,39.6 L467.9,40.6 L467,41.6 L466.7,42.6 L466.4,43.6 L466.1,44.6 L465.8,45.6 L465.5,46.6 L465.2,47.6 L464.8,48.6 L464.2,49.6 L463.6,50.6 L463,51.6 L462.4,52.6 L461.8,53.6 L460.4,56.6 L459,59.6 L457.8,62.6 L456.7,65.6 L455.6,68.6 L454.8,71.6 L454,74.6 L453.2,77.6 L452.4,80.6 L451.6,83.6 L450.9,86.6 L450.1,89.6 L449.4,92.6 L448.8,95.6 L448.1,98.6 L447.4,101.6 L446.7,104.6 L446,107.6 L445.3,110.6 L444.5,113.6 L443.8,116.6 L443.1,119.6 L442.5,122.6 L441.8,125.6 L441.2,128.6 L440.5,131.6 L439.8,134.6 L439.1,137.6 L438.8,140.6 L438.8,141 L495.5,141 L495.4,139.8 L494.8,136.8 L493.7,133.8 L492.5,130.8 L491.3,127.8 L490.1,124.8 L489,121.8 L487.9,118.8 L486.9,115.8 L486,112.8 L485,109.8 L484.2,106.8 L483.4,103.8 L482.5,100.8 L481.8,97.8 L481.1,94.8 L480.5,91.8 L480,88.8 L479.6,85.8 L479.3,82.8 L479.1,79.8 L478.9,76.8 L478.7,73.8 L478.5,70.8 L478.4,67.8 L478.2,64.8 L478.3,61.8 L478.5,58.8 L478.6,55.8 L479,52.8 L479.3,49.8 L479.9,46.8 L480.9,43.8 L482.4,40.8 L485.1,37.8 L490,34.8 L500.4,31.8 L501,31.7Z" fill="url(#dBodyG)"/>
<g clip-path="url(#dB1)">
<path d="M551.2,32.2 L504.6,31.6 L495.4,32.6 L488.1,33.6 L483.2,34.6 L479.7,35.6 L476.9,36.6 L475.3,37.6 L473.6,38.6 L472.6,39.6 L471.5,40.6 L470.6,41.6 L470.3,42.6 L470,43.6 L469.7,44.6 L469.4,45.6 L469.1,46.6 L468.8,47.6 L468.4,48.6 L467.8,49.6 L467.2,50.6 L466.6,51.6 L466,52.6 L465.4,53.6 L464,56.6 L462.6,59.6 L461.4,62.6 L460.3,65.6 L459.2,68.6 L458.4,71.6 L457.6,74.6 L456.8,77.6 L456,80.6 L455.2,83.6 L454.5,86.6 L453.7,89.6 L453,92.6 L452.4,95.6 L451.7,98.6 L451,101.6 L450.3,104.6 L449.6,107.6 L448.9,110.6 L448.1,113.6 L447.4,116.6 L446.7,119.6 L446.1,122.6 L445.4,125.6 L444.8,128.6 L444.1,131.6 L443.4,134.6 L442.7,137.6 L442.4,140.6 L442.4,141" fill="none" stroke="#e83000" stroke-width="1.3" opacity="1"/>
<path d="M551.2,32.8 L508.2,31.6 L499,32.6 L491.7,33.6 L486.8,34.6 L483.3,35.6 L480.5,36.6 L478.9,37.6 L477.2,38.6 L476.2,39.6 L475.1,40.6 L474.2,41.6 L473.9,42.6 L473.6,43.6 L473.3,44.6 L473,45.6 L472.7,46.6 L472.4,47.6 L471.9,48.6 L471.4,49.6 L470.8,50.6 L470.2,51.6 L469.6,52.6 L469,53.6 L467.6,56.6 L466.2,59.6 L465,62.6 L463.9,65.6 L462.8,68.6 L462,71.6 L461.2,74.6 L460.4,77.6 L459.6,80.6 L458.8,83.6 L458.1,86.6 L457.3,89.6 L456.6,92.6 L456,95.6 L455.3,98.6 L454.6,101.6 L453.9,104.6 L453.2,107.6 L452.5,110.6 L451.7,113.6 L451,116.6 L450.3,119.6 L449.7,122.6 L449,125.6 L448.4,128.6 L447.7,131.6 L447,134.6 L446.3,137.6 L446,140.6 L446,141" fill="none" stroke="#e83000" stroke-width="1.3" opacity="1"/>
<path d="M551.2,33.4 L511.8,31.6 L502.6,32.6 L495.3,33.6 L490.4,34.6 L486.9,35.6 L484.1,36.6 L482.5,37.6 L480.8,38.6 L479.8,39.6 L478.7,40.6 L477.8,41.6 L477.5,42.6 L477.2,43.6 L476.9,44.6 L476.6,45.6 L476.3,46.6 L476,47.6 L475.6,48.6 L475,49.6 L474.4,50.6 L473.8,51.6 L473.2,52.6 L472.6,53.6 L471.2,56.6 L469.8,59.6 L468.6,62.6 L467.5,65.6 L466.4,68.6 L465.6,71.6 L464.8,74.6 L464,77.6 L463.2,80.6 L462.4,83.6 L461.7,86.6 L460.9,89.6 L460.2,92.6 L459.6,95.6 L458.9,98.6 L458.2,101.6 L457.5,104.6 L456.8,107.6 L456.1,110.6 L455.3,113.6 L454.6,116.6 L453.9,119.6 L453.3,122.6 L452.6,125.6 L452,128.6 L451.3,131.6 L450.6,134.6 L449.9,137.6 L449.6,140.6 L449.6,141" fill="none" stroke="#f04c00" stroke-width="1.3" opacity="1"/>
<path d="M551.2,34 L515.4,31.6 L506.2,32.6 L498.9,33.6 L494,34.6 L490.5,35.6 L487.7,36.6 L486.1,37.6 L484.4,38.6 L483.4,39.6 L482.3,40.6 L481.4,41.6 L481.1,42.6 L480.8,43.6 L480.5,44.6 L480.2,45.6 L479.9,46.6 L479.6,47.6 L479.1,48.6 L478.6,49.6 L478,50.6 L477.4,51.6 L476.8,52.6 L476.2,53.6 L474.8,56.6 L473.4,59.6 L472.2,62.6 L471.1,65.6 L470,68.6 L469.2,71.6 L468.4,74.6 L467.6,77.6 L466.8,80.6 L466,83.6 L465.2,86.6 L464.5,89.6 L463.8,92.6 L463.2,95.6 L462.5,98.6 L461.8,101.6 L461.1,104.6 L460.4,107.6 L459.7,110.6 L458.9,113.6 L458.2,116.6 L457.5,119.6 L456.9,122.6 L456.2,125.6 L455.6,128.6 L454.9,131.6 L454.2,134.6 L453.5,137.6 L453.2,140.6 L453.2,141" fill="none" stroke="#f04c00" stroke-width="1.3" opacity="1"/>
<path d="M551.2,34.6 L519,31.6 L509.8,32.6 L502.5,33.6 L497.6,34.6 L494.1,35.6 L491.3,36.6 L489.7,37.6 L488,38.6 L487,39.6 L485.9,40.6 L485,41.6 L484.7,42.6 L484.4,43.6 L484.1,44.6 L483.8,45.6 L483.5,46.6 L483.2,47.6 L482.8,48.6 L482.2,49.6 L481.6,50.6 L481,51.6 L480.4,52.6 L479.8,53.6 L478.4,56.6 L477,59.6 L475.8,62.6 L474.7,65.6 L473.6,68.6 L472.8,71.6 L472,74.6 L471.2,77.6 L470.4,80.6 L469.6,83.6 L468.9,86.6 L468.1,89.6 L467.4,92.6 L466.8,95.6 L466.1,98.6 L465.4,101.6 L464.7,104.6 L464,107.6 L463.3,110.6 L462.5,113.6 L461.8,116.6 L461.1,119.6 L460.5,122.6 L459.8,125.6 L459.2,128.6 L458.5,131.6 L457.8,134.6 L457.1,137.6 L456.8,140.6 L456.8,141" fill="none" stroke="#f04c00" stroke-width="1.3" opacity="1"/>
<path d="M551.2,35.2 L522.6,31.6 L513.4,32.6 L506.1,33.6 L501.2,34.6 L497.7,35.6 L494.9,36.6 L493.3,37.6 L491.6,38.6 L490.6,39.6 L489.5,40.6 L488.6,41.6 L488.3,42.6 L488,43.6 L487.7,44.6 L487.4,45.6 L487.1,46.6 L486.8,47.6 L486.4,48.6 L485.8,49.6 L485.2,50.6 L484.6,51.6 L484,52.6 L483.4,53.6 L482,56.6 L480.6,59.6 L479.4,62.6 L478.3,65.6 L477.2,68.6 L476.4,71.6 L475.6,74.6 L474.8,77.6 L474,80.6 L473.2,83.6 L472.5,86.6 L471.7,89.6 L471,92.6 L470.4,95.6 L469.7,98.6 L469,101.6 L468.3,104.6 L467.6,107.6 L466.9,110.6 L466.1,113.6 L465.4,116.6 L464.7,119.6 L464.1,122.6 L463.4,125.6 L462.8,128.6 L462.1,131.6 L461.4,134.6 L460.7,137.6 L460.4,140.6 L460.4,141" fill="none" stroke="#f47400" stroke-width="1.3" opacity="1"/>
<path d="M551.2,35.8 L526.2,31.6 L517,32.6 L509.7,33.6 L504.8,34.6 L501.3,35.6 L498.5,36.6 L496.9,37.6 L495.2,38.6 L494.2,39.6 L493.1,40.6 L492.2,41.6 L491.9,42.6 L491.6,43.6 L491.3,44.6 L491,45.6 L490.7,46.6 L490.4,47.6 L489.9,48.6 L489.4,49.6 L488.8,50.6 L488.2,51.6 L487.6,52.6 L487,53.6 L485.6,56.6 L484.2,59.6 L483,62.6 L481.9,65.6 L480.8,68.6 L480,71.6 L479.2,74.6 L478.4,77.6 L477.6,80.6 L476.8,83.6 L476.1,86.6 L475.3,89.6 L474.6,92.6 L474,95.6 L473.3,98.6 L472.6,101.6 L471.9,104.6 L471.2,107.6 L470.5,110.6 L469.7,113.6 L469,116.6 L468.3,119.6 L467.7,122.6 L467,125.6 L466.4,128.6 L465.7,131.6 L465,134.6 L464.3,137.6 L464,140.6 L464,141" fill="none" stroke="#f47400" stroke-width="1.3" opacity="1"/>
<path d="M551.2,36.4 L529.8,31.6 L520.6,32.6 L513.3,33.6 L508.4,34.6 L504.9,35.6 L502.1,36.6 L500.5,37.6 L498.8,38.6 L497.8,39.6 L496.7,40.6 L495.8,41.6 L495.5,42.6 L495.2,43.6 L494.9,44.6 L494.6,45.6 L494.3,46.6 L494,47.6 L493.6,48.6 L493,49.6 L492.4,50.6 L491.8,51.6 L491.2,52.6 L490.6,53.6 L489.2,56.6 L487.8,59.6 L486.6,62.6 L485.5,65.6 L484.4,68.6 L483.6,71.6 L482.8,74.6 L482,77.6 L481.2,80.6 L480.4,83.6 L479.7,86.6 L478.9,89.6 L478.2,92.6 L477.6,95.6 L476.9,98.6 L476.2,101.6 L475.5,104.6 L474.8,107.6 L474.1,110.6 L473.3,113.6 L472.6,116.6 L471.9,119.6 L471.3,122.6 L470.6,125.6 L470,128.6 L469.3,131.6 L468.6,134.6 L467.9,137.6 L467.6,140.6 L467.6,141" fill="none" stroke="#f47400" stroke-width="1.3" opacity="1"/>
<path d="M551.2,37 L533.4,31.6 L524.2,32.6 L516.9,33.6 L512,34.6 L508.5,35.6 L505.7,36.6 L504.1,37.6 L502.4,38.6 L501.4,39.6 L500.3,40.6 L499.4,41.6 L499.1,42.6 L498.8,43.6 L498.5,44.6 L498.2,45.6 L497.9,46.6 L497.6,47.6 L497.1,48.6 L496.6,49.6 L496,50.6 L495.4,51.6 L494.8,52.6 L494.2,53.6 L492.8,56.6 L491.4,59.6 L490.2,62.6 L489.1,65.6 L488,68.6 L487.2,71.6 L486.4,74.6 L485.6,77.6 L484.8,80.6 L484,83.6 L483.2,86.6 L482.5,89.6 L481.8,92.6 L481.2,95.6 L480.5,98.6 L479.8,101.6 L479.1,104.6 L478.4,107.6 L477.7,110.6 L476.9,113.6 L476.2,116.6 L475.5,119.6 L474.9,122.6 L474.2,125.6 L473.6,128.6 L472.9,131.6 L472.2,134.6 L471.5,137.6 L471.2,140.6 L471.2,141" fill="none" stroke="#f47400" stroke-width="1.3" opacity="1"/>
<path d="M551.2,37.6 L537,31.6 L527.8,32.6 L520.5,33.6 L515.6,34.6 L512.1,35.6 L509.3,36.6 L507.7,37.6 L506,38.6 L505,39.6 L503.9,40.6 L503,41.6 L502.7,42.6 L502.4,43.6 L502.1,44.6 L501.8,45.6 L501.5,46.6 L501.2,47.6 L500.8,48.6 L500.2,49.6 L499.6,50.6 L499,51.6 L498.4,52.6 L497.8,53.6 L496.4,56.6 L495,59.6 L493.8,62.6 L492.7,65.6 L491.6,68.6 L490.8,71.6 L490,74.6 L489.2,77.6 L488.4,80.6 L487.6,83.6 L486.9,86.6 L486.1,89.6 L485.4,92.6 L484.8,95.6 L484.1,98.6 L483.4,101.6 L482.7,104.6 L482,107.6 L481.3,110.6 L480.5,113.6 L479.8,116.6 L479.1,119.6 L478.5,122.6 L477.8,125.6 L477.2,128.6 L476.5,131.6 L475.8,134.6 L475.1,137.6 L474.8,140.6 L474.8,141" fill="none" stroke="#f89400" stroke-width="1.3" opacity="1"/>
<path d="M551.2,38.2 L540.6,31.6 L531.4,32.6 L524.1,33.6 L519.2,34.6 L515.7,35.6 L512.9,36.6 L511.3,37.6 L509.6,38.6 L508.6,39.6 L507.5,40.6 L506.6,41.6 L506.3,42.6 L506,43.6 L505.7,44.6 L505.4,45.6 L505.1,46.6 L504.8,47.6 L504.4,48.6 L503.8,49.6 L503.2,50.6 L502.6,51.6 L502,52.6 L501.4,53.6 L500,56.6 L498.6,59.6 L497.4,62.6 L496.3,65.6 L495.2,68.6 L494.4,71.6 L493.6,74.6 L492.8,77.6 L492,80.6 L491.2,83.6 L490.5,86.6 L489.7,89.6 L489,92.6 L488.4,95.6 L487.7,98.6 L487,101.6 L486.3,104.6 L485.6,107.6 L484.9,110.6 L484.1,113.6 L483.4,116.6 L482.7,119.6 L482.1,122.6 L481.4,125.6 L480.8,128.6 L480.1,131.6 L479.4,134.6 L478.7,137.6 L478.4,140.6 L478.4,141" fill="none" stroke="#f89400" stroke-width="1.3" opacity="0.8"/>
<path d="M551.2,38.8 L544.2,31.6 L535,32.6 L527.7,33.6 L522.8,34.6 L519.3,35.6 L516.5,36.6 L514.9,37.6 L513.2,38.6 L512.2,39.6 L511.1,40.6 L510.2,41.6 L509.9,42.6 L509.6,43.6 L509.3,44.6 L509,45.6 L508.7,46.6 L508.4,47.6 L507.9,48.6 L507.4,49.6 L506.8,50.6 L506.2,51.6 L505.6,52.6 L505,53.6 L503.6,56.6 L502.2,59.6 L501,62.6 L499.9,65.6 L498.8,68.6 L498,71.6 L497.2,74.6 L496.4,77.6 L495.6,80.6 L494.8,83.6 L494.1,86.6 L493.3,89.6 L492.6,92.6 L492,95.6 L491.3,98.6 L490.6,101.6 L489.9,104.6 L489.2,107.6 L488.5,110.6 L487.7,113.6 L487,116.6 L486.3,119.6 L485.7,122.6 L485,125.6 L484.4,128.6 L483.7,131.6 L483,134.6 L482.3,137.6 L482,140.6 L482,141" fill="none" stroke="#f89400" stroke-width="1.3" opacity="0.6"/>
<path d="M551.2,39.4 L547.8,31.6 L538.6,32.6 L531.3,33.6 L526.4,34.6 L522.9,35.6 L520.1,36.6 L518.5,37.6 L516.8,38.6 L515.8,39.6 L514.7,40.6 L513.8,41.6 L513.5,42.6 L513.2,43.6 L512.9,44.6 L512.6,45.6 L512.3,46.6 L512,47.6 L511.6,48.6 L511,49.6 L510.4,50.6 L509.8,51.6 L509.2,52.6 L508.6,53.6 L507.2,56.6 L505.8,59.6 L504.6,62.6 L503.5,65.6 L502.4,68.6 L501.6,71.6 L500.8,74.6 L500,77.6 L499.2,80.6 L498.4,83.6 L497.7,86.6 L496.9,89.6 L496.2,92.6 L495.6,95.6 L494.9,98.6 L494.2,101.6 L493.5,104.6 L492.8,107.6 L492.1,110.6 L491.3,113.6 L490.6,116.6 L489.9,119.6 L489.3,122.6 L488.6,125.6 L488,128.6 L487.3,131.6 L486.6,134.6 L485.9,137.6 L485.6,140.6 L485.6,141" fill="none" stroke="#f89400" stroke-width="1.3" opacity="0.4"/>
<path d="M551.2,40 L551.4,31.6 L542.2,32.6 L534.9,33.6 L530,34.6 L526.5,35.6 L523.7,36.6 L522.1,37.6 L520.4,38.6 L519.4,39.6 L518.3,40.6 L517.4,41.6 L517.1,42.6 L516.8,43.6 L516.5,44.6 L516.2,45.6 L515.9,46.6 L515.6,47.6 L515.1,48.6 L514.6,49.6 L514,50.6 L513.4,51.6 L512.8,52.6 L512.2,53.6 L510.8,56.6 L509.4,59.6 L508.2,62.6 L507.1,65.6 L506,68.6 L505.2,71.6 L504.4,74.6 L503.6,77.6 L502.8,80.6 L502,83.6 L501.2,86.6 L500.5,89.6 L499.8,92.6 L499.2,95.6 L498.5,98.6 L497.8,101.6 L497.1,104.6 L496.4,107.6 L495.7,110.6 L494.9,113.6 L494.2,116.6 L493.5,119.6 L492.9,122.6 L492.2,125.6 L491.6,128.6 L490.9,131.6 L490.2,134.6 L489.5,137.6 L489.2,140.6 L489.2,141" fill="none" stroke="#f89400" stroke-width="1.3" opacity="0.2"/>
<path d="M502,31.6 L492.8,32.6 L485.5,33.6 L480.6,34.6 L477.1,35.6 L474.3,36.6 L472.7,37.6 L471,38.6 L470,39.6 L468.9,40.6 L468,41.6 L467.7,42.6 L467.4,43.6 L467.1,44.6 L466.8,45.6 L466.5,46.6 L466.2,47.6 L465.8,48.6 L465.2,49.6 L464.6,50.6 L464,51.6 L463.4,52.6 L462.8,53.6 L461.4,56.6 L460,59.6 L458.8,62.6 L457.7,65.6 L456.6,68.6 L455.8,71.6 L455,74.6 L454.2,77.6 L453.4,80.6 L452.6,83.6 L451.9,86.6 L451.1,89.6 L450.4,92.6 L449.8,95.6 L449.1,98.6 L448.4,101.6 L447.7,104.6 L447,107.6 L446.3,110.6 L445.5,113.6 L444.8,116.6 L444.1,119.6 L443.5,122.6 L442.8,125.6 L442.2,128.6 L441.5,131.6 L440.8,134.6 L440.1,137.6 L439.8,140.6 L439.8,141" fill="none" stroke="#34d8f4" stroke-width="1.8"/>
<path d="M503.3,31.6 L494.1,32.6 L486.8,33.6 L481.9,34.6 L478.4,35.6 L475.6,36.6 L474,37.6 L472.3,38.6 L471.3,39.6 L470.2,40.6 L469.3,41.6 L469,42.6 L468.7,43.6 L468.4,44.6 L468.1,45.6 L467.8,46.6 L467.5,47.6 L467.1,48.6 L466.5,49.6 L465.9,50.6 L465.3,51.6 L464.7,52.6 L464.1,53.6 L462.7,56.6 L461.3,59.6 L460.1,62.6 L459,65.6 L457.9,68.6 L457.1,71.6 L456.3,74.6 L455.5,77.6 L454.7,80.6 L453.9,83.6 L453.2,86.6 L452.4,89.6 L451.7,92.6 L451.1,95.6 L450.4,98.6 L449.7,101.6 L449,104.6 L448.3,107.6 L447.6,110.6 L446.8,113.6 L446.1,116.6 L445.4,119.6 L444.8,122.6 L444.1,125.6 L443.5,128.6 L442.8,131.6 L442.1,134.6 L441.4,137.6 L441.1,140.6 L441.1,141" fill="none" stroke="#90f090" stroke-width="1.0" opacity="0.8"/>
</g>
<path d="M501.5,31.7 L500.9,31.8 L490.5,34.8 L485.6,37.8 L482.9,40.8 L481.4,43.8 L480.4,46.8 L479.8,49.8 L479.5,52.8 L479.1,55.8 L479,58.8 L478.8,61.8 L478.7,64.8 L478.9,67.8 L479,70.8 L479.2,73.8 L479.4,76.8 L479.6,79.8 L479.8,82.8 L480.1,85.8 L480.5,88.8 L481,91.8 L481.6,94.8 L482.3,97.8 L483,100.8 L483.9,103.8 L484.7,106.8 L485.5,109.8 L486.5,112.8 L487.4,115.8 L488.4,118.8 L489.5,121.8 L490.6,124.8 L491.8,127.8 L493,130.8 L494.2,133.8 L495.3,136.8 L495.9,139.8 L496,141" fill="none" stroke="#40e0f0" stroke-width="1.2"/>
<path d="M502.7,31.7 L502.1,31.8 L491.7,34.8 L486.8,37.8 L484.1,40.8 L482.6,43.8 L481.6,46.8 L481,49.8 L480.7,52.8 L480.3,55.8 L480.2,58.8 L480,61.8 L479.9,64.8 L480.1,67.8 L480.2,70.8 L480.4,73.8 L480.6,76.8 L480.8,79.8 L481,82.8 L481.3,85.8 L481.7,88.8 L482.2,91.8 L482.8,94.8 L483.5,97.8 L484.2,100.8 L485.1,103.8 L485.9,106.8 L486.7,109.8 L487.7,112.8 L488.6,115.8 L489.6,118.8 L490.7,121.8 L491.8,124.8 L493,127.8 L494.2,130.8 L495.4,133.8 L496.5,136.8 L497.1,139.8 L497.2,141" fill="none" stroke="#0a60f0" stroke-width="1.2"/>
<line x1="477.2" y1="1.4" x2="477.2" y2="138.5" stroke="#ffffff" stroke-width="1.3" stroke-dasharray="5.4,5.6"/>
</g>
<rect x="430.6" y="2.3" width="80.6" height="136.2" fill="none" stroke="#5a5a5a" stroke-width="0.7"/>
<line x1="436.9" y1="138.5" x2="436.9" y2="136.7" stroke="#404040" stroke-width="0.6"/>
<line x1="436.9" y1="2.3" x2="436.9" y2="4.1" stroke="#404040" stroke-width="0.6"/>
<line x1="450.3" y1="138.5" x2="450.3" y2="136.7" stroke="#404040" stroke-width="0.6"/>
<line x1="450.3" y1="2.3" x2="450.3" y2="4.1" stroke="#404040" stroke-width="0.6"/>
<text x="449.1" y="151.2" font-size="8.8" text-anchor="middle" fill="#262626" font-weight="normal" >-20</text>
<line x1="463.8" y1="138.5" x2="463.8" y2="136.7" stroke="#404040" stroke-width="0.6"/>
<line x1="463.8" y1="2.3" x2="463.8" y2="4.1" stroke="#404040" stroke-width="0.6"/>
<line x1="477.2" y1="138.5" x2="477.2" y2="136.7" stroke="#404040" stroke-width="0.6"/>
<line x1="477.2" y1="2.3" x2="477.2" y2="4.1" stroke="#404040" stroke-width="0.6"/>
<text x="477.2" y="151.2" font-size="8.8" text-anchor="middle" fill="#262626" font-weight="normal" >0</text>
<line x1="490.7" y1="138.5" x2="490.7" y2="136.7" stroke="#404040" stroke-width="0.6"/>
<line x1="490.7" y1="2.3" x2="490.7" y2="4.1" stroke="#404040" stroke-width="0.6"/>
<line x1="504.1" y1="138.5" x2="504.1" y2="136.7" stroke="#404040" stroke-width="0.6"/>
<line x1="504.1" y1="2.3" x2="504.1" y2="4.1" stroke="#404040" stroke-width="0.6"/>
<text x="504.1" y="151.2" font-size="8.8" text-anchor="middle" fill="#262626" font-weight="normal" >20</text>
<line x1="430.6" y1="41.9" x2="432.4" y2="41.9" stroke="#404040" stroke-width="0.6"/>
<line x1="511.2" y1="41.9" x2="509.4" y2="41.9" stroke="#404040" stroke-width="0.6"/>
<line x1="430.6" y1="81" x2="432.4" y2="81" stroke="#404040" stroke-width="0.6"/>
<line x1="511.2" y1="81" x2="509.4" y2="81" stroke="#404040" stroke-width="0.6"/>
<line x1="430.6" y1="120.1" x2="432.4" y2="120.1" stroke="#404040" stroke-width="0.6"/>
<line x1="511.2" y1="120.1" x2="509.4" y2="120.1" stroke="#404040" stroke-width="0.6"/>
<text x="469.1" y="164.8" font-size="10" text-anchor="middle" fill="#262626" font-weight="normal" textLength="53.4" lengthAdjust="spacingAndGlyphs">Fast time (<tspan font-family="Liberation Serif" font-style="italic">&#964;</tspan>)</text>
<text x="438.3" y="17.6" font-size="14" text-anchor="start" fill="#ffffff" font-weight="bold" >ii</text>
<g clip-path="url(#clipD2)">
<rect x="517" y="2.3" width="80.6" height="136.2" fill="url(#dBg)"/>
<ellipse cx="565.4" cy="36.3" rx="34" ry="40" fill="url(#dGlow)"/>
<g clip-path="url(#dR2)">
<path d="M590,20.6 L578.9,22.1 L574.1,23.6 L570.8,25.1 L567.9,26.6 L565.9,28.1 L564.4,29.6 L563.3,30.6 L560.7,33.6 L559.2,36.6 L557.7,39.6 L557,42.6 L556.4,45.6 L555.9,48.6 L555.1,51.6 L554.2,54.6 L553.2,57.6 L552.4,60.6 L551.6,63.6 L550.9,66.6 L550.1,69.6 L549.5,72.6 L548.9,75.6 L548.3,78.6 L547.8,81.6 L547.3,84.6 L546.9,87.6 L546.5,90.5 L546.5,92.5 L557,90.8 L557.3,90.9 L563.2,93.9 L564.8,96.9 L566.2,99.9 L567.8,102.9 L568.9,105.9 L569.9,108.9 L571,111.9 L572.1,114.9 L573,117.9 L573.9,120.9 L574.9,123.9 L575.8,126.9 L576.5,129.9 L577.1,132.9 L577.8,135.9 L578.3,138.9 L578.5,141 L599.6,141 L599.6,19.9Z" fill="#010c52"/>
<path d="M637.6,20.7 L604.5,20.4 L588.8,21.4 L583.1,22.4 L579.5,23.4 L577.7,24.4 L575.9,25.4 L574.2,26.4 L572.9,27.4 L571.5,28.4 L570.1,29.4 L569.1,30.4 L568.1,31.4 L567.1,32.4 L566.2,33.4 L565.2,34.4 L564.2,35.4 L563.5,36.4 L563,37.4 L562.5,38.4 L562,39.4 L561.5,40.4 L561,41.4 L560.5,42.4 L559.2,45.4 L558,48.4 L556.9,51.4 L555.9,54.4 L555,57.4 L554.1,60.4 L553.2,63.4 L552.4,66.4 L551.7,69.4 L550.9,72.4 L550.2,75.4 L549.4,78.4 L548.7,81.4 L548.3,84.4 L547.7,87.4 L546.9,90.4 L546.2,93.4 L545.7,96.4 L545.1,99.4 L544.5,102.4 L543.9,105.4 L543.3,108.4 L542.7,111.4 L542.2,114.4 L541.6,117.4 L541,120.4 L540.4,123.4 L539.8,126.4 L539.2,129.4 L538.5,132.4 L537.8,135.4 L537.2,138.4 L537,141" fill="none" stroke="#1478f0" stroke-width="1.6" opacity="1"/>
<path d="M637.6,20.7 L607.9,20.4 L592.2,21.4 L586.5,22.4 L582.9,23.4 L581.1,24.4 L579.3,25.4 L577.6,26.4 L576.3,27.4 L574.9,28.4 L573.5,29.4 L572.5,30.4 L571.5,31.4 L570.5,32.4 L569.6,33.4 L568.6,34.4 L567.6,35.4 L566.9,36.4 L566.4,37.4 L565.9,38.4 L565.4,39.4 L564.9,40.4 L564.4,41.4 L563.9,42.4 L562.6,45.4 L561.4,48.4 L560.3,51.4 L559.3,54.4 L558.4,57.4 L557.5,60.4 L556.6,63.4 L555.8,66.4 L555.1,69.4 L554.3,72.4 L553.6,75.4 L552.8,78.4 L552.1,81.4 L551.7,84.4 L551.1,87.4 L550.3,90.4 L549.6,93.4 L549.1,96.4 L548.5,99.4 L547.9,102.4 L547.3,105.4 L546.7,108.4 L546.1,111.4 L545.6,114.4 L545,117.4 L544.4,120.4 L543.8,123.4 L543.2,126.4 L542.6,129.4 L541.9,132.4 L541.2,135.4 L540.6,138.4 L540.4,141" fill="none" stroke="#1478f0" stroke-width="1.6" opacity="0.9"/>
<path d="M637.6,20.7 L611.3,20.4 L595.6,21.4 L589.9,22.4 L586.3,23.4 L584.5,24.4 L582.7,25.4 L581,26.4 L579.7,27.4 L578.3,28.4 L576.9,29.4 L575.9,30.4 L574.9,31.4 L573.9,32.4 L573,33.4 L572,34.4 L571,35.4 L570.3,36.4 L569.8,37.4 L569.3,38.4 L568.8,39.4 L568.3,40.4 L567.8,41.4 L567.3,42.4 L566,45.4 L564.8,48.4 L563.7,51.4 L562.7,54.4 L561.8,57.4 L560.9,60.4 L560,63.4 L559.2,66.4 L558.5,69.4 L557.7,72.4 L557,75.4 L556.2,78.4 L555.5,81.4 L555.1,84.4 L554.5,87.4 L553.7,90.4 L553,93.4 L552.5,96.4 L551.9,99.4 L551.3,102.4 L550.7,105.4 L550.1,108.4 L549.5,111.4 L549,114.4 L548.4,117.4 L547.8,120.4 L547.2,123.4 L546.6,126.4 L546,129.4 L545.3,132.4 L544.6,135.4 L544,138.4 L543.8,141" fill="none" stroke="#1478f0" stroke-width="1.6" opacity="0.8"/>
<path d="M637.6,20.7 L614.7,20.4 L599,21.4 L593.3,22.4 L589.7,23.4 L587.9,24.4 L586.1,25.4 L584.4,26.4 L583.1,27.4 L581.7,28.4 L580.3,29.4 L579.3,30.4 L578.3,31.4 L577.3,32.4 L576.4,33.4 L575.4,34.4 L574.4,35.4 L573.7,36.4 L573.2,37.4 L572.7,38.4 L572.2,39.4 L571.7,40.4 L571.2,41.4 L570.7,42.4 L569.4,45.4 L568.2,48.4 L567.1,51.4 L566.1,54.4 L565.2,57.4 L564.3,60.4 L563.4,63.4 L562.6,66.4 L561.9,69.4 L561.1,72.4 L560.4,75.4 L559.6,78.4 L558.9,81.4 L558.5,84.4 L557.9,87.4 L557.1,90.4 L556.4,93.4 L555.9,96.4 L555.3,99.4 L554.7,102.4 L554.1,105.4 L553.5,108.4 L552.9,111.4 L552.4,114.4 L551.8,117.4 L551.2,120.4 L550.6,123.4 L550,126.4 L549.4,129.4 L548.7,132.4 L548,135.4 L547.4,138.4 L547.2,141" fill="none" stroke="#1478f0" stroke-width="1.6" opacity="0.7"/>
<path d="M637.6,20.7 L618.1,20.4 L602.4,21.4 L596.7,22.4 L593.1,23.4 L591.3,24.4 L589.5,25.4 L587.8,26.4 L586.5,27.4 L585.1,28.4 L583.7,29.4 L582.7,30.4 L581.7,31.4 L580.7,32.4 L579.8,33.4 L578.8,34.4 L577.8,35.4 L577.1,36.4 L576.6,37.4 L576.1,38.4 L575.6,39.4 L575.1,40.4 L574.6,41.4 L574.1,42.4 L572.8,45.4 L571.6,48.4 L570.5,51.4 L569.5,54.4 L568.6,57.4 L567.7,60.4 L566.8,63.4 L566,66.4 L565.3,69.4 L564.5,72.4 L563.8,75.4 L563,78.4 L562.3,81.4 L561.9,84.4 L561.3,87.4 L560.5,90.4 L559.8,93.4 L559.3,96.4 L558.7,99.4 L558.1,102.4 L557.5,105.4 L556.9,108.4 L556.3,111.4 L555.8,114.4 L555.2,117.4 L554.6,120.4 L554,123.4 L553.4,126.4 L552.8,129.4 L552.1,132.4 L551.4,135.4 L550.8,138.4 L550.6,141" fill="none" stroke="#1478f0" stroke-width="1.6" opacity="0.6"/>
<path d="M637.6,20.7 L621.5,20.4 L605.8,21.4 L600.1,22.4 L596.5,23.4 L594.7,24.4 L592.9,25.4 L591.2,26.4 L589.9,27.4 L588.5,28.4 L587.1,29.4 L586.1,30.4 L585.1,31.4 L584.1,32.4 L583.2,33.4 L582.2,34.4 L581.2,35.4 L580.5,36.4 L580,37.4 L579.5,38.4 L579,39.4 L578.5,40.4 L578,41.4 L577.5,42.4 L576.2,45.4 L575,48.4 L573.9,51.4 L572.9,54.4 L572,57.4 L571.1,60.4 L570.2,63.4 L569.4,66.4 L568.7,69.4 L567.9,72.4 L567.2,75.4 L566.4,78.4 L565.7,81.4 L565.3,84.4 L564.7,87.4 L563.9,90.4 L563.2,93.4 L562.7,96.4 L562.1,99.4 L561.5,102.4 L560.9,105.4 L560.3,108.4 L559.7,111.4 L559.2,114.4 L558.6,117.4 L558,120.4 L557.4,123.4 L556.8,126.4 L556.2,129.4 L555.5,132.4 L554.8,135.4 L554.2,138.4 L554,141" fill="none" stroke="#1478f0" stroke-width="1.6" opacity="0.6"/>
<path d="M637.6,20.7 L624.9,20.4 L609.2,21.4 L603.5,22.4 L599.9,23.4 L598.1,24.4 L596.3,25.4 L594.6,26.4 L593.3,27.4 L591.9,28.4 L590.5,29.4 L589.5,30.4 L588.5,31.4 L587.5,32.4 L586.6,33.4 L585.6,34.4 L584.6,35.4 L583.9,36.4 L583.4,37.4 L582.9,38.4 L582.4,39.4 L581.9,40.4 L581.4,41.4 L580.9,42.4 L579.6,45.4 L578.4,48.4 L577.3,51.4 L576.3,54.4 L575.4,57.4 L574.5,60.4 L573.6,63.4 L572.8,66.4 L572.1,69.4 L571.3,72.4 L570.6,75.4 L569.8,78.4 L569.1,81.4 L568.7,84.4 L568.1,87.4 L567.3,90.4 L566.6,93.4 L566.1,96.4 L565.5,99.4 L564.9,102.4 L564.3,105.4 L563.7,108.4 L563.1,111.4 L562.6,114.4 L562,117.4 L561.4,120.4 L560.8,123.4 L560.2,126.4 L559.6,129.4 L558.9,132.4 L558.2,135.4 L557.6,138.4 L557.4,141" fill="none" stroke="#1478f0" stroke-width="1.6" opacity="0.5"/>
<path d="M637.6,20.7 L628.3,20.4 L612.6,21.4 L606.9,22.4 L603.3,23.4 L601.5,24.4 L599.7,25.4 L598,26.4 L596.7,27.4 L595.3,28.4 L593.9,29.4 L592.9,30.4 L591.9,31.4 L590.9,32.4 L590,33.4 L589,34.4 L588,35.4 L587.3,36.4 L586.8,37.4 L586.3,38.4 L585.8,39.4 L585.3,40.4 L584.8,41.4 L584.3,42.4 L583,45.4 L581.8,48.4 L580.7,51.4 L579.7,54.4 L578.8,57.4 L577.9,60.4 L577,63.4 L576.2,66.4 L575.5,69.4 L574.7,72.4 L574,75.4 L573.2,78.4 L572.5,81.4 L572.1,84.4 L571.5,87.4 L570.7,90.4 L570,93.4 L569.5,96.4 L568.9,99.4 L568.3,102.4 L567.7,105.4 L567.1,108.4 L566.5,111.4 L566,114.4 L565.4,117.4 L564.8,120.4 L564.2,123.4 L563.6,126.4 L563,129.4 L562.3,132.4 L561.6,135.4 L561,138.4 L560.8,141" fill="none" stroke="#1478f0" stroke-width="1.6" opacity="0.4"/>
<path d="M637.6,20.7 L631.7,20.4 L616,21.4 L610.3,22.4 L606.7,23.4 L604.9,24.4 L603.1,25.4 L601.4,26.4 L600.1,27.4 L598.7,28.4 L597.3,29.4 L596.3,30.4 L595.3,31.4 L594.3,32.4 L593.4,33.4 L592.4,34.4 L591.4,35.4 L590.7,36.4 L590.2,37.4 L589.7,38.4 L589.2,39.4 L588.7,40.4 L588.2,41.4 L587.7,42.4 L586.4,45.4 L585.2,48.4 L584.1,51.4 L583.1,54.4 L582.2,57.4 L581.3,60.4 L580.4,63.4 L579.6,66.4 L578.9,69.4 L578.1,72.4 L577.4,75.4 L576.6,78.4 L575.9,81.4 L575.5,84.4 L574.9,87.4 L574.1,90.4 L573.4,93.4 L572.9,96.4 L572.3,99.4 L571.7,102.4 L571.1,105.4 L570.5,108.4 L569.9,111.4 L569.4,114.4 L568.8,117.4 L568.2,120.4 L567.6,123.4 L567,126.4 L566.4,129.4 L565.7,132.4 L565,135.4 L564.4,138.4 L564.2,141" fill="none" stroke="#1478f0" stroke-width="1.6" opacity="0.3"/>
<path d="M637.6,20.7 L635.1,20.4 L619.4,21.4 L613.7,22.4 L610.1,23.4 L608.3,24.4 L606.5,25.4 L604.8,26.4 L603.5,27.4 L602.1,28.4 L600.7,29.4 L599.7,30.4 L598.7,31.4 L597.7,32.4 L596.8,33.4 L595.8,34.4 L594.8,35.4 L594.1,36.4 L593.6,37.4 L593.1,38.4 L592.6,39.4 L592.1,40.4 L591.6,41.4 L591.1,42.4 L589.8,45.4 L588.6,48.4 L587.5,51.4 L586.5,54.4 L585.6,57.4 L584.7,60.4 L583.8,63.4 L583,66.4 L582.3,69.4 L581.5,72.4 L580.8,75.4 L580,78.4 L579.3,81.4 L578.9,84.4 L578.3,87.4 L577.5,90.4 L576.8,93.4 L576.3,96.4 L575.7,99.4 L575.1,102.4 L574.5,105.4 L573.9,108.4 L573.3,111.4 L572.8,114.4 L572.2,117.4 L571.6,120.4 L571,123.4 L570.4,126.4 L569.8,129.4 L569.1,132.4 L568.4,135.4 L567.8,138.4 L567.6,141" fill="none" stroke="#1478f0" stroke-width="1.6" opacity="0.2"/>
<path d="M637.6,20.7 L638.5,20.4 L622.8,21.4 L617.1,22.4 L613.5,23.4 L611.7,24.4 L609.9,25.4 L608.2,26.4 L606.9,27.4 L605.5,28.4 L604.1,29.4 L603.1,30.4 L602.1,31.4 L601.1,32.4 L600.2,33.4 L599.2,34.4 L598.2,35.4 L597.5,36.4 L597,37.4 L596.5,38.4 L596,39.4 L595.5,40.4 L595,41.4 L594.5,42.4 L593.2,45.4 L592,48.4 L590.9,51.4 L589.9,54.4 L589,57.4 L588.1,60.4 L587.2,63.4 L586.4,66.4 L585.7,69.4 L584.9,72.4 L584.2,75.4 L583.4,78.4 L582.7,81.4 L582.3,84.4 L581.7,87.4 L580.9,90.4 L580.2,93.4 L579.7,96.4 L579.1,99.4 L578.5,102.4 L577.9,105.4 L577.3,108.4 L576.7,111.4 L576.2,114.4 L575.6,117.4 L575,120.4 L574.4,123.4 L573.8,126.4 L573.2,129.4 L572.5,132.4 L571.8,135.4 L571.2,138.4 L571,141" fill="none" stroke="#1478f0" stroke-width="1.6" opacity="0.1"/>
<path d="M637.6,20.7 L641.9,20.4 L626.2,21.4 L620.5,22.4 L616.9,23.4 L615.1,24.4 L613.3,25.4 L611.6,26.4 L610.3,27.4 L608.9,28.4 L607.5,29.4 L606.5,30.4 L605.5,31.4 L604.5,32.4 L603.6,33.4 L602.6,34.4 L601.6,35.4 L600.9,36.4 L600.4,37.4 L599.9,38.4 L599.4,39.4 L598.9,40.4 L598.4,41.4 L597.9,42.4 L596.6,45.4 L595.4,48.4 L594.3,51.4 L593.3,54.4 L592.4,57.4 L591.5,60.4 L590.6,63.4 L589.8,66.4 L589.1,69.4 L588.3,72.4 L587.6,75.4 L586.8,78.4 L586.1,81.4 L585.7,84.4 L585.1,87.4 L584.3,90.4 L583.6,93.4 L583.1,96.4 L582.5,99.4 L581.9,102.4 L581.3,105.4 L580.7,108.4 L580.1,111.4 L579.6,114.4 L579,117.4 L578.4,120.4 L577.8,123.4 L577.2,126.4 L576.6,129.4 L575.9,132.4 L575.2,135.4 L574.6,138.4 L574.4,141" fill="none" stroke="#1478f0" stroke-width="1.6" opacity="0.1"/>
<path d="M637.6,20.7 L645.3,20.4 L629.6,21.4 L623.9,22.4 L620.3,23.4 L618.5,24.4 L616.7,25.4 L615,26.4 L613.7,27.4 L612.3,28.4 L610.9,29.4 L609.9,30.4 L608.9,31.4 L607.9,32.4 L607,33.4 L606,34.4 L605,35.4 L604.3,36.4 L603.8,37.4 L603.3,38.4 L602.8,39.4 L602.3,40.4 L601.8,41.4 L601.3,42.4 L600,45.4 L598.8,48.4 L597.7,51.4 L596.7,54.4 L595.8,57.4 L594.9,60.4 L594,63.4 L593.2,66.4 L592.5,69.4 L591.7,72.4 L591,75.4 L590.2,78.4 L589.5,81.4 L589.1,84.4 L588.5,87.4 L587.7,90.4 L587,93.4 L586.5,96.4 L585.9,99.4 L585.3,102.4 L584.7,105.4 L584.1,108.4 L583.5,111.4 L583,114.4 L582.4,117.4 L581.8,120.4 L581.2,123.4 L580.6,126.4 L580,129.4 L579.3,132.4 L578.6,135.4 L578,138.4 L577.8,141" fill="none" stroke="#1478f0" stroke-width="1.6" opacity="0.1"/>
<path d="M637.6,20.7 L648.7,20.4 L633,21.4 L627.3,22.4 L623.7,23.4 L621.9,24.4 L620.1,25.4 L618.4,26.4 L617.1,27.4 L615.7,28.4 L614.3,29.4 L613.3,30.4 L612.3,31.4 L611.3,32.4 L610.4,33.4 L609.4,34.4 L608.4,35.4 L607.7,36.4 L607.2,37.4 L606.7,38.4 L606.2,39.4 L605.7,40.4 L605.2,41.4 L604.7,42.4 L603.4,45.4 L602.2,48.4 L601.1,51.4 L600.1,54.4 L599.2,57.4 L598.3,60.4 L597.4,63.4 L596.6,66.4 L595.9,69.4 L595.1,72.4 L594.4,75.4 L593.6,78.4 L592.9,81.4 L592.5,84.4 L591.9,87.4 L591.1,90.4 L590.4,93.4 L589.9,96.4 L589.3,99.4 L588.7,102.4 L588.1,105.4 L587.5,108.4 L586.9,111.4 L586.4,114.4 L585.8,117.4 L585.2,120.4 L584.6,123.4 L584,126.4 L583.4,129.4 L582.7,132.4 L582,135.4 L581.4,138.4 L581.2,141" fill="none" stroke="#1478f0" stroke-width="1.6" opacity="0.1"/>
<path d="M637.6,20.7 L652.1,20.4 L636.4,21.4 L630.7,22.4 L627.1,23.4 L625.3,24.4 L623.5,25.4 L621.8,26.4 L620.5,27.4 L619.1,28.4 L617.7,29.4 L616.7,30.4 L615.7,31.4 L614.7,32.4 L613.8,33.4 L612.8,34.4 L611.8,35.4 L611.1,36.4 L610.6,37.4 L610.1,38.4 L609.6,39.4 L609.1,40.4 L608.6,41.4 L608.1,42.4 L606.8,45.4 L605.6,48.4 L604.5,51.4 L603.5,54.4 L602.6,57.4 L601.7,60.4 L600.8,63.4 L600,66.4 L599.3,69.4 L598.5,72.4 L597.8,75.4 L597,78.4 L596.3,81.4 L595.9,84.4 L595.3,87.4 L594.5,90.4 L593.8,93.4 L593.3,96.4 L592.7,99.4 L592.1,102.4 L591.5,105.4 L590.9,108.4 L590.3,111.4 L589.8,114.4 L589.2,117.4 L588.6,120.4 L588,123.4 L587.4,126.4 L586.8,129.4 L586.1,132.4 L585.4,135.4 L584.8,138.4 L584.6,141" fill="none" stroke="#1478f0" stroke-width="1.6" opacity="0.1"/>
<path d="M637.6,20.7 L655.5,20.4 L639.8,21.4 L634.1,22.4 L630.5,23.4 L628.7,24.4 L626.9,25.4 L625.2,26.4 L623.9,27.4 L622.5,28.4 L621.1,29.4 L620.1,30.4 L619.1,31.4 L618.1,32.4 L617.2,33.4 L616.2,34.4 L615.2,35.4 L614.5,36.4 L614,37.4 L613.5,38.4 L613,39.4 L612.5,40.4 L612,41.4 L611.5,42.4 L610.2,45.4 L609,48.4 L607.9,51.4 L606.9,54.4 L606,57.4 L605.1,60.4 L604.2,63.4 L603.4,66.4 L602.7,69.4 L601.9,72.4 L601.2,75.4 L600.4,78.4 L599.7,81.4 L599.3,84.4 L598.7,87.4 L597.9,90.4 L597.2,93.4 L596.7,96.4 L596.1,99.4 L595.5,102.4 L594.9,105.4 L594.3,108.4 L593.7,111.4 L593.2,114.4 L592.6,117.4 L592,120.4 L591.4,123.4 L590.8,126.4 L590.2,129.4 L589.5,132.4 L588.8,135.4 L588.2,138.4 L588,141" fill="none" stroke="#1478f0" stroke-width="1.6" opacity="0.1"/>
<path d="M637.6,20.7 L658.9,20.4 L643.2,21.4 L637.5,22.4 L633.9,23.4 L632.1,24.4 L630.3,25.4 L628.6,26.4 L627.3,27.4 L625.9,28.4 L624.5,29.4 L623.5,30.4 L622.5,31.4 L621.5,32.4 L620.6,33.4 L619.6,34.4 L618.6,35.4 L617.9,36.4 L617.4,37.4 L616.9,38.4 L616.4,39.4 L615.9,40.4 L615.4,41.4 L614.9,42.4 L613.6,45.4 L612.4,48.4 L611.3,51.4 L610.3,54.4 L609.4,57.4 L608.5,60.4 L607.6,63.4 L606.8,66.4 L606.1,69.4 L605.3,72.4 L604.6,75.4 L603.8,78.4 L603.1,81.4 L602.7,84.4 L602.1,87.4 L601.3,90.4 L600.6,93.4 L600.1,96.4 L599.5,99.4 L598.9,102.4 L598.3,105.4 L597.7,108.4 L597.1,111.4 L596.6,114.4 L596,117.4 L595.4,120.4 L594.8,123.4 L594.2,126.4 L593.6,129.4 L592.9,132.4 L592.2,135.4 L591.6,138.4 L591.4,141" fill="none" stroke="#1478f0" stroke-width="1.6" opacity="0.1"/>
<path d="M637.6,20.7 L662.3,20.4 L646.6,21.4 L640.9,22.4 L637.3,23.4 L635.5,24.4 L633.7,25.4 L632,26.4 L630.7,27.4 L629.3,28.4 L627.9,29.4 L626.9,30.4 L625.9,31.4 L624.9,32.4 L624,33.4 L623,34.4 L622,35.4 L621.3,36.4 L620.8,37.4 L620.3,38.4 L619.8,39.4 L619.3,40.4 L618.8,41.4 L618.3,42.4 L617,45.4 L615.8,48.4 L614.7,51.4 L613.7,54.4 L612.8,57.4 L611.9,60.4 L611,63.4 L610.2,66.4 L609.5,69.4 L608.7,72.4 L608,75.4 L607.2,78.4 L606.5,81.4 L606.1,84.4 L605.5,87.4 L604.7,90.4 L604,93.4 L603.5,96.4 L602.9,99.4 L602.3,102.4 L601.7,105.4 L601.1,108.4 L600.5,111.4 L600,114.4 L599.4,117.4 L598.8,120.4 L598.2,123.4 L597.6,126.4 L597,129.4 L596.3,132.4 L595.6,135.4 L595,138.4 L594.8,141" fill="none" stroke="#1478f0" stroke-width="1.6" opacity="0.1"/>
<path d="M637.6,20.7 L665.7,20.4 L650,21.4 L644.3,22.4 L640.7,23.4 L638.9,24.4 L637.1,25.4 L635.4,26.4 L634.1,27.4 L632.7,28.4 L631.3,29.4 L630.3,30.4 L629.3,31.4 L628.3,32.4 L627.4,33.4 L626.4,34.4 L625.4,35.4 L624.7,36.4 L624.2,37.4 L623.7,38.4 L623.2,39.4 L622.7,40.4 L622.2,41.4 L621.7,42.4 L620.4,45.4 L619.2,48.4 L618.1,51.4 L617.1,54.4 L616.2,57.4 L615.3,60.4 L614.4,63.4 L613.6,66.4 L612.9,69.4 L612.1,72.4 L611.4,75.4 L610.6,78.4 L609.9,81.4 L609.5,84.4 L608.9,87.4 L608.1,90.4 L607.4,93.4 L606.9,96.4 L606.3,99.4 L605.7,102.4 L605.1,105.4 L604.5,108.4 L603.9,111.4 L603.4,114.4 L602.8,117.4 L602.2,120.4 L601.6,123.4 L601,126.4 L600.4,129.4 L599.7,132.4 L599,135.4 L598.4,138.4 L598.2,141" fill="none" stroke="#1478f0" stroke-width="1.6" opacity="0.1"/>
<path d="M637.6,20.7 L669.1,20.4 L653.4,21.4 L647.7,22.4 L644.1,23.4 L642.3,24.4 L640.5,25.4 L638.8,26.4 L637.5,27.4 L636.1,28.4 L634.7,29.4 L633.7,30.4 L632.7,31.4 L631.7,32.4 L630.8,33.4 L629.8,34.4 L628.8,35.4 L628.1,36.4 L627.6,37.4 L627.1,38.4 L626.6,39.4 L626.1,40.4 L625.6,41.4 L625.1,42.4 L623.8,45.4 L622.6,48.4 L621.5,51.4 L620.5,54.4 L619.6,57.4 L618.7,60.4 L617.8,63.4 L617,66.4 L616.3,69.4 L615.5,72.4 L614.8,75.4 L614,78.4 L613.3,81.4 L612.9,84.4 L612.3,87.4 L611.5,90.4 L610.8,93.4 L610.3,96.4 L609.7,99.4 L609.1,102.4 L608.5,105.4 L607.9,108.4 L607.3,111.4 L606.8,114.4 L606.2,117.4 L605.6,120.4 L605,123.4 L604.4,126.4 L603.8,129.4 L603.1,132.4 L602.4,135.4 L601.8,138.4 L601.6,141" fill="none" stroke="#1478f0" stroke-width="1.6" opacity="0.1"/>
<path d="M637.6,20.7 L672.5,20.4 L656.8,21.4 L651.1,22.4 L647.5,23.4 L645.7,24.4 L643.9,25.4 L642.2,26.4 L640.9,27.4 L639.5,28.4 L638.1,29.4 L637.1,30.4 L636.1,31.4 L635.1,32.4 L634.2,33.4 L633.2,34.4 L632.2,35.4 L631.5,36.4 L631,37.4 L630.5,38.4 L630,39.4 L629.5,40.4 L629,41.4 L628.5,42.4 L627.2,45.4 L626,48.4 L624.9,51.4 L623.9,54.4 L623,57.4 L622.1,60.4 L621.2,63.4 L620.4,66.4 L619.7,69.4 L618.9,72.4 L618.2,75.4 L617.4,78.4 L616.7,81.4 L616.3,84.4 L615.7,87.4 L614.9,90.4 L614.2,93.4 L613.7,96.4 L613.1,99.4 L612.5,102.4 L611.9,105.4 L611.3,108.4 L610.7,111.4 L610.2,114.4 L609.6,117.4 L609,120.4 L608.4,123.4 L607.8,126.4 L607.2,129.4 L606.5,132.4 L605.8,135.4 L605.2,138.4 L605,141" fill="none" stroke="#1478f0" stroke-width="1.6" opacity="0.1"/>
<path d="M637.6,20.7 L675.9,20.4 L660.2,21.4 L654.5,22.4 L650.9,23.4 L649.1,24.4 L647.3,25.4 L645.6,26.4 L644.3,27.4 L642.9,28.4 L641.5,29.4 L640.5,30.4 L639.5,31.4 L638.5,32.4 L637.6,33.4 L636.6,34.4 L635.6,35.4 L634.9,36.4 L634.4,37.4 L633.9,38.4 L633.4,39.4 L632.9,40.4 L632.4,41.4 L631.9,42.4 L630.6,45.4 L629.4,48.4 L628.3,51.4 L627.3,54.4 L626.4,57.4 L625.5,60.4 L624.6,63.4 L623.8,66.4 L623.1,69.4 L622.3,72.4 L621.6,75.4 L620.8,78.4 L620.1,81.4 L619.7,84.4 L619.1,87.4 L618.3,90.4 L617.6,93.4 L617.1,96.4 L616.5,99.4 L615.9,102.4 L615.3,105.4 L614.7,108.4 L614.1,111.4 L613.6,114.4 L613,117.4 L612.4,120.4 L611.8,123.4 L611.2,126.4 L610.6,129.4 L609.9,132.4 L609.2,135.4 L608.6,138.4 L608.4,141" fill="none" stroke="#1478f0" stroke-width="1.6" opacity="0.1"/>
<path d="M637.6,20.7 L679.3,20.4 L663.6,21.4 L657.9,22.4 L654.3,23.4 L652.5,24.4 L650.7,25.4 L649,26.4 L647.7,27.4 L646.3,28.4 L644.9,29.4 L643.9,30.4 L642.9,31.4 L641.9,32.4 L641,33.4 L640,34.4 L639,35.4 L638.3,36.4 L637.8,37.4 L637.3,38.4 L636.8,39.4 L636.3,40.4 L635.8,41.4 L635.3,42.4 L634,45.4 L632.8,48.4 L631.7,51.4 L630.7,54.4 L629.8,57.4 L628.9,60.4 L628,63.4 L627.2,66.4 L626.5,69.4 L625.7,72.4 L625,75.4 L624.2,78.4 L623.5,81.4 L623.1,84.4 L622.5,87.4 L621.7,90.4 L621,93.4 L620.5,96.4 L619.9,99.4 L619.3,102.4 L618.7,105.4 L618.1,108.4 L617.5,111.4 L617,114.4 L616.4,117.4 L615.8,120.4 L615.2,123.4 L614.6,126.4 L614,129.4 L613.3,132.4 L612.6,135.4 L612,138.4 L611.8,141" fill="none" stroke="#1478f0" stroke-width="1.6" opacity="0.1"/>
<path d="M637.6,20.7 L682.7,20.4 L667,21.4 L661.3,22.4 L657.7,23.4 L655.9,24.4 L654.1,25.4 L652.4,26.4 L651.1,27.4 L649.7,28.4 L648.3,29.4 L647.3,30.4 L646.3,31.4 L645.3,32.4 L644.4,33.4 L643.4,34.4 L642.4,35.4 L641.7,36.4 L641.2,37.4 L640.7,38.4 L640.2,39.4 L639.7,40.4 L639.2,41.4 L638.7,42.4 L637.4,45.4 L636.2,48.4 L635.1,51.4 L634.1,54.4 L633.2,57.4 L632.3,60.4 L631.4,63.4 L630.6,66.4 L629.9,69.4 L629.1,72.4 L628.4,75.4 L627.6,78.4 L626.9,81.4 L626.5,84.4 L625.9,87.4 L625.1,90.4 L624.4,93.4 L623.9,96.4 L623.3,99.4 L622.7,102.4 L622.1,105.4 L621.5,108.4 L620.9,111.4 L620.4,114.4 L619.8,117.4 L619.2,120.4 L618.6,123.4 L618,126.4 L617.4,129.4 L616.7,132.4 L616,135.4 L615.4,138.4 L615.2,141" fill="none" stroke="#1478f0" stroke-width="1.6" opacity="0.1"/>
<path d="M637.6,20.7 L686.1,20.4 L670.4,21.4 L664.7,22.4 L661.1,23.4 L659.3,24.4 L657.5,25.4 L655.8,26.4 L654.5,27.4 L653.1,28.4 L651.7,29.4 L650.7,30.4 L649.7,31.4 L648.7,32.4 L647.8,33.4 L646.8,34.4 L645.8,35.4 L645.1,36.4 L644.6,37.4 L644.1,38.4 L643.6,39.4 L643.1,40.4 L642.6,41.4 L642.1,42.4 L640.8,45.4 L639.6,48.4 L638.5,51.4 L637.5,54.4 L636.6,57.4 L635.7,60.4 L634.8,63.4 L634,66.4 L633.3,69.4 L632.5,72.4 L631.8,75.4 L631,78.4 L630.3,81.4 L629.9,84.4 L629.3,87.4 L628.5,90.4 L627.8,93.4 L627.3,96.4 L626.7,99.4 L626.1,102.4 L625.5,105.4 L624.9,108.4 L624.3,111.4 L623.8,114.4 L623.2,117.4 L622.6,120.4 L622,123.4 L621.4,126.4 L620.8,129.4 L620.1,132.4 L619.4,135.4 L618.8,138.4 L618.6,141" fill="none" stroke="#1478f0" stroke-width="1.6" opacity="0.1"/>
<path d="M637.6,20.7 L689.5,20.4 L673.8,21.4 L668.1,22.4 L664.5,23.4 L662.7,24.4 L660.9,25.4 L659.2,26.4 L657.9,27.4 L656.5,28.4 L655.1,29.4 L654.1,30.4 L653.1,31.4 L652.1,32.4 L651.2,33.4 L650.2,34.4 L649.2,35.4 L648.5,36.4 L648,37.4 L647.5,38.4 L647,39.4 L646.5,40.4 L646,41.4 L645.5,42.4 L644.2,45.4 L643,48.4 L641.9,51.4 L640.9,54.4 L640,57.4 L639.1,60.4 L638.2,63.4 L637.4,66.4 L636.7,69.4 L635.9,72.4 L635.2,75.4 L634.4,78.4 L633.7,81.4 L633.3,84.4 L632.7,87.4 L631.9,90.4 L631.2,93.4 L630.7,96.4 L630.1,99.4 L629.5,102.4 L628.9,105.4 L628.3,108.4 L627.7,111.4 L627.2,114.4 L626.6,117.4 L626,120.4 L625.4,123.4 L624.8,126.4 L624.2,129.4 L623.5,132.4 L622.8,135.4 L622.2,138.4 L622,141" fill="none" stroke="#1478f0" stroke-width="1.6" opacity="0.1"/>
<path d="M637.6,20.7 L692.9,20.4 L677.2,21.4 L671.5,22.4 L667.9,23.4 L666.1,24.4 L664.3,25.4 L662.6,26.4 L661.3,27.4 L659.9,28.4 L658.5,29.4 L657.5,30.4 L656.5,31.4 L655.5,32.4 L654.6,33.4 L653.6,34.4 L652.6,35.4 L651.9,36.4 L651.4,37.4 L650.9,38.4 L650.4,39.4 L649.9,40.4 L649.4,41.4 L648.9,42.4 L647.6,45.4 L646.4,48.4 L645.3,51.4 L644.3,54.4 L643.4,57.4 L642.5,60.4 L641.6,63.4 L640.8,66.4 L640.1,69.4 L639.3,72.4 L638.6,75.4 L637.8,78.4 L637.1,81.4 L636.7,84.4 L636.1,87.4 L635.3,90.4 L634.6,93.4 L634.1,96.4 L633.5,99.4 L632.9,102.4 L632.3,105.4 L631.7,108.4 L631.1,111.4 L630.6,114.4 L630,117.4 L629.4,120.4 L628.8,123.4 L628.2,126.4 L627.6,129.4 L626.9,132.4 L626.2,135.4 L625.6,138.4 L625.4,141" fill="none" stroke="#1478f0" stroke-width="1.6" opacity="0.1"/>
<path d="M637.6,20.7 L696.3,20.4 L680.6,21.4 L674.9,22.4 L671.3,23.4 L669.5,24.4 L667.7,25.4 L666,26.4 L664.7,27.4 L663.3,28.4 L661.9,29.4 L660.9,30.4 L659.9,31.4 L658.9,32.4 L658,33.4 L657,34.4 L656,35.4 L655.3,36.4 L654.8,37.4 L654.3,38.4 L653.8,39.4 L653.3,40.4 L652.8,41.4 L652.3,42.4 L651,45.4 L649.8,48.4 L648.7,51.4 L647.7,54.4 L646.8,57.4 L645.9,60.4 L645,63.4 L644.2,66.4 L643.5,69.4 L642.7,72.4 L642,75.4 L641.2,78.4 L640.5,81.4 L640.1,84.4 L639.5,87.4 L638.7,90.4 L638,93.4 L637.5,96.4 L636.9,99.4 L636.3,102.4 L635.7,105.4 L635.1,108.4 L634.5,111.4 L634,114.4 L633.4,117.4 L632.8,120.4 L632.2,123.4 L631.6,126.4 L631,129.4 L630.3,132.4 L629.6,135.4 L629,138.4 L628.8,141" fill="none" stroke="#1478f0" stroke-width="1.6" opacity="0.1"/>
<path d="M637.6,20.7 L699.7,20.4 L684,21.4 L678.3,22.4 L674.7,23.4 L672.9,24.4 L671.1,25.4 L669.4,26.4 L668.1,27.4 L666.7,28.4 L665.3,29.4 L664.3,30.4 L663.3,31.4 L662.3,32.4 L661.4,33.4 L660.4,34.4 L659.4,35.4 L658.7,36.4 L658.2,37.4 L657.7,38.4 L657.2,39.4 L656.7,40.4 L656.2,41.4 L655.7,42.4 L654.4,45.4 L653.2,48.4 L652.1,51.4 L651.1,54.4 L650.2,57.4 L649.3,60.4 L648.4,63.4 L647.6,66.4 L646.9,69.4 L646.1,72.4 L645.4,75.4 L644.6,78.4 L643.9,81.4 L643.5,84.4 L642.9,87.4 L642.1,90.4 L641.4,93.4 L640.9,96.4 L640.3,99.4 L639.7,102.4 L639.1,105.4 L638.5,108.4 L637.9,111.4 L637.4,114.4 L636.8,117.4 L636.2,120.4 L635.6,123.4 L635,126.4 L634.4,129.4 L633.7,132.4 L633,135.4 L632.4,138.4 L632.2,141" fill="none" stroke="#1478f0" stroke-width="1.6" opacity="0.1"/>
<path d="M637.6,20.7 L703.1,20.4 L687.4,21.4 L681.7,22.4 L678.1,23.4 L676.3,24.4 L674.5,25.4 L672.8,26.4 L671.5,27.4 L670.1,28.4 L668.7,29.4 L667.7,30.4 L666.7,31.4 L665.7,32.4 L664.8,33.4 L663.8,34.4 L662.8,35.4 L662.1,36.4 L661.6,37.4 L661.1,38.4 L660.6,39.4 L660.1,40.4 L659.6,41.4 L659.1,42.4 L657.8,45.4 L656.6,48.4 L655.5,51.4 L654.5,54.4 L653.6,57.4 L652.7,60.4 L651.8,63.4 L651,66.4 L650.3,69.4 L649.5,72.4 L648.8,75.4 L648,78.4 L647.3,81.4 L646.9,84.4 L646.3,87.4 L645.5,90.4 L644.8,93.4 L644.3,96.4 L643.7,99.4 L643.1,102.4 L642.5,105.4 L641.9,108.4 L641.3,111.4 L640.8,114.4 L640.2,117.4 L639.6,120.4 L639,123.4 L638.4,126.4 L637.8,129.4 L637.1,132.4 L636.4,135.4 L635.8,138.4 L635.6,141" fill="none" stroke="#1478f0" stroke-width="1.6" opacity="0.1"/>
<rect x="556" y="90.8" width="43.6" height="6" fill="url(#ckBg)"/>
<line x1="554.1" y1="90.8" x2="553" y2="96.8" stroke="#28c0ff" stroke-width="1.8"/>
<line x1="558.2" y1="90.8" x2="557.1" y2="96.8" stroke="#28c0ff" stroke-width="1.8"/>
<line x1="562.3" y1="90.8" x2="561.2" y2="96.8" stroke="#1a9af6" stroke-width="1.8"/>
<line x1="566.4" y1="90.8" x2="565.3" y2="96.8" stroke="#1478e2" stroke-width="1.8"/>
<line x1="570.5" y1="90.8" x2="569.4" y2="96.8" stroke="#0e5cc4" stroke-width="1.8"/>
<line x1="574.6" y1="90.8" x2="573.5" y2="96.8" stroke="#0a48aa" stroke-width="1.8"/>
<line x1="578.7" y1="90.8" x2="577.6" y2="96.8" stroke="#083a94" stroke-width="1.8"/>
<line x1="582.8" y1="90.8" x2="581.7" y2="96.8" stroke="#072e80" stroke-width="1.8"/>
<line x1="586.9" y1="90.8" x2="585.8" y2="96.8" stroke="#062672" stroke-width="1.8"/>
<line x1="591" y1="90.8" x2="589.9" y2="96.8" stroke="#052068" stroke-width="1.8"/>
<line x1="595.1" y1="90.8" x2="594" y2="96.8" stroke="#041c62" stroke-width="1.8"/>
<line x1="599.2" y1="90.8" x2="598.1" y2="96.8" stroke="#041a5e" stroke-width="1.8"/>
<rect x="563.7" y="96.8" width="35.9" height="5.9" fill="url(#ckBg)"/>
<line x1="563.8" y1="96.8" x2="562.7" y2="102.7" stroke="#28c0ff" stroke-width="1.8"/>
<line x1="567.9" y1="96.8" x2="566.8" y2="102.7" stroke="#28c0ff" stroke-width="1.8"/>
<line x1="572" y1="96.8" x2="570.9" y2="102.7" stroke="#1a9af6" stroke-width="1.8"/>
<line x1="576.1" y1="96.8" x2="575" y2="102.7" stroke="#1478e2" stroke-width="1.8"/>
<line x1="580.2" y1="96.8" x2="579.1" y2="102.7" stroke="#0e5cc4" stroke-width="1.8"/>
<line x1="584.3" y1="96.8" x2="583.2" y2="102.7" stroke="#0a48aa" stroke-width="1.8"/>
<line x1="588.4" y1="96.8" x2="587.3" y2="102.7" stroke="#083a94" stroke-width="1.8"/>
<line x1="592.5" y1="96.8" x2="591.4" y2="102.7" stroke="#072e80" stroke-width="1.8"/>
<line x1="596.6" y1="96.8" x2="595.5" y2="102.7" stroke="#062672" stroke-width="1.8"/>
<line x1="600.7" y1="96.8" x2="599.6" y2="102.7" stroke="#052068" stroke-width="1.8"/>
<rect x="566.6" y="102.7" width="33" height="5.8" fill="url(#ckBg)"/>
<line x1="564.7" y1="102.7" x2="563.6" y2="108.4" stroke="#28c0ff" stroke-width="1.8"/>
<line x1="568.8" y1="102.7" x2="567.7" y2="108.4" stroke="#28c0ff" stroke-width="1.8"/>
<line x1="572.9" y1="102.7" x2="571.8" y2="108.4" stroke="#1a9af6" stroke-width="1.8"/>
<line x1="577" y1="102.7" x2="575.9" y2="108.4" stroke="#1478e2" stroke-width="1.8"/>
<line x1="581.1" y1="102.7" x2="580" y2="108.4" stroke="#0e5cc4" stroke-width="1.8"/>
<line x1="585.2" y1="102.7" x2="584.1" y2="108.4" stroke="#0a48aa" stroke-width="1.8"/>
<line x1="589.3" y1="102.7" x2="588.2" y2="108.4" stroke="#083a94" stroke-width="1.8"/>
<line x1="593.4" y1="102.7" x2="592.3" y2="108.4" stroke="#072e80" stroke-width="1.8"/>
<line x1="597.5" y1="102.7" x2="596.4" y2="108.4" stroke="#062672" stroke-width="1.8"/>
<line x1="601.6" y1="102.7" x2="600.5" y2="108.4" stroke="#052068" stroke-width="1.8"/>
<rect x="568.8" y="108.4" width="30.8" height="5.7" fill="url(#ckBg)"/>
<line x1="568.9" y1="108.4" x2="567.8" y2="114.1" stroke="#28c0ff" stroke-width="1.8"/>
<line x1="573" y1="108.4" x2="571.9" y2="114.1" stroke="#28c0ff" stroke-width="1.8"/>
<line x1="577.1" y1="108.4" x2="576" y2="114.1" stroke="#1a9af6" stroke-width="1.8"/>
<line x1="581.2" y1="108.4" x2="580.1" y2="114.1" stroke="#1478e2" stroke-width="1.8"/>
<line x1="585.3" y1="108.4" x2="584.2" y2="114.1" stroke="#0e5cc4" stroke-width="1.8"/>
<line x1="589.4" y1="108.4" x2="588.3" y2="114.1" stroke="#0a48aa" stroke-width="1.8"/>
<line x1="593.5" y1="108.4" x2="592.4" y2="114.1" stroke="#083a94" stroke-width="1.8"/>
<line x1="597.6" y1="108.4" x2="596.5" y2="114.1" stroke="#072e80" stroke-width="1.8"/>
<line x1="601.7" y1="108.4" x2="600.6" y2="114.1" stroke="#062672" stroke-width="1.8"/>
<rect x="570.8" y="114.1" width="28.8" height="5.6" fill="url(#ckBg)"/>
<line x1="568.9" y1="114.1" x2="567.8" y2="119.6" stroke="#28c0ff" stroke-width="1.8"/>
<line x1="573" y1="114.1" x2="571.9" y2="119.6" stroke="#28c0ff" stroke-width="1.8"/>
<line x1="577.1" y1="114.1" x2="576" y2="119.6" stroke="#1a9af6" stroke-width="1.8"/>
<line x1="581.2" y1="114.1" x2="580.1" y2="119.6" stroke="#1478e2" stroke-width="1.8"/>
<line x1="585.3" y1="114.1" x2="584.2" y2="119.6" stroke="#0e5cc4" stroke-width="1.8"/>
<line x1="589.4" y1="114.1" x2="588.3" y2="119.6" stroke="#0a48aa" stroke-width="1.8"/>
<line x1="593.5" y1="114.1" x2="592.4" y2="119.6" stroke="#083a94" stroke-width="1.8"/>
<line x1="597.6" y1="114.1" x2="596.5" y2="119.6" stroke="#072e80" stroke-width="1.8"/>
<line x1="601.7" y1="114.1" x2="600.6" y2="119.6" stroke="#062672" stroke-width="1.8"/>
<rect x="572.5" y="119.6" width="27.1" height="5.5" fill="url(#ckBg)"/>
<line x1="572.7" y1="119.6" x2="571.6" y2="125" stroke="#28c0ff" stroke-width="1.8"/>
<line x1="576.8" y1="119.6" x2="575.7" y2="125" stroke="#28c0ff" stroke-width="1.8"/>
<line x1="580.9" y1="119.6" x2="579.8" y2="125" stroke="#1a9af6" stroke-width="1.8"/>
<line x1="585" y1="119.6" x2="583.9" y2="125" stroke="#1478e2" stroke-width="1.8"/>
<line x1="589.1" y1="119.6" x2="588" y2="125" stroke="#0e5cc4" stroke-width="1.8"/>
<line x1="593.2" y1="119.6" x2="592.1" y2="125" stroke="#0a48aa" stroke-width="1.8"/>
<line x1="597.3" y1="119.6" x2="596.2" y2="125" stroke="#083a94" stroke-width="1.8"/>
<line x1="601.4" y1="119.6" x2="600.3" y2="125" stroke="#072e80" stroke-width="1.8"/>
<rect x="574.2" y="125" width="25.4" height="5.4" fill="url(#ckBg)"/>
<line x1="572.3" y1="125" x2="571.2" y2="130.3" stroke="#28c0ff" stroke-width="1.8"/>
<line x1="576.4" y1="125" x2="575.3" y2="130.3" stroke="#28c0ff" stroke-width="1.8"/>
<line x1="580.5" y1="125" x2="579.4" y2="130.3" stroke="#1a9af6" stroke-width="1.8"/>
<line x1="584.6" y1="125" x2="583.5" y2="130.3" stroke="#1478e2" stroke-width="1.8"/>
<line x1="588.7" y1="125" x2="587.6" y2="130.3" stroke="#0e5cc4" stroke-width="1.8"/>
<line x1="592.8" y1="125" x2="591.7" y2="130.3" stroke="#0a48aa" stroke-width="1.8"/>
<line x1="596.9" y1="125" x2="595.8" y2="130.3" stroke="#083a94" stroke-width="1.8"/>
<line x1="601" y1="125" x2="599.9" y2="130.3" stroke="#072e80" stroke-width="1.8"/>
<rect x="575.6" y="130.3" width="24" height="5.2" fill="url(#ckBg)"/>
<line x1="575.7" y1="130.3" x2="574.5" y2="135.5" stroke="#28c0ff" stroke-width="1.8"/>
<line x1="579.8" y1="130.3" x2="578.6" y2="135.5" stroke="#28c0ff" stroke-width="1.8"/>
<line x1="583.9" y1="130.3" x2="582.7" y2="135.5" stroke="#1a9af6" stroke-width="1.8"/>
<line x1="588" y1="130.3" x2="586.8" y2="135.5" stroke="#1478e2" stroke-width="1.8"/>
<line x1="592.1" y1="130.3" x2="590.9" y2="135.5" stroke="#0e5cc4" stroke-width="1.8"/>
<line x1="596.2" y1="130.3" x2="595" y2="135.5" stroke="#0a48aa" stroke-width="1.8"/>
<line x1="600.3" y1="130.3" x2="599.1" y2="135.5" stroke="#083a94" stroke-width="1.8"/>
<rect x="576.7" y="135.5" width="22.9" height="5" fill="url(#ckBg)"/>
<line x1="574.8" y1="135.5" x2="574" y2="140.5" stroke="#28c0ff" stroke-width="1.8"/>
<line x1="578.9" y1="135.5" x2="578.1" y2="140.5" stroke="#28c0ff" stroke-width="1.8"/>
<line x1="583" y1="135.5" x2="582.2" y2="140.5" stroke="#1a9af6" stroke-width="1.8"/>
<line x1="587.1" y1="135.5" x2="586.3" y2="140.5" stroke="#1478e2" stroke-width="1.8"/>
<line x1="591.2" y1="135.5" x2="590.4" y2="140.5" stroke="#0e5cc4" stroke-width="1.8"/>
<line x1="595.3" y1="135.5" x2="594.5" y2="140.5" stroke="#0a48aa" stroke-width="1.8"/>
<line x1="599.4" y1="135.5" x2="598.6" y2="140.5" stroke="#083a94" stroke-width="1.8"/>
<line x1="603.5" y1="135.5" x2="602.7" y2="140.5" stroke="#072e80" stroke-width="1.8"/>
</g>
<path d="M590,20.4 L574.3,21.4 L568.6,22.4 L565,23.4 L563.2,24.4 L561.4,25.4 L559.7,26.4 L558.4,27.4 L557,28.4 L555.6,29.4 L554.6,30.4 L553.6,31.4 L552.6,32.4 L551.7,33.4 L550.7,34.4 L549.7,35.4 L549,36.4 L548.5,37.4 L548,38.4 L547.5,39.4 L547,40.4 L546.5,41.4 L546,42.4 L544.7,45.4 L543.5,48.4 L542.4,51.4 L541.4,54.4 L540.5,57.4 L539.6,60.4 L538.7,63.4 L537.9,66.4 L537.2,69.4 L536.4,72.4 L535.7,75.4 L534.9,78.4 L534.2,81.4 L533.8,84.4 L533.2,87.4 L532.4,90.4 L531.7,93.4 L531.2,96.4 L530.6,99.4 L530,102.4 L529.4,105.4 L528.8,108.4 L528.2,111.4 L527.7,114.4 L527.1,117.4 L526.5,120.4 L525.9,123.4 L525.3,126.4 L524.7,129.4 L524,132.4 L523.3,135.4 L522.7,138.4 L522.5,141" fill="none" stroke="#0a48d8" stroke-width="1.5" opacity="0.85" transform="translate(-0.7,0)"/>
<path d="M590,20.4 L574.3,21.4 L568.6,22.4 L565,23.4 L563.2,24.4 L561.4,25.4 L559.7,26.4 L558.4,27.4 L557,28.4 L555.6,29.4 L554.6,30.4 L553.6,31.4 L552.6,32.4 L551.7,33.4 L550.7,34.4 L549.7,35.4 L549,36.4 L548.5,37.4 L548,38.4 L547.5,39.4 L547,40.4 L546.5,41.4 L546,42.4 L544.7,45.4 L543.5,48.4 L542.4,51.4 L541.4,54.4 L540.5,57.4 L539.6,60.4 L538.7,63.4 L537.9,66.4 L537.2,69.4 L536.4,72.4 L535.7,75.4 L534.9,78.4 L534.2,81.4 L533.8,84.4 L533.2,87.4 L532.4,90.4 L532.3,91.5 L546.5,91.5 L546.5,90.5 L546.9,87.6 L547.3,84.6 L547.8,81.6 L548.3,78.6 L548.9,75.6 L549.5,72.6 L550.1,69.6 L550.9,66.6 L551.6,63.6 L552.4,60.6 L553.2,57.6 L554.2,54.6 L555.1,51.6 L555.9,48.6 L556.4,45.6 L557,42.6 L557.7,39.6 L559.2,36.6 L560.7,33.6 L563.3,30.6 L564.4,29.6 L565.9,28.1 L567.9,26.6 L570.8,25.1 L574.1,23.6 L578.9,22.1 L590,20.6Z" fill="url(#dBodyG)"/>
<g clip-path="url(#dB2u)">
<path d="M637.6,21 L593.6,20.4 L577.9,21.4 L572.2,22.4 L568.6,23.4 L566.8,24.4 L565,25.4 L563.3,26.4 L562,27.4 L560.6,28.4 L559.2,29.4 L558.2,30.4 L557.2,31.4 L556.2,32.4 L555.3,33.4 L554.3,34.4 L553.3,35.4 L552.6,36.4 L552.1,37.4 L551.6,38.4 L551.1,39.4 L550.6,40.4 L550.1,41.4 L549.6,42.4 L548.3,45.4 L547.1,48.4 L546,51.4 L545,54.4 L544.1,57.4 L543.2,60.4 L542.3,63.4 L541.5,66.4 L540.8,69.4 L540,72.4 L539.3,75.4 L538.5,78.4 L537.8,81.4 L537.4,84.4 L536.8,87.4 L536,90.4 L535.3,93.4 L534.8,96.4 L534.2,99.4 L533.6,102.4 L533,105.4 L532.4,108.4 L531.8,111.4 L531.3,114.4 L530.7,117.4 L530.1,120.4 L529.5,123.4 L528.9,126.4 L528.3,129.4 L527.6,132.4 L526.9,135.4 L526.3,138.4 L526.1,141" fill="none" stroke="#e83000" stroke-width="1.3" opacity="1"/>
<path d="M637.6,21.6 L596.6,20.4 L580.9,21.4 L575.2,22.4 L571.6,23.4 L569.8,24.4 L568,25.4 L566.3,26.4 L565,27.4 L563.6,28.4 L562.2,29.4 L561.2,30.4 L560.2,31.4 L559.2,32.4 L558.3,33.4 L557.3,34.4 L556.3,35.4 L555.6,36.4 L555.1,37.4 L554.6,38.4 L554.1,39.4 L553.6,40.4 L553.1,41.4 L552.6,42.4 L551.3,45.4 L550.1,48.4 L549,51.4 L548,54.4 L547.1,57.4 L546.2,60.4 L545.3,63.4 L544.5,66.4 L543.8,69.4 L543,72.4 L542.3,75.4 L541.5,78.4 L540.8,81.4 L540.4,84.4 L539.8,87.4 L539,90.4 L538.3,93.4 L537.8,96.4 L537.2,99.4 L536.6,102.4 L536,105.4 L535.4,108.4 L534.8,111.4 L534.3,114.4 L533.7,117.4 L533.1,120.4 L532.5,123.4 L531.9,126.4 L531.3,129.4 L530.6,132.4 L529.9,135.4 L529.3,138.4 L529.1,141" fill="none" stroke="#e83000" stroke-width="1.3" opacity="1"/>
<path d="M637.6,22.2 L599.6,20.4 L583.9,21.4 L578.2,22.4 L574.6,23.4 L572.8,24.4 L571,25.4 L569.3,26.4 L568,27.4 L566.6,28.4 L565.2,29.4 L564.2,30.4 L563.2,31.4 L562.2,32.4 L561.3,33.4 L560.3,34.4 L559.3,35.4 L558.6,36.4 L558.1,37.4 L557.6,38.4 L557.1,39.4 L556.6,40.4 L556.1,41.4 L555.6,42.4 L554.3,45.4 L553.1,48.4 L552,51.4 L551,54.4 L550.1,57.4 L549.2,60.4 L548.3,63.4 L547.5,66.4 L546.8,69.4 L546,72.4 L545.3,75.4 L544.5,78.4 L543.8,81.4 L543.4,84.4 L542.8,87.4 L542,90.4 L541.3,93.4 L540.8,96.4 L540.2,99.4 L539.6,102.4 L539,105.4 L538.4,108.4 L537.8,111.4 L537.3,114.4 L536.7,117.4 L536.1,120.4 L535.5,123.4 L534.9,126.4 L534.3,129.4 L533.6,132.4 L532.9,135.4 L532.3,138.4 L532.1,141" fill="none" stroke="#f04c00" stroke-width="1.3" opacity="1"/>
<path d="M637.6,22.8 L602.6,20.4 L586.9,21.4 L581.2,22.4 L577.6,23.4 L575.8,24.4 L574,25.4 L572.3,26.4 L571,27.4 L569.6,28.4 L568.2,29.4 L567.2,30.4 L566.2,31.4 L565.2,32.4 L564.3,33.4 L563.3,34.4 L562.3,35.4 L561.6,36.4 L561.1,37.4 L560.6,38.4 L560.1,39.4 L559.6,40.4 L559.1,41.4 L558.6,42.4 L557.3,45.4 L556.1,48.4 L555,51.4 L554,54.4 L553.1,57.4 L552.2,60.4 L551.3,63.4 L550.5,66.4 L549.8,69.4 L549,72.4 L548.3,75.4 L547.5,78.4 L546.8,81.4 L546.4,84.4 L545.8,87.4 L545,90.4 L544.3,93.4 L543.8,96.4 L543.2,99.4 L542.6,102.4 L542,105.4 L541.4,108.4 L540.8,111.4 L540.3,114.4 L539.7,117.4 L539.1,120.4 L538.5,123.4 L537.9,126.4 L537.3,129.4 L536.6,132.4 L535.9,135.4 L535.3,138.4 L535.1,141" fill="none" stroke="#f04c00" stroke-width="1.3" opacity="1"/>
<path d="M591,20.4 L575.3,21.4 L569.6,22.4 L566,23.4 L564.2,24.4 L562.4,25.4 L560.7,26.4 L559.4,27.4 L558,28.4 L556.6,29.4 L555.6,30.4 L554.6,31.4 L553.6,32.4 L552.7,33.4 L551.7,34.4 L550.7,35.4 L550,36.4 L549.5,37.4 L549,38.4 L548.5,39.4 L548,40.4 L547.5,41.4 L547,42.4 L545.7,45.4 L544.5,48.4 L543.4,51.4 L542.4,54.4 L541.5,57.4 L540.6,60.4 L539.7,63.4 L538.9,66.4 L538.2,69.4 L537.4,72.4 L536.7,75.4 L535.9,78.4 L535.2,81.4 L534.8,84.4 L534.2,87.4 L533.4,90.4 L532.7,93.4 L532.2,96.4 L531.6,99.4 L531,102.4 L530.4,105.4 L529.8,108.4 L529.2,111.4 L528.7,114.4 L528.1,117.4 L527.5,120.4 L526.9,123.4 L526.3,126.4 L525.7,129.4 L525,132.4 L524.3,135.4 L523.7,138.4 L523.5,141" fill="none" stroke="#34d8f4" stroke-width="1.8"/>
<path d="M592.3,20.4 L576.6,21.4 L570.9,22.4 L567.3,23.4 L565.5,24.4 L563.7,25.4 L562,26.4 L560.7,27.4 L559.3,28.4 L557.9,29.4 L556.9,30.4 L555.9,31.4 L554.9,32.4 L554,33.4 L553,34.4 L552,35.4 L551.3,36.4 L550.8,37.4 L550.3,38.4 L549.8,39.4 L549.3,40.4 L548.8,41.4 L548.3,42.4 L547,45.4 L545.8,48.4 L544.7,51.4 L543.7,54.4 L542.8,57.4 L541.9,60.4 L541,63.4 L540.2,66.4 L539.5,69.4 L538.7,72.4 L538,75.4 L537.2,78.4 L536.5,81.4 L536.1,84.4 L535.5,87.4 L534.7,90.4 L534,93.4 L533.5,96.4 L532.9,99.4 L532.3,102.4 L531.7,105.4 L531.1,108.4 L530.5,111.4 L530,114.4 L529.4,117.4 L528.8,120.4 L528.2,123.4 L527.6,126.4 L527,129.4 L526.3,132.4 L525.6,135.4 L525,138.4 L524.8,141" fill="none" stroke="#90f090" stroke-width="1.0" opacity="0.8"/>
</g>
<path d="M532.3,90.5 L531.7,93.4 L531.2,96.4 L530.6,99.4 L530,102.4 L529.4,105.4 L528.8,108.4 L528.2,111.4 L527.7,114.4 L527.1,117.4 L526.5,120.4 L525.9,123.4 L525.3,126.4 L524.7,129.4 L524,132.4 L523.3,135.4 L522.7,138.4 L522.5,141 L578.5,141 L578.3,138.9 L577.8,135.9 L577.1,132.9 L576.5,129.9 L575.8,126.9 L574.9,123.9 L573.9,120.9 L573,117.9 L572.1,114.9 L571,111.9 L569.9,108.9 L568.9,105.9 L567.8,102.9 L566.2,99.9 L564.8,96.9 L563.2,93.9 L557.3,90.9 L557,90.8 L557,89.3Z" fill="url(#dBodyG)"/>
<g clip-path="url(#dB2l)">
<path d="M637.6,21 L593.6,20.4 L577.9,21.4 L572.2,22.4 L568.6,23.4 L566.8,24.4 L565,25.4 L563.3,26.4 L562,27.4 L560.6,28.4 L559.2,29.4 L558.2,30.4 L557.2,31.4 L556.2,32.4 L555.3,33.4 L554.3,34.4 L553.3,35.4 L552.6,36.4 L552.1,37.4 L551.6,38.4 L551.1,39.4 L550.6,40.4 L550.1,41.4 L549.6,42.4 L548.3,45.4 L547.1,48.4 L546,51.4 L545,54.4 L544.1,57.4 L543.2,60.4 L542.3,63.4 L541.5,66.4 L540.8,69.4 L540,72.4 L539.3,75.4 L538.5,78.4 L537.8,81.4 L537.4,84.4 L536.8,87.4 L536,90.4 L535.3,93.4 L534.8,96.4 L534.2,99.4 L533.6,102.4 L533,105.4 L532.4,108.4 L531.8,111.4 L531.3,114.4 L530.7,117.4 L530.1,120.4 L529.5,123.4 L528.9,126.4 L528.3,129.4 L527.6,132.4 L526.9,135.4 L526.3,138.4 L526.1,141" fill="none" stroke="#e83000" stroke-width="1.3" opacity="1"/>
<path d="M637.6,21.6 L597.2,20.4 L581.5,21.4 L575.8,22.4 L572.2,23.4 L570.4,24.4 L568.6,25.4 L566.9,26.4 L565.6,27.4 L564.2,28.4 L562.8,29.4 L561.8,30.4 L560.8,31.4 L559.8,32.4 L558.9,33.4 L557.9,34.4 L556.9,35.4 L556.2,36.4 L555.7,37.4 L555.2,38.4 L554.7,39.4 L554.2,40.4 L553.7,41.4 L553.2,42.4 L551.9,45.4 L550.7,48.4 L549.6,51.4 L548.6,54.4 L547.7,57.4 L546.8,60.4 L545.9,63.4 L545.1,66.4 L544.4,69.4 L543.6,72.4 L542.9,75.4 L542.1,78.4 L541.4,81.4 L541,84.4 L540.4,87.4 L539.6,90.4 L538.9,93.4 L538.4,96.4 L537.8,99.4 L537.2,102.4 L536.6,105.4 L536,108.4 L535.4,111.4 L534.9,114.4 L534.3,117.4 L533.7,120.4 L533.1,123.4 L532.5,126.4 L531.9,129.4 L531.2,132.4 L530.5,135.4 L529.9,138.4 L529.7,141" fill="none" stroke="#e83000" stroke-width="1.3" opacity="1"/>
<path d="M637.6,22.2 L600.8,20.4 L585.1,21.4 L579.4,22.4 L575.8,23.4 L574,24.4 L572.2,25.4 L570.5,26.4 L569.2,27.4 L567.8,28.4 L566.4,29.4 L565.4,30.4 L564.4,31.4 L563.4,32.4 L562.5,33.4 L561.5,34.4 L560.5,35.4 L559.8,36.4 L559.3,37.4 L558.8,38.4 L558.3,39.4 L557.8,40.4 L557.3,41.4 L556.8,42.4 L555.5,45.4 L554.3,48.4 L553.2,51.4 L552.2,54.4 L551.3,57.4 L550.4,60.4 L549.5,63.4 L548.7,66.4 L548,69.4 L547.2,72.4 L546.5,75.4 L545.7,78.4 L545,81.4 L544.6,84.4 L544,87.4 L543.2,90.4 L542.5,93.4 L542,96.4 L541.4,99.4 L540.8,102.4 L540.2,105.4 L539.6,108.4 L539,111.4 L538.5,114.4 L537.9,117.4 L537.3,120.4 L536.7,123.4 L536.1,126.4 L535.5,129.4 L534.8,132.4 L534.1,135.4 L533.5,138.4 L533.3,141" fill="none" stroke="#f04c00" stroke-width="1.3" opacity="1"/>
<path d="M637.6,22.8 L604.4,20.4 L588.7,21.4 L583,22.4 L579.4,23.4 L577.6,24.4 L575.8,25.4 L574.1,26.4 L572.8,27.4 L571.4,28.4 L570,29.4 L569,30.4 L568,31.4 L567,32.4 L566.1,33.4 L565.1,34.4 L564.1,35.4 L563.4,36.4 L562.9,37.4 L562.4,38.4 L561.9,39.4 L561.4,40.4 L560.9,41.4 L560.4,42.4 L559.1,45.4 L557.9,48.4 L556.8,51.4 L555.8,54.4 L554.9,57.4 L554,60.4 L553.1,63.4 L552.3,66.4 L551.6,69.4 L550.8,72.4 L550.1,75.4 L549.3,78.4 L548.6,81.4 L548.2,84.4 L547.6,87.4 L546.8,90.4 L546.1,93.4 L545.6,96.4 L545,99.4 L544.4,102.4 L543.8,105.4 L543.2,108.4 L542.6,111.4 L542.1,114.4 L541.5,117.4 L540.9,120.4 L540.3,123.4 L539.7,126.4 L539.1,129.4 L538.4,132.4 L537.7,135.4 L537.1,138.4 L536.9,141" fill="none" stroke="#f04c00" stroke-width="1.3" opacity="1"/>
<path d="M637.6,23.4 L608,20.4 L592.3,21.4 L586.6,22.4 L583,23.4 L581.2,24.4 L579.4,25.4 L577.7,26.4 L576.4,27.4 L575,28.4 L573.6,29.4 L572.6,30.4 L571.6,31.4 L570.6,32.4 L569.7,33.4 L568.7,34.4 L567.7,35.4 L567,36.4 L566.5,37.4 L566,38.4 L565.5,39.4 L565,40.4 L564.5,41.4 L564,42.4 L562.7,45.4 L561.5,48.4 L560.4,51.4 L559.4,54.4 L558.5,57.4 L557.6,60.4 L556.7,63.4 L555.9,66.4 L555.2,69.4 L554.4,72.4 L553.7,75.4 L552.9,78.4 L552.2,81.4 L551.8,84.4 L551.2,87.4 L550.4,90.4 L549.7,93.4 L549.2,96.4 L548.6,99.4 L548,102.4 L547.4,105.4 L546.8,108.4 L546.2,111.4 L545.7,114.4 L545.1,117.4 L544.5,120.4 L543.9,123.4 L543.3,126.4 L542.7,129.4 L542,132.4 L541.3,135.4 L540.7,138.4 L540.5,141" fill="none" stroke="#f04c00" stroke-width="1.3" opacity="1"/>
<path d="M637.6,24 L611.6,20.4 L595.9,21.4 L590.2,22.4 L586.6,23.4 L584.8,24.4 L583,25.4 L581.3,26.4 L580,27.4 L578.6,28.4 L577.2,29.4 L576.2,30.4 L575.2,31.4 L574.2,32.4 L573.3,33.4 L572.3,34.4 L571.3,35.4 L570.6,36.4 L570.1,37.4 L569.6,38.4 L569.1,39.4 L568.6,40.4 L568.1,41.4 L567.6,42.4 L566.3,45.4 L565.1,48.4 L564,51.4 L563,54.4 L562.1,57.4 L561.2,60.4 L560.3,63.4 L559.5,66.4 L558.8,69.4 L558,72.4 L557.3,75.4 L556.5,78.4 L555.8,81.4 L555.4,84.4 L554.8,87.4 L554,90.4 L553.3,93.4 L552.8,96.4 L552.2,99.4 L551.6,102.4 L551,105.4 L550.4,108.4 L549.8,111.4 L549.3,114.4 L548.7,117.4 L548.1,120.4 L547.5,123.4 L546.9,126.4 L546.3,129.4 L545.6,132.4 L544.9,135.4 L544.3,138.4 L544.1,141" fill="none" stroke="#f47400" stroke-width="1.3" opacity="1"/>
<path d="M637.6,24.6 L615.2,20.4 L599.5,21.4 L593.8,22.4 L590.2,23.4 L588.4,24.4 L586.6,25.4 L584.9,26.4 L583.6,27.4 L582.2,28.4 L580.8,29.4 L579.8,30.4 L578.8,31.4 L577.8,32.4 L576.9,33.4 L575.9,34.4 L574.9,35.4 L574.2,36.4 L573.7,37.4 L573.2,38.4 L572.7,39.4 L572.2,40.4 L571.7,41.4 L571.2,42.4 L569.9,45.4 L568.7,48.4 L567.6,51.4 L566.6,54.4 L565.7,57.4 L564.8,60.4 L563.9,63.4 L563.1,66.4 L562.4,69.4 L561.6,72.4 L560.9,75.4 L560.1,78.4 L559.4,81.4 L559,84.4 L558.4,87.4 L557.6,90.4 L556.9,93.4 L556.4,96.4 L555.8,99.4 L555.2,102.4 L554.6,105.4 L554,108.4 L553.4,111.4 L552.9,114.4 L552.3,117.4 L551.7,120.4 L551.1,123.4 L550.5,126.4 L549.9,129.4 L549.2,132.4 L548.5,135.4 L547.9,138.4 L547.7,141" fill="none" stroke="#f47400" stroke-width="1.3" opacity="1"/>
<path d="M637.6,25.2 L618.8,20.4 L603.1,21.4 L597.4,22.4 L593.8,23.4 L592,24.4 L590.2,25.4 L588.5,26.4 L587.2,27.4 L585.8,28.4 L584.4,29.4 L583.4,30.4 L582.4,31.4 L581.4,32.4 L580.5,33.4 L579.5,34.4 L578.5,35.4 L577.8,36.4 L577.3,37.4 L576.8,38.4 L576.3,39.4 L575.8,40.4 L575.3,41.4 L574.8,42.4 L573.5,45.4 L572.3,48.4 L571.2,51.4 L570.2,54.4 L569.3,57.4 L568.4,60.4 L567.5,63.4 L566.7,66.4 L566,69.4 L565.2,72.4 L564.5,75.4 L563.7,78.4 L563,81.4 L562.6,84.4 L562,87.4 L561.2,90.4 L560.5,93.4 L560,96.4 L559.4,99.4 L558.8,102.4 L558.2,105.4 L557.6,108.4 L557,111.4 L556.5,114.4 L555.9,117.4 L555.3,120.4 L554.7,123.4 L554.1,126.4 L553.5,129.4 L552.8,132.4 L552.1,135.4 L551.5,138.4 L551.3,141" fill="none" stroke="#f47400" stroke-width="1.3" opacity="1"/>
<path d="M637.6,25.8 L622.4,20.4 L606.7,21.4 L601,22.4 L597.4,23.4 L595.6,24.4 L593.8,25.4 L592.1,26.4 L590.8,27.4 L589.4,28.4 L588,29.4 L587,30.4 L586,31.4 L585,32.4 L584.1,33.4 L583.1,34.4 L582.1,35.4 L581.4,36.4 L580.9,37.4 L580.4,38.4 L579.9,39.4 L579.4,40.4 L578.9,41.4 L578.4,42.4 L577.1,45.4 L575.9,48.4 L574.8,51.4 L573.8,54.4 L572.9,57.4 L572,60.4 L571.1,63.4 L570.3,66.4 L569.6,69.4 L568.8,72.4 L568.1,75.4 L567.3,78.4 L566.6,81.4 L566.2,84.4 L565.6,87.4 L564.8,90.4 L564.1,93.4 L563.6,96.4 L563,99.4 L562.4,102.4 L561.8,105.4 L561.2,108.4 L560.6,111.4 L560.1,114.4 L559.5,117.4 L558.9,120.4 L558.3,123.4 L557.7,126.4 L557.1,129.4 L556.4,132.4 L555.7,135.4 L555.1,138.4 L554.9,141" fill="none" stroke="#f47400" stroke-width="1.3" opacity="1"/>
<path d="M637.6,26.4 L626,20.4 L610.3,21.4 L604.6,22.4 L601,23.4 L599.2,24.4 L597.4,25.4 L595.7,26.4 L594.4,27.4 L593,28.4 L591.6,29.4 L590.6,30.4 L589.6,31.4 L588.6,32.4 L587.7,33.4 L586.7,34.4 L585.7,35.4 L585,36.4 L584.5,37.4 L584,38.4 L583.5,39.4 L583,40.4 L582.5,41.4 L582,42.4 L580.7,45.4 L579.5,48.4 L578.4,51.4 L577.4,54.4 L576.5,57.4 L575.6,60.4 L574.7,63.4 L573.9,66.4 L573.2,69.4 L572.4,72.4 L571.7,75.4 L570.9,78.4 L570.2,81.4 L569.8,84.4 L569.2,87.4 L568.4,90.4 L567.7,93.4 L567.2,96.4 L566.6,99.4 L566,102.4 L565.4,105.4 L564.8,108.4 L564.2,111.4 L563.7,114.4 L563.1,117.4 L562.5,120.4 L561.9,123.4 L561.3,126.4 L560.7,129.4 L560,132.4 L559.3,135.4 L558.7,138.4 L558.5,141" fill="none" stroke="#f89400" stroke-width="1.3" opacity="1"/>
<path d="M637.6,27 L629.6,20.4 L613.9,21.4 L608.2,22.4 L604.6,23.4 L602.8,24.4 L601,25.4 L599.3,26.4 L598,27.4 L596.6,28.4 L595.2,29.4 L594.2,30.4 L593.2,31.4 L592.2,32.4 L591.3,33.4 L590.3,34.4 L589.3,35.4 L588.6,36.4 L588.1,37.4 L587.6,38.4 L587.1,39.4 L586.6,40.4 L586.1,41.4 L585.6,42.4 L584.3,45.4 L583.1,48.4 L582,51.4 L581,54.4 L580.1,57.4 L579.2,60.4 L578.3,63.4 L577.5,66.4 L576.8,69.4 L576,72.4 L575.3,75.4 L574.5,78.4 L573.8,81.4 L573.4,84.4 L572.8,87.4 L572,90.4 L571.3,93.4 L570.8,96.4 L570.2,99.4 L569.6,102.4 L569,105.4 L568.4,108.4 L567.8,111.4 L567.3,114.4 L566.7,117.4 L566.1,120.4 L565.5,123.4 L564.9,126.4 L564.3,129.4 L563.6,132.4 L562.9,135.4 L562.3,138.4 L562.1,141" fill="none" stroke="#f89400" stroke-width="1.3" opacity="0.8"/>
<path d="M637.6,27.6 L633.2,20.4 L617.5,21.4 L611.8,22.4 L608.2,23.4 L606.4,24.4 L604.6,25.4 L602.9,26.4 L601.6,27.4 L600.2,28.4 L598.8,29.4 L597.8,30.4 L596.8,31.4 L595.8,32.4 L594.9,33.4 L593.9,34.4 L592.9,35.4 L592.2,36.4 L591.7,37.4 L591.2,38.4 L590.7,39.4 L590.2,40.4 L589.7,41.4 L589.2,42.4 L587.9,45.4 L586.7,48.4 L585.6,51.4 L584.6,54.4 L583.7,57.4 L582.8,60.4 L581.9,63.4 L581.1,66.4 L580.4,69.4 L579.6,72.4 L578.9,75.4 L578.1,78.4 L577.4,81.4 L577,84.4 L576.4,87.4 L575.6,90.4 L574.9,93.4 L574.4,96.4 L573.8,99.4 L573.2,102.4 L572.6,105.4 L572,108.4 L571.4,111.4 L570.9,114.4 L570.3,117.4 L569.7,120.4 L569.1,123.4 L568.5,126.4 L567.9,129.4 L567.2,132.4 L566.5,135.4 L565.9,138.4 L565.7,141" fill="none" stroke="#f89400" stroke-width="1.3" opacity="0.6"/>
<path d="M637.6,28.2 L636.8,20.4 L621.1,21.4 L615.4,22.4 L611.8,23.4 L610,24.4 L608.2,25.4 L606.5,26.4 L605.2,27.4 L603.8,28.4 L602.4,29.4 L601.4,30.4 L600.4,31.4 L599.4,32.4 L598.5,33.4 L597.5,34.4 L596.5,35.4 L595.8,36.4 L595.3,37.4 L594.8,38.4 L594.3,39.4 L593.8,40.4 L593.3,41.4 L592.8,42.4 L591.5,45.4 L590.3,48.4 L589.2,51.4 L588.2,54.4 L587.3,57.4 L586.4,60.4 L585.5,63.4 L584.7,66.4 L584,69.4 L583.2,72.4 L582.5,75.4 L581.7,78.4 L581,81.4 L580.6,84.4 L580,87.4 L579.2,90.4 L578.5,93.4 L578,96.4 L577.4,99.4 L576.8,102.4 L576.2,105.4 L575.6,108.4 L575,111.4 L574.5,114.4 L573.9,117.4 L573.3,120.4 L572.7,123.4 L572.1,126.4 L571.5,129.4 L570.8,132.4 L570.1,135.4 L569.5,138.4 L569.3,141" fill="none" stroke="#f89400" stroke-width="1.3" opacity="0.4"/>
<path d="M637.6,28.8 L640.4,20.4 L624.7,21.4 L619,22.4 L615.4,23.4 L613.6,24.4 L611.8,25.4 L610.1,26.4 L608.8,27.4 L607.4,28.4 L606,29.4 L605,30.4 L604,31.4 L603,32.4 L602.1,33.4 L601.1,34.4 L600.1,35.4 L599.4,36.4 L598.9,37.4 L598.4,38.4 L597.9,39.4 L597.4,40.4 L596.9,41.4 L596.4,42.4 L595.1,45.4 L593.9,48.4 L592.8,51.4 L591.8,54.4 L590.9,57.4 L590,60.4 L589.1,63.4 L588.3,66.4 L587.6,69.4 L586.8,72.4 L586.1,75.4 L585.3,78.4 L584.6,81.4 L584.2,84.4 L583.6,87.4 L582.8,90.4 L582.1,93.4 L581.6,96.4 L581,99.4 L580.4,102.4 L579.8,105.4 L579.2,108.4 L578.6,111.4 L578.1,114.4 L577.5,117.4 L576.9,120.4 L576.3,123.4 L575.7,126.4 L575.1,129.4 L574.4,132.4 L573.7,135.4 L573.1,138.4 L572.9,141" fill="none" stroke="#f89400" stroke-width="1.3" opacity="0.2"/>
<path d="M591,20.4 L575.3,21.4 L569.6,22.4 L566,23.4 L564.2,24.4 L562.4,25.4 L560.7,26.4 L559.4,27.4 L558,28.4 L556.6,29.4 L555.6,30.4 L554.6,31.4 L553.6,32.4 L552.7,33.4 L551.7,34.4 L550.7,35.4 L550,36.4 L549.5,37.4 L549,38.4 L548.5,39.4 L548,40.4 L547.5,41.4 L547,42.4 L545.7,45.4 L544.5,48.4 L543.4,51.4 L542.4,54.4 L541.5,57.4 L540.6,60.4 L539.7,63.4 L538.9,66.4 L538.2,69.4 L537.4,72.4 L536.7,75.4 L535.9,78.4 L535.2,81.4 L534.8,84.4 L534.2,87.4 L533.4,90.4 L532.7,93.4 L532.2,96.4 L531.6,99.4 L531,102.4 L530.4,105.4 L529.8,108.4 L529.2,111.4 L528.7,114.4 L528.1,117.4 L527.5,120.4 L526.9,123.4 L526.3,126.4 L525.7,129.4 L525,132.4 L524.3,135.4 L523.7,138.4 L523.5,141" fill="none" stroke="#34d8f4" stroke-width="1.8"/>
<path d="M592.3,20.4 L576.6,21.4 L570.9,22.4 L567.3,23.4 L565.5,24.4 L563.7,25.4 L562,26.4 L560.7,27.4 L559.3,28.4 L557.9,29.4 L556.9,30.4 L555.9,31.4 L554.9,32.4 L554,33.4 L553,34.4 L552,35.4 L551.3,36.4 L550.8,37.4 L550.3,38.4 L549.8,39.4 L549.3,40.4 L548.8,41.4 L548.3,42.4 L547,45.4 L545.8,48.4 L544.7,51.4 L543.7,54.4 L542.8,57.4 L541.9,60.4 L541,63.4 L540.2,66.4 L539.5,69.4 L538.7,72.4 L538,75.4 L537.2,78.4 L536.5,81.4 L536.1,84.4 L535.5,87.4 L534.7,90.4 L534,93.4 L533.5,96.4 L532.9,99.4 L532.3,102.4 L531.7,105.4 L531.1,108.4 L530.5,111.4 L530,114.4 L529.4,117.4 L528.8,120.4 L528.2,123.4 L527.6,126.4 L527,129.4 L526.3,132.4 L525.6,135.4 L525,138.4 L524.8,141" fill="none" stroke="#90f090" stroke-width="1.0" opacity="0.8"/>
</g>
<path d="M557.5,90.8 L557.8,90.9 L563.7,93.9 L565.2,96.9 L566.8,99.9 L568.2,102.9 L569.4,105.9 L570.4,108.9 L571.5,111.9 L572.6,114.9 L573.5,117.9 L574.4,120.9 L575.4,123.9 L576.3,126.9 L577,129.9 L577.6,132.9 L578.3,135.9 L578.8,138.9 L579,141" fill="none" stroke="#40e0f0" stroke-width="1.2"/>
<path d="M558.7,90.8 L559,90.9 L564.9,93.9 L566.5,96.9 L568,99.9 L569.5,102.9 L570.6,105.9 L571.6,108.9 L572.7,111.9 L573.8,114.9 L574.7,117.9 L575.6,120.9 L576.6,123.9 L577.5,126.9 L578.2,129.9 L578.8,132.9 L579.5,135.9 L580,138.9 L580.2,141" fill="none" stroke="#0a60f0" stroke-width="1.2"/>
<line x1="563.6" y1="1.4" x2="563.6" y2="138.5" stroke="#ffffff" stroke-width="1.3" stroke-dasharray="5.4,5.6"/>
</g>
<rect x="517" y="2.3" width="80.6" height="136.2" fill="none" stroke="#5a5a5a" stroke-width="0.7"/>
<line x1="523.2" y1="138.5" x2="523.2" y2="136.7" stroke="#404040" stroke-width="0.6"/>
<line x1="523.2" y1="2.3" x2="523.2" y2="4.1" stroke="#404040" stroke-width="0.6"/>
<line x1="536.7" y1="138.5" x2="536.7" y2="136.7" stroke="#404040" stroke-width="0.6"/>
<line x1="536.7" y1="2.3" x2="536.7" y2="4.1" stroke="#404040" stroke-width="0.6"/>
<text x="535.5" y="151.2" font-size="8.8" text-anchor="middle" fill="#262626" font-weight="normal" >-20</text>
<line x1="550.1" y1="138.5" x2="550.1" y2="136.7" stroke="#404040" stroke-width="0.6"/>
<line x1="550.1" y1="2.3" x2="550.1" y2="4.1" stroke="#404040" stroke-width="0.6"/>
<line x1="563.6" y1="138.5" x2="563.6" y2="136.7" stroke="#404040" stroke-width="0.6"/>
<line x1="563.6" y1="2.3" x2="563.6" y2="4.1" stroke="#404040" stroke-width="0.6"/>
<text x="563.6" y="151.2" font-size="8.8" text-anchor="middle" fill="#262626" font-weight="normal" >0</text>
<line x1="577.1" y1="138.5" x2="577.1" y2="136.7" stroke="#404040" stroke-width="0.6"/>
<line x1="577.1" y1="2.3" x2="577.1" y2="4.1" stroke="#404040" stroke-width="0.6"/>
<line x1="590.5" y1="138.5" x2="590.5" y2="136.7" stroke="#404040" stroke-width="0.6"/>
<line x1="590.5" y1="2.3" x2="590.5" y2="4.1" stroke="#404040" stroke-width="0.6"/>
<text x="590.5" y="151.2" font-size="8.8" text-anchor="middle" fill="#262626" font-weight="normal" >20</text>
<line x1="517" y1="41.9" x2="518.8" y2="41.9" stroke="#404040" stroke-width="0.6"/>
<line x1="597.6" y1="41.9" x2="595.8" y2="41.9" stroke="#404040" stroke-width="0.6"/>
<line x1="517" y1="81" x2="518.8" y2="81" stroke="#404040" stroke-width="0.6"/>
<line x1="597.6" y1="81" x2="595.8" y2="81" stroke="#404040" stroke-width="0.6"/>
<line x1="517" y1="120.1" x2="518.8" y2="120.1" stroke="#404040" stroke-width="0.6"/>
<line x1="597.6" y1="120.1" x2="595.8" y2="120.1" stroke="#404040" stroke-width="0.6"/>
<text x="555.5" y="164.8" font-size="10" text-anchor="middle" fill="#262626" font-weight="normal" textLength="53.4" lengthAdjust="spacingAndGlyphs">Fast time (<tspan font-family="Liberation Serif" font-style="italic">&#964;</tspan>)</text>
<text x="524.7" y="17.6" font-size="14" text-anchor="start" fill="#ffffff" font-weight="bold" >iii</text>
<g clip-path="url(#clipD3)">
<rect x="603.6" y="2.3" width="80.6" height="136.2" fill="url(#dBg)"/>
<ellipse cx="658.6" cy="45" rx="34" ry="55" fill="url(#dGlow)" opacity="0.8"/>
<g clip-path="url(#dR3)">
<path d="M645.5,98.2 L645.7,98.3 L650.3,101.3 L651.3,104.3 L652.4,107.3 L653.5,110.3 L654.6,113.3 L655.6,116.3 L656.7,119.3 L657.9,122.3 L659.2,125.3 L660.5,128.3 L661.8,131.3 L663.1,134.3 L664.5,137.3 L665,140.3 L665,141 L686.2,141 L686.2,98.6Z" fill="#010c52"/>
<rect x="645" y="98.4" width="41.2" height="6" fill="url(#ckBg)"/>
<line x1="643.1" y1="98.4" x2="642" y2="104.4" stroke="#28c0ff" stroke-width="1.8"/>
<line x1="647.2" y1="98.4" x2="646.1" y2="104.4" stroke="#28c0ff" stroke-width="1.8"/>
<line x1="651.3" y1="98.4" x2="650.2" y2="104.4" stroke="#1a9af6" stroke-width="1.8"/>
<line x1="655.4" y1="98.4" x2="654.3" y2="104.4" stroke="#1478e2" stroke-width="1.8"/>
<line x1="659.5" y1="98.4" x2="658.4" y2="104.4" stroke="#0e5cc4" stroke-width="1.8"/>
<line x1="663.6" y1="98.4" x2="662.5" y2="104.4" stroke="#0a48aa" stroke-width="1.8"/>
<line x1="667.7" y1="98.4" x2="666.6" y2="104.4" stroke="#083a94" stroke-width="1.8"/>
<line x1="671.8" y1="98.4" x2="670.7" y2="104.4" stroke="#072e80" stroke-width="1.8"/>
<line x1="675.9" y1="98.4" x2="674.8" y2="104.4" stroke="#062672" stroke-width="1.8"/>
<line x1="680" y1="98.4" x2="678.9" y2="104.4" stroke="#052068" stroke-width="1.8"/>
<line x1="684.1" y1="98.4" x2="683" y2="104.4" stroke="#041c62" stroke-width="1.8"/>
<line x1="688.2" y1="98.4" x2="687.1" y2="104.4" stroke="#041a5e" stroke-width="1.8"/>
<rect x="650.4" y="104.4" width="35.8" height="5.9" fill="url(#ckBg)"/>
<line x1="650.5" y1="104.4" x2="649.5" y2="110.3" stroke="#28c0ff" stroke-width="1.8"/>
<line x1="654.6" y1="104.4" x2="653.6" y2="110.3" stroke="#28c0ff" stroke-width="1.8"/>
<line x1="658.7" y1="104.4" x2="657.7" y2="110.3" stroke="#1a9af6" stroke-width="1.8"/>
<line x1="662.8" y1="104.4" x2="661.8" y2="110.3" stroke="#1478e2" stroke-width="1.8"/>
<line x1="666.9" y1="104.4" x2="665.9" y2="110.3" stroke="#0e5cc4" stroke-width="1.8"/>
<line x1="671" y1="104.4" x2="670" y2="110.3" stroke="#0a48aa" stroke-width="1.8"/>
<line x1="675.1" y1="104.4" x2="674.1" y2="110.3" stroke="#083a94" stroke-width="1.8"/>
<line x1="679.2" y1="104.4" x2="678.2" y2="110.3" stroke="#072e80" stroke-width="1.8"/>
<line x1="683.3" y1="104.4" x2="682.3" y2="110.3" stroke="#062672" stroke-width="1.8"/>
<line x1="687.4" y1="104.4" x2="686.4" y2="110.3" stroke="#052068" stroke-width="1.8"/>
<rect x="652.5" y="110.3" width="33.7" height="5.8" fill="url(#ckBg)"/>
<line x1="650.6" y1="110.3" x2="649.5" y2="116" stroke="#28c0ff" stroke-width="1.8"/>
<line x1="654.7" y1="110.3" x2="653.6" y2="116" stroke="#28c0ff" stroke-width="1.8"/>
<line x1="658.8" y1="110.3" x2="657.7" y2="116" stroke="#1a9af6" stroke-width="1.8"/>
<line x1="662.9" y1="110.3" x2="661.8" y2="116" stroke="#1478e2" stroke-width="1.8"/>
<line x1="667" y1="110.3" x2="665.9" y2="116" stroke="#0e5cc4" stroke-width="1.8"/>
<line x1="671.1" y1="110.3" x2="670" y2="116" stroke="#0a48aa" stroke-width="1.8"/>
<line x1="675.2" y1="110.3" x2="674.1" y2="116" stroke="#083a94" stroke-width="1.8"/>
<line x1="679.3" y1="110.3" x2="678.2" y2="116" stroke="#072e80" stroke-width="1.8"/>
<line x1="683.4" y1="110.3" x2="682.3" y2="116" stroke="#062672" stroke-width="1.8"/>
<line x1="687.5" y1="110.3" x2="686.4" y2="116" stroke="#052068" stroke-width="1.8"/>
<rect x="654.5" y="116" width="31.7" height="5.6" fill="url(#ckBg)"/>
<line x1="654.6" y1="116" x2="653.6" y2="121.5" stroke="#28c0ff" stroke-width="1.8"/>
<line x1="658.7" y1="116" x2="657.7" y2="121.5" stroke="#28c0ff" stroke-width="1.8"/>
<line x1="662.8" y1="116" x2="661.8" y2="121.5" stroke="#1a9af6" stroke-width="1.8"/>
<line x1="666.9" y1="116" x2="665.9" y2="121.5" stroke="#1478e2" stroke-width="1.8"/>
<line x1="671" y1="116" x2="670" y2="121.5" stroke="#0e5cc4" stroke-width="1.8"/>
<line x1="675.1" y1="116" x2="674.1" y2="121.5" stroke="#0a48aa" stroke-width="1.8"/>
<line x1="679.2" y1="116" x2="678.2" y2="121.5" stroke="#083a94" stroke-width="1.8"/>
<line x1="683.3" y1="116" x2="682.3" y2="121.5" stroke="#072e80" stroke-width="1.8"/>
<line x1="687.4" y1="116" x2="686.4" y2="121.5" stroke="#062672" stroke-width="1.8"/>
<rect x="656.6" y="121.5" width="29.6" height="5.5" fill="url(#ckBg)"/>
<line x1="654.7" y1="121.5" x2="653.7" y2="127" stroke="#28c0ff" stroke-width="1.8"/>
<line x1="658.8" y1="121.5" x2="657.8" y2="127" stroke="#28c0ff" stroke-width="1.8"/>
<line x1="662.9" y1="121.5" x2="661.9" y2="127" stroke="#1a9af6" stroke-width="1.8"/>
<line x1="667" y1="121.5" x2="666" y2="127" stroke="#1478e2" stroke-width="1.8"/>
<line x1="671.1" y1="121.5" x2="670.1" y2="127" stroke="#0e5cc4" stroke-width="1.8"/>
<line x1="675.2" y1="121.5" x2="674.2" y2="127" stroke="#0a48aa" stroke-width="1.8"/>
<line x1="679.3" y1="121.5" x2="678.3" y2="127" stroke="#083a94" stroke-width="1.8"/>
<line x1="683.4" y1="121.5" x2="682.4" y2="127" stroke="#072e80" stroke-width="1.8"/>
<line x1="687.5" y1="121.5" x2="686.5" y2="127" stroke="#062672" stroke-width="1.8"/>
<rect x="658.9" y="127" width="27.3" height="5.4" fill="url(#ckBg)"/>
<line x1="659.1" y1="127" x2="658.1" y2="132.3" stroke="#28c0ff" stroke-width="1.8"/>
<line x1="663.2" y1="127" x2="662.2" y2="132.3" stroke="#28c0ff" stroke-width="1.8"/>
<line x1="667.3" y1="127" x2="666.3" y2="132.3" stroke="#1a9af6" stroke-width="1.8"/>
<line x1="671.4" y1="127" x2="670.4" y2="132.3" stroke="#1478e2" stroke-width="1.8"/>
<line x1="675.5" y1="127" x2="674.5" y2="132.3" stroke="#0e5cc4" stroke-width="1.8"/>
<line x1="679.6" y1="127" x2="678.6" y2="132.3" stroke="#0a48aa" stroke-width="1.8"/>
<line x1="683.7" y1="127" x2="682.7" y2="132.3" stroke="#083a94" stroke-width="1.8"/>
<line x1="687.8" y1="127" x2="686.8" y2="132.3" stroke="#072e80" stroke-width="1.8"/>
<rect x="661.2" y="132.3" width="25" height="5.2" fill="url(#ckBg)"/>
<line x1="659.3" y1="132.3" x2="658.4" y2="137.5" stroke="#28c0ff" stroke-width="1.8"/>
<line x1="663.4" y1="132.3" x2="662.5" y2="137.5" stroke="#28c0ff" stroke-width="1.8"/>
<line x1="667.5" y1="132.3" x2="666.6" y2="137.5" stroke="#1a9af6" stroke-width="1.8"/>
<line x1="671.6" y1="132.3" x2="670.7" y2="137.5" stroke="#1478e2" stroke-width="1.8"/>
<line x1="675.7" y1="132.3" x2="674.8" y2="137.5" stroke="#0e5cc4" stroke-width="1.8"/>
<line x1="679.8" y1="132.3" x2="678.9" y2="137.5" stroke="#0a48aa" stroke-width="1.8"/>
<line x1="683.9" y1="132.3" x2="683" y2="137.5" stroke="#083a94" stroke-width="1.8"/>
<line x1="688" y1="132.3" x2="687.1" y2="137.5" stroke="#072e80" stroke-width="1.8"/>
<rect x="663.6" y="137.5" width="22.6" height="3.1" fill="url(#ckBg)"/>
<line x1="663.7" y1="137.5" x2="663.4" y2="140.5" stroke="#28c0ff" stroke-width="1.8"/>
<line x1="667.8" y1="137.5" x2="667.5" y2="140.5" stroke="#28c0ff" stroke-width="1.8"/>
<line x1="671.9" y1="137.5" x2="671.6" y2="140.5" stroke="#1a9af6" stroke-width="1.8"/>
<line x1="676" y1="137.5" x2="675.7" y2="140.5" stroke="#1478e2" stroke-width="1.8"/>
<line x1="680.1" y1="137.5" x2="679.8" y2="140.5" stroke="#0e5cc4" stroke-width="1.8"/>
<line x1="684.2" y1="137.5" x2="683.9" y2="140.5" stroke="#0a48aa" stroke-width="1.8"/>
<line x1="688.3" y1="137.5" x2="688" y2="140.5" stroke="#083a94" stroke-width="1.8"/>
</g>
<path d="M615.4,98.2 L645.5,98.2 L645.7,98.3 L650.3,101.3 L651.3,104.3 L652.4,107.3 L653.5,110.3 L654.6,113.3 L655.6,116.3 L656.7,119.3 L657.9,122.3 L659.2,125.3 L660.5,128.3 L661.8,131.3 L663.1,134.3 L664.5,137.3 L665,140.3 L665,141 L607.8,141Z" fill="url(#dBodyG)"/>
<g clip-path="url(#dB3)">
<line x1="619.5" y1="97" x2="611.6" y2="140" stroke="#e83000" stroke-width="1.3" opacity="1"/>
<line x1="623.1" y1="97" x2="615.2" y2="140" stroke="#e83000" stroke-width="1.3" opacity="1"/>
<line x1="626.7" y1="97" x2="618.8" y2="140" stroke="#f04c00" stroke-width="1.3" opacity="1"/>
<line x1="630.3" y1="97" x2="622.4" y2="140" stroke="#f04c00" stroke-width="1.3" opacity="1"/>
<line x1="633.9" y1="97" x2="626" y2="140" stroke="#f04c00" stroke-width="1.3" opacity="1"/>
<line x1="637.5" y1="97" x2="629.6" y2="140" stroke="#f47400" stroke-width="1.3" opacity="1"/>
<line x1="641.1" y1="97" x2="633.2" y2="140" stroke="#f47400" stroke-width="1.3" opacity="1"/>
<line x1="644.7" y1="97" x2="636.8" y2="140" stroke="#f47400" stroke-width="1.3" opacity="1"/>
<line x1="648.3" y1="97" x2="640.4" y2="140" stroke="#f47400" stroke-width="1.3" opacity="1"/>
<line x1="651.9" y1="97" x2="644" y2="140" stroke="#f89400" stroke-width="1.3" opacity="1"/>
<line x1="655.5" y1="97" x2="647.6" y2="140" stroke="#f89400" stroke-width="1.3" opacity="0.8"/>
<line x1="659.1" y1="97" x2="651.2" y2="140" stroke="#f89400" stroke-width="1.3" opacity="0.6"/>
<line x1="662.7" y1="97" x2="654.8" y2="140" stroke="#f89400" stroke-width="1.3" opacity="0.4"/>
<line x1="616.5" y1="97" x2="608.7" y2="140" stroke="#34d8f4" stroke-width="1.8"/>
</g>
<line x1="614.9" y1="98.2" x2="607.1" y2="141" stroke="#0a40d0" stroke-width="1.5"/>
<path d="M646,98.2 L646.2,98.3 L650.8,101.3 L651.8,104.3 L652.9,107.3 L654,110.3 L655.1,113.3 L656.1,116.3 L657.2,119.3 L658.4,122.3 L659.7,125.3 L661,128.3 L662.3,131.3 L663.6,134.3 L665,137.3 L665.5,140.3 L665.5,141" fill="none" stroke="#40e0f0" stroke-width="1.2"/>
<line x1="650.2" y1="1.4" x2="650.2" y2="138.5" stroke="#ffffff" stroke-width="1.3" stroke-dasharray="5.4,5.6"/>
</g>
<rect x="603.6" y="2.3" width="80.6" height="136.2" fill="none" stroke="#5a5a5a" stroke-width="0.7"/>
<line x1="609.9" y1="138.5" x2="609.9" y2="136.7" stroke="#404040" stroke-width="0.6"/>
<line x1="609.9" y1="2.3" x2="609.9" y2="4.1" stroke="#404040" stroke-width="0.6"/>
<line x1="623.3" y1="138.5" x2="623.3" y2="136.7" stroke="#404040" stroke-width="0.6"/>
<line x1="623.3" y1="2.3" x2="623.3" y2="4.1" stroke="#404040" stroke-width="0.6"/>
<text x="622.1" y="151.2" font-size="8.8" text-anchor="middle" fill="#262626" font-weight="normal" >-20</text>
<line x1="636.8" y1="138.5" x2="636.8" y2="136.7" stroke="#404040" stroke-width="0.6"/>
<line x1="636.8" y1="2.3" x2="636.8" y2="4.1" stroke="#404040" stroke-width="0.6"/>
<line x1="650.2" y1="138.5" x2="650.2" y2="136.7" stroke="#404040" stroke-width="0.6"/>
<line x1="650.2" y1="2.3" x2="650.2" y2="4.1" stroke="#404040" stroke-width="0.6"/>
<text x="650.2" y="151.2" font-size="8.8" text-anchor="middle" fill="#262626" font-weight="normal" >0</text>
<line x1="663.7" y1="138.5" x2="663.7" y2="136.7" stroke="#404040" stroke-width="0.6"/>
<line x1="663.7" y1="2.3" x2="663.7" y2="4.1" stroke="#404040" stroke-width="0.6"/>
<line x1="677.1" y1="138.5" x2="677.1" y2="136.7" stroke="#404040" stroke-width="0.6"/>
<line x1="677.1" y1="2.3" x2="677.1" y2="4.1" stroke="#404040" stroke-width="0.6"/>
<text x="677.1" y="151.2" font-size="8.8" text-anchor="middle" fill="#262626" font-weight="normal" >20</text>
<line x1="603.6" y1="41.9" x2="605.4" y2="41.9" stroke="#404040" stroke-width="0.6"/>
<line x1="684.2" y1="41.9" x2="682.4" y2="41.9" stroke="#404040" stroke-width="0.6"/>
<line x1="603.6" y1="81" x2="605.4" y2="81" stroke="#404040" stroke-width="0.6"/>
<line x1="684.2" y1="81" x2="682.4" y2="81" stroke="#404040" stroke-width="0.6"/>
<line x1="603.6" y1="120.1" x2="605.4" y2="120.1" stroke="#404040" stroke-width="0.6"/>
<line x1="684.2" y1="120.1" x2="682.4" y2="120.1" stroke="#404040" stroke-width="0.6"/>
<text x="642.1" y="164.8" font-size="10" text-anchor="middle" fill="#262626" font-weight="normal" textLength="53.4" lengthAdjust="spacingAndGlyphs">Fast time (<tspan font-family="Liberation Serif" font-style="italic">&#964;</tspan>)</text>
<text x="611.3" y="17.6" font-size="14" text-anchor="start" fill="#ffffff" font-weight="bold" >iv</text>
<text x="341" y="6" font-size="8.8" text-anchor="end" fill="#262626" font-weight="normal" >6</text>
<text x="341" y="45.1" font-size="8.8" text-anchor="end" fill="#262626" font-weight="normal" >5.6</text>
<text x="341" y="84.2" font-size="8.8" text-anchor="end" fill="#262626" font-weight="normal" >5.2</text>
<text x="341" y="123.3" font-size="8.8" text-anchor="end" fill="#262626" font-weight="normal" >4.8</text>
<text x="320.2" y="18.3" font-size="14.5" text-anchor="start" fill="#000" font-weight="bold" >d</text>
<text transform="translate(321.6,68.1) rotate(-90)" font-size="10.2" text-anchor="middle" fill="#262626" textLength="52.5" lengthAdjust="spacingAndGlyphs">Detuning  <tspan font-family="Liberation Serif" font-style="italic" font-size="12">&#950;</tspan><tspan font-size="7" dy="2.2">0</tspan></text>
<rect x="344.7" y="176.8" width="206.7" height="178.2" fill="#fff" stroke="#808080" stroke-width="0.8"/>
<text x="343.5" y="368.3" font-size="8.8" text-anchor="middle" fill="#262626" font-weight="normal" >-6</text>
<line x1="379.2" y1="355.0" x2="379.2" y2="353.2" stroke="#4d4d4d" stroke-width="0.7"/>
<line x1="379.2" y1="176.8" x2="379.2" y2="178.6" stroke="#4d4d4d" stroke-width="0.7"/>
<text x="377.9" y="368.3" font-size="8.8" text-anchor="middle" fill="#262626" font-weight="normal" >-4</text>
<line x1="413.6" y1="355.0" x2="413.6" y2="353.2" stroke="#4d4d4d" stroke-width="0.7"/>
<line x1="413.6" y1="176.8" x2="413.6" y2="178.6" stroke="#4d4d4d" stroke-width="0.7"/>
<text x="412.3" y="368.3" font-size="8.8" text-anchor="middle" fill="#262626" font-weight="normal" >-2</text>
<line x1="448" y1="355.0" x2="448" y2="353.2" stroke="#4d4d4d" stroke-width="0.7"/>
<line x1="448" y1="176.8" x2="448" y2="178.6" stroke="#4d4d4d" stroke-width="0.7"/>
<text x="448" y="368.3" font-size="8.8" text-anchor="middle" fill="#262626" font-weight="normal" >0</text>
<line x1="482.4" y1="355.0" x2="482.4" y2="353.2" stroke="#4d4d4d" stroke-width="0.7"/>
<line x1="482.4" y1="176.8" x2="482.4" y2="178.6" stroke="#4d4d4d" stroke-width="0.7"/>
<text x="482.4" y="368.3" font-size="8.8" text-anchor="middle" fill="#262626" font-weight="normal" >2</text>
<line x1="516.8" y1="355.0" x2="516.8" y2="353.2" stroke="#4d4d4d" stroke-width="0.7"/>
<line x1="516.8" y1="176.8" x2="516.8" y2="178.6" stroke="#4d4d4d" stroke-width="0.7"/>
<text x="516.8" y="368.3" font-size="8.8" text-anchor="middle" fill="#262626" font-weight="normal" >4</text>
<text x="551.2" y="368.3" font-size="8.8" text-anchor="middle" fill="#262626" font-weight="normal" >6</text>
<line x1="344.7" y1="212.3" x2="346.5" y2="212.3" stroke="#4d4d4d" stroke-width="0.7"/>
<line x1="551.4" y1="212.3" x2="549.6" y2="212.3" stroke="#4d4d4d" stroke-width="0.7"/>
<line x1="344.7" y1="248.4" x2="346.5" y2="248.4" stroke="#4d4d4d" stroke-width="0.7"/>
<line x1="551.4" y1="248.4" x2="549.6" y2="248.4" stroke="#4d4d4d" stroke-width="0.7"/>
<line x1="344.7" y1="284.6" x2="346.5" y2="284.6" stroke="#4d4d4d" stroke-width="0.7"/>
<line x1="551.4" y1="284.6" x2="549.6" y2="284.6" stroke="#4d4d4d" stroke-width="0.7"/>
<line x1="344.7" y1="320.8" x2="346.5" y2="320.8" stroke="#4d4d4d" stroke-width="0.7"/>
<line x1="551.4" y1="320.8" x2="549.6" y2="320.8" stroke="#4d4d4d" stroke-width="0.7"/>
<line x1="527.3" y1="176.8" x2="527.3" y2="355.0" stroke="#1a1a1a" stroke-width="0.9" stroke-dasharray="6.9,4" stroke-dashoffset="2.8"/>
<path d="M344.7,345.8 L348.7,345.2 L352.6,344.4 L356.6,343.6 L360.5,342.6 L364.3,341.5 L368.2,340.2 L371.9,338.8 L375.7,337.3 L379.4,335.7 L383,334 L386.6,332.1 L390.2,330.1 L393.6,328.1 L397,325.9 L400.3,323.6 L403.5,321.1 L406.6,318.6 L409.6,316 L412.6,313.2 L415.4,310.4 L418.1,307.4 L420.7,304.4 L423.2,301.2 L425.5,298 L427.7,294.7 L429.8,291.3 L431.9,287.8 L433.8,284.2 L435.6,280.6 L437.4,276.9 L439.1,273.2 L440.8,269.5 L442.4,265.7 L444,261.9 L445.6,258.1 L447.2,254.3 L448.8,250.5 L450.4,246.7 L452,242.9 L453.7,239.2 L455.4,235.5 L457.1,231.8 L459,228.2 L460.9,224.7 L462.9,221.2 L465,217.8 L467.2,214.5 L469.5,211.3 L471.9,208.2 L474.5,205.2 L477.3,202.3 L480.2,199.6 L483.3,196.9 L486.5,194.4 L490,192.1 L493.6,190 L497.2,188.3 L500.9,187.1 L504.5,186.5 L507.9,186.7 L511,187.8 L513.9,189.6 L516.6,192.2 L518.9,195.2 L521,198.6 L522.8,202.2 L524.4,206 L525.7,210 L526.9,214.1 L527.8,218.3 L528.7,222.6 L529.4,226.9 L530,231.2 L530.6,235.5 L531.2,239.7 L531.7,243.8 L532.3,247.8 L532.9,251.7 L533.5,255.5 L534,259.3 L534.6,263 L535.1,266.8 L535.6,270.6 L536,274.4 L536.4,278.3 L536.6,282.3 L536.8,286.5 L536.8,290.8 L536.8,295.2 L538.9,296.4 L539.7,303.4 L544.5,303.4 L545.4,310.5 L547.3,311.9 L548.2,344.2 L551.4,345" fill="none" stroke="#000" stroke-width="1.4" stroke-linejoin="round"/>
<text x="357.2" y="194.6" font-size="14.5" text-anchor="middle" fill="#000" font-weight="bold" >e</text>
<text transform="translate(340.7,269.8) rotate(-90)" font-size="9.8" text-anchor="middle" fill="#262626" textLength="54.4" lengthAdjust="spacingAndGlyphs">Energy (arb.)</text>
<text x="448.4" y="379.6" font-size="12" text-anchor="middle" fill="#262626"><tspan font-family="Liberation Serif" font-style="italic">&#950;</tspan><tspan font-size="8.5" dy="4.6">0</tspan></text>
<rect x="558.4" y="177.4" width="124.2" height="177.6" fill="#fff"/>
<g clip-path="url(#clipF)">
<path d="M586,244 L590,246.5 L593.6,256.6 L599,256.6 L599,265.2 L605.3,265.2 L605.3,271.4 L610.8,271.4 L610.8,279.2 L617.8,279.2 L617.8,287.8 L626.4,287.8 L626.4,295.9 L635.8,295.9 L635.8,302.7 L642.5,302.7 L648.8,303.9 L648.8,311.9 L648.8,303.9 L622.9,303.9 L622.9,296.6 L610.4,296.6 L610.4,288.8 L607.3,288.8 L607.3,280.9 L604.2,280.9 L604.2,273.6 L601.6,273.1 L600.6,270.6 L599.8,265.9 L597.5,265.2 L596.7,260.5 L593.6,259.7 L592.7,253 L590.4,251 L588,249.8 L586.5,244.7Z" fill="#e8f4b0"/>
<g clip-path="url(#fBandClip)">
<path d="M584.4,246.2 L588.4,248.7 L592,258.8 L597.4,258.8 L597.4,267.4 L603.7,267.4 L603.7,273.6 L609.2,273.6 L609.2,281.4 L616.2,281.4 L616.2,290 L624.8,290 L624.8,298.1 L634.2,298.1 L634.2,304.9 L640.9,304.9 L647.1,306.1" fill="none" stroke="url(#fBand)" stroke-width="5" opacity="0.95"/>
<line x1="596" y1="250" x2="596" y2="305" stroke="#c0e070" stroke-width="0.6" opacity="0.7"/>
<line x1="599.1" y1="250" x2="599.1" y2="305" stroke="#c0e070" stroke-width="0.6" opacity="0.7"/>
<line x1="602.2" y1="250" x2="602.2" y2="305" stroke="#c0e070" stroke-width="0.6" opacity="0.7"/>
<line x1="605.3" y1="250" x2="605.3" y2="305" stroke="#c0e070" stroke-width="0.6" opacity="0.7"/>
<line x1="608.4" y1="250" x2="608.4" y2="305" stroke="#c0e070" stroke-width="0.6" opacity="0.7"/>
<line x1="611.5" y1="250" x2="611.5" y2="305" stroke="#c0e070" stroke-width="0.6" opacity="0.7"/>
<line x1="614.6" y1="250" x2="614.6" y2="305" stroke="#c0e070" stroke-width="0.6" opacity="0.7"/>
<line x1="617.7" y1="250" x2="617.7" y2="305" stroke="#c0e070" stroke-width="0.6" opacity="0.7"/>
<line x1="620.8" y1="250" x2="620.8" y2="305" stroke="#c0e070" stroke-width="0.6" opacity="0.7"/>
<line x1="623.9" y1="250" x2="623.9" y2="305" stroke="#c0e070" stroke-width="0.6" opacity="0.7"/>
<line x1="627" y1="250" x2="627" y2="305" stroke="#c0e070" stroke-width="0.6" opacity="0.7"/>
<line x1="630.1" y1="250" x2="630.1" y2="305" stroke="#c0e070" stroke-width="0.6" opacity="0.7"/>
<line x1="633.2" y1="250" x2="633.2" y2="305" stroke="#c0e070" stroke-width="0.6" opacity="0.7"/>
<line x1="636.3" y1="250" x2="636.3" y2="305" stroke="#c0e070" stroke-width="0.6" opacity="0.7"/>
</g>
<path d="M586,244 L590,246.5 L593.6,256.6 L599,256.6 L599,265.2 L605.3,265.2 L605.3,271.4 L610.8,271.4 L610.8,279.2 L617.8,279.2 L617.8,287.8 L626.4,287.8 L626.4,295.9 L635.8,295.9 L635.8,302.7 L642.5,302.7 L648.8,303.9" fill="none" stroke="#f05a3c" stroke-width="1.0" opacity="0.9"/>
<path d="M558.9,218 L561.4,220 L563.7,222.3 L566.9,223.8 L569.2,227 L571.5,229 L574.7,230 L576.2,233.2 L578.6,235.2 L580.9,236.3 L582.5,241 L584.8,242.1 L587.2,243.7 L588.7,248.8" fill="none" stroke="#f08040" stroke-width="1.4"/>
<path d="M642.5,303.9 L648.75,303.9 L648.75,311.9 L659.4,311.9 L659.4,320 L662.8,320 L662.8,343.6 L646.4,342.6 L646.4,311.9 L642.5,311.9Z" fill="url(#fBlock)"/>
<path d="M592.2,251 L592.2,340 L663,343.5" fill="none" stroke="#58c8f4" stroke-width="0.55"/>
<path d="M594,259.7 L594,340.5 L662.8,344" fill="none" stroke="#60d0f4" stroke-width="0.55"/>
<path d="M595.8,259.7 L595.8,341 L662.6,344.5" fill="none" stroke="#68d4f4" stroke-width="0.55"/>
<path d="M597.6,265.2 L597.6,341.5 L662.4,345" fill="none" stroke="#70d8f0" stroke-width="0.55"/>
<path d="M599.4,265.2 L599.4,342 L662.2,345.5" fill="none" stroke="#78dcec" stroke-width="0.55"/>
<path d="M601.2,270.6 L601.2,342.5 L662,346" fill="none" stroke="#80e0e4" stroke-width="0.55"/>
<path d="M603,273.1 L603,343 L661.8,346.5" fill="none" stroke="#88e0d8" stroke-width="0.55"/>
<path d="M604,274 L604,312 L646.4,312" fill="none" stroke="#78d8a8" stroke-width="0.7"/>
<path d="M605.2,281 L605.2,312.3 L646.4,312.3" fill="none" stroke="#78d8a8" stroke-width="0.7"/>
<path d="M603,274 L603,319.6 L665.2,319.6" fill="none" stroke="#78d8a8" stroke-width="0.7"/>
<path d="M602.5,274 L602.5,320.2 L665.2,320.2" fill="none" stroke="#78d8a8" stroke-width="0.7"/>
<path d="M665.2,319.6 L665.2,343.8" fill="none" stroke="#70e0d0" stroke-width="0.8"/>
<line x1="607" y1="289" x2="607" y2="296" stroke="#e8f0c0" stroke-width="0.6" opacity="0.8"/>
<line x1="609.6" y1="289" x2="609.6" y2="296" stroke="#e8f0c0" stroke-width="0.6" opacity="0.8"/>
<line x1="612.2" y1="289" x2="612.2" y2="296" stroke="#e8f0c0" stroke-width="0.6" opacity="0.8"/>
<line x1="614.8" y1="289" x2="614.8" y2="296" stroke="#e8f0c0" stroke-width="0.6" opacity="0.8"/>
<line x1="617.4" y1="289" x2="617.4" y2="296" stroke="#e8f0c0" stroke-width="0.6" opacity="0.8"/>
<line x1="620" y1="289" x2="620" y2="296" stroke="#e8f0c0" stroke-width="0.6" opacity="0.8"/>
<path d="M558.2,219 L560.7,221 L563,223.3 L566.2,224.8 L568.5,228 L570.8,230 L574,231 L575.5,234.2 L577.9,236.2 L580.2,237.3 L581.8,242 L584.1,243.1 L586.5,244.7 L588,249.8 L590.4,251 L592.7,253 L593.6,259.7 L596.7,260.5 L597.5,265.2 L599.8,265.9 L600.6,270.6 L601.6,273.1 L604.2,273.6 L604.2,280.9 L607.3,280.9 L607.3,288.8 L610.4,288.8 L610.4,296.6 L622.9,296.6 L622.9,303.9 L648.8,303.9 L648.8,311.9 L659.4,311.9 L659.4,320 L662.8,320 L662.8,344.7 L684,345.6" fill="none" stroke="#000" stroke-width="1.6" stroke-linejoin="round"/>
</g>
<rect x="558.4" y="177.4" width="124.2" height="177.6" fill="none" stroke="#808080" stroke-width="0.8"/>
<line x1="576.4" y1="355.0" x2="576.4" y2="353.2" stroke="#4d4d4d" stroke-width="0.7"/>
<line x1="576.4" y1="177.4" x2="576.4" y2="179.2" stroke="#4d4d4d" stroke-width="0.7"/>
<text x="576.4" y="368.5" font-size="8.8" text-anchor="middle" fill="#262626" font-weight="normal" >4.8</text>
<line x1="611.9" y1="355.0" x2="611.9" y2="353.2" stroke="#4d4d4d" stroke-width="0.7"/>
<line x1="611.9" y1="177.4" x2="611.9" y2="179.2" stroke="#4d4d4d" stroke-width="0.7"/>
<text x="611.9" y="368.5" font-size="8.8" text-anchor="middle" fill="#262626" font-weight="normal" >5.2</text>
<line x1="647.4" y1="355.0" x2="647.4" y2="353.2" stroke="#4d4d4d" stroke-width="0.7"/>
<line x1="647.4" y1="177.4" x2="647.4" y2="179.2" stroke="#4d4d4d" stroke-width="0.7"/>
<text x="647.4" y="368.5" font-size="8.8" text-anchor="middle" fill="#262626" font-weight="normal" >5.6</text>
<text x="682.9" y="368.5" font-size="8.8" text-anchor="middle" fill="#262626" font-weight="normal" >6</text>
<line x1="558.4" y1="211.8" x2="560.2" y2="211.8" stroke="#4d4d4d" stroke-width="0.7"/>
<line x1="682.6" y1="211.8" x2="680.8" y2="211.8" stroke="#4d4d4d" stroke-width="0.7"/>
<line x1="558.4" y1="248.1" x2="560.2" y2="248.1" stroke="#4d4d4d" stroke-width="0.7"/>
<line x1="682.6" y1="248.1" x2="680.8" y2="248.1" stroke="#4d4d4d" stroke-width="0.7"/>
<line x1="558.4" y1="284.2" x2="560.2" y2="284.2" stroke="#4d4d4d" stroke-width="0.7"/>
<line x1="682.6" y1="284.2" x2="680.8" y2="284.2" stroke="#4d4d4d" stroke-width="0.7"/>
<line x1="558.4" y1="319.7" x2="560.2" y2="319.7" stroke="#4d4d4d" stroke-width="0.7"/>
<line x1="682.6" y1="319.7" x2="680.8" y2="319.7" stroke="#4d4d4d" stroke-width="0.7"/>
<text x="620.6" y="379.6" font-size="12" text-anchor="middle" fill="#262626"><tspan font-family="Liberation Serif" font-style="italic">&#950;</tspan><tspan font-size="8.5" dy="4.6">0</tspan></text>
<rect x="663.6" y="183.3" width="9" height="104.5" fill="url(#fCB)" stroke="#505050" stroke-width="0.6"/>
<text x="662.0" y="187.7" font-size="8.6" text-anchor="end" fill="#262626" font-family="Liberation Serif">-1.4</text>
<line x1="663.6" y1="184.8" x2="665.2" y2="184.8" stroke="#404040" stroke-width="0.6"/>
<line x1="671" y1="184.8" x2="672.6" y2="184.8" stroke="#404040" stroke-width="0.6"/>
<text x="662.0" y="239.4" font-size="8.6" text-anchor="end" fill="#262626" font-family="Liberation Serif">-1.3</text>
<line x1="663.6" y1="236.5" x2="665.2" y2="236.5" stroke="#404040" stroke-width="0.6"/>
<line x1="671" y1="236.5" x2="672.6" y2="236.5" stroke="#404040" stroke-width="0.6"/>
<text x="662.0" y="291.5" font-size="8.6" text-anchor="end" fill="#262626" font-family="Liberation Serif">-1.2</text>
<line x1="663.6" y1="288.6" x2="665.2" y2="288.6" stroke="#404040" stroke-width="0.6"/>
<line x1="671" y1="288.6" x2="672.6" y2="288.6" stroke="#404040" stroke-width="0.6"/>
<text transform="translate(642.1,233.2) rotate(-90)" font-size="9.8" text-anchor="middle" fill="#262626" textLength="50.6" lengthAdjust="spacingAndGlyphs">Desynch. <tspan font-family="Liberation Serif" font-style="italic" font-size="10.5">dz</tspan></text>
</svg>
</body></html>
